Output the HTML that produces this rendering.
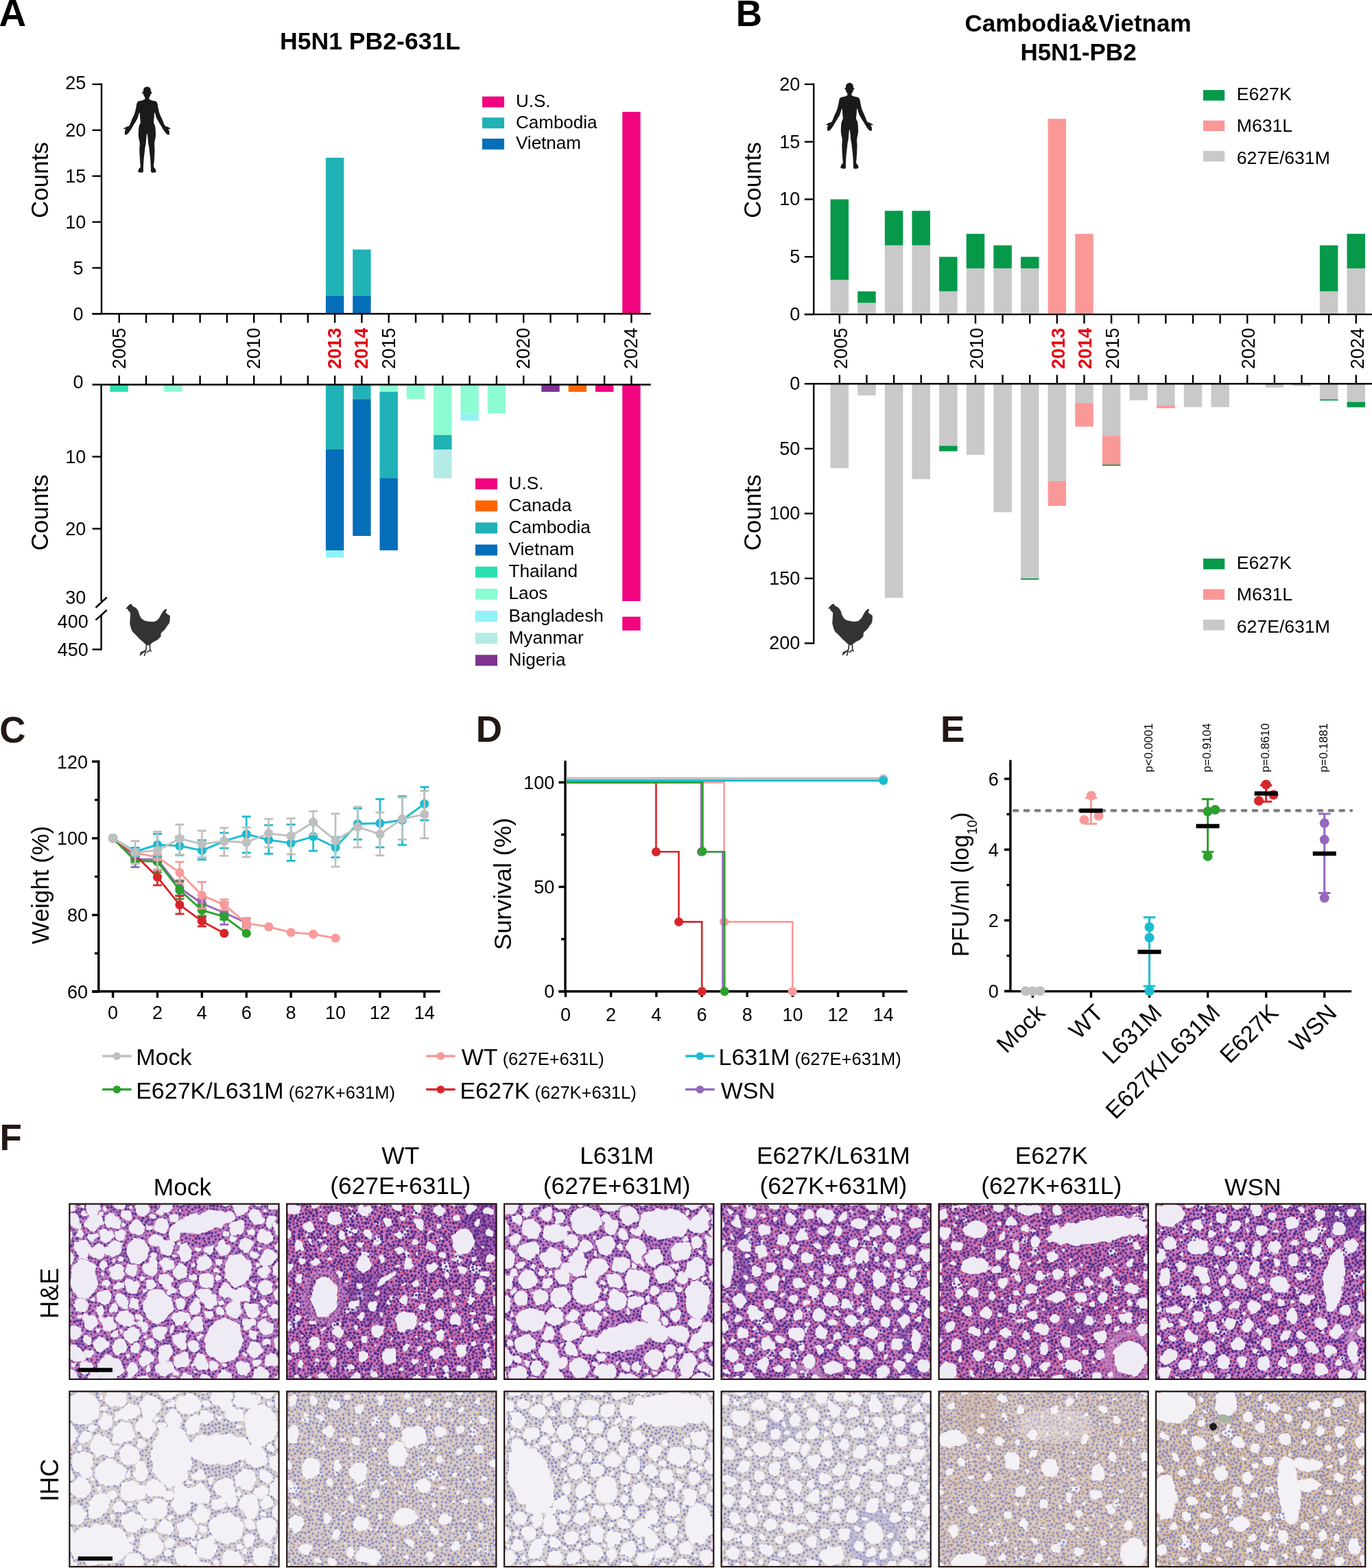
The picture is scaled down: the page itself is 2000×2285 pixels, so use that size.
<!DOCTYPE html>
<html><head><meta charset="utf-8"><title>H5N1 PB2 figure</title><style>html,body{margin:0;padding:0;background:#fff;}svg{display:block;}</style></head><body>
<svg width="2000" height="2285" viewBox="0 0 2000 2285" font-family='"Liberation Sans", Arial, Helvetica, sans-serif'><defs><filter id="ovblur" x="-10%" y="-10%" width="120%" height="120%"><feGaussianBlur stdDeviation="2.5"/></filter><filter id="tx00" x="0" y="0" width="1" height="1" color-interpolation-filters="sRGB"><feTurbulence type="turbulence" baseFrequency="0.05" numOctaves="1" seed="11" result="t"/><feTurbulence type="fractalNoise" baseFrequency="0.12" numOctaves="2" seed="18" result="dq"/><feDisplacementMap in="t" in2="dq" scale="10" xChannelSelector="R" yChannelSelector="G" result="t"/><feColorMatrix in="t" type="matrix" values="0 0 0 0 0 0 0 0 0 0 0 0 0 0 0 1 0 0 0 0" result="ta"/><feTurbulence type="fractalNoise" baseFrequency="0.01" numOctaves="2" seed="41" result="d"/><feColorMatrix in="d" type="matrix" values="0 0 0 0 0 0 0 0 0 0 0 0 0 0 0 1 0 0 0 0" result="da"/><feComposite in="ta" in2="da" operator="arithmetic" k1="0" k2="-20" k3="0" k4="12" result="m"/><feFlood flood-color="#C07EC2" result="tc"/><feComposite in="tc" in2="m" operator="in" result="tis"/><feTurbulence type="fractalNoise" baseFrequency="0.28" numOctaves="1" seed="111" result="n2"/><feColorMatrix in="n2" type="matrix" values="0 0 0 0 0 0 0 0 0 0 0 0 0 0 0 12 0 0 0 -6.48" result="a2"/><feFlood flood-color="#52308F" result="nc"/><feComposite in="nc" in2="a2" operator="in" result="nu0"/><feComposite in="nu0" in2="m" operator="in" result="nu"/><feColorMatrix in="n2" type="matrix" values="0 0 0 0 0 0 0 0 0 0 0 0 0 0 0 0 -12 0 0 4.8" result="a3"/><feFlood flood-color="#DC5A84" result="rc"/><feComposite in="rc" in2="a3" operator="in" result="rc0"/><feComposite in="rc0" in2="m" operator="in" result="rcm"/><feFlood flood-color="#EFEBF5" result="bg"/><feMerge><feMergeNode in="bg"/><feMergeNode in="tis"/><feMergeNode in="rcm"/></feMerge></filter><clipPath id="cl00"><rect x="100.3" y="1753.4" width="307.3" height="257.6"/></clipPath><pattern id="np00" width="64" height="64" patternUnits="userSpaceOnUse" x="100.3" y="1753.4"><circle cx="38.3" cy="22.1" r="1.4" fill="#52308F"/><circle cx="22.2" cy="52.7" r="1.8" fill="#52308F"/><circle cx="37.1" cy="10.3" r="1.8" fill="#52308F"/><circle cx="23.6" cy="8.9" r="1.6" fill="#52308F"/><circle cx="6.0" cy="55.6" r="1.9" fill="#52308F"/><circle cx="33.0" cy="49.4" r="2.0" fill="#52308F"/><circle cx="19.0" cy="56.7" r="1.9" fill="#52308F"/><circle cx="61.3" cy="17.6" r="1.7" fill="#52308F"/><circle cx="4.2" cy="51.5" r="2.0" fill="#52308F"/><circle cx="51.8" cy="24.1" r="2.2" fill="#52308F"/><circle cx="48.1" cy="52.1" r="1.4" fill="#52308F"/><circle cx="52.7" cy="61.1" r="2.1" fill="#52308F"/><circle cx="28.4" cy="39.6" r="1.6" fill="#52308F"/><circle cx="12.6" cy="57.1" r="2.0" fill="#52308F"/><circle cx="56.1" cy="15.2" r="1.8" fill="#52308F"/><circle cx="52.5" cy="9.0" r="1.9" fill="#52308F"/><circle cx="29.1" cy="15.3" r="2.1" fill="#52308F"/><circle cx="42.1" cy="25.7" r="2.1" fill="#52308F"/><circle cx="62.5" cy="5.7" r="2.3" fill="#52308F"/><circle cx="17.2" cy="27.6" r="1.6" fill="#52308F"/><circle cx="3.4" cy="36.2" r="1.5" fill="#52308F"/><circle cx="38.2" cy="59.9" r="2.1" fill="#52308F"/><circle cx="11.3" cy="12.4" r="2.2" fill="#52308F"/><circle cx="33.1" cy="63.6" r="1.7" fill="#52308F"/><circle cx="5.6" cy="31.6" r="1.9" fill="#52308F"/><circle cx="24.3" cy="63.5" r="2.0" fill="#52308F"/><circle cx="11.9" cy="0.3" r="1.5" fill="#52308F"/><circle cx="9.7" cy="7.8" r="1.5" fill="#52308F"/><circle cx="49.9" cy="19.8" r="1.7" fill="#52308F"/><circle cx="25.3" cy="28.6" r="1.7" fill="#52308F"/><circle cx="33.3" cy="36.7" r="1.7" fill="#52308F"/><circle cx="32.2" cy="9.9" r="1.6" fill="#52308F"/><circle cx="21.1" cy="21.7" r="1.7" fill="#52308F"/><circle cx="32.8" cy="44.3" r="1.9" fill="#52308F"/><circle cx="12.1" cy="51.4" r="2.2" fill="#52308F"/><circle cx="41.6" cy="36.3" r="1.7" fill="#52308F"/><circle cx="39.4" cy="16.9" r="1.7" fill="#52308F"/><circle cx="6.9" cy="38.9" r="1.6" fill="#52308F"/><circle cx="26.8" cy="35.3" r="1.6" fill="#52308F"/><circle cx="12.4" cy="43.1" r="2.2" fill="#52308F"/><circle cx="21.5" cy="48.2" r="1.5" fill="#52308F"/><circle cx="6.2" cy="12.9" r="1.5" fill="#52308F"/><circle cx="8.3" cy="44.8" r="2.2" fill="#52308F"/><circle cx="47.3" cy="12.6" r="1.9" fill="#52308F"/><circle cx="60.5" cy="43.2" r="1.9" fill="#52308F"/><circle cx="5.7" cy="21.7" r="1.6" fill="#52308F"/><circle cx="63.3" cy="58.9" r="2.0" fill="#52308F"/><circle cx="53.1" cy="31.6" r="1.5" fill="#52308F"/><circle cx="62.8" cy="51.2" r="2.2" fill="#52308F"/><circle cx="14.4" cy="38.5" r="1.6" fill="#52308F"/><circle cx="44.0" cy="21.7" r="2.2" fill="#52308F"/><circle cx="30.3" cy="25.7" r="1.6" fill="#52308F"/><circle cx="19.1" cy="3.6" r="2.3" fill="#52308F"/><circle cx="0.0" cy="40.1" r="1.5" fill="#52308F"/><circle cx="48.4" cy="1.8" r="1.9" fill="#52308F"/><circle cx="34.8" cy="28.9" r="1.8" fill="#52308F"/><circle cx="61.7" cy="1.3" r="2.0" fill="#52308F"/><circle cx="12.7" cy="27.9" r="1.8" fill="#52308F"/><circle cx="46.1" cy="36.8" r="1.6" fill="#52308F"/><circle cx="17.0" cy="19.3" r="2.3" fill="#52308F"/><circle cx="26.0" cy="46.5" r="2.1" fill="#52308F"/><circle cx="50.4" cy="40.3" r="1.8" fill="#52308F"/><circle cx="57.4" cy="57.4" r="2.1" fill="#52308F"/><circle cx="45.4" cy="42.6" r="1.5" fill="#52308F"/><circle cx="57.2" cy="30.0" r="1.8" fill="#52308F"/><circle cx="14.4" cy="8.7" r="1.4" fill="#52308F"/><circle cx="3.7" cy="62.2" r="2.1" fill="#52308F"/><circle cx="45.9" cy="17.2" r="2.1" fill="#52308F"/><circle cx="46.5" cy="31.8" r="2.1" fill="#52308F"/><circle cx="28.5" cy="53.4" r="2.1" fill="#52308F"/><circle cx="30.3" cy="4.8" r="1.7" fill="#52308F"/><circle cx="46.0" cy="5.6" r="1.9" fill="#52308F"/><circle cx="20.8" cy="13.9" r="1.9" fill="#52308F"/><circle cx="61.6" cy="22.9" r="1.9" fill="#52308F"/><circle cx="56.4" cy="39.7" r="1.9" fill="#52308F"/><circle cx="54.2" cy="47.2" r="1.4" fill="#52308F"/><circle cx="2.0" cy="9.5" r="1.9" fill="#52308F"/><circle cx="42.1" cy="56.9" r="1.6" fill="#52308F"/><circle cx="16.5" cy="61.1" r="2.2" fill="#52308F"/><circle cx="37.0" cy="47.3" r="1.7" fill="#52308F"/><circle cx="16.9" cy="43.3" r="2.0" fill="#52308F"/><circle cx="61.7" cy="11.4" r="1.5" fill="#52308F"/><circle cx="43.0" cy="1.2" r="1.7" fill="#52308F"/><circle cx="17.3" cy="34.7" r="1.9" fill="#52308F"/><circle cx="43.4" cy="9.3" r="1.5" fill="#52308F"/><circle cx="1.0" cy="26.0" r="2.0" fill="#52308F"/><circle cx="46.6" cy="58.3" r="1.9" fill="#52308F"/><circle cx="22.2" cy="42.5" r="1.5" fill="#52308F"/><circle cx="61.7" cy="36.1" r="1.5" fill="#52308F"/><circle cx="39.2" cy="40.3" r="1.9" fill="#52308F"/><circle cx="5.3" cy="5.6" r="1.4" fill="#52308F"/><circle cx="2.5" cy="44.3" r="1.7" fill="#52308F"/><circle cx="11.7" cy="21.6" r="1.5" fill="#52308F"/><circle cx="27.4" cy="58.2" r="2.2" fill="#52308F"/><circle cx="25.7" cy="22.6" r="1.7" fill="#52308F"/><circle cx="36.7" cy="53.8" r="1.7" fill="#52308F"/><circle cx="39.2" cy="3.7" r="1.9" fill="#52308F"/><circle cx="24.6" cy="4.3" r="1.9" fill="#52308F"/><circle cx="43.1" cy="51.0" r="2.1" fill="#52308F"/><circle cx="40.2" cy="31.4" r="1.4" fill="#52308F"/><circle cx="31.3" cy="21.3" r="1.8" fill="#52308F"/><circle cx="8.8" cy="25.6" r="2.2" fill="#52308F"/><circle cx="53.1" cy="54.4" r="1.7" fill="#52308F"/><circle cx="32.0" cy="58.3" r="1.6" fill="#52308F"/><circle cx="56.7" cy="20.7" r="1.6" fill="#52308F"/><circle cx="7.9" cy="60.3" r="1.8" fill="#52308F"/><circle cx="1.2" cy="14.6" r="1.4" fill="#52308F"/><circle cx="33.9" cy="15.7" r="2.2" fill="#52308F"/><circle cx="51.4" cy="15.3" r="1.5" fill="#52308F"/><circle cx="57.6" cy="51.4" r="2.1" fill="#52308F"/><circle cx="49.0" cy="46.8" r="1.4" fill="#52308F"/><circle cx="21.9" cy="36.6" r="1.6" fill="#52308F"/><circle cx="1.5" cy="19.7" r="2.2" fill="#52308F"/><circle cx="16.5" cy="48.0" r="2.0" fill="#52308F"/><circle cx="11.0" cy="32.7" r="1.6" fill="#52308F"/><circle cx="13.5" cy="16.5" r="1.7" fill="#52308F"/><circle cx="55.6" cy="1.9" r="1.5" fill="#52308F"/><circle cx="53.6" cy="36.3" r="2.0" fill="#52308F"/><circle cx="1.1" cy="31.0" r="1.7" fill="#52308F"/><circle cx="48.7" cy="27.4" r="2.1" fill="#52308F"/><circle cx="18.9" cy="8.9" r="2.2" fill="#52308F"/><circle cx="56.7" cy="6.3" r="2.1" fill="#52308F"/><circle cx="60.1" cy="47.6" r="1.9" fill="#52308F"/><circle cx="41.0" cy="44.9" r="1.8" fill="#52308F"/><circle cx="20.7" cy="31.8" r="2.2" fill="#52308F"/><circle cx="30.3" cy="32.2" r="2.2" fill="#52308F"/><circle cx="8.6" cy="17.2" r="1.9" fill="#52308F"/><circle cx="35.2" cy="5.5" r="2.3" fill="#52308F"/><circle cx="24.2" cy="18.3" r="2.1" fill="#52308F"/><circle cx="57.8" cy="25.1" r="2.1" fill="#52308F"/><circle cx="16.0" cy="12.9" r="1.9" fill="#52308F"/><circle cx="14.6" cy="3.9" r="1.8" fill="#52308F"/></pattern><filter id="hf00" x="-5%" y="-5%" width="110%" height="110%"><feTurbulence type="fractalNoise" baseFrequency="0.08" numOctaves="2" seed="70" result="hn"/><feDisplacementMap in="SourceGraphic" in2="hn" scale="10" xChannelSelector="R" yChannelSelector="G"/></filter><filter id="tx01" x="0" y="0" width="1" height="1" color-interpolation-filters="sRGB"><feTurbulence type="turbulence" baseFrequency="0.05" numOctaves="1" seed="12" result="t"/><feTurbulence type="fractalNoise" baseFrequency="0.12" numOctaves="2" seed="19" result="dq"/><feDisplacementMap in="t" in2="dq" scale="10" xChannelSelector="R" yChannelSelector="G" result="t"/><feColorMatrix in="t" type="matrix" values="0 0 0 0 0 0 0 0 0 0 0 0 0 0 0 1 0 0 0 0" result="ta"/><feTurbulence type="fractalNoise" baseFrequency="0.01" numOctaves="2" seed="42" result="d"/><feColorMatrix in="d" type="matrix" values="0 0 0 0 0 0 0 0 0 0 0 0 0 0 0 1 0 0 0 0" result="da"/><feComposite in="ta" in2="da" operator="arithmetic" k1="0" k2="-20" k3="4" k4="7.2" result="m"/><feFlood flood-color="#C27CC0" result="tc"/><feComposite in="tc" in2="m" operator="in" result="tis"/><feTurbulence type="fractalNoise" baseFrequency="0.28" numOctaves="1" seed="112" result="n2"/><feColorMatrix in="n2" type="matrix" values="0 0 0 0 0 0 0 0 0 0 0 0 0 0 0 12 0 0 0 -6.18" result="a2"/><feFlood flood-color="#52308F" result="nc"/><feComposite in="nc" in2="a2" operator="in" result="nu0"/><feComposite in="nu0" in2="m" operator="in" result="nu"/><feColorMatrix in="n2" type="matrix" values="0 0 0 0 0 0 0 0 0 0 0 0 0 0 0 0 -12 0 0 5.64" result="a3"/><feFlood flood-color="#DC5A84" result="rc"/><feComposite in="rc" in2="a3" operator="in" result="rc0"/><feComposite in="rc0" in2="m" operator="in" result="rcm"/><feFlood flood-color="#EFEBF5" result="bg"/><feMerge><feMergeNode in="bg"/><feMergeNode in="tis"/><feMergeNode in="rcm"/></feMerge></filter><clipPath id="cl01"><rect x="417.1" y="1753.4" width="307.3" height="257.6"/></clipPath><pattern id="np01" width="64" height="64" patternUnits="userSpaceOnUse" x="417.1" y="1753.4"><circle cx="25.5" cy="51.2" r="1.9" fill="#4C2A88"/><circle cx="29.4" cy="15.1" r="2.1" fill="#4C2A88"/><circle cx="16.3" cy="62.2" r="1.7" fill="#4C2A88"/><circle cx="61.6" cy="6.1" r="1.9" fill="#4C2A88"/><circle cx="35.4" cy="60.8" r="2.3" fill="#4C2A88"/><circle cx="19.8" cy="40.5" r="2.3" fill="#4C2A88"/><circle cx="11.2" cy="52.3" r="2.2" fill="#4C2A88"/><circle cx="61.7" cy="14.1" r="2.2" fill="#4C2A88"/><circle cx="29.3" cy="61.2" r="2.2" fill="#4C2A88"/><circle cx="1.1" cy="60.3" r="2.2" fill="#4C2A88"/><circle cx="10.4" cy="60.2" r="2.0" fill="#4C2A88"/><circle cx="1.5" cy="51.9" r="1.8" fill="#4C2A88"/><circle cx="4.6" cy="10.6" r="1.6" fill="#4C2A88"/><circle cx="58.8" cy="24.6" r="1.6" fill="#4C2A88"/><circle cx="0.2" cy="45.2" r="1.6" fill="#4C2A88"/><circle cx="36.4" cy="36.6" r="1.8" fill="#4C2A88"/><circle cx="57.8" cy="19.8" r="1.6" fill="#4C2A88"/><circle cx="37.0" cy="55.4" r="2.4" fill="#4C2A88"/><circle cx="24.3" cy="15.3" r="1.9" fill="#4C2A88"/><circle cx="6.9" cy="38.3" r="1.7" fill="#4C2A88"/><circle cx="19.0" cy="50.4" r="2.3" fill="#4C2A88"/><circle cx="39.7" cy="18.1" r="2.4" fill="#4C2A88"/><circle cx="20.7" cy="10.3" r="1.8" fill="#4C2A88"/><circle cx="8.2" cy="44.6" r="1.7" fill="#4C2A88"/><circle cx="55.3" cy="41.6" r="2.3" fill="#4C2A88"/><circle cx="42.8" cy="3.8" r="2.2" fill="#4C2A88"/><circle cx="1.8" cy="26.5" r="2.3" fill="#4C2A88"/><circle cx="32.7" cy="49.5" r="1.9" fill="#4C2A88"/><circle cx="30.7" cy="22.6" r="2.2" fill="#4C2A88"/><circle cx="32.9" cy="26.5" r="2.4" fill="#4C2A88"/><circle cx="39.0" cy="32.3" r="1.5" fill="#4C2A88"/><circle cx="15.0" cy="18.7" r="2.1" fill="#4C2A88"/><circle cx="20.2" cy="21.5" r="1.6" fill="#4C2A88"/><circle cx="1.8" cy="16.0" r="1.7" fill="#4C2A88"/><circle cx="17.2" cy="55.1" r="1.6" fill="#4C2A88"/><circle cx="61.1" cy="30.7" r="1.9" fill="#4C2A88"/><circle cx="10.5" cy="30.6" r="1.7" fill="#4C2A88"/><circle cx="44.8" cy="14.5" r="2.3" fill="#4C2A88"/><circle cx="43.1" cy="34.5" r="2.0" fill="#4C2A88"/><circle cx="9.3" cy="7.1" r="1.9" fill="#4C2A88"/><circle cx="50.5" cy="19.5" r="1.8" fill="#4C2A88"/><circle cx="11.5" cy="41.9" r="2.3" fill="#4C2A88"/><circle cx="20.7" cy="59.4" r="2.2" fill="#4C2A88"/><circle cx="53.6" cy="35.5" r="2.0" fill="#4C2A88"/><circle cx="11.0" cy="13.3" r="2.1" fill="#4C2A88"/><circle cx="53.5" cy="23.3" r="2.2" fill="#4C2A88"/><circle cx="32.8" cy="11.3" r="1.6" fill="#4C2A88"/><circle cx="51.9" cy="29.1" r="2.4" fill="#4C2A88"/><circle cx="56.5" cy="49.9" r="2.4" fill="#4C2A88"/><circle cx="24.1" cy="4.0" r="1.6" fill="#4C2A88"/><circle cx="52.3" cy="50.9" r="2.2" fill="#4C2A88"/><circle cx="25.8" cy="34.2" r="1.7" fill="#4C2A88"/><circle cx="10.9" cy="48.1" r="2.3" fill="#4C2A88"/><circle cx="60.5" cy="42.0" r="2.1" fill="#4C2A88"/><circle cx="24.3" cy="39.9" r="2.0" fill="#4C2A88"/><circle cx="32.0" cy="38.5" r="1.6" fill="#4C2A88"/><circle cx="18.7" cy="46.1" r="2.0" fill="#4C2A88"/><circle cx="5.7" cy="28.3" r="2.1" fill="#4C2A88"/><circle cx="55.8" cy="13.5" r="1.6" fill="#4C2A88"/><circle cx="37.6" cy="45.6" r="2.4" fill="#4C2A88"/><circle cx="0.7" cy="37.3" r="2.2" fill="#4C2A88"/><circle cx="55.8" cy="56.6" r="1.9" fill="#4C2A88"/><circle cx="54.4" cy="63.8" r="1.9" fill="#4C2A88"/><circle cx="42.6" cy="53.2" r="1.9" fill="#4C2A88"/><circle cx="27.8" cy="56.4" r="1.6" fill="#4C2A88"/><circle cx="39.2" cy="23.0" r="1.8" fill="#4C2A88"/><circle cx="27.1" cy="26.3" r="1.9" fill="#4C2A88"/><circle cx="48.9" cy="40.6" r="2.1" fill="#4C2A88"/><circle cx="16.8" cy="33.2" r="2.0" fill="#4C2A88"/><circle cx="46.8" cy="49.6" r="2.1" fill="#4C2A88"/><circle cx="6.0" cy="55.6" r="1.7" fill="#4C2A88"/><circle cx="59.4" cy="34.8" r="1.9" fill="#4C2A88"/><circle cx="12.8" cy="22.3" r="2.2" fill="#4C2A88"/><circle cx="29.0" cy="42.1" r="1.9" fill="#4C2A88"/><circle cx="15.5" cy="29.2" r="1.7" fill="#4C2A88"/><circle cx="47.2" cy="28.2" r="1.6" fill="#4C2A88"/><circle cx="38.8" cy="10.2" r="1.5" fill="#4C2A88"/><circle cx="56.2" cy="6.4" r="2.1" fill="#4C2A88"/><circle cx="47.9" cy="34.1" r="1.5" fill="#4C2A88"/><circle cx="40.9" cy="49.4" r="2.0" fill="#4C2A88"/><circle cx="5.0" cy="33.6" r="2.0" fill="#4C2A88"/><circle cx="33.4" cy="42.8" r="2.1" fill="#4C2A88"/><circle cx="50.1" cy="0.8" r="1.6" fill="#4C2A88"/><circle cx="2.2" cy="5.6" r="2.2" fill="#4C2A88"/><circle cx="10.9" cy="2.6" r="1.6" fill="#4C2A88"/><circle cx="6.6" cy="0.8" r="1.5" fill="#4C2A88"/><circle cx="15.9" cy="2.7" r="2.1" fill="#4C2A88"/><circle cx="44.4" cy="18.8" r="1.5" fill="#4C2A88"/><circle cx="50.3" cy="12.3" r="1.5" fill="#4C2A88"/><circle cx="23.8" cy="62.8" r="2.3" fill="#4C2A88"/><circle cx="30.9" cy="5.1" r="2.2" fill="#4C2A88"/><circle cx="6.3" cy="22.8" r="2.3" fill="#4C2A88"/><circle cx="40.6" cy="41.6" r="1.9" fill="#4C2A88"/><circle cx="21.6" cy="26.9" r="1.7" fill="#4C2A88"/><circle cx="46.7" cy="56.3" r="1.7" fill="#4C2A88"/><circle cx="49.9" cy="45.4" r="2.0" fill="#4C2A88"/><circle cx="21.7" cy="31.6" r="1.6" fill="#4C2A88"/><circle cx="25.3" cy="20.4" r="1.9" fill="#4C2A88"/><circle cx="48.1" cy="60.9" r="2.3" fill="#4C2A88"/><circle cx="36.0" cy="3.9" r="2.1" fill="#4C2A88"/><circle cx="19.6" cy="4.9" r="1.6" fill="#4C2A88"/><circle cx="28.7" cy="9.5" r="1.9" fill="#4C2A88"/><circle cx="41.3" cy="28.2" r="1.8" fill="#4C2A88"/><circle cx="12.3" cy="35.4" r="1.8" fill="#4C2A88"/><circle cx="15.7" cy="8.3" r="1.9" fill="#4C2A88"/><circle cx="63.9" cy="22.1" r="1.7" fill="#4C2A88"/><circle cx="45.3" cy="45.4" r="1.7" fill="#4C2A88"/><circle cx="45.7" cy="23.8" r="1.6" fill="#4C2A88"/><circle cx="58.5" cy="46.0" r="2.1" fill="#4C2A88"/><circle cx="8.0" cy="18.6" r="2.2" fill="#4C2A88"/><circle cx="34.0" cy="32.6" r="2.4" fill="#4C2A88"/><circle cx="43.7" cy="10.2" r="2.2" fill="#4C2A88"/><circle cx="58.9" cy="0.9" r="1.9" fill="#4C2A88"/><circle cx="4.5" cy="42.1" r="1.6" fill="#4C2A88"/><circle cx="61.4" cy="54.8" r="2.4" fill="#4C2A88"/><circle cx="20.0" cy="16.4" r="1.8" fill="#4C2A88"/><circle cx="49.9" cy="5.4" r="1.5" fill="#4C2A88"/><circle cx="40.2" cy="63.0" r="2.3" fill="#4C2A88"/><circle cx="23.0" cy="45.2" r="2.1" fill="#4C2A88"/><circle cx="58.9" cy="10.6" r="1.6" fill="#4C2A88"/><circle cx="17.2" cy="24.8" r="2.2" fill="#4C2A88"/><circle cx="6.6" cy="49.5" r="1.6" fill="#4C2A88"/><circle cx="0.4" cy="9.4" r="1.8" fill="#4C2A88"/><circle cx="31.9" cy="55.4" r="1.7" fill="#4C2A88"/><circle cx="51.4" cy="57.8" r="1.5" fill="#4C2A88"/><circle cx="59.4" cy="60.2" r="2.0" fill="#4C2A88"/><circle cx="29.8" cy="31.7" r="2.1" fill="#4C2A88"/><circle cx="1.3" cy="0.7" r="1.8" fill="#4C2A88"/><circle cx="6.0" cy="60.2" r="1.8" fill="#4C2A88"/><circle cx="33.4" cy="19.2" r="1.7" fill="#4C2A88"/><circle cx="56.1" cy="28.5" r="1.8" fill="#4C2A88"/><circle cx="21.5" cy="36.5" r="1.6" fill="#4C2A88"/><circle cx="12.9" cy="56.5" r="2.0" fill="#4C2A88"/><circle cx="16.7" cy="13.5" r="2.1" fill="#4C2A88"/><circle cx="45.0" cy="38.4" r="1.5" fill="#4C2A88"/><circle cx="10.5" cy="26.1" r="1.6" fill="#4C2A88"/><circle cx="27.3" cy="1.2" r="2.0" fill="#4C2A88"/><circle cx="33.0" cy="0.8" r="1.6" fill="#4C2A88"/><circle cx="36.8" cy="50.4" r="1.9" fill="#4C2A88"/><circle cx="36.0" cy="14.2" r="2.4" fill="#4C2A88"/></pattern><filter id="hf01" x="-5%" y="-5%" width="110%" height="110%"><feTurbulence type="fractalNoise" baseFrequency="0.08" numOctaves="2" seed="71" result="hn"/><feDisplacementMap in="SourceGraphic" in2="hn" scale="10" xChannelSelector="R" yChannelSelector="G"/></filter><filter id="tx02" x="0" y="0" width="1" height="1" color-interpolation-filters="sRGB"><feTurbulence type="turbulence" baseFrequency="0.05" numOctaves="1" seed="13" result="t"/><feTurbulence type="fractalNoise" baseFrequency="0.12" numOctaves="2" seed="20" result="dq"/><feDisplacementMap in="t" in2="dq" scale="10" xChannelSelector="R" yChannelSelector="G" result="t"/><feColorMatrix in="t" type="matrix" values="0 0 0 0 0 0 0 0 0 0 0 0 0 0 0 1 0 0 0 0" result="ta"/><feTurbulence type="fractalNoise" baseFrequency="0.01" numOctaves="2" seed="43" result="d"/><feColorMatrix in="d" type="matrix" values="0 0 0 0 0 0 0 0 0 0 0 0 0 0 0 1 0 0 0 0" result="da"/><feComposite in="ta" in2="da" operator="arithmetic" k1="0" k2="-20" k3="0" k4="12" result="m"/><feFlood flood-color="#C07EC2" result="tc"/><feComposite in="tc" in2="m" operator="in" result="tis"/><feTurbulence type="fractalNoise" baseFrequency="0.28" numOctaves="1" seed="113" result="n2"/><feColorMatrix in="n2" type="matrix" values="0 0 0 0 0 0 0 0 0 0 0 0 0 0 0 12 0 0 0 -6.48" result="a2"/><feFlood flood-color="#52308F" result="nc"/><feComposite in="nc" in2="a2" operator="in" result="nu0"/><feComposite in="nu0" in2="m" operator="in" result="nu"/><feColorMatrix in="n2" type="matrix" values="0 0 0 0 0 0 0 0 0 0 0 0 0 0 0 0 -12 0 0 4.8" result="a3"/><feFlood flood-color="#DC5A84" result="rc"/><feComposite in="rc" in2="a3" operator="in" result="rc0"/><feComposite in="rc0" in2="m" operator="in" result="rcm"/><feFlood flood-color="#EFEBF5" result="bg"/><feMerge><feMergeNode in="bg"/><feMergeNode in="tis"/><feMergeNode in="rcm"/></feMerge></filter><clipPath id="cl02"><rect x="734" y="1753.4" width="307.3" height="257.6"/></clipPath><pattern id="np02" width="64" height="64" patternUnits="userSpaceOnUse" x="734" y="1753.4"><circle cx="61.8" cy="34.5" r="1.9" fill="#52308F"/><circle cx="30.4" cy="12.1" r="1.4" fill="#52308F"/><circle cx="25.5" cy="32.2" r="2.1" fill="#52308F"/><circle cx="21.7" cy="62.1" r="1.5" fill="#52308F"/><circle cx="42.1" cy="1.8" r="1.6" fill="#52308F"/><circle cx="8.2" cy="62.6" r="2.0" fill="#52308F"/><circle cx="35.5" cy="55.2" r="2.3" fill="#52308F"/><circle cx="24.1" cy="55.2" r="1.7" fill="#52308F"/><circle cx="45.1" cy="53.0" r="1.7" fill="#52308F"/><circle cx="42.0" cy="46.7" r="1.5" fill="#52308F"/><circle cx="48.8" cy="12.5" r="1.7" fill="#52308F"/><circle cx="15.4" cy="18.2" r="2.2" fill="#52308F"/><circle cx="8.8" cy="15.9" r="1.4" fill="#52308F"/><circle cx="30.3" cy="60.8" r="1.9" fill="#52308F"/><circle cx="3.8" cy="14.3" r="2.3" fill="#52308F"/><circle cx="44.6" cy="59.5" r="2.1" fill="#52308F"/><circle cx="16.7" cy="12.2" r="2.0" fill="#52308F"/><circle cx="9.1" cy="31.0" r="1.9" fill="#52308F"/><circle cx="16.2" cy="62.2" r="1.5" fill="#52308F"/><circle cx="59.2" cy="2.6" r="2.3" fill="#52308F"/><circle cx="26.3" cy="9.7" r="2.0" fill="#52308F"/><circle cx="45.3" cy="25.4" r="1.8" fill="#52308F"/><circle cx="42.7" cy="17.5" r="1.7" fill="#52308F"/><circle cx="53.4" cy="28.5" r="2.1" fill="#52308F"/><circle cx="34.9" cy="15.3" r="1.7" fill="#52308F"/><circle cx="35.7" cy="30.2" r="2.0" fill="#52308F"/><circle cx="15.6" cy="55.5" r="2.2" fill="#52308F"/><circle cx="30.5" cy="17.4" r="1.5" fill="#52308F"/><circle cx="39.6" cy="41.9" r="2.3" fill="#52308F"/><circle cx="51.6" cy="35.0" r="2.3" fill="#52308F"/><circle cx="0.9" cy="59.9" r="1.9" fill="#52308F"/><circle cx="29.9" cy="39.4" r="1.7" fill="#52308F"/><circle cx="31.2" cy="48.0" r="1.7" fill="#52308F"/><circle cx="45.0" cy="37.5" r="2.2" fill="#52308F"/><circle cx="54.0" cy="56.0" r="2.1" fill="#52308F"/><circle cx="46.9" cy="30.8" r="1.7" fill="#52308F"/><circle cx="10.9" cy="25.2" r="1.9" fill="#52308F"/><circle cx="57.6" cy="15.3" r="2.2" fill="#52308F"/><circle cx="49.9" cy="22.5" r="2.0" fill="#52308F"/><circle cx="24.5" cy="25.1" r="1.7" fill="#52308F"/><circle cx="29.0" cy="53.4" r="2.1" fill="#52308F"/><circle cx="18.1" cy="42.2" r="1.9" fill="#52308F"/><circle cx="16.4" cy="5.1" r="2.0" fill="#52308F"/><circle cx="40.7" cy="23.4" r="2.2" fill="#52308F"/><circle cx="6.0" cy="42.4" r="1.9" fill="#52308F"/><circle cx="56.5" cy="34.3" r="2.0" fill="#52308F"/><circle cx="9.0" cy="8.3" r="2.0" fill="#52308F"/><circle cx="26.9" cy="20.4" r="1.8" fill="#52308F"/><circle cx="54.5" cy="38.7" r="1.8" fill="#52308F"/><circle cx="37.4" cy="36.9" r="1.4" fill="#52308F"/><circle cx="51.8" cy="44.3" r="2.3" fill="#52308F"/><circle cx="55.7" cy="11.0" r="1.8" fill="#52308F"/><circle cx="4.5" cy="22.1" r="2.0" fill="#52308F"/><circle cx="21.3" cy="11.9" r="1.8" fill="#52308F"/><circle cx="60.4" cy="39.9" r="1.8" fill="#52308F"/><circle cx="38.0" cy="6.3" r="1.7" fill="#52308F"/><circle cx="41.9" cy="11.7" r="2.2" fill="#52308F"/><circle cx="63.0" cy="7.4" r="2.2" fill="#52308F"/><circle cx="9.5" cy="52.4" r="1.8" fill="#52308F"/><circle cx="6.5" cy="36.4" r="2.2" fill="#52308F"/><circle cx="1.0" cy="25.7" r="1.6" fill="#52308F"/><circle cx="40.2" cy="29.7" r="1.6" fill="#52308F"/><circle cx="62.9" cy="18.2" r="1.7" fill="#52308F"/><circle cx="12.5" cy="2.9" r="1.5" fill="#52308F"/><circle cx="39.9" cy="53.6" r="2.3" fill="#52308F"/><circle cx="62.7" cy="46.0" r="2.0" fill="#52308F"/><circle cx="20.5" cy="34.0" r="1.5" fill="#52308F"/><circle cx="14.2" cy="39.9" r="2.2" fill="#52308F"/><circle cx="57.7" cy="60.9" r="1.8" fill="#52308F"/><circle cx="19.6" cy="53.0" r="2.2" fill="#52308F"/><circle cx="32.5" cy="6.2" r="2.1" fill="#52308F"/><circle cx="44.6" cy="6.2" r="2.2" fill="#52308F"/><circle cx="35.5" cy="25.5" r="1.8" fill="#52308F"/><circle cx="47.8" cy="1.0" r="1.5" fill="#52308F"/><circle cx="52.2" cy="7.4" r="1.9" fill="#52308F"/><circle cx="38.4" cy="58.6" r="1.9" fill="#52308F"/><circle cx="54.5" cy="20.1" r="1.4" fill="#52308F"/><circle cx="12.9" cy="34.2" r="1.4" fill="#52308F"/><circle cx="62.7" cy="56.0" r="1.6" fill="#52308F"/><circle cx="20.4" cy="29.2" r="1.7" fill="#52308F"/><circle cx="29.7" cy="2.3" r="1.6" fill="#52308F"/><circle cx="11.1" cy="58.7" r="2.0" fill="#52308F"/><circle cx="5.3" cy="56.4" r="1.6" fill="#52308F"/><circle cx="52.9" cy="2.3" r="1.8" fill="#52308F"/><circle cx="23.3" cy="38.9" r="1.5" fill="#52308F"/><circle cx="9.4" cy="47.0" r="2.1" fill="#52308F"/><circle cx="59.0" cy="22.1" r="1.6" fill="#52308F"/><circle cx="31.7" cy="23.0" r="1.5" fill="#52308F"/><circle cx="31.1" cy="34.0" r="2.1" fill="#52308F"/><circle cx="15.2" cy="46.8" r="1.4" fill="#52308F"/><circle cx="48.6" cy="50.1" r="1.5" fill="#52308F"/><circle cx="37.6" cy="49.6" r="1.8" fill="#52308F"/><circle cx="58.8" cy="51.6" r="2.0" fill="#52308F"/><circle cx="63.1" cy="12.9" r="1.5" fill="#52308F"/><circle cx="24.0" cy="2.0" r="2.1" fill="#52308F"/><circle cx="1.8" cy="50.9" r="2.0" fill="#52308F"/><circle cx="18.3" cy="24.2" r="1.7" fill="#52308F"/><circle cx="1.7" cy="38.1" r="2.0" fill="#52308F"/><circle cx="35.9" cy="2.0" r="1.8" fill="#52308F"/><circle cx="22.5" cy="19.2" r="1.4" fill="#52308F"/><circle cx="22.0" cy="49.1" r="1.9" fill="#52308F"/><circle cx="50.0" cy="60.6" r="1.7" fill="#52308F"/><circle cx="3.0" cy="33.8" r="1.8" fill="#52308F"/><circle cx="62.5" cy="29.4" r="2.1" fill="#52308F"/><circle cx="24.3" cy="45.0" r="2.2" fill="#52308F"/><circle cx="2.4" cy="3.5" r="1.5" fill="#52308F"/><circle cx="20.3" cy="57.7" r="1.6" fill="#52308F"/><circle cx="22.9" cy="6.5" r="1.5" fill="#52308F"/><circle cx="46.8" cy="44.6" r="2.0" fill="#52308F"/><circle cx="32.1" cy="43.6" r="1.8" fill="#52308F"/><circle cx="41.8" cy="34.0" r="2.3" fill="#52308F"/><circle cx="36.7" cy="11.2" r="2.1" fill="#52308F"/><circle cx="15.3" cy="28.6" r="1.9" fill="#52308F"/><circle cx="54.8" cy="48.2" r="2.0" fill="#52308F"/><circle cx="3.1" cy="9.2" r="2.0" fill="#52308F"/><circle cx="49.2" cy="40.4" r="1.6" fill="#52308F"/><circle cx="48.1" cy="17.1" r="1.6" fill="#52308F"/><circle cx="31.8" cy="28.2" r="2.0" fill="#52308F"/><circle cx="14.5" cy="51.2" r="2.0" fill="#52308F"/><circle cx="49.6" cy="54.6" r="1.9" fill="#52308F"/><circle cx="4.1" cy="29.3" r="2.0" fill="#52308F"/><circle cx="34.9" cy="61.5" r="1.8" fill="#52308F"/><circle cx="9.4" cy="20.5" r="1.9" fill="#52308F"/><circle cx="7.8" cy="4.1" r="1.7" fill="#52308F"/><circle cx="4.3" cy="47.1" r="1.8" fill="#52308F"/><circle cx="36.9" cy="20.1" r="2.1" fill="#52308F"/><circle cx="13.7" cy="8.7" r="2.1" fill="#52308F"/><circle cx="56.6" cy="43.3" r="1.8" fill="#52308F"/><circle cx="58.4" cy="7.2" r="2.2" fill="#52308F"/><circle cx="57.9" cy="27.2" r="1.6" fill="#52308F"/><circle cx="53.0" cy="15.4" r="2.0" fill="#52308F"/><circle cx="25.2" cy="14.9" r="2.2" fill="#52308F"/><circle cx="25.9" cy="60.1" r="1.5" fill="#52308F"/><circle cx="63.1" cy="0.4" r="2.2" fill="#52308F"/></pattern><filter id="hf02" x="-5%" y="-5%" width="110%" height="110%"><feTurbulence type="fractalNoise" baseFrequency="0.08" numOctaves="2" seed="72" result="hn"/><feDisplacementMap in="SourceGraphic" in2="hn" scale="10" xChannelSelector="R" yChannelSelector="G"/></filter><filter id="tx03" x="0" y="0" width="1" height="1" color-interpolation-filters="sRGB"><feTurbulence type="turbulence" baseFrequency="0.06" numOctaves="1" seed="14" result="t"/><feTurbulence type="fractalNoise" baseFrequency="0.15" numOctaves="2" seed="21" result="dq"/><feDisplacementMap in="t" in2="dq" scale="10" xChannelSelector="R" yChannelSelector="G" result="t"/><feColorMatrix in="t" type="matrix" values="0 0 0 0 0 0 0 0 0 0 0 0 0 0 0 1 0 0 0 0" result="ta"/><feTurbulence type="fractalNoise" baseFrequency="0.01" numOctaves="2" seed="44" result="d"/><feColorMatrix in="d" type="matrix" values="0 0 0 0 0 0 0 0 0 0 0 0 0 0 0 1 0 0 0 0" result="da"/><feComposite in="ta" in2="da" operator="arithmetic" k1="0" k2="-20" k3="4" k4="7" result="m"/><feFlood flood-color="#C280C4" result="tc"/><feComposite in="tc" in2="m" operator="in" result="tis"/><feTurbulence type="fractalNoise" baseFrequency="0.28" numOctaves="1" seed="114" result="n2"/><feColorMatrix in="n2" type="matrix" values="0 0 0 0 0 0 0 0 0 0 0 0 0 0 0 12 0 0 0 -6.18" result="a2"/><feFlood flood-color="#52308F" result="nc"/><feComposite in="nc" in2="a2" operator="in" result="nu0"/><feComposite in="nu0" in2="m" operator="in" result="nu"/><feColorMatrix in="n2" type="matrix" values="0 0 0 0 0 0 0 0 0 0 0 0 0 0 0 0 -12 0 0 5.52" result="a3"/><feFlood flood-color="#DC5A84" result="rc"/><feComposite in="rc" in2="a3" operator="in" result="rc0"/><feComposite in="rc0" in2="m" operator="in" result="rcm"/><feFlood flood-color="#EFEBF5" result="bg"/><feMerge><feMergeNode in="bg"/><feMergeNode in="tis"/><feMergeNode in="rcm"/></feMerge></filter><clipPath id="cl03"><rect x="1050.5" y="1753.4" width="307.3" height="257.6"/></clipPath><pattern id="np03" width="64" height="64" patternUnits="userSpaceOnUse" x="1050.5" y="1753.4"><circle cx="2.0" cy="62.0" r="1.7" fill="#4E2C8E"/><circle cx="16.6" cy="33.0" r="1.9" fill="#4E2C8E"/><circle cx="26.2" cy="50.5" r="2.2" fill="#4E2C8E"/><circle cx="43.9" cy="38.0" r="1.6" fill="#4E2C8E"/><circle cx="25.0" cy="31.5" r="2.3" fill="#4E2C8E"/><circle cx="52.6" cy="43.2" r="1.8" fill="#4E2C8E"/><circle cx="60.1" cy="14.7" r="1.8" fill="#4E2C8E"/><circle cx="10.0" cy="37.7" r="2.2" fill="#4E2C8E"/><circle cx="44.9" cy="52.9" r="2.1" fill="#4E2C8E"/><circle cx="41.8" cy="16.1" r="2.4" fill="#4E2C8E"/><circle cx="63.4" cy="46.9" r="2.4" fill="#4E2C8E"/><circle cx="56.5" cy="56.1" r="2.2" fill="#4E2C8E"/><circle cx="8.2" cy="53.6" r="1.8" fill="#4E2C8E"/><circle cx="41.2" cy="57.6" r="1.9" fill="#4E2C8E"/><circle cx="63.6" cy="58.1" r="2.2" fill="#4E2C8E"/><circle cx="31.0" cy="11.7" r="2.3" fill="#4E2C8E"/><circle cx="10.6" cy="45.9" r="1.6" fill="#4E2C8E"/><circle cx="27.6" cy="6.8" r="1.6" fill="#4E2C8E"/><circle cx="16.1" cy="41.8" r="1.5" fill="#4E2C8E"/><circle cx="4.0" cy="16.2" r="2.0" fill="#4E2C8E"/><circle cx="9.9" cy="11.8" r="2.0" fill="#4E2C8E"/><circle cx="4.5" cy="26.3" r="1.7" fill="#4E2C8E"/><circle cx="28.8" cy="22.4" r="1.9" fill="#4E2C8E"/><circle cx="42.1" cy="26.9" r="2.0" fill="#4E2C8E"/><circle cx="19.0" cy="25.4" r="1.6" fill="#4E2C8E"/><circle cx="29.3" cy="32.3" r="1.6" fill="#4E2C8E"/><circle cx="20.3" cy="35.6" r="1.9" fill="#4E2C8E"/><circle cx="52.5" cy="9.5" r="2.3" fill="#4E2C8E"/><circle cx="21.8" cy="17.3" r="1.8" fill="#4E2C8E"/><circle cx="60.4" cy="63.4" r="1.9" fill="#4E2C8E"/><circle cx="51.4" cy="2.8" r="2.2" fill="#4E2C8E"/><circle cx="16.4" cy="21.4" r="2.1" fill="#4E2C8E"/><circle cx="32.6" cy="35.3" r="1.8" fill="#4E2C8E"/><circle cx="25.2" cy="58.9" r="1.5" fill="#4E2C8E"/><circle cx="1.3" cy="41.2" r="1.6" fill="#4E2C8E"/><circle cx="11.4" cy="20.3" r="1.6" fill="#4E2C8E"/><circle cx="47.2" cy="46.0" r="1.7" fill="#4E2C8E"/><circle cx="54.8" cy="35.2" r="2.2" fill="#4E2C8E"/><circle cx="58.5" cy="4.5" r="1.5" fill="#4E2C8E"/><circle cx="15.1" cy="59.0" r="1.8" fill="#4E2C8E"/><circle cx="35.1" cy="28.8" r="2.2" fill="#4E2C8E"/><circle cx="33.4" cy="0.7" r="2.4" fill="#4E2C8E"/><circle cx="47.9" cy="6.5" r="1.7" fill="#4E2C8E"/><circle cx="59.9" cy="29.0" r="2.0" fill="#4E2C8E"/><circle cx="26.8" cy="0.4" r="1.6" fill="#4E2C8E"/><circle cx="17.2" cy="8.1" r="1.9" fill="#4E2C8E"/><circle cx="21.8" cy="4.7" r="2.1" fill="#4E2C8E"/><circle cx="37.8" cy="43.0" r="2.4" fill="#4E2C8E"/><circle cx="40.0" cy="36.2" r="2.4" fill="#4E2C8E"/><circle cx="38.0" cy="51.9" r="1.7" fill="#4E2C8E"/><circle cx="50.9" cy="30.9" r="2.2" fill="#4E2C8E"/><circle cx="40.7" cy="8.8" r="1.9" fill="#4E2C8E"/><circle cx="29.4" cy="56.2" r="2.3" fill="#4E2C8E"/><circle cx="8.2" cy="41.9" r="1.9" fill="#4E2C8E"/><circle cx="32.5" cy="43.9" r="1.7" fill="#4E2C8E"/><circle cx="21.2" cy="50.7" r="2.4" fill="#4E2C8E"/><circle cx="5.8" cy="4.4" r="2.0" fill="#4E2C8E"/><circle cx="48.2" cy="26.0" r="1.7" fill="#4E2C8E"/><circle cx="18.3" cy="46.9" r="2.0" fill="#4E2C8E"/><circle cx="29.4" cy="17.5" r="2.4" fill="#4E2C8E"/><circle cx="54.5" cy="27.8" r="1.5" fill="#4E2C8E"/><circle cx="0.7" cy="4.9" r="1.6" fill="#4E2C8E"/><circle cx="56.4" cy="48.2" r="1.7" fill="#4E2C8E"/><circle cx="57.8" cy="24.7" r="2.0" fill="#4E2C8E"/><circle cx="38.2" cy="13.4" r="1.7" fill="#4E2C8E"/><circle cx="60.7" cy="19.3" r="1.8" fill="#4E2C8E"/><circle cx="0.3" cy="29.8" r="1.6" fill="#4E2C8E"/><circle cx="9.5" cy="59.2" r="2.3" fill="#4E2C8E"/><circle cx="34.2" cy="58.3" r="2.1" fill="#4E2C8E"/><circle cx="0.1" cy="22.6" r="1.8" fill="#4E2C8E"/><circle cx="42.1" cy="42.2" r="1.6" fill="#4E2C8E"/><circle cx="37.5" cy="18.1" r="2.3" fill="#4E2C8E"/><circle cx="52.8" cy="61.7" r="1.9" fill="#4E2C8E"/><circle cx="60.7" cy="39.5" r="1.7" fill="#4E2C8E"/><circle cx="17.4" cy="14.3" r="2.4" fill="#4E2C8E"/><circle cx="14.7" cy="0.0" r="2.0" fill="#4E2C8E"/><circle cx="50.6" cy="48.8" r="2.0" fill="#4E2C8E"/><circle cx="31.2" cy="26.6" r="1.9" fill="#4E2C8E"/><circle cx="42.0" cy="63.5" r="1.7" fill="#4E2C8E"/><circle cx="35.0" cy="4.8" r="2.2" fill="#4E2C8E"/><circle cx="23.8" cy="43.3" r="2.3" fill="#4E2C8E"/><circle cx="3.6" cy="45.4" r="1.7" fill="#4E2C8E"/><circle cx="45.0" cy="12.0" r="2.0" fill="#4E2C8E"/><circle cx="49.6" cy="36.1" r="1.9" fill="#4E2C8E"/><circle cx="6.3" cy="63.9" r="2.4" fill="#4E2C8E"/><circle cx="53.3" cy="21.1" r="1.5" fill="#4E2C8E"/><circle cx="31.8" cy="52.3" r="2.3" fill="#4E2C8E"/><circle cx="51.3" cy="56.1" r="1.7" fill="#4E2C8E"/><circle cx="4.2" cy="34.1" r="2.3" fill="#4E2C8E"/><circle cx="39.4" cy="47.6" r="1.6" fill="#4E2C8E"/><circle cx="13.6" cy="5.8" r="2.1" fill="#4E2C8E"/><circle cx="21.3" cy="11.1" r="2.4" fill="#4E2C8E"/><circle cx="61.3" cy="34.6" r="1.6" fill="#4E2C8E"/><circle cx="47.5" cy="20.1" r="2.3" fill="#4E2C8E"/><circle cx="52.7" cy="14.3" r="1.5" fill="#4E2C8E"/><circle cx="24.0" cy="22.3" r="1.6" fill="#4E2C8E"/><circle cx="46.2" cy="1.6" r="2.2" fill="#4E2C8E"/><circle cx="57.7" cy="9.6" r="2.3" fill="#4E2C8E"/><circle cx="58.8" cy="52.0" r="2.1" fill="#4E2C8E"/><circle cx="2.1" cy="51.9" r="1.7" fill="#4E2C8E"/><circle cx="17.3" cy="55.3" r="1.9" fill="#4E2C8E"/><circle cx="12.5" cy="52.1" r="2.3" fill="#4E2C8E"/><circle cx="46.4" cy="58.6" r="2.3" fill="#4E2C8E"/><circle cx="34.7" cy="22.5" r="1.7" fill="#4E2C8E"/><circle cx="2.4" cy="9.0" r="2.1" fill="#4E2C8E"/><circle cx="11.2" cy="26.1" r="2.3" fill="#4E2C8E"/><circle cx="20.2" cy="59.5" r="1.9" fill="#4E2C8E"/><circle cx="47.6" cy="41.6" r="1.9" fill="#4E2C8E"/><circle cx="8.5" cy="29.7" r="1.9" fill="#4E2C8E"/><circle cx="13.1" cy="30.4" r="1.8" fill="#4E2C8E"/><circle cx="28.5" cy="39.1" r="1.8" fill="#4E2C8E"/><circle cx="45.2" cy="30.3" r="2.1" fill="#4E2C8E"/><circle cx="5.6" cy="22.1" r="2.1" fill="#4E2C8E"/><circle cx="57.3" cy="43.2" r="1.7" fill="#4E2C8E"/><circle cx="21.7" cy="0.4" r="1.7" fill="#4E2C8E"/><circle cx="41.0" cy="21.3" r="1.9" fill="#4E2C8E"/><circle cx="4.1" cy="57.2" r="2.1" fill="#4E2C8E"/><circle cx="35.1" cy="48.7" r="1.9" fill="#4E2C8E"/><circle cx="29.4" cy="47.1" r="2.4" fill="#4E2C8E"/><circle cx="48.1" cy="15.3" r="2.3" fill="#4E2C8E"/><circle cx="19.6" cy="29.9" r="2.3" fill="#4E2C8E"/><circle cx="39.0" cy="30.6" r="1.7" fill="#4E2C8E"/><circle cx="6.2" cy="48.9" r="1.6" fill="#4E2C8E"/><circle cx="12.7" cy="15.2" r="1.8" fill="#4E2C8E"/><circle cx="26.3" cy="14.4" r="1.5" fill="#4E2C8E"/><circle cx="25.0" cy="26.9" r="2.3" fill="#4E2C8E"/><circle cx="29.2" cy="60.7" r="1.8" fill="#4E2C8E"/><circle cx="37.5" cy="62.5" r="1.8" fill="#4E2C8E"/><circle cx="41.8" cy="3.9" r="1.5" fill="#4E2C8E"/><circle cx="21.7" cy="55.2" r="1.9" fill="#4E2C8E"/><circle cx="10.5" cy="1.2" r="2.3" fill="#4E2C8E"/><circle cx="5.5" cy="38.3" r="2.4" fill="#4E2C8E"/><circle cx="20.0" cy="40.0" r="1.7" fill="#4E2C8E"/><circle cx="57.0" cy="60.6" r="1.8" fill="#4E2C8E"/><circle cx="54.3" cy="52.1" r="2.2" fill="#4E2C8E"/></pattern><filter id="hf03" x="-5%" y="-5%" width="110%" height="110%"><feTurbulence type="fractalNoise" baseFrequency="0.08" numOctaves="2" seed="73" result="hn"/><feDisplacementMap in="SourceGraphic" in2="hn" scale="10" xChannelSelector="R" yChannelSelector="G"/></filter><filter id="tx04" x="0" y="0" width="1" height="1" color-interpolation-filters="sRGB"><feTurbulence type="turbulence" baseFrequency="0.06" numOctaves="1" seed="15" result="t"/><feTurbulence type="fractalNoise" baseFrequency="0.14" numOctaves="2" seed="22" result="dq"/><feDisplacementMap in="t" in2="dq" scale="10" xChannelSelector="R" yChannelSelector="G" result="t"/><feColorMatrix in="t" type="matrix" values="0 0 0 0 0 0 0 0 0 0 0 0 0 0 0 1 0 0 0 0" result="ta"/><feTurbulence type="fractalNoise" baseFrequency="0.01" numOctaves="2" seed="45" result="d"/><feColorMatrix in="d" type="matrix" values="0 0 0 0 0 0 0 0 0 0 0 0 0 0 0 1 0 0 0 0" result="da"/><feComposite in="ta" in2="da" operator="arithmetic" k1="0" k2="-20" k3="4" k4="7" result="m"/><feFlood flood-color="#C27ABE" result="tc"/><feComposite in="tc" in2="m" operator="in" result="tis"/><feTurbulence type="fractalNoise" baseFrequency="0.28" numOctaves="1" seed="115" result="n2"/><feColorMatrix in="n2" type="matrix" values="0 0 0 0 0 0 0 0 0 0 0 0 0 0 0 12 0 0 0 -6.18" result="a2"/><feFlood flood-color="#52308F" result="nc"/><feComposite in="nc" in2="a2" operator="in" result="nu0"/><feComposite in="nu0" in2="m" operator="in" result="nu"/><feColorMatrix in="n2" type="matrix" values="0 0 0 0 0 0 0 0 0 0 0 0 0 0 0 0 -12 0 0 5.76" result="a3"/><feFlood flood-color="#DC5A84" result="rc"/><feComposite in="rc" in2="a3" operator="in" result="rc0"/><feComposite in="rc0" in2="m" operator="in" result="rcm"/><feFlood flood-color="#EFEBF5" result="bg"/><feMerge><feMergeNode in="bg"/><feMergeNode in="tis"/><feMergeNode in="rcm"/></feMerge></filter><clipPath id="cl04"><rect x="1367.6" y="1753.4" width="307.3" height="257.6"/></clipPath><pattern id="np04" width="64" height="64" patternUnits="userSpaceOnUse" x="1367.6" y="1753.4"><circle cx="8.6" cy="27.3" r="2.3" fill="#4C2A88"/><circle cx="28.9" cy="14.9" r="2.1" fill="#4C2A88"/><circle cx="19.6" cy="37.4" r="1.7" fill="#4C2A88"/><circle cx="48.4" cy="3.2" r="1.8" fill="#4C2A88"/><circle cx="59.5" cy="5.5" r="1.9" fill="#4C2A88"/><circle cx="11.9" cy="24.4" r="2.0" fill="#4C2A88"/><circle cx="61.1" cy="60.7" r="1.8" fill="#4C2A88"/><circle cx="48.9" cy="29.4" r="1.6" fill="#4C2A88"/><circle cx="17.2" cy="20.3" r="1.9" fill="#4C2A88"/><circle cx="63.8" cy="51.2" r="1.6" fill="#4C2A88"/><circle cx="37.1" cy="18.7" r="1.7" fill="#4C2A88"/><circle cx="47.0" cy="56.8" r="1.5" fill="#4C2A88"/><circle cx="18.8" cy="50.6" r="1.5" fill="#4C2A88"/><circle cx="23.3" cy="15.0" r="2.3" fill="#4C2A88"/><circle cx="51.9" cy="48.9" r="1.7" fill="#4C2A88"/><circle cx="7.2" cy="57.9" r="1.7" fill="#4C2A88"/><circle cx="13.8" cy="5.2" r="2.2" fill="#4C2A88"/><circle cx="1.4" cy="29.3" r="1.5" fill="#4C2A88"/><circle cx="36.1" cy="34.6" r="2.3" fill="#4C2A88"/><circle cx="2.8" cy="4.3" r="1.6" fill="#4C2A88"/><circle cx="39.3" cy="42.1" r="1.7" fill="#4C2A88"/><circle cx="36.8" cy="3.5" r="1.6" fill="#4C2A88"/><circle cx="17.6" cy="8.7" r="1.7" fill="#4C2A88"/><circle cx="19.0" cy="26.2" r="2.3" fill="#4C2A88"/><circle cx="48.5" cy="51.7" r="1.6" fill="#4C2A88"/><circle cx="50.8" cy="24.3" r="2.3" fill="#4C2A88"/><circle cx="25.4" cy="8.6" r="2.2" fill="#4C2A88"/><circle cx="24.1" cy="22.6" r="2.0" fill="#4C2A88"/><circle cx="41.9" cy="50.2" r="2.0" fill="#4C2A88"/><circle cx="30.4" cy="19.4" r="2.1" fill="#4C2A88"/><circle cx="42.0" cy="55.8" r="1.5" fill="#4C2A88"/><circle cx="38.0" cy="12.7" r="2.0" fill="#4C2A88"/><circle cx="61.4" cy="12.2" r="2.1" fill="#4C2A88"/><circle cx="26.4" cy="29.3" r="2.2" fill="#4C2A88"/><circle cx="58.1" cy="30.0" r="1.5" fill="#4C2A88"/><circle cx="20.4" cy="32.8" r="1.9" fill="#4C2A88"/><circle cx="27.1" cy="50.1" r="1.8" fill="#4C2A88"/><circle cx="3.2" cy="39.6" r="2.2" fill="#4C2A88"/><circle cx="40.1" cy="28.0" r="1.7" fill="#4C2A88"/><circle cx="9.6" cy="35.1" r="1.9" fill="#4C2A88"/><circle cx="48.6" cy="62.4" r="1.6" fill="#4C2A88"/><circle cx="55.9" cy="14.4" r="2.0" fill="#4C2A88"/><circle cx="56.7" cy="24.4" r="1.8" fill="#4C2A88"/><circle cx="6.0" cy="10.8" r="1.8" fill="#4C2A88"/><circle cx="53.2" cy="57.6" r="1.8" fill="#4C2A88"/><circle cx="11.6" cy="63.3" r="1.9" fill="#4C2A88"/><circle cx="63.7" cy="24.2" r="2.3" fill="#4C2A88"/><circle cx="34.8" cy="51.4" r="1.6" fill="#4C2A88"/><circle cx="43.6" cy="6.8" r="2.0" fill="#4C2A88"/><circle cx="54.9" cy="9.5" r="1.8" fill="#4C2A88"/><circle cx="55.5" cy="53.6" r="2.4" fill="#4C2A88"/><circle cx="3.3" cy="21.6" r="1.6" fill="#4C2A88"/><circle cx="2.6" cy="62.8" r="2.0" fill="#4C2A88"/><circle cx="12.6" cy="43.4" r="1.9" fill="#4C2A88"/><circle cx="16.9" cy="42.0" r="2.1" fill="#4C2A88"/><circle cx="2.7" cy="14.3" r="2.3" fill="#4C2A88"/><circle cx="46.6" cy="34.0" r="1.6" fill="#4C2A88"/><circle cx="36.2" cy="63.1" r="1.6" fill="#4C2A88"/><circle cx="50.2" cy="12.9" r="1.5" fill="#4C2A88"/><circle cx="55.2" cy="1.3" r="2.3" fill="#4C2A88"/><circle cx="41.7" cy="32.1" r="1.9" fill="#4C2A88"/><circle cx="18.5" cy="3.2" r="1.6" fill="#4C2A88"/><circle cx="17.9" cy="54.8" r="2.2" fill="#4C2A88"/><circle cx="28.8" cy="39.3" r="1.5" fill="#4C2A88"/><circle cx="37.9" cy="57.7" r="1.9" fill="#4C2A88"/><circle cx="43.4" cy="61.2" r="2.0" fill="#4C2A88"/><circle cx="29.3" cy="33.8" r="2.0" fill="#4C2A88"/><circle cx="25.5" cy="58.5" r="1.7" fill="#4C2A88"/><circle cx="46.2" cy="19.0" r="2.1" fill="#4C2A88"/><circle cx="5.9" cy="50.1" r="2.0" fill="#4C2A88"/><circle cx="60.3" cy="17.5" r="1.6" fill="#4C2A88"/><circle cx="37.6" cy="23.5" r="1.7" fill="#4C2A88"/><circle cx="12.8" cy="13.1" r="1.6" fill="#4C2A88"/><circle cx="34.2" cy="42.0" r="1.6" fill="#4C2A88"/><circle cx="50.3" cy="40.2" r="1.6" fill="#4C2A88"/><circle cx="1.3" cy="9.8" r="2.1" fill="#4C2A88"/><circle cx="16.5" cy="62.5" r="2.0" fill="#4C2A88"/><circle cx="41.3" cy="15.5" r="1.8" fill="#4C2A88"/><circle cx="15.1" cy="32.4" r="1.5" fill="#4C2A88"/><circle cx="44.0" cy="11.1" r="2.2" fill="#4C2A88"/><circle cx="33.7" cy="25.9" r="2.4" fill="#4C2A88"/><circle cx="44.0" cy="26.0" r="2.3" fill="#4C2A88"/><circle cx="10.9" cy="17.0" r="1.8" fill="#4C2A88"/><circle cx="10.1" cy="52.0" r="1.6" fill="#4C2A88"/><circle cx="12.7" cy="58.8" r="2.0" fill="#4C2A88"/><circle cx="24.2" cy="43.7" r="1.7" fill="#4C2A88"/><circle cx="10.2" cy="9.0" r="2.1" fill="#4C2A88"/><circle cx="13.3" cy="37.3" r="1.7" fill="#4C2A88"/><circle cx="28.1" cy="0.0" r="2.3" fill="#4C2A88"/><circle cx="45.7" cy="43.2" r="1.6" fill="#4C2A88"/><circle cx="53.9" cy="33.4" r="2.1" fill="#4C2A88"/><circle cx="56.6" cy="44.8" r="2.1" fill="#4C2A88"/><circle cx="62.3" cy="39.7" r="1.6" fill="#4C2A88"/><circle cx="33.7" cy="9.8" r="1.9" fill="#4C2A88"/><circle cx="30.1" cy="54.2" r="2.0" fill="#4C2A88"/><circle cx="31.6" cy="48.3" r="1.6" fill="#4C2A88"/><circle cx="7.4" cy="42.9" r="1.7" fill="#4C2A88"/><circle cx="42.1" cy="38.0" r="2.2" fill="#4C2A88"/><circle cx="62.6" cy="46.9" r="1.7" fill="#4C2A88"/><circle cx="4.7" cy="32.4" r="1.6" fill="#4C2A88"/><circle cx="62.4" cy="55.6" r="1.8" fill="#4C2A88"/><circle cx="58.3" cy="35.1" r="1.6" fill="#4C2A88"/><circle cx="41.2" cy="1.6" r="2.0" fill="#4C2A88"/><circle cx="50.8" cy="17.7" r="2.0" fill="#4C2A88"/><circle cx="32.8" cy="60.3" r="2.3" fill="#4C2A88"/><circle cx="10.0" cy="46.9" r="2.3" fill="#4C2A88"/><circle cx="62.8" cy="1.2" r="2.1" fill="#4C2A88"/><circle cx="41.4" cy="20.3" r="1.9" fill="#4C2A88"/><circle cx="3.6" cy="53.8" r="2.0" fill="#4C2A88"/><circle cx="32.4" cy="4.3" r="2.0" fill="#4C2A88"/><circle cx="21.1" cy="59.7" r="2.3" fill="#4C2A88"/><circle cx="24.3" cy="2.2" r="1.6" fill="#4C2A88"/><circle cx="8.0" cy="3.8" r="1.7" fill="#4C2A88"/><circle cx="19.7" cy="12.6" r="1.8" fill="#4C2A88"/><circle cx="38.0" cy="8.0" r="2.3" fill="#4C2A88"/><circle cx="56.1" cy="39.5" r="1.6" fill="#4C2A88"/><circle cx="17.2" cy="46.3" r="2.3" fill="#4C2A88"/><circle cx="53.3" cy="28.0" r="1.8" fill="#4C2A88"/><circle cx="52.0" cy="5.9" r="1.8" fill="#4C2A88"/><circle cx="63.9" cy="34.7" r="2.0" fill="#4C2A88"/><circle cx="36.1" cy="30.1" r="1.7" fill="#4C2A88"/><circle cx="24.5" cy="38.7" r="2.3" fill="#4C2A88"/><circle cx="7.3" cy="19.3" r="2.1" fill="#4C2A88"/><circle cx="54.1" cy="20.6" r="1.8" fill="#4C2A88"/><circle cx="29.6" cy="44.3" r="2.1" fill="#4C2A88"/><circle cx="23.5" cy="53.1" r="1.6" fill="#4C2A88"/><circle cx="31.3" cy="29.6" r="2.0" fill="#4C2A88"/><circle cx="4.0" cy="45.8" r="1.8" fill="#4C2A88"/><circle cx="29.0" cy="24.3" r="2.4" fill="#4C2A88"/><circle cx="36.6" cy="47.4" r="2.0" fill="#4C2A88"/><circle cx="14.2" cy="49.5" r="1.7" fill="#4C2A88"/><circle cx="2.9" cy="58.2" r="1.9" fill="#4C2A88"/><circle cx="57.8" cy="49.9" r="2.3" fill="#4C2A88"/><circle cx="7.2" cy="62.3" r="1.7" fill="#4C2A88"/><circle cx="16.6" cy="15.8" r="1.7" fill="#4C2A88"/></pattern><filter id="hf04" x="-5%" y="-5%" width="110%" height="110%"><feTurbulence type="fractalNoise" baseFrequency="0.08" numOctaves="2" seed="74" result="hn"/><feDisplacementMap in="SourceGraphic" in2="hn" scale="10" xChannelSelector="R" yChannelSelector="G"/></filter><filter id="tx05" x="0" y="0" width="1" height="1" color-interpolation-filters="sRGB"><feTurbulence type="turbulence" baseFrequency="0.06" numOctaves="1" seed="16" result="t"/><feTurbulence type="fractalNoise" baseFrequency="0.14" numOctaves="2" seed="23" result="dq"/><feDisplacementMap in="t" in2="dq" scale="10" xChannelSelector="R" yChannelSelector="G" result="t"/><feColorMatrix in="t" type="matrix" values="0 0 0 0 0 0 0 0 0 0 0 0 0 0 0 1 0 0 0 0" result="ta"/><feTurbulence type="fractalNoise" baseFrequency="0.01" numOctaves="2" seed="46" result="d"/><feColorMatrix in="d" type="matrix" values="0 0 0 0 0 0 0 0 0 0 0 0 0 0 0 1 0 0 0 0" result="da"/><feComposite in="ta" in2="da" operator="arithmetic" k1="0" k2="-20" k3="4" k4="7" result="m"/><feFlood flood-color="#C280C4" result="tc"/><feComposite in="tc" in2="m" operator="in" result="tis"/><feTurbulence type="fractalNoise" baseFrequency="0.28" numOctaves="1" seed="116" result="n2"/><feColorMatrix in="n2" type="matrix" values="0 0 0 0 0 0 0 0 0 0 0 0 0 0 0 12 0 0 0 -6.18" result="a2"/><feFlood flood-color="#52308F" result="nc"/><feComposite in="nc" in2="a2" operator="in" result="nu0"/><feComposite in="nu0" in2="m" operator="in" result="nu"/><feColorMatrix in="n2" type="matrix" values="0 0 0 0 0 0 0 0 0 0 0 0 0 0 0 0 -12 0 0 5.52" result="a3"/><feFlood flood-color="#DC5A84" result="rc"/><feComposite in="rc" in2="a3" operator="in" result="rc0"/><feComposite in="rc0" in2="m" operator="in" result="rcm"/><feFlood flood-color="#EFEBF5" result="bg"/><feMerge><feMergeNode in="bg"/><feMergeNode in="tis"/><feMergeNode in="rcm"/></feMerge></filter><clipPath id="cl05"><rect x="1684" y="1753.4" width="307.3" height="257.6"/></clipPath><pattern id="np05" width="64" height="64" patternUnits="userSpaceOnUse" x="1684" y="1753.4"><circle cx="11.7" cy="36.3" r="2.1" fill="#4E2C8E"/><circle cx="18.1" cy="11.1" r="2.2" fill="#4E2C8E"/><circle cx="39.5" cy="11.8" r="2.0" fill="#4E2C8E"/><circle cx="44.3" cy="44.9" r="2.2" fill="#4E2C8E"/><circle cx="60.9" cy="43.7" r="2.4" fill="#4E2C8E"/><circle cx="31.6" cy="16.7" r="2.3" fill="#4E2C8E"/><circle cx="58.2" cy="22.6" r="2.4" fill="#4E2C8E"/><circle cx="56.5" cy="16.0" r="1.9" fill="#4E2C8E"/><circle cx="37.9" cy="41.9" r="2.1" fill="#4E2C8E"/><circle cx="4.2" cy="44.6" r="1.6" fill="#4E2C8E"/><circle cx="31.6" cy="33.9" r="1.6" fill="#4E2C8E"/><circle cx="41.0" cy="36.5" r="1.7" fill="#4E2C8E"/><circle cx="48.5" cy="9.1" r="2.3" fill="#4E2C8E"/><circle cx="5.0" cy="51.7" r="2.0" fill="#4E2C8E"/><circle cx="9.2" cy="17.6" r="2.4" fill="#4E2C8E"/><circle cx="33.9" cy="56.6" r="1.8" fill="#4E2C8E"/><circle cx="28.3" cy="63.9" r="2.3" fill="#4E2C8E"/><circle cx="19.7" cy="59.8" r="1.5" fill="#4E2C8E"/><circle cx="46.0" cy="38.8" r="1.8" fill="#4E2C8E"/><circle cx="61.7" cy="36.0" r="2.3" fill="#4E2C8E"/><circle cx="30.9" cy="42.9" r="1.7" fill="#4E2C8E"/><circle cx="10.3" cy="2.1" r="2.3" fill="#4E2C8E"/><circle cx="59.2" cy="49.1" r="1.9" fill="#4E2C8E"/><circle cx="43.1" cy="20.0" r="2.3" fill="#4E2C8E"/><circle cx="4.8" cy="62.5" r="2.2" fill="#4E2C8E"/><circle cx="11.0" cy="44.9" r="2.4" fill="#4E2C8E"/><circle cx="42.9" cy="25.7" r="2.2" fill="#4E2C8E"/><circle cx="38.4" cy="49.2" r="1.5" fill="#4E2C8E"/><circle cx="28.0" cy="54.6" r="1.9" fill="#4E2C8E"/><circle cx="5.1" cy="15.5" r="2.2" fill="#4E2C8E"/><circle cx="1.8" cy="31.9" r="1.5" fill="#4E2C8E"/><circle cx="10.7" cy="28.6" r="1.8" fill="#4E2C8E"/><circle cx="18.3" cy="38.0" r="1.6" fill="#4E2C8E"/><circle cx="46.8" cy="50.8" r="2.3" fill="#4E2C8E"/><circle cx="11.3" cy="61.5" r="2.2" fill="#4E2C8E"/><circle cx="54.7" cy="30.2" r="2.1" fill="#4E2C8E"/><circle cx="35.9" cy="26.3" r="2.0" fill="#4E2C8E"/><circle cx="46.9" cy="4.2" r="1.8" fill="#4E2C8E"/><circle cx="23.1" cy="39.9" r="1.6" fill="#4E2C8E"/><circle cx="40.6" cy="29.8" r="2.1" fill="#4E2C8E"/><circle cx="26.4" cy="4.4" r="2.0" fill="#4E2C8E"/><circle cx="4.5" cy="25.0" r="1.6" fill="#4E2C8E"/><circle cx="57.4" cy="39.2" r="1.8" fill="#4E2C8E"/><circle cx="14.6" cy="21.9" r="1.8" fill="#4E2C8E"/><circle cx="52.8" cy="35.0" r="1.8" fill="#4E2C8E"/><circle cx="15.8" cy="45.3" r="1.7" fill="#4E2C8E"/><circle cx="43.5" cy="54.8" r="2.3" fill="#4E2C8E"/><circle cx="1.4" cy="10.1" r="2.1" fill="#4E2C8E"/><circle cx="41.6" cy="60.3" r="1.6" fill="#4E2C8E"/><circle cx="20.8" cy="0.8" r="1.9" fill="#4E2C8E"/><circle cx="56.2" cy="59.4" r="1.8" fill="#4E2C8E"/><circle cx="26.5" cy="11.4" r="2.0" fill="#4E2C8E"/><circle cx="48.6" cy="44.1" r="1.6" fill="#4E2C8E"/><circle cx="12.5" cy="53.4" r="1.7" fill="#4E2C8E"/><circle cx="52.1" cy="54.0" r="1.7" fill="#4E2C8E"/><circle cx="46.9" cy="63.6" r="2.3" fill="#4E2C8E"/><circle cx="18.6" cy="4.5" r="2.0" fill="#4E2C8E"/><circle cx="53.5" cy="23.8" r="2.2" fill="#4E2C8E"/><circle cx="51.7" cy="15.2" r="1.7" fill="#4E2C8E"/><circle cx="55.9" cy="11.2" r="1.8" fill="#4E2C8E"/><circle cx="24.8" cy="19.4" r="2.3" fill="#4E2C8E"/><circle cx="57.0" cy="5.5" r="1.6" fill="#4E2C8E"/><circle cx="21.8" cy="24.4" r="1.8" fill="#4E2C8E"/><circle cx="32.4" cy="47.9" r="1.9" fill="#4E2C8E"/><circle cx="60.2" cy="26.7" r="1.8" fill="#4E2C8E"/><circle cx="42.0" cy="7.4" r="2.0" fill="#4E2C8E"/><circle cx="57.6" cy="54.9" r="2.3" fill="#4E2C8E"/><circle cx="36.8" cy="62.1" r="2.0" fill="#4E2C8E"/><circle cx="26.2" cy="45.7" r="1.8" fill="#4E2C8E"/><circle cx="36.9" cy="34.6" r="2.3" fill="#4E2C8E"/><circle cx="3.6" cy="6.2" r="1.9" fill="#4E2C8E"/><circle cx="55.5" cy="45.9" r="2.4" fill="#4E2C8E"/><circle cx="13.7" cy="10.6" r="2.3" fill="#4E2C8E"/><circle cx="51.4" cy="39.7" r="1.8" fill="#4E2C8E"/><circle cx="48.5" cy="58.0" r="2.3" fill="#4E2C8E"/><circle cx="47.0" cy="32.1" r="1.6" fill="#4E2C8E"/><circle cx="15.5" cy="28.7" r="2.1" fill="#4E2C8E"/><circle cx="62.4" cy="16.4" r="1.7" fill="#4E2C8E"/><circle cx="32.4" cy="10.6" r="2.0" fill="#4E2C8E"/><circle cx="58.7" cy="63.3" r="1.6" fill="#4E2C8E"/><circle cx="60.4" cy="31.2" r="1.5" fill="#4E2C8E"/><circle cx="7.9" cy="58.5" r="1.8" fill="#4E2C8E"/><circle cx="20.8" cy="46.9" r="1.8" fill="#4E2C8E"/><circle cx="32.4" cy="22.8" r="2.0" fill="#4E2C8E"/><circle cx="33.1" cy="1.7" r="2.0" fill="#4E2C8E"/><circle cx="31.0" cy="59.9" r="2.0" fill="#4E2C8E"/><circle cx="16.4" cy="63.9" r="1.6" fill="#4E2C8E"/><circle cx="52.7" cy="5.0" r="2.0" fill="#4E2C8E"/><circle cx="38.9" cy="56.8" r="1.9" fill="#4E2C8E"/><circle cx="47.9" cy="19.6" r="1.9" fill="#4E2C8E"/><circle cx="5.0" cy="39.2" r="1.9" fill="#4E2C8E"/><circle cx="7.1" cy="32.7" r="1.6" fill="#4E2C8E"/><circle cx="63.1" cy="4.2" r="2.3" fill="#4E2C8E"/><circle cx="28.5" cy="49.8" r="2.4" fill="#4E2C8E"/><circle cx="1.3" cy="54.3" r="2.0" fill="#4E2C8E"/><circle cx="10.9" cy="24.2" r="2.1" fill="#4E2C8E"/><circle cx="14.9" cy="16.2" r="1.8" fill="#4E2C8E"/><circle cx="44.3" cy="14.2" r="1.5" fill="#4E2C8E"/><circle cx="16.7" cy="33.8" r="1.6" fill="#4E2C8E"/><circle cx="10.2" cy="7.4" r="2.4" fill="#4E2C8E"/><circle cx="36.5" cy="19.0" r="2.1" fill="#4E2C8E"/><circle cx="40.9" cy="1.2" r="1.5" fill="#4E2C8E"/><circle cx="22.4" cy="15.1" r="2.2" fill="#4E2C8E"/><circle cx="23.0" cy="51.9" r="2.1" fill="#4E2C8E"/><circle cx="24.2" cy="61.7" r="2.1" fill="#4E2C8E"/><circle cx="24.5" cy="30.6" r="2.3" fill="#4E2C8E"/><circle cx="36.4" cy="8.1" r="1.8" fill="#4E2C8E"/><circle cx="20.4" cy="19.7" r="2.0" fill="#4E2C8E"/><circle cx="26.9" cy="25.2" r="2.3" fill="#4E2C8E"/><circle cx="52.8" cy="49.6" r="1.8" fill="#4E2C8E"/><circle cx="51.8" cy="0.7" r="2.1" fill="#4E2C8E"/><circle cx="63.6" cy="40.0" r="1.6" fill="#4E2C8E"/><circle cx="16.5" cy="50.2" r="1.5" fill="#4E2C8E"/><circle cx="29.3" cy="29.7" r="2.4" fill="#4E2C8E"/><circle cx="48.9" cy="24.0" r="2.2" fill="#4E2C8E"/><circle cx="27.1" cy="38.1" r="1.9" fill="#4E2C8E"/><circle cx="62.8" cy="61.2" r="1.7" fill="#4E2C8E"/><circle cx="14.9" cy="57.4" r="1.6" fill="#4E2C8E"/><circle cx="9.2" cy="49.6" r="1.8" fill="#4E2C8E"/><circle cx="62.9" cy="22.6" r="2.0" fill="#4E2C8E"/><circle cx="60.8" cy="9.8" r="2.3" fill="#4E2C8E"/><circle cx="63.7" cy="48.3" r="2.3" fill="#4E2C8E"/><circle cx="34.2" cy="38.5" r="1.5" fill="#4E2C8E"/><circle cx="2.6" cy="20.3" r="2.1" fill="#4E2C8E"/><circle cx="6.7" cy="10.0" r="2.2" fill="#4E2C8E"/><circle cx="22.1" cy="7.6" r="1.5" fill="#4E2C8E"/><circle cx="18.6" cy="54.4" r="1.7" fill="#4E2C8E"/><circle cx="0.8" cy="27.5" r="2.1" fill="#4E2C8E"/><circle cx="14.3" cy="5.5" r="1.6" fill="#4E2C8E"/><circle cx="13.3" cy="41.2" r="2.1" fill="#4E2C8E"/><circle cx="19.9" cy="29.9" r="1.9" fill="#4E2C8E"/><circle cx="38.9" cy="22.6" r="2.3" fill="#4E2C8E"/><circle cx="21.9" cy="35.0" r="2.0" fill="#4E2C8E"/><circle cx="35.4" cy="14.3" r="2.3" fill="#4E2C8E"/><circle cx="19.4" cy="42.6" r="1.7" fill="#4E2C8E"/></pattern><filter id="hf05" x="-5%" y="-5%" width="110%" height="110%"><feTurbulence type="fractalNoise" baseFrequency="0.08" numOctaves="2" seed="75" result="hn"/><feDisplacementMap in="SourceGraphic" in2="hn" scale="10" xChannelSelector="R" yChannelSelector="G"/></filter><filter id="tx10" x="0" y="0" width="1" height="1" color-interpolation-filters="sRGB"><feTurbulence type="turbulence" baseFrequency="0.05" numOctaves="1" seed="21" result="t"/><feTurbulence type="fractalNoise" baseFrequency="0.12" numOctaves="2" seed="28" result="dq"/><feDisplacementMap in="t" in2="dq" scale="10" xChannelSelector="R" yChannelSelector="G" result="t"/><feColorMatrix in="t" type="matrix" values="0 0 0 0 0 0 0 0 0 0 0 0 0 0 0 1 0 0 0 0" result="ta"/><feTurbulence type="fractalNoise" baseFrequency="0.01" numOctaves="2" seed="61" result="d"/><feColorMatrix in="d" type="matrix" values="0 0 0 0 0 0 0 0 0 0 0 0 0 0 0 1 0 0 0 0" result="da"/><feComposite in="ta" in2="da" operator="arithmetic" k1="0" k2="-20" k3="0" k4="12" result="m"/><feFlood flood-color="#D9CFCC" result="tc"/><feComposite in="tc" in2="m" operator="in" result="tis"/><feTurbulence type="fractalNoise" baseFrequency="0.28" numOctaves="1" seed="121" result="n2"/><feColorMatrix in="n2" type="matrix" values="0 0 0 0 0 0 0 0 0 0 0 0 0 0 0 12 0 0 0 -6.6" result="a2"/><feFlood flood-color="#8688CA" result="nc"/><feComposite in="nc" in2="a2" operator="in" result="nu0"/><feComposite in="nu0" in2="m" operator="in" result="nu"/><feFlood flood-color="#F3F1F6" result="bg"/><feMerge><feMergeNode in="bg"/><feMergeNode in="tis"/></feMerge></filter><clipPath id="cl10"><rect x="100.3" y="2026.6" width="307.3" height="257.6"/></clipPath><pattern id="np10" width="64" height="64" patternUnits="userSpaceOnUse" x="100.3" y="2026.6"><circle cx="35.3" cy="12.1" r="1.6" fill="#8688CA"/><circle cx="18.4" cy="37.6" r="2.0" fill="#8688CA"/><circle cx="33.7" cy="50.5" r="1.6" fill="#8688CA"/><circle cx="27.0" cy="47.5" r="2.0" fill="#8688CA"/><circle cx="10.3" cy="19.2" r="1.5" fill="#8688CA"/><circle cx="13.7" cy="41.1" r="1.5" fill="#8688CA"/><circle cx="45.2" cy="53.0" r="2.1" fill="#8688CA"/><circle cx="42.2" cy="36.1" r="1.6" fill="#8688CA"/><circle cx="43.6" cy="23.7" r="1.6" fill="#8688CA"/><circle cx="30.2" cy="6.0" r="1.4" fill="#8688CA"/><circle cx="5.9" cy="50.6" r="2.0" fill="#8688CA"/><circle cx="51.2" cy="17.8" r="1.8" fill="#8688CA"/><circle cx="31.9" cy="31.6" r="1.7" fill="#8688CA"/><circle cx="22.8" cy="59.2" r="1.9" fill="#8688CA"/><circle cx="9.3" cy="44.4" r="1.7" fill="#8688CA"/><circle cx="62.0" cy="32.4" r="1.5" fill="#8688CA"/><circle cx="51.5" cy="46.5" r="2.0" fill="#8688CA"/><circle cx="2.5" cy="22.6" r="1.8" fill="#8688CA"/><circle cx="30.7" cy="40.4" r="1.9" fill="#8688CA"/><circle cx="7.7" cy="13.7" r="1.6" fill="#8688CA"/><circle cx="49.4" cy="2.1" r="1.5" fill="#8688CA"/><circle cx="3.9" cy="5.1" r="2.0" fill="#8688CA"/><circle cx="57.1" cy="44.7" r="1.6" fill="#8688CA"/><circle cx="26.1" cy="19.9" r="1.9" fill="#8688CA"/><circle cx="24.4" cy="29.2" r="1.5" fill="#8688CA"/><circle cx="7.8" cy="37.8" r="1.6" fill="#8688CA"/><circle cx="36.9" cy="18.5" r="1.5" fill="#8688CA"/><circle cx="14.7" cy="33.4" r="1.6" fill="#8688CA"/><circle cx="0.1" cy="48.4" r="1.8" fill="#8688CA"/><circle cx="57.7" cy="11.2" r="2.0" fill="#8688CA"/><circle cx="17.1" cy="11.3" r="1.8" fill="#8688CA"/><circle cx="61.6" cy="7.8" r="1.6" fill="#8688CA"/><circle cx="21.0" cy="0.0" r="1.6" fill="#8688CA"/><circle cx="1.5" cy="55.8" r="1.6" fill="#8688CA"/><circle cx="42.8" cy="58.4" r="1.4" fill="#8688CA"/><circle cx="57.7" cy="20.7" r="1.9" fill="#8688CA"/><circle cx="15.7" cy="3.7" r="1.5" fill="#8688CA"/><circle cx="15.4" cy="26.1" r="2.0" fill="#8688CA"/><circle cx="40.8" cy="4.5" r="1.9" fill="#8688CA"/><circle cx="51.6" cy="35.8" r="1.8" fill="#8688CA"/><circle cx="12.9" cy="54.7" r="1.6" fill="#8688CA"/><circle cx="58.4" cy="62.0" r="1.7" fill="#8688CA"/><circle cx="54.1" cy="57.3" r="2.0" fill="#8688CA"/><circle cx="0.2" cy="40.0" r="1.4" fill="#8688CA"/><circle cx="33.7" cy="55.8" r="1.9" fill="#8688CA"/><circle cx="25.3" cy="10.8" r="2.0" fill="#8688CA"/><circle cx="56.8" cy="39.1" r="2.0" fill="#8688CA"/><circle cx="28.1" cy="58.9" r="1.4" fill="#8688CA"/><circle cx="22.3" cy="49.1" r="1.8" fill="#8688CA"/><circle cx="41.8" cy="9.7" r="1.9" fill="#8688CA"/><circle cx="52.8" cy="26.6" r="1.4" fill="#8688CA"/><circle cx="36.0" cy="36.3" r="1.4" fill="#8688CA"/><circle cx="59.8" cy="25.9" r="1.6" fill="#8688CA"/><circle cx="8.2" cy="27.4" r="1.6" fill="#8688CA"/><circle cx="39.3" cy="26.9" r="2.0" fill="#8688CA"/><circle cx="39.0" cy="50.0" r="2.1" fill="#8688CA"/><circle cx="31.3" cy="20.9" r="2.1" fill="#8688CA"/><circle cx="19.9" cy="19.3" r="1.6" fill="#8688CA"/><circle cx="12.0" cy="62.0" r="2.1" fill="#8688CA"/><circle cx="32.7" cy="63.8" r="1.5" fill="#8688CA"/><circle cx="49.6" cy="8.6" r="1.5" fill="#8688CA"/><circle cx="48.6" cy="30.5" r="1.6" fill="#8688CA"/><circle cx="40.6" cy="43.9" r="2.0" fill="#8688CA"/><circle cx="23.7" cy="41.5" r="1.7" fill="#8688CA"/><circle cx="6.1" cy="61.4" r="2.1" fill="#8688CA"/><circle cx="17.3" cy="45.7" r="1.4" fill="#8688CA"/><circle cx="63.7" cy="17.3" r="2.0" fill="#8688CA"/><circle cx="47.7" cy="61.1" r="1.4" fill="#8688CA"/><circle cx="57.4" cy="52.4" r="1.9" fill="#8688CA"/><circle cx="24.3" cy="4.3" r="2.0" fill="#8688CA"/><circle cx="9.9" cy="4.5" r="1.5" fill="#8688CA"/><circle cx="3.0" cy="34.1" r="1.4" fill="#8688CA"/><circle cx="60.3" cy="56.6" r="1.6" fill="#8688CA"/><circle cx="17.4" cy="50.8" r="1.9" fill="#8688CA"/><circle cx="63.1" cy="0.9" r="1.4" fill="#8688CA"/><circle cx="16.8" cy="59.6" r="1.6" fill="#8688CA"/><circle cx="56.0" cy="4.9" r="2.0" fill="#8688CA"/><circle cx="11.4" cy="49.5" r="2.1" fill="#8688CA"/><circle cx="31.9" cy="15.9" r="1.5" fill="#8688CA"/><circle cx="3.3" cy="11.1" r="1.8" fill="#8688CA"/><circle cx="55.6" cy="31.5" r="1.5" fill="#8688CA"/><circle cx="34.2" cy="26.2" r="1.9" fill="#8688CA"/><circle cx="46.5" cy="43.1" r="1.6" fill="#8688CA"/><circle cx="35.4" cy="42.7" r="1.8" fill="#8688CA"/><circle cx="37.9" cy="61.7" r="2.0" fill="#8688CA"/><circle cx="42.0" cy="14.8" r="2.0" fill="#8688CA"/><circle cx="3.3" cy="28.7" r="1.8" fill="#8688CA"/><circle cx="26.3" cy="36.0" r="1.6" fill="#8688CA"/><circle cx="11.8" cy="10.0" r="1.8" fill="#8688CA"/><circle cx="3.8" cy="44.4" r="1.7" fill="#8688CA"/><circle cx="45.0" cy="47.9" r="1.4" fill="#8688CA"/><circle cx="43.2" cy="30.3" r="1.7" fill="#8688CA"/><circle cx="48.8" cy="22.3" r="1.8" fill="#8688CA"/><circle cx="14.7" cy="16.6" r="1.9" fill="#8688CA"/><circle cx="19.5" cy="31.7" r="2.0" fill="#8688CA"/><circle cx="27.2" cy="24.9" r="1.6" fill="#8688CA"/><circle cx="20.7" cy="24.3" r="1.8" fill="#8688CA"/><circle cx="51.9" cy="41.4" r="1.9" fill="#8688CA"/><circle cx="21.3" cy="54.4" r="1.5" fill="#8688CA"/><circle cx="50.7" cy="52.8" r="1.6" fill="#8688CA"/><circle cx="42.7" cy="63.6" r="1.7" fill="#8688CA"/><circle cx="27.4" cy="53.9" r="1.6" fill="#8688CA"/><circle cx="7.1" cy="56.1" r="1.7" fill="#8688CA"/><circle cx="38.8" cy="55.1" r="1.5" fill="#8688CA"/><circle cx="27.1" cy="0.0" r="1.8" fill="#8688CA"/><circle cx="47.1" cy="14.1" r="1.9" fill="#8688CA"/></pattern><filter id="hf10" x="-5%" y="-5%" width="110%" height="110%"><feTurbulence type="fractalNoise" baseFrequency="0.08" numOctaves="2" seed="76" result="hn"/><feDisplacementMap in="SourceGraphic" in2="hn" scale="10" xChannelSelector="R" yChannelSelector="G"/></filter><filter id="tx11" x="0" y="0" width="1" height="1" color-interpolation-filters="sRGB"><feTurbulence type="turbulence" baseFrequency="0.05" numOctaves="1" seed="22" result="t"/><feTurbulence type="fractalNoise" baseFrequency="0.12" numOctaves="2" seed="29" result="dq"/><feDisplacementMap in="t" in2="dq" scale="10" xChannelSelector="R" yChannelSelector="G" result="t"/><feColorMatrix in="t" type="matrix" values="0 0 0 0 0 0 0 0 0 0 0 0 0 0 0 1 0 0 0 0" result="ta"/><feTurbulence type="fractalNoise" baseFrequency="0.01" numOctaves="2" seed="62" result="d"/><feColorMatrix in="d" type="matrix" values="0 0 0 0 0 0 0 0 0 0 0 0 0 0 0 1 0 0 0 0" result="da"/><feComposite in="ta" in2="da" operator="arithmetic" k1="0" k2="-20" k3="4" k4="8" result="m"/><feFlood flood-color="#D8CCC6" result="tc"/><feComposite in="tc" in2="m" operator="in" result="tis"/><feTurbulence type="fractalNoise" baseFrequency="0.28" numOctaves="1" seed="122" result="n2"/><feColorMatrix in="n2" type="matrix" values="0 0 0 0 0 0 0 0 0 0 0 0 0 0 0 12 0 0 0 -6.72" result="a2"/><feFlood flood-color="#8688CA" result="nc"/><feComposite in="nc" in2="a2" operator="in" result="nu0"/><feComposite in="nu0" in2="m" operator="in" result="nu"/><feColorMatrix in="n2" type="matrix" values="0 0 0 0 0 0 0 0 0 0 0 0 0 0 0 0 -12 0 0 4.8" result="a3"/><feFlood flood-color="#C9AA90" result="rc"/><feComposite in="rc" in2="a3" operator="in" result="rc0"/><feComposite in="rc0" in2="m" operator="in" result="rcm"/><feFlood flood-color="#F3F1F6" result="bg"/><feMerge><feMergeNode in="bg"/><feMergeNode in="tis"/><feMergeNode in="rcm"/></feMerge></filter><clipPath id="cl11"><rect x="417.1" y="2026.6" width="307.3" height="257.6"/></clipPath><pattern id="np11" width="64" height="64" patternUnits="userSpaceOnUse" x="417.1" y="2026.6"><circle cx="52.5" cy="16.5" r="1.4" fill="#8688CA"/><circle cx="27.9" cy="62.1" r="1.5" fill="#8688CA"/><circle cx="35.3" cy="34.1" r="1.6" fill="#8688CA"/><circle cx="20.6" cy="19.7" r="1.9" fill="#8688CA"/><circle cx="39.5" cy="46.8" r="1.9" fill="#8688CA"/><circle cx="18.5" cy="54.5" r="1.8" fill="#8688CA"/><circle cx="38.9" cy="16.7" r="1.6" fill="#8688CA"/><circle cx="58.7" cy="49.7" r="2.0" fill="#8688CA"/><circle cx="16.6" cy="7.8" r="2.0" fill="#8688CA"/><circle cx="6.6" cy="13.6" r="2.0" fill="#8688CA"/><circle cx="3.5" cy="28.1" r="1.9" fill="#8688CA"/><circle cx="38.9" cy="1.4" r="1.5" fill="#8688CA"/><circle cx="43.6" cy="30.3" r="1.8" fill="#8688CA"/><circle cx="59.1" cy="57.9" r="2.0" fill="#8688CA"/><circle cx="51.2" cy="50.1" r="1.8" fill="#8688CA"/><circle cx="55.8" cy="7.3" r="1.8" fill="#8688CA"/><circle cx="10.9" cy="36.3" r="1.5" fill="#8688CA"/><circle cx="19.8" cy="40.3" r="1.8" fill="#8688CA"/><circle cx="63.9" cy="43.3" r="1.8" fill="#8688CA"/><circle cx="47.4" cy="59.2" r="2.0" fill="#8688CA"/><circle cx="45.4" cy="20.0" r="1.8" fill="#8688CA"/><circle cx="36.1" cy="55.2" r="1.6" fill="#8688CA"/><circle cx="12.8" cy="27.6" r="1.8" fill="#8688CA"/><circle cx="28.2" cy="15.6" r="1.8" fill="#8688CA"/><circle cx="12.4" cy="2.7" r="2.1" fill="#8688CA"/><circle cx="48.3" cy="40.9" r="1.5" fill="#8688CA"/><circle cx="34.0" cy="22.2" r="1.7" fill="#8688CA"/><circle cx="25.4" cy="6.8" r="1.9" fill="#8688CA"/><circle cx="32.6" cy="5.5" r="1.8" fill="#8688CA"/><circle cx="50.9" cy="55.1" r="2.0" fill="#8688CA"/><circle cx="12.8" cy="59.6" r="2.1" fill="#8688CA"/><circle cx="4.3" cy="56.9" r="1.6" fill="#8688CA"/><circle cx="34.8" cy="39.1" r="1.6" fill="#8688CA"/><circle cx="41.9" cy="40.4" r="1.6" fill="#8688CA"/><circle cx="30.4" cy="55.4" r="1.8" fill="#8688CA"/><circle cx="27.1" cy="28.2" r="1.8" fill="#8688CA"/><circle cx="44.6" cy="53.7" r="1.8" fill="#8688CA"/><circle cx="44.1" cy="3.1" r="1.9" fill="#8688CA"/><circle cx="46.7" cy="26.3" r="1.9" fill="#8688CA"/><circle cx="62.0" cy="1.0" r="2.1" fill="#8688CA"/><circle cx="56.2" cy="2.0" r="1.9" fill="#8688CA"/><circle cx="4.1" cy="50.9" r="1.7" fill="#8688CA"/><circle cx="48.0" cy="8.2" r="1.6" fill="#8688CA"/><circle cx="21.7" cy="26.5" r="1.9" fill="#8688CA"/><circle cx="6.5" cy="62.1" r="1.7" fill="#8688CA"/><circle cx="27.3" cy="43.1" r="1.5" fill="#8688CA"/><circle cx="48.1" cy="33.1" r="2.0" fill="#8688CA"/><circle cx="13.6" cy="50.4" r="1.6" fill="#8688CA"/><circle cx="38.3" cy="60.1" r="1.7" fill="#8688CA"/><circle cx="61.1" cy="24.9" r="1.8" fill="#8688CA"/><circle cx="57.5" cy="32.7" r="2.0" fill="#8688CA"/><circle cx="61.9" cy="36.8" r="1.7" fill="#8688CA"/><circle cx="17.9" cy="60.3" r="1.6" fill="#8688CA"/><circle cx="62.8" cy="12.8" r="1.9" fill="#8688CA"/><circle cx="27.5" cy="34.4" r="2.1" fill="#8688CA"/><circle cx="19.1" cy="34.5" r="1.8" fill="#8688CA"/><circle cx="57.4" cy="40.1" r="1.6" fill="#8688CA"/><circle cx="58.0" cy="17.8" r="1.8" fill="#8688CA"/><circle cx="23.1" cy="14.4" r="1.6" fill="#8688CA"/><circle cx="28.6" cy="48.2" r="2.0" fill="#8688CA"/><circle cx="51.7" cy="25.9" r="1.5" fill="#8688CA"/><circle cx="33.3" cy="13.5" r="2.1" fill="#8688CA"/><circle cx="8.2" cy="30.3" r="1.5" fill="#8688CA"/><circle cx="45.2" cy="47.7" r="2.0" fill="#8688CA"/><circle cx="43.0" cy="9.8" r="1.5" fill="#8688CA"/><circle cx="3.5" cy="35.7" r="2.0" fill="#8688CA"/><circle cx="8.6" cy="8.2" r="2.0" fill="#8688CA"/><circle cx="33.1" cy="59.7" r="2.1" fill="#8688CA"/><circle cx="20.1" cy="48.1" r="1.9" fill="#8688CA"/><circle cx="19.2" cy="2.2" r="1.6" fill="#8688CA"/><circle cx="2.2" cy="16.6" r="1.7" fill="#8688CA"/><circle cx="0.9" cy="7.2" r="1.8" fill="#8688CA"/><circle cx="7.2" cy="40.4" r="1.5" fill="#8688CA"/><circle cx="62.8" cy="54.6" r="1.7" fill="#8688CA"/><circle cx="5.2" cy="22.3" r="1.6" fill="#8688CA"/><circle cx="24.0" cy="51.6" r="1.7" fill="#8688CA"/><circle cx="10.7" cy="22.2" r="1.6" fill="#8688CA"/><circle cx="12.3" cy="13.4" r="1.5" fill="#8688CA"/><circle cx="25.7" cy="22.7" r="1.5" fill="#8688CA"/><circle cx="40.8" cy="25.3" r="1.8" fill="#8688CA"/><circle cx="50.5" cy="2.9" r="1.8" fill="#8688CA"/><circle cx="46.9" cy="15.1" r="1.4" fill="#8688CA"/><circle cx="14.8" cy="18.1" r="1.7" fill="#8688CA"/><circle cx="52.2" cy="36.5" r="1.6" fill="#8688CA"/><circle cx="10.4" cy="45.4" r="1.8" fill="#8688CA"/><circle cx="17.8" cy="13.9" r="2.1" fill="#8688CA"/><circle cx="16.8" cy="23.8" r="2.0" fill="#8688CA"/><circle cx="16.0" cy="45.2" r="1.4" fill="#8688CA"/><circle cx="10.1" cy="54.7" r="2.0" fill="#8688CA"/><circle cx="22.7" cy="57.7" r="1.8" fill="#8688CA"/><circle cx="37.2" cy="10.2" r="1.4" fill="#8688CA"/><circle cx="35.4" cy="28.2" r="1.8" fill="#8688CA"/><circle cx="35.0" cy="44.6" r="1.7" fill="#8688CA"/><circle cx="33.4" cy="49.7" r="1.7" fill="#8688CA"/><circle cx="54.5" cy="45.3" r="2.1" fill="#8688CA"/><circle cx="52.3" cy="60.8" r="2.1" fill="#8688CA"/><circle cx="62.3" cy="30.2" r="1.9" fill="#8688CA"/><circle cx="0.7" cy="60.8" r="1.6" fill="#8688CA"/><circle cx="3.0" cy="2.2" r="2.0" fill="#8688CA"/><circle cx="4.9" cy="45.7" r="1.6" fill="#8688CA"/><circle cx="54.3" cy="21.5" r="1.6" fill="#8688CA"/><circle cx="14.7" cy="40.1" r="1.5" fill="#8688CA"/><circle cx="41.1" cy="34.7" r="1.7" fill="#8688CA"/><circle cx="56.5" cy="12.7" r="1.7" fill="#8688CA"/><circle cx="56.6" cy="27.3" r="1.6" fill="#8688CA"/><circle cx="33.9" cy="0.7" r="1.8" fill="#8688CA"/></pattern><filter id="hf11" x="-5%" y="-5%" width="110%" height="110%"><feTurbulence type="fractalNoise" baseFrequency="0.08" numOctaves="2" seed="77" result="hn"/><feDisplacementMap in="SourceGraphic" in2="hn" scale="10" xChannelSelector="R" yChannelSelector="G"/></filter><filter id="tx12" x="0" y="0" width="1" height="1" color-interpolation-filters="sRGB"><feTurbulence type="turbulence" baseFrequency="0.05" numOctaves="1" seed="23" result="t"/><feTurbulence type="fractalNoise" baseFrequency="0.12" numOctaves="2" seed="30" result="dq"/><feDisplacementMap in="t" in2="dq" scale="10" xChannelSelector="R" yChannelSelector="G" result="t"/><feColorMatrix in="t" type="matrix" values="0 0 0 0 0 0 0 0 0 0 0 0 0 0 0 1 0 0 0 0" result="ta"/><feTurbulence type="fractalNoise" baseFrequency="0.01" numOctaves="2" seed="63" result="d"/><feColorMatrix in="d" type="matrix" values="0 0 0 0 0 0 0 0 0 0 0 0 0 0 0 1 0 0 0 0" result="da"/><feComposite in="ta" in2="da" operator="arithmetic" k1="0" k2="-20" k3="0" k4="12" result="m"/><feFlood flood-color="#D9CFCC" result="tc"/><feComposite in="tc" in2="m" operator="in" result="tis"/><feTurbulence type="fractalNoise" baseFrequency="0.28" numOctaves="1" seed="123" result="n2"/><feColorMatrix in="n2" type="matrix" values="0 0 0 0 0 0 0 0 0 0 0 0 0 0 0 12 0 0 0 -6.6" result="a2"/><feFlood flood-color="#8688CA" result="nc"/><feComposite in="nc" in2="a2" operator="in" result="nu0"/><feComposite in="nu0" in2="m" operator="in" result="nu"/><feFlood flood-color="#F3F1F6" result="bg"/><feMerge><feMergeNode in="bg"/><feMergeNode in="tis"/></feMerge></filter><clipPath id="cl12"><rect x="734" y="2026.6" width="307.3" height="257.6"/></clipPath><pattern id="np12" width="64" height="64" patternUnits="userSpaceOnUse" x="734" y="2026.6"><circle cx="41.6" cy="42.0" r="1.4" fill="#8688CA"/><circle cx="9.5" cy="62.1" r="1.5" fill="#8688CA"/><circle cx="44.0" cy="28.2" r="2.1" fill="#8688CA"/><circle cx="44.1" cy="21.3" r="1.5" fill="#8688CA"/><circle cx="20.4" cy="54.8" r="2.1" fill="#8688CA"/><circle cx="48.9" cy="10.4" r="1.9" fill="#8688CA"/><circle cx="16.2" cy="51.2" r="1.6" fill="#8688CA"/><circle cx="13.0" cy="11.6" r="2.0" fill="#8688CA"/><circle cx="8.8" cy="19.8" r="1.7" fill="#8688CA"/><circle cx="12.2" cy="40.7" r="2.1" fill="#8688CA"/><circle cx="52.9" cy="44.2" r="1.5" fill="#8688CA"/><circle cx="12.7" cy="47.0" r="1.9" fill="#8688CA"/><circle cx="43.3" cy="58.5" r="1.6" fill="#8688CA"/><circle cx="19.6" cy="45.2" r="1.9" fill="#8688CA"/><circle cx="32.4" cy="40.0" r="1.7" fill="#8688CA"/><circle cx="53.4" cy="49.9" r="1.4" fill="#8688CA"/><circle cx="58.9" cy="57.0" r="1.5" fill="#8688CA"/><circle cx="48.3" cy="59.3" r="1.6" fill="#8688CA"/><circle cx="48.5" cy="18.4" r="1.9" fill="#8688CA"/><circle cx="60.2" cy="6.0" r="1.6" fill="#8688CA"/><circle cx="56.3" cy="26.8" r="1.9" fill="#8688CA"/><circle cx="8.7" cy="36.8" r="1.7" fill="#8688CA"/><circle cx="2.7" cy="36.6" r="2.1" fill="#8688CA"/><circle cx="56.7" cy="13.9" r="1.6" fill="#8688CA"/><circle cx="40.2" cy="33.7" r="1.8" fill="#8688CA"/><circle cx="60.3" cy="18.4" r="1.6" fill="#8688CA"/><circle cx="32.7" cy="13.5" r="2.1" fill="#8688CA"/><circle cx="30.6" cy="28.6" r="1.6" fill="#8688CA"/><circle cx="22.8" cy="22.7" r="1.9" fill="#8688CA"/><circle cx="30.9" cy="57.5" r="1.7" fill="#8688CA"/><circle cx="16.8" cy="26.0" r="1.9" fill="#8688CA"/><circle cx="1.7" cy="63.7" r="2.0" fill="#8688CA"/><circle cx="0.9" cy="8.1" r="2.0" fill="#8688CA"/><circle cx="20.8" cy="29.3" r="1.7" fill="#8688CA"/><circle cx="50.3" cy="23.8" r="1.8" fill="#8688CA"/><circle cx="39.1" cy="26.2" r="1.6" fill="#8688CA"/><circle cx="34.5" cy="21.5" r="1.7" fill="#8688CA"/><circle cx="28.5" cy="20.1" r="1.5" fill="#8688CA"/><circle cx="57.0" cy="38.9" r="2.0" fill="#8688CA"/><circle cx="39.3" cy="47.9" r="1.5" fill="#8688CA"/><circle cx="26.9" cy="47.0" r="1.7" fill="#8688CA"/><circle cx="32.9" cy="49.6" r="1.6" fill="#8688CA"/><circle cx="26.9" cy="5.2" r="1.8" fill="#8688CA"/><circle cx="40.9" cy="14.3" r="1.8" fill="#8688CA"/><circle cx="4.4" cy="56.1" r="1.5" fill="#8688CA"/><circle cx="1.2" cy="47.5" r="1.6" fill="#8688CA"/><circle cx="43.7" cy="37.4" r="1.6" fill="#8688CA"/><circle cx="23.0" cy="1.7" r="2.1" fill="#8688CA"/><circle cx="5.7" cy="24.1" r="1.4" fill="#8688CA"/><circle cx="51.0" cy="31.3" r="2.1" fill="#8688CA"/><circle cx="41.4" cy="9.0" r="1.7" fill="#8688CA"/><circle cx="60.8" cy="62.3" r="1.8" fill="#8688CA"/><circle cx="17.9" cy="17.6" r="1.8" fill="#8688CA"/><circle cx="19.0" cy="8.1" r="1.9" fill="#8688CA"/><circle cx="54.7" cy="20.2" r="1.9" fill="#8688CA"/><circle cx="56.1" cy="32.7" r="1.7" fill="#8688CA"/><circle cx="34.6" cy="61.0" r="1.8" fill="#8688CA"/><circle cx="17.2" cy="37.0" r="1.6" fill="#8688CA"/><circle cx="47.5" cy="53.5" r="1.8" fill="#8688CA"/><circle cx="54.8" cy="60.8" r="1.9" fill="#8688CA"/><circle cx="6.2" cy="41.4" r="2.0" fill="#8688CA"/><circle cx="12.4" cy="56.7" r="1.8" fill="#8688CA"/><circle cx="25.5" cy="39.7" r="1.6" fill="#8688CA"/><circle cx="15.8" cy="1.8" r="2.1" fill="#8688CA"/><circle cx="51.8" cy="37.8" r="1.7" fill="#8688CA"/><circle cx="8.0" cy="52.4" r="2.1" fill="#8688CA"/><circle cx="34.4" cy="32.8" r="1.8" fill="#8688CA"/><circle cx="25.2" cy="31.6" r="2.1" fill="#8688CA"/><circle cx="63.1" cy="14.1" r="1.7" fill="#8688CA"/><circle cx="1.6" cy="28.2" r="1.6" fill="#8688CA"/><circle cx="61.1" cy="32.2" r="1.6" fill="#8688CA"/><circle cx="61.9" cy="52.3" r="1.4" fill="#8688CA"/><circle cx="29.8" cy="62.5" r="2.1" fill="#8688CA"/><circle cx="26.6" cy="53.2" r="1.7" fill="#8688CA"/><circle cx="6.9" cy="11.2" r="1.8" fill="#8688CA"/><circle cx="1.1" cy="41.7" r="1.8" fill="#8688CA"/><circle cx="44.3" cy="1.3" r="1.9" fill="#8688CA"/><circle cx="58.0" cy="46.0" r="1.7" fill="#8688CA"/><circle cx="50.8" cy="5.2" r="2.0" fill="#8688CA"/><circle cx="24.5" cy="60.6" r="1.5" fill="#8688CA"/><circle cx="12.6" cy="30.4" r="1.8" fill="#8688CA"/><circle cx="14.4" cy="21.6" r="1.9" fill="#8688CA"/><circle cx="24.0" cy="16.7" r="1.8" fill="#8688CA"/><circle cx="35.6" cy="4.7" r="1.6" fill="#8688CA"/><circle cx="10.6" cy="6.9" r="1.4" fill="#8688CA"/><circle cx="36.7" cy="56.2" r="1.8" fill="#8688CA"/><circle cx="31.5" cy="8.1" r="1.8" fill="#8688CA"/><circle cx="5.5" cy="4.8" r="1.8" fill="#8688CA"/><circle cx="47.2" cy="47.7" r="2.0" fill="#8688CA"/><circle cx="2.1" cy="19.1" r="1.8" fill="#8688CA"/><circle cx="22.3" cy="49.8" r="2.0" fill="#8688CA"/><circle cx="25.3" cy="11.0" r="2.0" fill="#8688CA"/><circle cx="17.6" cy="59.4" r="1.6" fill="#8688CA"/><circle cx="39.0" cy="0.7" r="2.1" fill="#8688CA"/><circle cx="54.8" cy="1.9" r="1.7" fill="#8688CA"/><circle cx="7.2" cy="31.9" r="1.4" fill="#8688CA"/><circle cx="29.2" cy="34.7" r="1.7" fill="#8688CA"/><circle cx="47.5" cy="40.8" r="2.1" fill="#8688CA"/><circle cx="41.1" cy="53.6" r="1.7" fill="#8688CA"/><circle cx="52.7" cy="55.7" r="1.6" fill="#8688CA"/><circle cx="10.7" cy="25.3" r="2.1" fill="#8688CA"/><circle cx="34.8" cy="44.6" r="1.5" fill="#8688CA"/><circle cx="61.7" cy="24.9" r="2.0" fill="#8688CA"/><circle cx="37.6" cy="38.4" r="1.6" fill="#8688CA"/><circle cx="7.6" cy="46.8" r="1.7" fill="#8688CA"/><circle cx="54.6" cy="8.6" r="1.7" fill="#8688CA"/></pattern><filter id="hf12" x="-5%" y="-5%" width="110%" height="110%"><feTurbulence type="fractalNoise" baseFrequency="0.08" numOctaves="2" seed="78" result="hn"/><feDisplacementMap in="SourceGraphic" in2="hn" scale="10" xChannelSelector="R" yChannelSelector="G"/></filter><filter id="tx13" x="0" y="0" width="1" height="1" color-interpolation-filters="sRGB"><feTurbulence type="turbulence" baseFrequency="0.06" numOctaves="1" seed="24" result="t"/><feTurbulence type="fractalNoise" baseFrequency="0.15" numOctaves="2" seed="31" result="dq"/><feDisplacementMap in="t" in2="dq" scale="10" xChannelSelector="R" yChannelSelector="G" result="t"/><feColorMatrix in="t" type="matrix" values="0 0 0 0 0 0 0 0 0 0 0 0 0 0 0 1 0 0 0 0" result="ta"/><feTurbulence type="fractalNoise" baseFrequency="0.01" numOctaves="2" seed="64" result="d"/><feColorMatrix in="d" type="matrix" values="0 0 0 0 0 0 0 0 0 0 0 0 0 0 0 1 0 0 0 0" result="da"/><feComposite in="ta" in2="da" operator="arithmetic" k1="0" k2="-20" k3="4" k4="8" result="m"/><feFlood flood-color="#D9CFCC" result="tc"/><feComposite in="tc" in2="m" operator="in" result="tis"/><feTurbulence type="fractalNoise" baseFrequency="0.28" numOctaves="1" seed="124" result="n2"/><feColorMatrix in="n2" type="matrix" values="0 0 0 0 0 0 0 0 0 0 0 0 0 0 0 12 0 0 0 -6.66" result="a2"/><feFlood flood-color="#8688CA" result="nc"/><feComposite in="nc" in2="a2" operator="in" result="nu0"/><feComposite in="nu0" in2="m" operator="in" result="nu"/><feFlood flood-color="#F3F1F6" result="bg"/><feMerge><feMergeNode in="bg"/><feMergeNode in="tis"/></feMerge></filter><clipPath id="cl13"><rect x="1050.5" y="2026.6" width="307.3" height="257.6"/></clipPath><pattern id="np13" width="64" height="64" patternUnits="userSpaceOnUse" x="1050.5" y="2026.6"><circle cx="36.1" cy="62.0" r="1.7" fill="#8688CA"/><circle cx="55.8" cy="12.3" r="1.5" fill="#8688CA"/><circle cx="22.3" cy="1.3" r="1.7" fill="#8688CA"/><circle cx="25.8" cy="37.1" r="2.0" fill="#8688CA"/><circle cx="8.2" cy="14.2" r="1.8" fill="#8688CA"/><circle cx="40.2" cy="12.6" r="1.8" fill="#8688CA"/><circle cx="14.0" cy="21.6" r="1.5" fill="#8688CA"/><circle cx="18.4" cy="31.6" r="1.9" fill="#8688CA"/><circle cx="47.8" cy="57.2" r="1.4" fill="#8688CA"/><circle cx="5.1" cy="31.4" r="1.6" fill="#8688CA"/><circle cx="63.7" cy="32.9" r="2.1" fill="#8688CA"/><circle cx="53.4" cy="56.1" r="1.4" fill="#8688CA"/><circle cx="55.5" cy="48.9" r="1.4" fill="#8688CA"/><circle cx="50.0" cy="2.4" r="2.0" fill="#8688CA"/><circle cx="39.0" cy="37.1" r="1.4" fill="#8688CA"/><circle cx="53.8" cy="31.3" r="2.0" fill="#8688CA"/><circle cx="11.1" cy="27.0" r="1.7" fill="#8688CA"/><circle cx="32.1" cy="5.1" r="1.4" fill="#8688CA"/><circle cx="12.0" cy="48.7" r="2.1" fill="#8688CA"/><circle cx="2.7" cy="39.7" r="1.8" fill="#8688CA"/><circle cx="39.8" cy="42.7" r="1.9" fill="#8688CA"/><circle cx="55.2" cy="38.1" r="1.7" fill="#8688CA"/><circle cx="7.4" cy="62.9" r="1.8" fill="#8688CA"/><circle cx="46.1" cy="22.9" r="1.8" fill="#8688CA"/><circle cx="31.0" cy="48.1" r="1.6" fill="#8688CA"/><circle cx="58.0" cy="25.3" r="1.5" fill="#8688CA"/><circle cx="16.2" cy="61.3" r="2.1" fill="#8688CA"/><circle cx="17.5" cy="56.0" r="2.1" fill="#8688CA"/><circle cx="49.0" cy="16.1" r="1.4" fill="#8688CA"/><circle cx="29.0" cy="21.2" r="1.7" fill="#8688CA"/><circle cx="5.9" cy="52.0" r="2.1" fill="#8688CA"/><circle cx="4.8" cy="6.0" r="1.6" fill="#8688CA"/><circle cx="20.1" cy="37.8" r="1.6" fill="#8688CA"/><circle cx="36.1" cy="32.9" r="1.8" fill="#8688CA"/><circle cx="30.8" cy="36.4" r="1.6" fill="#8688CA"/><circle cx="28.2" cy="58.8" r="1.9" fill="#8688CA"/><circle cx="27.5" cy="51.7" r="1.6" fill="#8688CA"/><circle cx="22.8" cy="56.5" r="1.6" fill="#8688CA"/><circle cx="47.6" cy="42.3" r="1.5" fill="#8688CA"/><circle cx="42.3" cy="17.6" r="1.6" fill="#8688CA"/><circle cx="63.3" cy="48.9" r="1.4" fill="#8688CA"/><circle cx="17.0" cy="16.3" r="1.6" fill="#8688CA"/><circle cx="27.3" cy="9.6" r="2.1" fill="#8688CA"/><circle cx="33.6" cy="14.3" r="2.1" fill="#8688CA"/><circle cx="17.0" cy="49.5" r="1.6" fill="#8688CA"/><circle cx="52.1" cy="21.4" r="1.6" fill="#8688CA"/><circle cx="5.7" cy="21.6" r="1.6" fill="#8688CA"/><circle cx="43.7" cy="3.7" r="2.0" fill="#8688CA"/><circle cx="41.9" cy="48.1" r="2.0" fill="#8688CA"/><circle cx="21.2" cy="9.8" r="1.7" fill="#8688CA"/><circle cx="34.3" cy="26.4" r="1.5" fill="#8688CA"/><circle cx="29.0" cy="29.2" r="2.0" fill="#8688CA"/><circle cx="60.4" cy="2.5" r="1.4" fill="#8688CA"/><circle cx="10.5" cy="37.8" r="1.6" fill="#8688CA"/><circle cx="11.7" cy="32.8" r="1.4" fill="#8688CA"/><circle cx="46.2" cy="31.0" r="1.9" fill="#8688CA"/><circle cx="47.2" cy="51.1" r="1.7" fill="#8688CA"/><circle cx="24.5" cy="14.1" r="1.6" fill="#8688CA"/><circle cx="63.3" cy="61.6" r="2.0" fill="#8688CA"/><circle cx="6.9" cy="43.6" r="1.8" fill="#8688CA"/><circle cx="0.3" cy="11.0" r="2.0" fill="#8688CA"/><circle cx="47.2" cy="36.5" r="1.5" fill="#8688CA"/><circle cx="50.9" cy="26.5" r="1.6" fill="#8688CA"/><circle cx="35.2" cy="53.7" r="1.7" fill="#8688CA"/><circle cx="36.3" cy="9.2" r="1.7" fill="#8688CA"/><circle cx="24.4" cy="44.8" r="2.0" fill="#8688CA"/><circle cx="22.2" cy="50.0" r="1.9" fill="#8688CA"/><circle cx="36.8" cy="20.5" r="1.9" fill="#8688CA"/><circle cx="42.6" cy="55.9" r="1.7" fill="#8688CA"/><circle cx="33.2" cy="42.5" r="1.6" fill="#8688CA"/><circle cx="59.1" cy="20.0" r="1.5" fill="#8688CA"/><circle cx="57.2" cy="43.9" r="1.9" fill="#8688CA"/><circle cx="60.1" cy="7.6" r="1.9" fill="#8688CA"/><circle cx="50.4" cy="11.1" r="1.6" fill="#8688CA"/><circle cx="12.3" cy="1.5" r="1.6" fill="#8688CA"/><circle cx="61.7" cy="40.6" r="1.9" fill="#8688CA"/><circle cx="63.7" cy="16.8" r="1.9" fill="#8688CA"/><circle cx="55.4" cy="0.6" r="1.5" fill="#8688CA"/><circle cx="41.3" cy="61.4" r="1.7" fill="#8688CA"/><circle cx="22.8" cy="23.6" r="1.4" fill="#8688CA"/><circle cx="16.0" cy="7.6" r="1.8" fill="#8688CA"/><circle cx="13.3" cy="12.8" r="1.8" fill="#8688CA"/><circle cx="16.8" cy="44.0" r="2.1" fill="#8688CA"/><circle cx="40.3" cy="27.4" r="1.6" fill="#8688CA"/><circle cx="36.5" cy="47.1" r="1.6" fill="#8688CA"/><circle cx="38.5" cy="3.9" r="1.7" fill="#8688CA"/><circle cx="3.2" cy="26.5" r="1.5" fill="#8688CA"/><circle cx="59.5" cy="55.5" r="1.8" fill="#8688CA"/><circle cx="45.3" cy="8.6" r="1.7" fill="#8688CA"/><circle cx="11.3" cy="59.2" r="1.5" fill="#8688CA"/><circle cx="50.3" cy="46.8" r="2.0" fill="#8688CA"/><circle cx="54.6" cy="6.9" r="1.4" fill="#8688CA"/><circle cx="27.8" cy="2.0" r="1.6" fill="#8688CA"/><circle cx="1.0" cy="56.3" r="1.5" fill="#8688CA"/><circle cx="17.8" cy="25.0" r="1.7" fill="#8688CA"/><circle cx="10.8" cy="7.4" r="2.0" fill="#8688CA"/><circle cx="12.3" cy="54.2" r="1.8" fill="#8688CA"/><circle cx="51.1" cy="61.0" r="1.5" fill="#8688CA"/><circle cx="2.9" cy="1.2" r="1.9" fill="#8688CA"/><circle cx="23.7" cy="28.9" r="1.9" fill="#8688CA"/><circle cx="6.1" cy="57.6" r="1.5" fill="#8688CA"/><circle cx="63.7" cy="22.2" r="1.9" fill="#8688CA"/><circle cx="58.8" cy="34.3" r="1.5" fill="#8688CA"/></pattern><filter id="hf13" x="-5%" y="-5%" width="110%" height="110%"><feTurbulence type="fractalNoise" baseFrequency="0.08" numOctaves="2" seed="79" result="hn"/><feDisplacementMap in="SourceGraphic" in2="hn" scale="10" xChannelSelector="R" yChannelSelector="G"/></filter><filter id="tx14" x="0" y="0" width="1" height="1" color-interpolation-filters="sRGB"><feTurbulence type="turbulence" baseFrequency="0.05" numOctaves="1" seed="25" result="t"/><feTurbulence type="fractalNoise" baseFrequency="0.12" numOctaves="2" seed="32" result="dq"/><feDisplacementMap in="t" in2="dq" scale="10" xChannelSelector="R" yChannelSelector="G" result="t"/><feColorMatrix in="t" type="matrix" values="0 0 0 0 0 0 0 0 0 0 0 0 0 0 0 1 0 0 0 0" result="ta"/><feTurbulence type="fractalNoise" baseFrequency="0.01" numOctaves="2" seed="65" result="d"/><feColorMatrix in="d" type="matrix" values="0 0 0 0 0 0 0 0 0 0 0 0 0 0 0 1 0 0 0 0" result="da"/><feComposite in="ta" in2="da" operator="arithmetic" k1="0" k2="-20" k3="4" k4="8" result="m"/><feFlood flood-color="#D8C8BC" result="tc"/><feComposite in="tc" in2="m" operator="in" result="tis"/><feTurbulence type="fractalNoise" baseFrequency="0.28" numOctaves="1" seed="125" result="n2"/><feColorMatrix in="n2" type="matrix" values="0 0 0 0 0 0 0 0 0 0 0 0 0 0 0 12 0 0 0 -6.72" result="a2"/><feFlood flood-color="#8688CA" result="nc"/><feComposite in="nc" in2="a2" operator="in" result="nu0"/><feComposite in="nu0" in2="m" operator="in" result="nu"/><feColorMatrix in="n2" type="matrix" values="0 0 0 0 0 0 0 0 0 0 0 0 0 0 0 0 -12 0 0 5.04" result="a3"/><feFlood flood-color="#C49E80" result="rc"/><feComposite in="rc" in2="a3" operator="in" result="rc0"/><feComposite in="rc0" in2="m" operator="in" result="rcm"/><feFlood flood-color="#F3F1F6" result="bg"/><feMerge><feMergeNode in="bg"/><feMergeNode in="tis"/><feMergeNode in="rcm"/></feMerge></filter><clipPath id="cl14"><rect x="1367.6" y="2026.6" width="307.3" height="257.6"/></clipPath><pattern id="np14" width="64" height="64" patternUnits="userSpaceOnUse" x="1367.6" y="2026.6"><circle cx="12.6" cy="7.1" r="1.4" fill="#8688CA"/><circle cx="40.2" cy="15.0" r="1.5" fill="#8688CA"/><circle cx="35.0" cy="28.8" r="1.8" fill="#8688CA"/><circle cx="15.6" cy="1.8" r="1.6" fill="#8688CA"/><circle cx="16.3" cy="13.4" r="1.6" fill="#8688CA"/><circle cx="52.3" cy="33.1" r="1.8" fill="#8688CA"/><circle cx="13.8" cy="21.6" r="1.7" fill="#8688CA"/><circle cx="61.1" cy="40.4" r="1.5" fill="#8688CA"/><circle cx="3.4" cy="28.2" r="1.8" fill="#8688CA"/><circle cx="34.0" cy="61.7" r="1.8" fill="#8688CA"/><circle cx="2.8" cy="5.5" r="1.7" fill="#8688CA"/><circle cx="43.4" cy="30.9" r="1.5" fill="#8688CA"/><circle cx="5.5" cy="20.0" r="1.8" fill="#8688CA"/><circle cx="25.6" cy="21.9" r="1.8" fill="#8688CA"/><circle cx="53.2" cy="17.9" r="1.4" fill="#8688CA"/><circle cx="19.3" cy="21.4" r="1.4" fill="#8688CA"/><circle cx="4.1" cy="56.5" r="1.9" fill="#8688CA"/><circle cx="25.8" cy="16.0" r="1.9" fill="#8688CA"/><circle cx="22.2" cy="28.4" r="1.6" fill="#8688CA"/><circle cx="0.3" cy="20.3" r="1.5" fill="#8688CA"/><circle cx="54.3" cy="61.6" r="1.7" fill="#8688CA"/><circle cx="22.5" cy="5.4" r="1.6" fill="#8688CA"/><circle cx="45.9" cy="15.3" r="1.8" fill="#8688CA"/><circle cx="31.1" cy="40.4" r="1.7" fill="#8688CA"/><circle cx="13.1" cy="42.4" r="2.0" fill="#8688CA"/><circle cx="61.4" cy="49.2" r="1.5" fill="#8688CA"/><circle cx="35.5" cy="23.7" r="1.8" fill="#8688CA"/><circle cx="14.3" cy="55.4" r="2.0" fill="#8688CA"/><circle cx="55.3" cy="11.8" r="2.0" fill="#8688CA"/><circle cx="3.9" cy="36.3" r="1.6" fill="#8688CA"/><circle cx="52.5" cy="50.8" r="2.0" fill="#8688CA"/><circle cx="34.8" cy="45.8" r="2.1" fill="#8688CA"/><circle cx="47.1" cy="20.5" r="1.4" fill="#8688CA"/><circle cx="48.0" cy="8.4" r="1.5" fill="#8688CA"/><circle cx="36.0" cy="53.5" r="1.5" fill="#8688CA"/><circle cx="22.6" cy="55.8" r="1.9" fill="#8688CA"/><circle cx="29.5" cy="33.4" r="2.0" fill="#8688CA"/><circle cx="44.9" cy="1.0" r="1.9" fill="#8688CA"/><circle cx="56.4" cy="54.0" r="1.9" fill="#8688CA"/><circle cx="48.0" cy="57.2" r="2.0" fill="#8688CA"/><circle cx="19.1" cy="33.2" r="1.7" fill="#8688CA"/><circle cx="26.9" cy="45.2" r="2.0" fill="#8688CA"/><circle cx="9.7" cy="15.1" r="1.9" fill="#8688CA"/><circle cx="8.4" cy="29.0" r="1.5" fill="#8688CA"/><circle cx="25.2" cy="0.6" r="1.7" fill="#8688CA"/><circle cx="1.2" cy="61.0" r="1.9" fill="#8688CA"/><circle cx="41.9" cy="26.0" r="1.4" fill="#8688CA"/><circle cx="6.3" cy="1.8" r="2.0" fill="#8688CA"/><circle cx="45.0" cy="39.5" r="1.7" fill="#8688CA"/><circle cx="19.0" cy="42.4" r="2.1" fill="#8688CA"/><circle cx="58.2" cy="6.7" r="1.9" fill="#8688CA"/><circle cx="15.5" cy="27.8" r="1.4" fill="#8688CA"/><circle cx="25.1" cy="9.9" r="1.8" fill="#8688CA"/><circle cx="18.8" cy="47.7" r="1.9" fill="#8688CA"/><circle cx="53.8" cy="39.5" r="2.0" fill="#8688CA"/><circle cx="9.7" cy="58.9" r="2.0" fill="#8688CA"/><circle cx="61.6" cy="29.0" r="1.7" fill="#8688CA"/><circle cx="46.6" cy="51.7" r="1.9" fill="#8688CA"/><circle cx="6.8" cy="41.1" r="1.5" fill="#8688CA"/><circle cx="33.7" cy="14.0" r="1.8" fill="#8688CA"/><circle cx="32.0" cy="19.1" r="1.4" fill="#8688CA"/><circle cx="37.4" cy="3.2" r="1.9" fill="#8688CA"/><circle cx="53.4" cy="5.2" r="1.5" fill="#8688CA"/><circle cx="14.5" cy="35.8" r="1.8" fill="#8688CA"/><circle cx="17.0" cy="59.9" r="1.4" fill="#8688CA"/><circle cx="58.8" cy="17.9" r="2.1" fill="#8688CA"/><circle cx="29.7" cy="56.4" r="1.6" fill="#8688CA"/><circle cx="7.9" cy="46.3" r="1.7" fill="#8688CA"/><circle cx="55.2" cy="45.5" r="2.1" fill="#8688CA"/><circle cx="35.5" cy="9.3" r="1.6" fill="#8688CA"/><circle cx="45.6" cy="44.8" r="1.9" fill="#8688CA"/><circle cx="40.3" cy="43.1" r="1.9" fill="#8688CA"/><circle cx="39.9" cy="36.2" r="1.6" fill="#8688CA"/><circle cx="32.3" cy="4.7" r="1.8" fill="#8688CA"/><circle cx="50.1" cy="1.3" r="1.6" fill="#8688CA"/><circle cx="2.3" cy="47.5" r="2.0" fill="#8688CA"/><circle cx="39.3" cy="58.0" r="1.6" fill="#8688CA"/><circle cx="63.2" cy="55.7" r="1.7" fill="#8688CA"/><circle cx="31.2" cy="50.3" r="1.8" fill="#8688CA"/><circle cx="24.1" cy="37.9" r="1.5" fill="#8688CA"/><circle cx="60.9" cy="63.6" r="1.6" fill="#8688CA"/><circle cx="49.0" cy="27.2" r="1.9" fill="#8688CA"/><circle cx="55.4" cy="22.6" r="1.8" fill="#8688CA"/><circle cx="27.2" cy="28.7" r="1.6" fill="#8688CA"/><circle cx="60.0" cy="34.5" r="1.6" fill="#8688CA"/><circle cx="41.7" cy="6.5" r="1.6" fill="#8688CA"/><circle cx="7.0" cy="10.4" r="1.6" fill="#8688CA"/><circle cx="60.9" cy="11.2" r="1.7" fill="#8688CA"/><circle cx="10.8" cy="51.0" r="1.9" fill="#8688CA"/><circle cx="40.2" cy="48.6" r="1.6" fill="#8688CA"/><circle cx="9.0" cy="34.3" r="1.8" fill="#8688CA"/><circle cx="1.5" cy="15.3" r="1.6" fill="#8688CA"/><circle cx="26.3" cy="51.8" r="1.7" fill="#8688CA"/><circle cx="54.9" cy="28.7" r="2.0" fill="#8688CA"/><circle cx="39.7" cy="20.1" r="1.6" fill="#8688CA"/><circle cx="8.9" cy="24.0" r="1.6" fill="#8688CA"/><circle cx="18.9" cy="8.9" r="1.5" fill="#8688CA"/><circle cx="34.6" cy="35.6" r="1.9" fill="#8688CA"/><circle cx="30.2" cy="24.4" r="1.5" fill="#8688CA"/></pattern><filter id="hf14" x="-5%" y="-5%" width="110%" height="110%"><feTurbulence type="fractalNoise" baseFrequency="0.08" numOctaves="2" seed="80" result="hn"/><feDisplacementMap in="SourceGraphic" in2="hn" scale="10" xChannelSelector="R" yChannelSelector="G"/></filter><filter id="tx15" x="0" y="0" width="1" height="1" color-interpolation-filters="sRGB"><feTurbulence type="turbulence" baseFrequency="0.05" numOctaves="1" seed="26" result="t"/><feTurbulence type="fractalNoise" baseFrequency="0.12" numOctaves="2" seed="33" result="dq"/><feDisplacementMap in="t" in2="dq" scale="10" xChannelSelector="R" yChannelSelector="G" result="t"/><feColorMatrix in="t" type="matrix" values="0 0 0 0 0 0 0 0 0 0 0 0 0 0 0 1 0 0 0 0" result="ta"/><feTurbulence type="fractalNoise" baseFrequency="0.01" numOctaves="2" seed="66" result="d"/><feColorMatrix in="d" type="matrix" values="0 0 0 0 0 0 0 0 0 0 0 0 0 0 0 1 0 0 0 0" result="da"/><feComposite in="ta" in2="da" operator="arithmetic" k1="0" k2="-20" k3="4" k4="8" result="m"/><feFlood flood-color="#D5C2B2" result="tc"/><feComposite in="tc" in2="m" operator="in" result="tis"/><feTurbulence type="fractalNoise" baseFrequency="0.28" numOctaves="1" seed="126" result="n2"/><feColorMatrix in="n2" type="matrix" values="0 0 0 0 0 0 0 0 0 0 0 0 0 0 0 12 0 0 0 -6.72" result="a2"/><feFlood flood-color="#8688CA" result="nc"/><feComposite in="nc" in2="a2" operator="in" result="nu0"/><feComposite in="nu0" in2="m" operator="in" result="nu"/><feColorMatrix in="n2" type="matrix" values="0 0 0 0 0 0 0 0 0 0 0 0 0 0 0 0 -12 0 0 5.16" result="a3"/><feFlood flood-color="#B98E68" result="rc"/><feComposite in="rc" in2="a3" operator="in" result="rc0"/><feComposite in="rc0" in2="m" operator="in" result="rcm"/><feFlood flood-color="#F3F1F6" result="bg"/><feMerge><feMergeNode in="bg"/><feMergeNode in="tis"/><feMergeNode in="rcm"/></feMerge></filter><clipPath id="cl15"><rect x="1684" y="2026.6" width="307.3" height="257.6"/></clipPath><pattern id="np15" width="64" height="64" patternUnits="userSpaceOnUse" x="1684" y="2026.6"><circle cx="26.2" cy="26.5" r="1.4" fill="#8688CA"/><circle cx="37.4" cy="3.2" r="1.5" fill="#8688CA"/><circle cx="16.1" cy="43.2" r="1.5" fill="#8688CA"/><circle cx="1.6" cy="5.7" r="1.5" fill="#8688CA"/><circle cx="32.1" cy="58.7" r="1.5" fill="#8688CA"/><circle cx="41.6" cy="50.9" r="1.7" fill="#8688CA"/><circle cx="26.2" cy="2.4" r="1.7" fill="#8688CA"/><circle cx="2.7" cy="54.0" r="1.8" fill="#8688CA"/><circle cx="7.8" cy="14.4" r="1.4" fill="#8688CA"/><circle cx="18.4" cy="9.2" r="1.5" fill="#8688CA"/><circle cx="42.5" cy="1.3" r="1.6" fill="#8688CA"/><circle cx="18.3" cy="0.6" r="2.0" fill="#8688CA"/><circle cx="51.4" cy="35.7" r="1.9" fill="#8688CA"/><circle cx="29.9" cy="48.1" r="1.7" fill="#8688CA"/><circle cx="4.7" cy="48.6" r="1.4" fill="#8688CA"/><circle cx="27.3" cy="12.2" r="1.5" fill="#8688CA"/><circle cx="22.7" cy="22.0" r="2.0" fill="#8688CA"/><circle cx="6.8" cy="25.0" r="2.0" fill="#8688CA"/><circle cx="38.8" cy="61.7" r="1.6" fill="#8688CA"/><circle cx="56.8" cy="0.6" r="2.0" fill="#8688CA"/><circle cx="21.7" cy="46.2" r="1.8" fill="#8688CA"/><circle cx="53.9" cy="49.4" r="1.9" fill="#8688CA"/><circle cx="20.1" cy="58.8" r="1.7" fill="#8688CA"/><circle cx="10.1" cy="63.9" r="1.7" fill="#8688CA"/><circle cx="52.6" cy="54.6" r="1.6" fill="#8688CA"/><circle cx="30.2" cy="16.5" r="1.8" fill="#8688CA"/><circle cx="56.4" cy="30.9" r="1.6" fill="#8688CA"/><circle cx="25.9" cy="39.7" r="2.1" fill="#8688CA"/><circle cx="14.7" cy="32.4" r="1.5" fill="#8688CA"/><circle cx="31.2" cy="32.9" r="1.7" fill="#8688CA"/><circle cx="12.4" cy="16.9" r="1.4" fill="#8688CA"/><circle cx="17.3" cy="14.3" r="1.7" fill="#8688CA"/><circle cx="3.7" cy="18.7" r="1.7" fill="#8688CA"/><circle cx="0.2" cy="62.3" r="2.0" fill="#8688CA"/><circle cx="57.2" cy="10.4" r="1.9" fill="#8688CA"/><circle cx="46.1" cy="13.7" r="1.9" fill="#8688CA"/><circle cx="59.8" cy="56.8" r="1.6" fill="#8688CA"/><circle cx="7.8" cy="56.6" r="1.5" fill="#8688CA"/><circle cx="42.1" cy="7.4" r="1.8" fill="#8688CA"/><circle cx="42.7" cy="32.6" r="1.5" fill="#8688CA"/><circle cx="12.6" cy="24.2" r="2.0" fill="#8688CA"/><circle cx="36.6" cy="43.6" r="1.5" fill="#8688CA"/><circle cx="51.8" cy="28.4" r="1.6" fill="#8688CA"/><circle cx="11.9" cy="50.0" r="2.0" fill="#8688CA"/><circle cx="51.6" cy="15.3" r="2.1" fill="#8688CA"/><circle cx="39.8" cy="17.8" r="1.5" fill="#8688CA"/><circle cx="46.6" cy="38.2" r="1.8" fill="#8688CA"/><circle cx="32.0" cy="2.4" r="2.0" fill="#8688CA"/><circle cx="3.3" cy="41.6" r="1.6" fill="#8688CA"/><circle cx="49.3" cy="43.1" r="1.7" fill="#8688CA"/><circle cx="20.8" cy="41.3" r="1.9" fill="#8688CA"/><circle cx="27.5" cy="53.6" r="2.0" fill="#8688CA"/><circle cx="46.1" cy="27.4" r="1.8" fill="#8688CA"/><circle cx="34.1" cy="22.3" r="1.7" fill="#8688CA"/><circle cx="48.9" cy="21.4" r="1.8" fill="#8688CA"/><circle cx="62.2" cy="20.2" r="1.5" fill="#8688CA"/><circle cx="0.9" cy="11.8" r="1.8" fill="#8688CA"/><circle cx="48.3" cy="5.8" r="1.9" fill="#8688CA"/><circle cx="38.1" cy="37.1" r="1.8" fill="#8688CA"/><circle cx="16.7" cy="27.2" r="1.6" fill="#8688CA"/><circle cx="43.6" cy="59.2" r="1.8" fill="#8688CA"/><circle cx="62.8" cy="38.0" r="1.6" fill="#8688CA"/><circle cx="10.6" cy="9.7" r="2.1" fill="#8688CA"/><circle cx="19.6" cy="51.4" r="1.5" fill="#8688CA"/><circle cx="40.2" cy="27.6" r="2.0" fill="#8688CA"/><circle cx="36.2" cy="10.6" r="1.8" fill="#8688CA"/><circle cx="60.0" cy="46.8" r="1.9" fill="#8688CA"/><circle cx="54.6" cy="41.3" r="2.0" fill="#8688CA"/><circle cx="0.2" cy="27.9" r="1.9" fill="#8688CA"/><circle cx="25.2" cy="31.4" r="1.5" fill="#8688CA"/><circle cx="8.0" cy="34.2" r="1.7" fill="#8688CA"/><circle cx="17.3" cy="22.1" r="1.5" fill="#8688CA"/><circle cx="60.3" cy="5.4" r="1.9" fill="#8688CA"/><circle cx="22.3" cy="5.9" r="2.0" fill="#8688CA"/><circle cx="13.6" cy="57.3" r="2.0" fill="#8688CA"/><circle cx="48.9" cy="60.3" r="2.0" fill="#8688CA"/><circle cx="11.8" cy="39.8" r="1.5" fill="#8688CA"/><circle cx="59.6" cy="15.9" r="1.7" fill="#8688CA"/><circle cx="36.7" cy="56.3" r="1.6" fill="#8688CA"/><circle cx="33.1" cy="27.6" r="1.6" fill="#8688CA"/><circle cx="7.6" cy="4.8" r="1.6" fill="#8688CA"/><circle cx="56.4" cy="25.0" r="1.8" fill="#8688CA"/><circle cx="48.8" cy="48.6" r="1.8" fill="#8688CA"/><circle cx="23.7" cy="16.8" r="2.1" fill="#8688CA"/><circle cx="36.7" cy="31.5" r="1.9" fill="#8688CA"/><circle cx="53.9" cy="59.6" r="2.1" fill="#8688CA"/><circle cx="43.3" cy="42.3" r="1.5" fill="#8688CA"/><circle cx="57.8" cy="37.0" r="1.7" fill="#8688CA"/><circle cx="45.5" cy="54.3" r="1.8" fill="#8688CA"/><circle cx="21.7" cy="36.1" r="1.5" fill="#8688CA"/><circle cx="28.7" cy="6.9" r="1.5" fill="#8688CA"/><circle cx="51.8" cy="1.7" r="1.8" fill="#8688CA"/><circle cx="31.2" cy="42.3" r="1.9" fill="#8688CA"/><circle cx="33.9" cy="51.8" r="1.7" fill="#8688CA"/><circle cx="26.3" cy="61.0" r="1.6" fill="#8688CA"/><circle cx="1.6" cy="33.5" r="1.7" fill="#8688CA"/><circle cx="13.9" cy="5.6" r="1.6" fill="#8688CA"/><circle cx="53.5" cy="6.9" r="1.9" fill="#8688CA"/><circle cx="42.6" cy="23.2" r="1.7" fill="#8688CA"/><circle cx="16.6" cy="37.3" r="1.8" fill="#8688CA"/><circle cx="5.4" cy="9.6" r="2.0" fill="#8688CA"/><circle cx="58.4" cy="51.5" r="2.0" fill="#8688CA"/><circle cx="10.4" cy="45.1" r="2.0" fill="#8688CA"/><circle cx="19.9" cy="31.2" r="1.9" fill="#8688CA"/><circle cx="10.9" cy="29.1" r="2.0" fill="#8688CA"/><circle cx="27.6" cy="20.8" r="2.0" fill="#8688CA"/><circle cx="56.1" cy="19.9" r="1.6" fill="#8688CA"/><circle cx="5.1" cy="63.8" r="1.6" fill="#8688CA"/></pattern><filter id="hf15" x="-5%" y="-5%" width="110%" height="110%"><feTurbulence type="fractalNoise" baseFrequency="0.08" numOctaves="2" seed="81" result="hn"/><feDisplacementMap in="SourceGraphic" in2="hn" scale="10" xChannelSelector="R" yChannelSelector="G"/></filter></defs><text x="-1.5" y="37.8" font-weight="bold" fill="#000" font-size="55">A</text>
<text x="539.5" y="72" text-anchor="middle" font-weight="bold" font-size="35.6">H5N1 PB2-631L</text>
<rect x="474.9" y="430.54" width="26.4" height="26.76" fill="#046EB8"/>
<rect x="474.9" y="229.84" width="26.4" height="200.7" fill="#20B2B6"/>
<rect x="514.2" y="430.54" width="26.4" height="26.76" fill="#046EB8"/>
<rect x="514.2" y="363.64" width="26.4" height="66.9" fill="#20B2B6"/>
<rect x="907.2" y="162.94" width="26.4" height="294.36" fill="#F0047F"/>
<line x1="148" y1="121.6" x2="148" y2="457.3" stroke="#000" stroke-width="2.4"/>
<line x1="134.5" y1="457.3" x2="948.7" y2="457.3" stroke="#000" stroke-width="2.4"/>
<line x1="134.5" y1="457.3" x2="148" y2="457.3" stroke="#000" stroke-width="2.4"/>
<text x="121.6" y="467" text-anchor="end" font-size="27">0</text>
<line x1="134.5" y1="390.4" x2="148" y2="390.4" stroke="#000" stroke-width="2.4"/>
<text x="121.6" y="400.1" text-anchor="end" font-size="27">5</text>
<line x1="134.5" y1="323.5" x2="148" y2="323.5" stroke="#000" stroke-width="2.4"/>
<text x="125.2" y="333.2" text-anchor="end" font-size="27">10</text>
<line x1="134.5" y1="256.6" x2="148" y2="256.6" stroke="#000" stroke-width="2.4"/>
<text x="125.2" y="266.3" text-anchor="end" font-size="27">15</text>
<line x1="134.5" y1="189.7" x2="148" y2="189.7" stroke="#000" stroke-width="2.4"/>
<text x="125.2" y="199.4" text-anchor="end" font-size="27">20</text>
<line x1="134.5" y1="122.8" x2="148" y2="122.8" stroke="#000" stroke-width="2.4"/>
<text x="125.2" y="129.5" text-anchor="end" font-size="27">25</text>
<line x1="173.7" y1="457.3" x2="173.7" y2="470.5" stroke="#000" stroke-width="2.4"/>
<line x1="213" y1="457.3" x2="213" y2="470.5" stroke="#000" stroke-width="2.4"/>
<line x1="252.3" y1="457.3" x2="252.3" y2="470.5" stroke="#000" stroke-width="2.4"/>
<line x1="291.6" y1="457.3" x2="291.6" y2="470.5" stroke="#000" stroke-width="2.4"/>
<line x1="330.9" y1="457.3" x2="330.9" y2="470.5" stroke="#000" stroke-width="2.4"/>
<line x1="370.2" y1="457.3" x2="370.2" y2="470.5" stroke="#000" stroke-width="2.4"/>
<line x1="409.5" y1="457.3" x2="409.5" y2="470.5" stroke="#000" stroke-width="2.4"/>
<line x1="448.8" y1="457.3" x2="448.8" y2="470.5" stroke="#000" stroke-width="2.4"/>
<line x1="488.1" y1="457.3" x2="488.1" y2="470.5" stroke="#000" stroke-width="2.4"/>
<line x1="527.4" y1="457.3" x2="527.4" y2="470.5" stroke="#000" stroke-width="2.4"/>
<line x1="566.7" y1="457.3" x2="566.7" y2="470.5" stroke="#000" stroke-width="2.4"/>
<line x1="606" y1="457.3" x2="606" y2="470.5" stroke="#000" stroke-width="2.4"/>
<line x1="645.3" y1="457.3" x2="645.3" y2="470.5" stroke="#000" stroke-width="2.4"/>
<line x1="684.6" y1="457.3" x2="684.6" y2="470.5" stroke="#000" stroke-width="2.4"/>
<line x1="723.9" y1="457.3" x2="723.9" y2="470.5" stroke="#000" stroke-width="2.4"/>
<line x1="763.2" y1="457.3" x2="763.2" y2="470.5" stroke="#000" stroke-width="2.4"/>
<line x1="802.5" y1="457.3" x2="802.5" y2="470.5" stroke="#000" stroke-width="2.4"/>
<line x1="841.8" y1="457.3" x2="841.8" y2="470.5" stroke="#000" stroke-width="2.4"/>
<line x1="881.1" y1="457.3" x2="881.1" y2="470.5" stroke="#000" stroke-width="2.4"/>
<line x1="920.4" y1="457.3" x2="920.4" y2="470.5" stroke="#000" stroke-width="2.4"/>
<text transform="translate(69.6 262.5) rotate(-90)" text-anchor="middle" font-size="35">Counts</text>
<text transform="translate(182.5 477.7) rotate(-90)" text-anchor="end" font-size="27">2005</text>
<text transform="translate(379 477.7) rotate(-90)" text-anchor="end" font-size="27">2010</text>
<text transform="translate(496.9 477.7) rotate(-90)" text-anchor="end" font-weight="bold" fill="#E60012" font-size="27">2013</text>
<text transform="translate(536.2 477.7) rotate(-90)" text-anchor="end" font-weight="bold" fill="#E60012" font-size="27">2014</text>
<text transform="translate(575.5 477.7) rotate(-90)" text-anchor="end" font-size="27">2015</text>
<text transform="translate(772 477.7) rotate(-90)" text-anchor="end" font-size="27">2020</text>
<text transform="translate(929.2 477.7) rotate(-90)" text-anchor="end" font-size="27">2024</text>
<rect x="703" y="140.6" width="32" height="15.8" fill="#F0047F"/>
<text x="752" y="156" font-size="26">U.S.</text>
<rect x="703" y="171.3" width="32" height="15.8" fill="#20B2B6"/>
<text x="752" y="186.7" font-size="26">Cambodia</text>
<rect x="703" y="202" width="32" height="15.8" fill="#046EB8"/>
<text x="752" y="217.4" font-size="26">Vietnam</text>
<path transform="translate(169.9 120) scale(1)" d="M44.5,6.2C43.45,6.2 41.8,6.96 41,7.6C40.2,8.24 39.52,9.6 39.2,10.5C38.89,11.4 39.17,13.04 38.9,13.6C38.63,14.15 37.59,13.87 37.4,14.2C37.2,14.53 37.41,15.46 37.6,15.8C37.8,16.14 38.31,15.84 38.7,16.5C39.09,17.16 39.81,19.4 40.2,20.2C40.59,21 41.15,21.14 41.3,21.8C41.45,22.46 41.84,23.91 41.2,24.6C40.56,25.29 38.38,25.95 37,26.4C35.62,26.85 33.11,26.97 32,27.6C30.89,28.23 30.11,29.34 29.6,30.6C29.09,31.86 28.93,34.37 28.6,36C28.27,37.63 27.82,39.88 27.4,41.5C26.98,43.12 26.52,44.98 25.8,46.8C25.08,48.61 23.68,51.17 22.6,53.6C21.52,56.03 19.86,61.3 18.6,63C17.34,64.7 15.43,64.27 14.2,64.9C12.97,65.53 10.79,66.7 10.4,67.2C10.01,67.7 11.15,68.11 11.6,68.2C12.05,68.29 13.34,67.23 13.4,67.8C13.46,68.37 12.15,70.74 12,72C11.85,73.26 11.86,75.66 12.4,76.2C12.94,76.74 14.49,76.44 15.6,75.6C16.71,74.76 18.51,72.46 19.8,70.6C21.09,68.74 22.67,65.75 24.2,63.2C25.73,60.65 28.62,56.48 30,53.6C31.38,50.72 32.77,44.47 33.4,44C34.03,43.53 33.99,48.28 34.2,50.5C34.41,52.72 34.98,56.89 34.8,58.8C34.62,60.7 33.39,61.73 33,63.2C32.61,64.67 32.35,66.29 32.2,68.6C32.05,70.91 31.76,75.57 32,78.6C32.24,81.63 33.59,86.04 33.8,88.8C34.01,91.56 33.43,94.72 33.4,97C33.37,99.28 33.48,101.3 33.6,104C33.72,106.7 34.02,112.15 34.2,115C34.38,117.85 35.04,121.35 34.8,123C34.56,124.65 33.11,124.98 32.6,126C32.09,127.02 31.34,129 31.4,129.8C31.46,130.6 32.12,131.03 33,131.3C33.88,131.57 36.4,131.85 37.3,131.6C38.2,131.34 38.74,130.56 39,129.6C39.26,128.64 38.89,127.81 39,125.2C39.11,122.59 39.46,115.38 39.7,112.2C39.94,109.02 40.32,106.58 40.6,104C40.88,101.42 41.29,97.27 41.6,95C41.91,92.73 42.42,91.15 42.7,88.9C42.98,86.65 43.23,82.2 43.5,80C43.77,77.8 44.2,74.2 44.5,74.2C44.8,74.2 45.23,77.8 45.5,80C45.77,82.2 46.02,86.65 46.3,88.9C46.58,91.15 47.09,92.73 47.4,95C47.71,97.27 48.12,101.42 48.4,104C48.68,106.58 49.06,109.02 49.3,112.2C49.54,115.38 49.89,122.59 50,125.2C50.11,127.81 49.74,128.64 50,129.6C50.26,130.56 50.8,131.34 51.7,131.6C52.6,131.85 55.12,131.57 56,131.3C56.88,131.03 57.54,130.6 57.6,129.8C57.66,129 56.91,127.02 56.4,126C55.89,124.98 54.44,124.65 54.2,123C53.96,121.35 54.62,117.85 54.8,115C54.98,112.15 55.28,106.7 55.4,104C55.52,101.3 55.63,99.28 55.6,97C55.57,94.72 54.99,91.56 55.2,88.8C55.41,86.04 56.76,81.63 57,78.6C57.24,75.57 56.95,70.91 56.8,68.6C56.65,66.29 56.39,64.67 56,63.2C55.61,61.73 54.38,60.7 54.2,58.8C54.02,56.89 54.59,52.72 54.8,50.5C55.01,48.28 54.97,43.53 55.6,44C56.23,44.47 57.62,50.72 59,53.6C60.38,56.48 63.27,60.65 64.8,63.2C66.33,65.75 67.91,68.74 69.2,70.6C70.49,72.46 72.29,74.76 73.4,75.6C74.51,76.44 76.06,76.74 76.6,76.2C77.14,75.66 77.15,73.26 77,72C76.85,70.74 75.54,68.37 75.6,67.8C75.66,67.23 76.95,68.29 77.4,68.2C77.85,68.11 78.99,67.7 78.6,67.2C78.21,66.7 76.03,65.53 74.8,64.9C73.57,64.27 71.66,64.7 70.4,63C69.14,61.3 67.48,56.03 66.4,53.6C65.32,51.17 63.92,48.61 63.2,46.8C62.48,44.98 62.02,43.12 61.6,41.5C61.18,39.88 60.73,37.63 60.4,36C60.07,34.37 59.91,31.86 59.4,30.6C58.89,29.34 58.11,28.23 57,27.6C55.89,26.97 53.38,26.85 52,26.4C50.62,25.95 48.44,25.29 47.8,24.6C47.16,23.91 47.55,22.46 47.7,21.8C47.85,21.14 48.41,21 48.8,20.2C49.19,19.4 49.91,17.16 50.3,16.5C50.69,15.84 51.2,16.14 51.4,15.8C51.59,15.46 51.8,14.53 51.6,14.2C51.41,13.87 50.37,14.15 50.1,13.6C49.83,13.04 50.11,11.4 49.8,10.5C49.48,9.6 48.8,8.24 48,7.6C47.2,6.96 45.55,6.2 44.5,6.2Z" fill="#1a1a1a"/>
<rect x="160.5" y="560.5" width="26.4" height="10.5" fill="#2BDFB0"/>
<rect x="239.1" y="560.5" width="26.4" height="10.5" fill="#8CFCD2"/>
<rect x="474.9" y="560.5" width="26.4" height="94.5" fill="#20B2B6"/>
<rect x="474.9" y="655" width="26.4" height="147" fill="#046EB8"/>
<rect x="474.9" y="802" width="26.4" height="10.5" fill="#93F2F7"/>
<rect x="514.2" y="560.5" width="26.4" height="21" fill="#20B2B6"/>
<rect x="514.2" y="581.5" width="26.4" height="199.5" fill="#046EB8"/>
<rect x="553.5" y="560.5" width="26.4" height="10.5" fill="#8CFCD2"/>
<rect x="553.5" y="571" width="26.4" height="126" fill="#20B2B6"/>
<rect x="553.5" y="697" width="26.4" height="105" fill="#046EB8"/>
<rect x="592.8" y="560.5" width="26.4" height="21" fill="#8CFCD2"/>
<rect x="632.1" y="560.5" width="26.4" height="73.5" fill="#8CFCD2"/>
<rect x="632.1" y="634" width="26.4" height="21" fill="#20B2B6"/>
<rect x="632.1" y="655" width="26.4" height="42" fill="#B4EBE6"/>
<rect x="671.4" y="560.5" width="26.4" height="42" fill="#8CFCD2"/>
<rect x="671.4" y="602.5" width="26.4" height="10.5" fill="#93F2F7"/>
<rect x="710.7" y="560.5" width="26.4" height="42" fill="#8CFCD2"/>
<rect x="789.3" y="560.5" width="26.4" height="10.5" fill="#7E3291"/>
<rect x="828.6" y="560.5" width="26.4" height="10.5" fill="#FF6600"/>
<rect x="867.9" y="560.5" width="26.4" height="10.5" fill="#F0047F"/>
<rect x="907.2" y="560.5" width="26.4" height="315.5" fill="#F0047F"/>
<rect x="907.2" y="898.7" width="26.4" height="20.1" fill="#F0047F"/>
<line x1="134.5" y1="560.5" x2="948.7" y2="560.5" stroke="#000" stroke-width="2.4"/>
<line x1="173.7" y1="560.5" x2="173.7" y2="547.4" stroke="#000" stroke-width="2.4"/>
<line x1="213" y1="560.5" x2="213" y2="547.4" stroke="#000" stroke-width="2.4"/>
<line x1="252.3" y1="560.5" x2="252.3" y2="547.4" stroke="#000" stroke-width="2.4"/>
<line x1="291.6" y1="560.5" x2="291.6" y2="547.4" stroke="#000" stroke-width="2.4"/>
<line x1="330.9" y1="560.5" x2="330.9" y2="547.4" stroke="#000" stroke-width="2.4"/>
<line x1="370.2" y1="560.5" x2="370.2" y2="547.4" stroke="#000" stroke-width="2.4"/>
<line x1="409.5" y1="560.5" x2="409.5" y2="547.4" stroke="#000" stroke-width="2.4"/>
<line x1="448.8" y1="560.5" x2="448.8" y2="547.4" stroke="#000" stroke-width="2.4"/>
<line x1="488.1" y1="560.5" x2="488.1" y2="547.4" stroke="#000" stroke-width="2.4"/>
<line x1="527.4" y1="560.5" x2="527.4" y2="547.4" stroke="#000" stroke-width="2.4"/>
<line x1="566.7" y1="560.5" x2="566.7" y2="547.4" stroke="#000" stroke-width="2.4"/>
<line x1="606" y1="560.5" x2="606" y2="547.4" stroke="#000" stroke-width="2.4"/>
<line x1="645.3" y1="560.5" x2="645.3" y2="547.4" stroke="#000" stroke-width="2.4"/>
<line x1="684.6" y1="560.5" x2="684.6" y2="547.4" stroke="#000" stroke-width="2.4"/>
<line x1="723.9" y1="560.5" x2="723.9" y2="547.4" stroke="#000" stroke-width="2.4"/>
<line x1="763.2" y1="560.5" x2="763.2" y2="547.4" stroke="#000" stroke-width="2.4"/>
<line x1="802.5" y1="560.5" x2="802.5" y2="547.4" stroke="#000" stroke-width="2.4"/>
<line x1="841.8" y1="560.5" x2="841.8" y2="547.4" stroke="#000" stroke-width="2.4"/>
<line x1="881.1" y1="560.5" x2="881.1" y2="547.4" stroke="#000" stroke-width="2.4"/>
<line x1="920.4" y1="560.5" x2="920.4" y2="547.4" stroke="#000" stroke-width="2.4"/>
<line x1="147.6" y1="560.5" x2="147.6" y2="876" stroke="#000" stroke-width="2.4"/>
<line x1="147.6" y1="896" x2="147.6" y2="947.6" stroke="#000" stroke-width="2.4"/>
<text x="121.6" y="566.2" text-anchor="end" font-size="27">0</text>
<line x1="134.5" y1="665.5" x2="147.6" y2="665.5" stroke="#000" stroke-width="2.4"/>
<text x="125.2" y="675.2" text-anchor="end" font-size="27">10</text>
<line x1="134.5" y1="770.5" x2="147.6" y2="770.5" stroke="#000" stroke-width="2.4"/>
<text x="125.2" y="780.2" text-anchor="end" font-size="27">20</text>
<text x="125.2" y="879.7" text-anchor="end" font-size="27">30</text>
<text x="128.8" y="914.7" text-anchor="end" font-size="27">400</text>
<line x1="134.5" y1="946.4" x2="147.6" y2="946.4" stroke="#000" stroke-width="2.4"/>
<text x="128.8" y="956.1" text-anchor="end" font-size="27">450</text>
<line x1="139.5" y1="885.5" x2="155.7" y2="870.5" stroke="#000" stroke-width="2.4"/>
<line x1="139.5" y1="903.7" x2="155.7" y2="889" stroke="#000" stroke-width="2.4"/>
<text transform="translate(69.6 747) rotate(-90)" text-anchor="middle" font-size="35">Counts</text>
<g transform="translate(175 870) scale(1)"><path d="M8,17.6C8.05,17.24 10.66,14.04 11.2,13.4C11.74,12.76 12.89,11.54 13.4,11.2C13.91,10.86 15.94,10 16.3,10C16.66,10 16.75,10.86 17,11.2C17.25,11.54 18.22,12.96 18.8,13.4C19.38,13.84 22.05,14.93 22.8,15.6C23.55,16.27 25.72,18.98 26.3,20.1C26.88,21.22 28.1,25.68 28.6,26.8C29.1,27.92 30.59,30.54 31.3,31.3C32.01,32.06 34.59,33.96 35.7,34.4C36.81,34.84 41.06,35.55 42.4,35.7C43.74,35.85 48.07,35.99 49.1,35.9C50.13,35.81 51.9,35.35 52.7,34.8C53.5,34.25 56.21,31.65 57.1,30.4C57.99,29.15 60.84,23.46 61.6,22.3C62.36,21.14 64.12,19.31 64.7,18.8C65.28,18.29 67.08,17.16 67.4,17.2C67.72,17.24 67.97,18.64 67.9,19.2C67.83,19.76 66.44,22.13 66.7,22.8C66.96,23.47 69.89,25.41 70.5,25.9C71.11,26.39 72.6,26.81 72.8,27.7C73,28.59 72.64,33.69 72.5,34.8C72.36,35.91 71.73,38.13 71.4,38.8C71.07,39.47 69.78,40.69 69.2,41.5C68.62,42.31 66.54,45.78 65.6,46.9C64.66,48.02 60.42,51.63 59.8,52.7C59.18,53.77 59.93,56.62 59.4,57.6C58.87,58.58 55.53,61.74 54.5,62.5C53.47,63.26 50.09,64.59 49.1,65.2C48.11,65.81 45.36,68.06 44.6,68.6C43.84,69.14 42.16,70.5 41.5,70.6C40.84,70.7 38.45,69.78 38,69.6C37.55,69.42 37.45,69.2 37,68.8C36.55,68.4 34.3,66.32 33.5,65.6C32.7,64.88 30.03,62.62 29,61.6C27.97,60.58 24.31,56.56 23.2,55.4C22.09,54.24 18.7,51.25 17.9,50C17.1,48.75 15.56,44.11 15.2,42.9C14.84,41.69 14.35,39.06 14.3,37.9C14.25,36.74 14.63,32.77 14.7,31.3C14.77,29.83 15.31,24.37 15,23.2C14.69,22.03 12.03,20.22 11.6,19.6C11.17,18.98 11.06,17.2 10.7,17C10.34,16.8 7.95,17.96 8,17.6Z" fill="#333"/><path d="M38.9,68 L37.7,77.2 M37.7,77.2 L29.3,84.5 M37.4,77.8 L29.8,81.5 M37.6,78 L35.6,85.2 M43.4,68 L43.7,77.4 M43.7,77.4 L39.4,80.6 M43.7,77.4 L45.2,78.9" fill="none" stroke="#333" stroke-width="1.7" stroke-linecap="round"/></g>
<rect x="693" y="697.1" width="32" height="16" fill="#F0047F"/>
<text x="741.5" y="712.7" font-size="26.2">U.S.</text>
<rect x="693" y="729.25" width="32" height="16" fill="#FF6600"/>
<text x="741.5" y="744.85" font-size="26.2">Canada</text>
<rect x="693" y="761.4" width="32" height="16" fill="#20B2B6"/>
<text x="741.5" y="777" font-size="26.2">Cambodia</text>
<rect x="693" y="793.55" width="32" height="16" fill="#046EB8"/>
<text x="741.5" y="809.15" font-size="26.2">Vietnam</text>
<rect x="693" y="825.7" width="32" height="16" fill="#2BDFB0"/>
<text x="741.5" y="841.3" font-size="26.2">Thailand</text>
<rect x="693" y="857.85" width="32" height="16" fill="#8CFCD2"/>
<text x="741.5" y="873.45" font-size="26.2">Laos</text>
<rect x="693" y="890" width="32" height="16" fill="#93F2F7"/>
<text x="741.5" y="905.6" font-size="26.2">Bangladesh</text>
<rect x="693" y="922.15" width="32" height="16" fill="#B4EBE6"/>
<text x="741.5" y="937.75" font-size="26.2">Myanmar</text>
<rect x="693" y="954.3" width="32" height="16" fill="#7E3291"/>
<text x="741.5" y="969.9" font-size="26.2">Nigeria</text>
<text x="1072.8" y="37.8" font-weight="bold" fill="#000" font-size="53">B</text>
<text x="1571.6" y="46.2" text-anchor="middle" font-weight="bold" font-size="35">Cambodia&amp;Vietnam</text>
<text x="1572" y="88" text-anchor="middle" font-weight="bold" font-size="35">H5N1-PB2</text>
<rect x="1210.55" y="407.81" width="26.5" height="50.3" fill="#C8C9C8"/>
<rect x="1210.55" y="290.45" width="26.5" height="117.36" fill="#06994A"/>
<rect x="1250.18" y="441.34" width="26.5" height="16.77" fill="#C8C9C8"/>
<rect x="1250.18" y="424.57" width="26.5" height="16.77" fill="#06994A"/>
<rect x="1289.81" y="357.51" width="26.5" height="100.59" fill="#C8C9C8"/>
<rect x="1289.81" y="307.22" width="26.5" height="50.3" fill="#06994A"/>
<rect x="1329.44" y="357.51" width="26.5" height="100.59" fill="#C8C9C8"/>
<rect x="1329.44" y="307.22" width="26.5" height="50.3" fill="#06994A"/>
<rect x="1369.07" y="424.57" width="26.5" height="33.53" fill="#C8C9C8"/>
<rect x="1369.07" y="374.28" width="26.5" height="50.3" fill="#06994A"/>
<rect x="1408.7" y="391.04" width="26.5" height="67.06" fill="#C8C9C8"/>
<rect x="1408.7" y="340.75" width="26.5" height="50.3" fill="#06994A"/>
<rect x="1448.33" y="391.04" width="26.5" height="67.06" fill="#C8C9C8"/>
<rect x="1448.33" y="357.51" width="26.5" height="33.53" fill="#06994A"/>
<rect x="1487.96" y="391.04" width="26.5" height="67.06" fill="#C8C9C8"/>
<rect x="1487.96" y="374.28" width="26.5" height="16.77" fill="#06994A"/>
<rect x="1923.89" y="424.57" width="26.5" height="33.53" fill="#C8C9C8"/>
<rect x="1923.89" y="357.51" width="26.5" height="67.06" fill="#06994A"/>
<rect x="1963.52" y="391.04" width="26.5" height="67.06" fill="#C8C9C8"/>
<rect x="1963.52" y="340.75" width="26.5" height="50.3" fill="#06994A"/>
<rect x="1527.59" y="173.1" width="26.5" height="285" fill="#FA9898"/>
<rect x="1567.22" y="340.75" width="26.5" height="117.36" fill="#FA9898"/>
<line x1="1186.2" y1="121.6" x2="1186.2" y2="458.1" stroke="#000" stroke-width="2.4"/>
<line x1="1172.8" y1="458.1" x2="2000" y2="458.1" stroke="#000" stroke-width="2.4"/>
<line x1="1172.8" y1="458.1" x2="1186.2" y2="458.1" stroke="#000" stroke-width="2.4"/>
<text x="1166.4" y="467" text-anchor="end" font-size="27">0</text>
<line x1="1172.8" y1="374.28" x2="1186.2" y2="374.28" stroke="#000" stroke-width="2.4"/>
<text x="1166.4" y="383.18" text-anchor="end" font-size="27">5</text>
<line x1="1172.8" y1="290.45" x2="1186.2" y2="290.45" stroke="#000" stroke-width="2.4"/>
<text x="1166.4" y="299.35" text-anchor="end" font-size="27">10</text>
<line x1="1172.8" y1="206.62" x2="1186.2" y2="206.62" stroke="#000" stroke-width="2.4"/>
<text x="1166.4" y="215.53" text-anchor="end" font-size="27">15</text>
<line x1="1172.8" y1="122.8" x2="1186.2" y2="122.8" stroke="#000" stroke-width="2.4"/>
<text x="1166.4" y="131.7" text-anchor="end" font-size="27">20</text>
<line x1="1223.8" y1="458.1" x2="1223.8" y2="471.5" stroke="#000" stroke-width="2.4"/>
<line x1="1263.43" y1="458.1" x2="1263.43" y2="471.5" stroke="#000" stroke-width="2.4"/>
<line x1="1303.06" y1="458.1" x2="1303.06" y2="471.5" stroke="#000" stroke-width="2.4"/>
<line x1="1342.69" y1="458.1" x2="1342.69" y2="471.5" stroke="#000" stroke-width="2.4"/>
<line x1="1382.32" y1="458.1" x2="1382.32" y2="471.5" stroke="#000" stroke-width="2.4"/>
<line x1="1421.95" y1="458.1" x2="1421.95" y2="471.5" stroke="#000" stroke-width="2.4"/>
<line x1="1461.58" y1="458.1" x2="1461.58" y2="471.5" stroke="#000" stroke-width="2.4"/>
<line x1="1501.21" y1="458.1" x2="1501.21" y2="471.5" stroke="#000" stroke-width="2.4"/>
<line x1="1540.84" y1="458.1" x2="1540.84" y2="471.5" stroke="#000" stroke-width="2.4"/>
<line x1="1580.47" y1="458.1" x2="1580.47" y2="471.5" stroke="#000" stroke-width="2.4"/>
<line x1="1620.1" y1="458.1" x2="1620.1" y2="471.5" stroke="#000" stroke-width="2.4"/>
<line x1="1659.73" y1="458.1" x2="1659.73" y2="471.5" stroke="#000" stroke-width="2.4"/>
<line x1="1699.36" y1="458.1" x2="1699.36" y2="471.5" stroke="#000" stroke-width="2.4"/>
<line x1="1738.99" y1="458.1" x2="1738.99" y2="471.5" stroke="#000" stroke-width="2.4"/>
<line x1="1778.62" y1="458.1" x2="1778.62" y2="471.5" stroke="#000" stroke-width="2.4"/>
<line x1="1818.25" y1="458.1" x2="1818.25" y2="471.5" stroke="#000" stroke-width="2.4"/>
<line x1="1857.88" y1="458.1" x2="1857.88" y2="471.5" stroke="#000" stroke-width="2.4"/>
<line x1="1897.51" y1="458.1" x2="1897.51" y2="471.5" stroke="#000" stroke-width="2.4"/>
<line x1="1937.14" y1="458.1" x2="1937.14" y2="471.5" stroke="#000" stroke-width="2.4"/>
<line x1="1976.77" y1="458.1" x2="1976.77" y2="471.5" stroke="#000" stroke-width="2.4"/>
<text transform="translate(1109.3 262.5) rotate(-90)" text-anchor="middle" font-size="35">Counts</text>
<text transform="translate(1234.8 477.7) rotate(-90)" text-anchor="end" font-size="27">2005</text>
<text transform="translate(1432.95 477.7) rotate(-90)" text-anchor="end" font-size="27">2010</text>
<text transform="translate(1551.84 477.7) rotate(-90)" text-anchor="end" font-weight="bold" fill="#E60012" font-size="27">2013</text>
<text transform="translate(1591.47 477.7) rotate(-90)" text-anchor="end" font-weight="bold" fill="#E60012" font-size="27">2014</text>
<text transform="translate(1631.1 477.7) rotate(-90)" text-anchor="end" font-size="27">2015</text>
<text transform="translate(1829.25 477.7) rotate(-90)" text-anchor="end" font-size="27">2020</text>
<text transform="translate(1987.77 477.7) rotate(-90)" text-anchor="end" font-size="27">2024</text>
<rect x="1754" y="131.2" width="31.2" height="15.4" fill="#06994A"/>
<text x="1802.8" y="146.4" font-size="26.6">E627K</text>
<rect x="1754" y="175.6" width="31.2" height="15.4" fill="#FA9898"/>
<text x="1802.8" y="191.7" font-size="26.6">M631L</text>
<rect x="1754" y="220" width="31.2" height="15.4" fill="#C8C9C8"/>
<text x="1802.8" y="238.9" font-size="26.6">627E/631M</text>
<path transform="translate(1193.9 114.3) scale(1)" d="M44.5,6.2C43.45,6.2 41.8,6.96 41,7.6C40.2,8.24 39.52,9.6 39.2,10.5C38.89,11.4 39.17,13.04 38.9,13.6C38.63,14.15 37.59,13.87 37.4,14.2C37.2,14.53 37.41,15.46 37.6,15.8C37.8,16.14 38.31,15.84 38.7,16.5C39.09,17.16 39.81,19.4 40.2,20.2C40.59,21 41.15,21.14 41.3,21.8C41.45,22.46 41.84,23.91 41.2,24.6C40.56,25.29 38.38,25.95 37,26.4C35.62,26.85 33.11,26.97 32,27.6C30.89,28.23 30.11,29.34 29.6,30.6C29.09,31.86 28.93,34.37 28.6,36C28.27,37.63 27.82,39.88 27.4,41.5C26.98,43.12 26.52,44.98 25.8,46.8C25.08,48.61 23.68,51.17 22.6,53.6C21.52,56.03 19.86,61.3 18.6,63C17.34,64.7 15.43,64.27 14.2,64.9C12.97,65.53 10.79,66.7 10.4,67.2C10.01,67.7 11.15,68.11 11.6,68.2C12.05,68.29 13.34,67.23 13.4,67.8C13.46,68.37 12.15,70.74 12,72C11.85,73.26 11.86,75.66 12.4,76.2C12.94,76.74 14.49,76.44 15.6,75.6C16.71,74.76 18.51,72.46 19.8,70.6C21.09,68.74 22.67,65.75 24.2,63.2C25.73,60.65 28.62,56.48 30,53.6C31.38,50.72 32.77,44.47 33.4,44C34.03,43.53 33.99,48.28 34.2,50.5C34.41,52.72 34.98,56.89 34.8,58.8C34.62,60.7 33.39,61.73 33,63.2C32.61,64.67 32.35,66.29 32.2,68.6C32.05,70.91 31.76,75.57 32,78.6C32.24,81.63 33.59,86.04 33.8,88.8C34.01,91.56 33.43,94.72 33.4,97C33.37,99.28 33.48,101.3 33.6,104C33.72,106.7 34.02,112.15 34.2,115C34.38,117.85 35.04,121.35 34.8,123C34.56,124.65 33.11,124.98 32.6,126C32.09,127.02 31.34,129 31.4,129.8C31.46,130.6 32.12,131.03 33,131.3C33.88,131.57 36.4,131.85 37.3,131.6C38.2,131.34 38.74,130.56 39,129.6C39.26,128.64 38.89,127.81 39,125.2C39.11,122.59 39.46,115.38 39.7,112.2C39.94,109.02 40.32,106.58 40.6,104C40.88,101.42 41.29,97.27 41.6,95C41.91,92.73 42.42,91.15 42.7,88.9C42.98,86.65 43.23,82.2 43.5,80C43.77,77.8 44.2,74.2 44.5,74.2C44.8,74.2 45.23,77.8 45.5,80C45.77,82.2 46.02,86.65 46.3,88.9C46.58,91.15 47.09,92.73 47.4,95C47.71,97.27 48.12,101.42 48.4,104C48.68,106.58 49.06,109.02 49.3,112.2C49.54,115.38 49.89,122.59 50,125.2C50.11,127.81 49.74,128.64 50,129.6C50.26,130.56 50.8,131.34 51.7,131.6C52.6,131.85 55.12,131.57 56,131.3C56.88,131.03 57.54,130.6 57.6,129.8C57.66,129 56.91,127.02 56.4,126C55.89,124.98 54.44,124.65 54.2,123C53.96,121.35 54.62,117.85 54.8,115C54.98,112.15 55.28,106.7 55.4,104C55.52,101.3 55.63,99.28 55.6,97C55.57,94.72 54.99,91.56 55.2,88.8C55.41,86.04 56.76,81.63 57,78.6C57.24,75.57 56.95,70.91 56.8,68.6C56.65,66.29 56.39,64.67 56,63.2C55.61,61.73 54.38,60.7 54.2,58.8C54.02,56.89 54.59,52.72 54.8,50.5C55.01,48.28 54.97,43.53 55.6,44C56.23,44.47 57.62,50.72 59,53.6C60.38,56.48 63.27,60.65 64.8,63.2C66.33,65.75 67.91,68.74 69.2,70.6C70.49,72.46 72.29,74.76 73.4,75.6C74.51,76.44 76.06,76.74 76.6,76.2C77.14,75.66 77.15,73.26 77,72C76.85,70.74 75.54,68.37 75.6,67.8C75.66,67.23 76.95,68.29 77.4,68.2C77.85,68.11 78.99,67.7 78.6,67.2C78.21,66.7 76.03,65.53 74.8,64.9C73.57,64.27 71.66,64.7 70.4,63C69.14,61.3 67.48,56.03 66.4,53.6C65.32,51.17 63.92,48.61 63.2,46.8C62.48,44.98 62.02,43.12 61.6,41.5C61.18,39.88 60.73,37.63 60.4,36C60.07,34.37 59.91,31.86 59.4,30.6C58.89,29.34 58.11,28.23 57,27.6C55.89,26.97 53.38,26.85 52,26.4C50.62,25.95 48.44,25.29 47.8,24.6C47.16,23.91 47.55,22.46 47.7,21.8C47.85,21.14 48.41,21 48.8,20.2C49.19,19.4 49.91,17.16 50.3,16.5C50.69,15.84 51.2,16.14 51.4,15.8C51.59,15.46 51.8,14.53 51.6,14.2C51.41,13.87 50.37,14.15 50.1,13.6C49.83,13.04 50.11,11.4 49.8,10.5C49.48,9.6 48.8,8.24 48,7.6C47.2,6.96 45.55,6.2 44.5,6.2Z" fill="#1a1a1a"/>
<rect x="1210.55" y="559.3" width="26.5" height="122.88" fill="#C8C9C8"/>
<rect x="1250.18" y="559.3" width="26.5" height="17.01" fill="#C8C9C8"/>
<rect x="1289.81" y="559.3" width="26.5" height="311.93" fill="#C8C9C8"/>
<rect x="1329.44" y="559.3" width="26.5" height="138.95" fill="#C8C9C8"/>
<rect x="1369.07" y="559.3" width="26.5" height="90.37" fill="#C8C9C8"/>
<rect x="1369.07" y="649.67" width="26.5" height="7.94" fill="#06994A"/>
<rect x="1408.7" y="559.3" width="26.5" height="103.6" fill="#C8C9C8"/>
<rect x="1448.33" y="559.3" width="26.5" height="187.16" fill="#C8C9C8"/>
<rect x="1487.96" y="559.3" width="26.5" height="283.57" fill="#C8C9C8"/>
<rect x="1487.96" y="842.88" width="26.5" height="1.89" fill="#06994A"/>
<rect x="1527.59" y="559.3" width="26.5" height="141.79" fill="#C8C9C8"/>
<rect x="1527.59" y="701.09" width="26.5" height="36.11" fill="#FA9898"/>
<rect x="1567.22" y="559.3" width="26.5" height="27.98" fill="#C8C9C8"/>
<rect x="1567.22" y="587.28" width="26.5" height="34.41" fill="#FA9898"/>
<rect x="1606.85" y="559.3" width="26.5" height="76" fill="#C8C9C8"/>
<rect x="1606.85" y="635.3" width="26.5" height="41.78" fill="#FA9898"/>
<rect x="1606.85" y="677.08" width="26.5" height="1.7" fill="#06994A"/>
<rect x="1646.48" y="559.3" width="26.5" height="24.01" fill="#C8C9C8"/>
<rect x="1686.11" y="559.3" width="26.5" height="31.57" fill="#C8C9C8"/>
<rect x="1686.11" y="590.87" width="26.5" height="3.97" fill="#FA9898"/>
<rect x="1725.74" y="559.3" width="26.5" height="34.03" fill="#C8C9C8"/>
<rect x="1765.37" y="559.3" width="26.5" height="34.03" fill="#C8C9C8"/>
<rect x="1844.63" y="559.3" width="26.5" height="5.48" fill="#C8C9C8"/>
<rect x="1884.26" y="559.3" width="26.5" height="3.21" fill="#C8C9C8"/>
<rect x="1923.89" y="559.3" width="26.5" height="22.69" fill="#C8C9C8"/>
<rect x="1923.89" y="581.99" width="26.5" height="1.7" fill="#06994A"/>
<rect x="1963.52" y="559.3" width="26.5" height="26.47" fill="#C8C9C8"/>
<rect x="1963.52" y="585.77" width="26.5" height="7.75" fill="#06994A"/>
<line x1="1172.8" y1="559.3" x2="2000" y2="559.3" stroke="#000" stroke-width="2.4"/>
<line x1="1223.8" y1="559.3" x2="1223.8" y2="546.3" stroke="#000" stroke-width="2.4"/>
<line x1="1263.43" y1="559.3" x2="1263.43" y2="546.3" stroke="#000" stroke-width="2.4"/>
<line x1="1303.06" y1="559.3" x2="1303.06" y2="546.3" stroke="#000" stroke-width="2.4"/>
<line x1="1342.69" y1="559.3" x2="1342.69" y2="546.3" stroke="#000" stroke-width="2.4"/>
<line x1="1382.32" y1="559.3" x2="1382.32" y2="546.3" stroke="#000" stroke-width="2.4"/>
<line x1="1421.95" y1="559.3" x2="1421.95" y2="546.3" stroke="#000" stroke-width="2.4"/>
<line x1="1461.58" y1="559.3" x2="1461.58" y2="546.3" stroke="#000" stroke-width="2.4"/>
<line x1="1501.21" y1="559.3" x2="1501.21" y2="546.3" stroke="#000" stroke-width="2.4"/>
<line x1="1540.84" y1="559.3" x2="1540.84" y2="546.3" stroke="#000" stroke-width="2.4"/>
<line x1="1580.47" y1="559.3" x2="1580.47" y2="546.3" stroke="#000" stroke-width="2.4"/>
<line x1="1620.1" y1="559.3" x2="1620.1" y2="546.3" stroke="#000" stroke-width="2.4"/>
<line x1="1659.73" y1="559.3" x2="1659.73" y2="546.3" stroke="#000" stroke-width="2.4"/>
<line x1="1699.36" y1="559.3" x2="1699.36" y2="546.3" stroke="#000" stroke-width="2.4"/>
<line x1="1738.99" y1="559.3" x2="1738.99" y2="546.3" stroke="#000" stroke-width="2.4"/>
<line x1="1778.62" y1="559.3" x2="1778.62" y2="546.3" stroke="#000" stroke-width="2.4"/>
<line x1="1818.25" y1="559.3" x2="1818.25" y2="546.3" stroke="#000" stroke-width="2.4"/>
<line x1="1857.88" y1="559.3" x2="1857.88" y2="546.3" stroke="#000" stroke-width="2.4"/>
<line x1="1897.51" y1="559.3" x2="1897.51" y2="546.3" stroke="#000" stroke-width="2.4"/>
<line x1="1937.14" y1="559.3" x2="1937.14" y2="546.3" stroke="#000" stroke-width="2.4"/>
<line x1="1976.77" y1="559.3" x2="1976.77" y2="546.3" stroke="#000" stroke-width="2.4"/>
<line x1="1186.2" y1="559.3" x2="1186.2" y2="938.6" stroke="#000" stroke-width="2.4"/>
<text x="1166.4" y="568.2" text-anchor="end" font-size="27">0</text>
<line x1="1172.8" y1="653.82" x2="1186.2" y2="653.82" stroke="#000" stroke-width="2.4"/>
<text x="1166.4" y="662.72" text-anchor="end" font-size="27">50</text>
<line x1="1172.8" y1="748.35" x2="1186.2" y2="748.35" stroke="#000" stroke-width="2.4"/>
<text x="1166.4" y="757.25" text-anchor="end" font-size="27">100</text>
<line x1="1172.8" y1="842.88" x2="1186.2" y2="842.88" stroke="#000" stroke-width="2.4"/>
<text x="1166.4" y="851.77" text-anchor="end" font-size="27">150</text>
<line x1="1172.8" y1="937.4" x2="1186.2" y2="937.4" stroke="#000" stroke-width="2.4"/>
<text x="1166.4" y="946.3" text-anchor="end" font-size="27">200</text>
<text transform="translate(1109.3 747) rotate(-90)" text-anchor="middle" font-size="35">Counts</text>
<g transform="translate(1199 869.7) scale(1)"><path d="M8,17.6C8.05,17.24 10.66,14.04 11.2,13.4C11.74,12.76 12.89,11.54 13.4,11.2C13.91,10.86 15.94,10 16.3,10C16.66,10 16.75,10.86 17,11.2C17.25,11.54 18.22,12.96 18.8,13.4C19.38,13.84 22.05,14.93 22.8,15.6C23.55,16.27 25.72,18.98 26.3,20.1C26.88,21.22 28.1,25.68 28.6,26.8C29.1,27.92 30.59,30.54 31.3,31.3C32.01,32.06 34.59,33.96 35.7,34.4C36.81,34.84 41.06,35.55 42.4,35.7C43.74,35.85 48.07,35.99 49.1,35.9C50.13,35.81 51.9,35.35 52.7,34.8C53.5,34.25 56.21,31.65 57.1,30.4C57.99,29.15 60.84,23.46 61.6,22.3C62.36,21.14 64.12,19.31 64.7,18.8C65.28,18.29 67.08,17.16 67.4,17.2C67.72,17.24 67.97,18.64 67.9,19.2C67.83,19.76 66.44,22.13 66.7,22.8C66.96,23.47 69.89,25.41 70.5,25.9C71.11,26.39 72.6,26.81 72.8,27.7C73,28.59 72.64,33.69 72.5,34.8C72.36,35.91 71.73,38.13 71.4,38.8C71.07,39.47 69.78,40.69 69.2,41.5C68.62,42.31 66.54,45.78 65.6,46.9C64.66,48.02 60.42,51.63 59.8,52.7C59.18,53.77 59.93,56.62 59.4,57.6C58.87,58.58 55.53,61.74 54.5,62.5C53.47,63.26 50.09,64.59 49.1,65.2C48.11,65.81 45.36,68.06 44.6,68.6C43.84,69.14 42.16,70.5 41.5,70.6C40.84,70.7 38.45,69.78 38,69.6C37.55,69.42 37.45,69.2 37,68.8C36.55,68.4 34.3,66.32 33.5,65.6C32.7,64.88 30.03,62.62 29,61.6C27.97,60.58 24.31,56.56 23.2,55.4C22.09,54.24 18.7,51.25 17.9,50C17.1,48.75 15.56,44.11 15.2,42.9C14.84,41.69 14.35,39.06 14.3,37.9C14.25,36.74 14.63,32.77 14.7,31.3C14.77,29.83 15.31,24.37 15,23.2C14.69,22.03 12.03,20.22 11.6,19.6C11.17,18.98 11.06,17.2 10.7,17C10.34,16.8 7.95,17.96 8,17.6Z" fill="#333"/><path d="M38.9,68 L37.7,77.2 M37.7,77.2 L29.3,84.5 M37.4,77.8 L29.8,81.5 M37.6,78 L35.6,85.2 M43.4,68 L43.7,77.4 M43.7,77.4 L39.4,80.6 M43.7,77.4 L45.2,78.9" fill="none" stroke="#333" stroke-width="1.7" stroke-linecap="round"/></g>
<rect x="1754" y="814" width="31.2" height="15.6" fill="#06994A"/>
<text x="1802.8" y="829.4" font-size="26.6">E627K</text>
<rect x="1754" y="858.5" width="31.2" height="15.6" fill="#FA9898"/>
<text x="1802.8" y="874.7" font-size="26.6">M631L</text>
<rect x="1754" y="903" width="31.2" height="15.6" fill="#C8C9C8"/>
<text x="1802.8" y="922.3" font-size="26.6">627E/631M</text>
<text x="-0.8" y="1082" font-weight="bold" fill="#231815" font-size="53">C</text>
<line x1="143.8" y1="1108" x2="143.8" y2="1446.4" stroke="#000" stroke-width="3.4"/>
<line x1="134" y1="1444.8" x2="641.6" y2="1444.8" stroke="#000" stroke-width="3.4"/>
<line x1="134" y1="1445.2" x2="143.8" y2="1445.2" stroke="#000" stroke-width="3.4"/>
<text x="128" y="1454.9" text-anchor="end" font-size="27">60</text>
<line x1="134" y1="1333.4" x2="143.8" y2="1333.4" stroke="#000" stroke-width="3.4"/>
<text x="128" y="1343.1" text-anchor="end" font-size="27">80</text>
<line x1="134" y1="1221.6" x2="143.8" y2="1221.6" stroke="#000" stroke-width="3.4"/>
<text x="128" y="1231.3" text-anchor="end" font-size="27">100</text>
<line x1="134" y1="1109.8" x2="143.8" y2="1109.8" stroke="#000" stroke-width="3.4"/>
<text x="128" y="1119.5" text-anchor="end" font-size="27">120</text>
<line x1="138" y1="1389.3" x2="143.8" y2="1389.3" stroke="#000" stroke-width="3.4"/>
<line x1="138" y1="1277.5" x2="143.8" y2="1277.5" stroke="#000" stroke-width="3.4"/>
<line x1="138" y1="1165.7" x2="143.8" y2="1165.7" stroke="#000" stroke-width="3.4"/>
<line x1="164.6" y1="1444.8" x2="164.6" y2="1454" stroke="#000" stroke-width="3.4"/>
<text x="164.6" y="1484.9" text-anchor="middle" font-size="27">0</text>
<line x1="229.48" y1="1444.8" x2="229.48" y2="1454" stroke="#000" stroke-width="3.4"/>
<text x="229.48" y="1484.9" text-anchor="middle" font-size="27">2</text>
<line x1="294.36" y1="1444.8" x2="294.36" y2="1454" stroke="#000" stroke-width="3.4"/>
<text x="294.36" y="1484.9" text-anchor="middle" font-size="27">4</text>
<line x1="359.24" y1="1444.8" x2="359.24" y2="1454" stroke="#000" stroke-width="3.4"/>
<text x="359.24" y="1484.9" text-anchor="middle" font-size="27">6</text>
<line x1="424.12" y1="1444.8" x2="424.12" y2="1454" stroke="#000" stroke-width="3.4"/>
<text x="424.12" y="1484.9" text-anchor="middle" font-size="27">8</text>
<line x1="489" y1="1444.8" x2="489" y2="1454" stroke="#000" stroke-width="3.4"/>
<text x="489" y="1484.9" text-anchor="middle" font-size="27">10</text>
<line x1="553.88" y1="1444.8" x2="553.88" y2="1454" stroke="#000" stroke-width="3.4"/>
<text x="553.88" y="1484.9" text-anchor="middle" font-size="27">12</text>
<line x1="618.76" y1="1444.8" x2="618.76" y2="1454" stroke="#000" stroke-width="3.4"/>
<text x="618.76" y="1484.9" text-anchor="middle" font-size="27">14</text>
<text transform="translate(70.5 1289.7) rotate(-90)" text-anchor="middle" font-size="35">Weight (%)</text>
<line x1="197.04" y1="1248" x2="197.04" y2="1263.6" stroke="#9467BD" stroke-width="2.6"/>
<line x1="190.54" y1="1248" x2="203.54" y2="1248" stroke="#9467BD" stroke-width="2.8"/>
<line x1="190.54" y1="1263.6" x2="203.54" y2="1263.6" stroke="#9467BD" stroke-width="2.8"/>
<line x1="229.48" y1="1247" x2="229.48" y2="1258" stroke="#9467BD" stroke-width="2.6"/>
<line x1="222.98" y1="1247" x2="235.98" y2="1247" stroke="#9467BD" stroke-width="2.8"/>
<line x1="222.98" y1="1258" x2="235.98" y2="1258" stroke="#9467BD" stroke-width="2.8"/>
<line x1="261.92" y1="1283" x2="261.92" y2="1305" stroke="#9467BD" stroke-width="2.6"/>
<line x1="255.42" y1="1283" x2="268.42" y2="1283" stroke="#9467BD" stroke-width="2.8"/>
<line x1="255.42" y1="1305" x2="268.42" y2="1305" stroke="#9467BD" stroke-width="2.8"/>
<line x1="294.36" y1="1310" x2="294.36" y2="1323" stroke="#9467BD" stroke-width="2.6"/>
<line x1="287.86" y1="1310" x2="300.86" y2="1310" stroke="#9467BD" stroke-width="2.8"/>
<line x1="287.86" y1="1323" x2="300.86" y2="1323" stroke="#9467BD" stroke-width="2.8"/>
<line x1="326.8" y1="1315" x2="326.8" y2="1347.3" stroke="#9467BD" stroke-width="2.6"/>
<line x1="320.3" y1="1315" x2="333.3" y2="1315" stroke="#9467BD" stroke-width="2.8"/>
<line x1="320.3" y1="1347.3" x2="333.3" y2="1347.3" stroke="#9467BD" stroke-width="2.8"/>
<line x1="359.24" y1="1338" x2="359.24" y2="1350" stroke="#9467BD" stroke-width="2.6"/>
<line x1="352.74" y1="1338" x2="365.74" y2="1338" stroke="#9467BD" stroke-width="2.8"/>
<line x1="352.74" y1="1350" x2="365.74" y2="1350" stroke="#9467BD" stroke-width="2.8"/>
<polyline points="164.6,1221.6 197.04,1252 229.48,1252.5 261.92,1294 294.36,1316.5 326.8,1330 359.24,1344.8" fill="none" stroke="#9467BD" stroke-width="2.9" stroke-linejoin="round"/>
<circle cx="164.6" cy="1221.6" r="6.6" fill="#9467BD"/>
<circle cx="197.04" cy="1252" r="6.6" fill="#9467BD"/>
<circle cx="229.48" cy="1252.5" r="6.6" fill="#9467BD"/>
<circle cx="261.92" cy="1294" r="6.6" fill="#9467BD"/>
<circle cx="294.36" cy="1316.5" r="6.6" fill="#9467BD"/>
<circle cx="326.8" cy="1330" r="6.6" fill="#9467BD"/>
<circle cx="359.24" cy="1344.8" r="6.6" fill="#9467BD"/>
<line x1="197.04" y1="1252" x2="197.04" y2="1257" stroke="#2CA02C" stroke-width="2.6"/>
<line x1="190.54" y1="1252" x2="203.54" y2="1252" stroke="#2CA02C" stroke-width="2.8"/>
<line x1="190.54" y1="1257" x2="203.54" y2="1257" stroke="#2CA02C" stroke-width="2.8"/>
<line x1="229.48" y1="1250" x2="229.48" y2="1271" stroke="#2CA02C" stroke-width="2.6"/>
<line x1="222.98" y1="1250" x2="235.98" y2="1250" stroke="#2CA02C" stroke-width="2.8"/>
<line x1="222.98" y1="1271" x2="235.98" y2="1271" stroke="#2CA02C" stroke-width="2.8"/>
<line x1="261.92" y1="1284.6" x2="261.92" y2="1310" stroke="#2CA02C" stroke-width="2.6"/>
<line x1="255.42" y1="1284.6" x2="268.42" y2="1284.6" stroke="#2CA02C" stroke-width="2.8"/>
<line x1="255.42" y1="1310" x2="268.42" y2="1310" stroke="#2CA02C" stroke-width="2.8"/>
<line x1="294.36" y1="1318.7" x2="294.36" y2="1334.7" stroke="#2CA02C" stroke-width="2.6"/>
<line x1="287.86" y1="1318.7" x2="300.86" y2="1318.7" stroke="#2CA02C" stroke-width="2.8"/>
<line x1="287.86" y1="1334.7" x2="300.86" y2="1334.7" stroke="#2CA02C" stroke-width="2.8"/>
<line x1="326.8" y1="1332" x2="326.8" y2="1340" stroke="#2CA02C" stroke-width="2.6"/>
<line x1="320.3" y1="1332" x2="333.3" y2="1332" stroke="#2CA02C" stroke-width="2.8"/>
<line x1="320.3" y1="1340" x2="333.3" y2="1340" stroke="#2CA02C" stroke-width="2.8"/>
<polyline points="164.6,1221.6 197.04,1254.2 229.48,1255.6 261.92,1297 294.36,1326.3 326.8,1335.8 359.24,1360" fill="none" stroke="#2CA02C" stroke-width="2.9" stroke-linejoin="round"/>
<circle cx="164.6" cy="1221.6" r="6.6" fill="#2CA02C"/>
<circle cx="197.04" cy="1254.2" r="6.6" fill="#2CA02C"/>
<circle cx="229.48" cy="1255.6" r="6.6" fill="#2CA02C"/>
<circle cx="261.92" cy="1297" r="6.6" fill="#2CA02C"/>
<circle cx="294.36" cy="1326.3" r="6.6" fill="#2CA02C"/>
<circle cx="326.8" cy="1335.8" r="6.6" fill="#2CA02C"/>
<circle cx="359.24" cy="1360" r="6.6" fill="#2CA02C"/>
<line x1="197.04" y1="1242" x2="197.04" y2="1250" stroke="#D7262B" stroke-width="2.6"/>
<line x1="190.54" y1="1242" x2="203.54" y2="1242" stroke="#D7262B" stroke-width="2.8"/>
<line x1="190.54" y1="1250" x2="203.54" y2="1250" stroke="#D7262B" stroke-width="2.8"/>
<line x1="229.48" y1="1267.5" x2="229.48" y2="1290" stroke="#D7262B" stroke-width="2.6"/>
<line x1="222.98" y1="1267.5" x2="235.98" y2="1267.5" stroke="#D7262B" stroke-width="2.8"/>
<line x1="222.98" y1="1290" x2="235.98" y2="1290" stroke="#D7262B" stroke-width="2.8"/>
<line x1="261.92" y1="1305.7" x2="261.92" y2="1331.8" stroke="#D7262B" stroke-width="2.6"/>
<line x1="255.42" y1="1305.7" x2="268.42" y2="1305.7" stroke="#D7262B" stroke-width="2.8"/>
<line x1="255.42" y1="1331.8" x2="268.42" y2="1331.8" stroke="#D7262B" stroke-width="2.8"/>
<line x1="294.36" y1="1336.9" x2="294.36" y2="1349.9" stroke="#D7262B" stroke-width="2.6"/>
<line x1="287.86" y1="1336.9" x2="300.86" y2="1336.9" stroke="#D7262B" stroke-width="2.8"/>
<line x1="287.86" y1="1349.9" x2="300.86" y2="1349.9" stroke="#D7262B" stroke-width="2.8"/>
<polyline points="164.6,1221.6 197.04,1246 229.48,1278.1 261.92,1318.7 294.36,1342.4 326.8,1360" fill="none" stroke="#D7262B" stroke-width="2.9" stroke-linejoin="round"/>
<circle cx="164.6" cy="1221.6" r="6.6" fill="#D7262B"/>
<circle cx="197.04" cy="1246" r="6.6" fill="#D7262B"/>
<circle cx="229.48" cy="1278.1" r="6.6" fill="#D7262B"/>
<circle cx="261.92" cy="1318.7" r="6.6" fill="#D7262B"/>
<circle cx="294.36" cy="1342.4" r="6.6" fill="#D7262B"/>
<circle cx="326.8" cy="1360" r="6.6" fill="#D7262B"/>
<line x1="197.04" y1="1240" x2="197.04" y2="1246" stroke="#F99A9A" stroke-width="2.6"/>
<line x1="190.54" y1="1240" x2="203.54" y2="1240" stroke="#F99A9A" stroke-width="2.8"/>
<line x1="190.54" y1="1246" x2="203.54" y2="1246" stroke="#F99A9A" stroke-width="2.8"/>
<line x1="229.48" y1="1245" x2="229.48" y2="1253" stroke="#F99A9A" stroke-width="2.6"/>
<line x1="222.98" y1="1245" x2="235.98" y2="1245" stroke="#F99A9A" stroke-width="2.8"/>
<line x1="222.98" y1="1253" x2="235.98" y2="1253" stroke="#F99A9A" stroke-width="2.8"/>
<line x1="261.92" y1="1256" x2="261.92" y2="1287" stroke="#F99A9A" stroke-width="2.6"/>
<line x1="255.42" y1="1256" x2="268.42" y2="1256" stroke="#F99A9A" stroke-width="2.8"/>
<line x1="255.42" y1="1287" x2="268.42" y2="1287" stroke="#F99A9A" stroke-width="2.8"/>
<line x1="294.36" y1="1285.4" x2="294.36" y2="1324" stroke="#F99A9A" stroke-width="2.6"/>
<line x1="287.86" y1="1285.4" x2="300.86" y2="1285.4" stroke="#F99A9A" stroke-width="2.8"/>
<line x1="287.86" y1="1324" x2="300.86" y2="1324" stroke="#F99A9A" stroke-width="2.8"/>
<line x1="326.8" y1="1310.7" x2="326.8" y2="1326" stroke="#F99A9A" stroke-width="2.6"/>
<line x1="320.3" y1="1310.7" x2="333.3" y2="1310.7" stroke="#F99A9A" stroke-width="2.8"/>
<line x1="320.3" y1="1326" x2="333.3" y2="1326" stroke="#F99A9A" stroke-width="2.8"/>
<line x1="359.24" y1="1338.5" x2="359.24" y2="1352.5" stroke="#F99A9A" stroke-width="2.6"/>
<line x1="352.74" y1="1338.5" x2="365.74" y2="1338.5" stroke="#F99A9A" stroke-width="2.8"/>
<line x1="352.74" y1="1352.5" x2="365.74" y2="1352.5" stroke="#F99A9A" stroke-width="2.8"/>
<polyline points="164.6,1221.6 197.04,1243 229.48,1249 261.92,1271.6 294.36,1304.6 326.8,1318.3 359.24,1345.6 391.68,1350.5 424.12,1358.8 456.56,1361.4 489,1367.2" fill="none" stroke="#F99A9A" stroke-width="2.9" stroke-linejoin="round"/>
<circle cx="164.6" cy="1221.6" r="6.6" fill="#F99A9A"/>
<circle cx="197.04" cy="1243" r="6.6" fill="#F99A9A"/>
<circle cx="229.48" cy="1249" r="6.6" fill="#F99A9A"/>
<circle cx="261.92" cy="1271.6" r="6.6" fill="#F99A9A"/>
<circle cx="294.36" cy="1304.6" r="6.6" fill="#F99A9A"/>
<circle cx="326.8" cy="1318.3" r="6.6" fill="#F99A9A"/>
<circle cx="359.24" cy="1345.6" r="6.6" fill="#F99A9A"/>
<circle cx="391.68" cy="1350.5" r="6.6" fill="#F99A9A"/>
<circle cx="424.12" cy="1358.8" r="6.6" fill="#F99A9A"/>
<circle cx="456.56" cy="1361.4" r="6.6" fill="#F99A9A"/>
<circle cx="489" cy="1367.2" r="6.6" fill="#F99A9A"/>
<line x1="197.04" y1="1235.3" x2="197.04" y2="1249" stroke="#1ABCD0" stroke-width="2.6"/>
<line x1="190.54" y1="1235.3" x2="203.54" y2="1235.3" stroke="#1ABCD0" stroke-width="2.8"/>
<line x1="190.54" y1="1249" x2="203.54" y2="1249" stroke="#1ABCD0" stroke-width="2.8"/>
<line x1="229.48" y1="1215.3" x2="229.48" y2="1248.8" stroke="#1ABCD0" stroke-width="2.6"/>
<line x1="222.98" y1="1215.3" x2="235.98" y2="1215.3" stroke="#1ABCD0" stroke-width="2.8"/>
<line x1="222.98" y1="1248.8" x2="235.98" y2="1248.8" stroke="#1ABCD0" stroke-width="2.8"/>
<line x1="261.92" y1="1219.3" x2="261.92" y2="1246.2" stroke="#1ABCD0" stroke-width="2.6"/>
<line x1="255.42" y1="1219.3" x2="268.42" y2="1219.3" stroke="#1ABCD0" stroke-width="2.8"/>
<line x1="255.42" y1="1246.2" x2="268.42" y2="1246.2" stroke="#1ABCD0" stroke-width="2.8"/>
<line x1="294.36" y1="1224.4" x2="294.36" y2="1252.7" stroke="#1ABCD0" stroke-width="2.6"/>
<line x1="287.86" y1="1224.4" x2="300.86" y2="1224.4" stroke="#1ABCD0" stroke-width="2.8"/>
<line x1="287.86" y1="1252.7" x2="300.86" y2="1252.7" stroke="#1ABCD0" stroke-width="2.8"/>
<line x1="326.8" y1="1213.8" x2="326.8" y2="1236" stroke="#1ABCD0" stroke-width="2.6"/>
<line x1="320.3" y1="1213.8" x2="333.3" y2="1213.8" stroke="#1ABCD0" stroke-width="2.8"/>
<line x1="320.3" y1="1236" x2="333.3" y2="1236" stroke="#1ABCD0" stroke-width="2.8"/>
<line x1="359.24" y1="1190" x2="359.24" y2="1242.7" stroke="#1ABCD0" stroke-width="2.6"/>
<line x1="352.74" y1="1190" x2="365.74" y2="1190" stroke="#1ABCD0" stroke-width="2.8"/>
<line x1="352.74" y1="1242.7" x2="365.74" y2="1242.7" stroke="#1ABCD0" stroke-width="2.8"/>
<line x1="391.68" y1="1202.5" x2="391.68" y2="1244.2" stroke="#1ABCD0" stroke-width="2.6"/>
<line x1="385.18" y1="1202.5" x2="398.18" y2="1202.5" stroke="#1ABCD0" stroke-width="2.8"/>
<line x1="385.18" y1="1244.2" x2="398.18" y2="1244.2" stroke="#1ABCD0" stroke-width="2.8"/>
<line x1="424.12" y1="1201.6" x2="424.12" y2="1254.4" stroke="#1ABCD0" stroke-width="2.6"/>
<line x1="417.62" y1="1201.6" x2="430.62" y2="1201.6" stroke="#1ABCD0" stroke-width="2.8"/>
<line x1="417.62" y1="1254.4" x2="430.62" y2="1254.4" stroke="#1ABCD0" stroke-width="2.8"/>
<line x1="456.56" y1="1198" x2="456.56" y2="1240" stroke="#1ABCD0" stroke-width="2.6"/>
<line x1="450.06" y1="1198" x2="463.06" y2="1198" stroke="#1ABCD0" stroke-width="2.8"/>
<line x1="450.06" y1="1240" x2="463.06" y2="1240" stroke="#1ABCD0" stroke-width="2.8"/>
<line x1="489" y1="1220" x2="489" y2="1249.4" stroke="#1ABCD0" stroke-width="2.6"/>
<line x1="482.5" y1="1220" x2="495.5" y2="1220" stroke="#1ABCD0" stroke-width="2.8"/>
<line x1="482.5" y1="1249.4" x2="495.5" y2="1249.4" stroke="#1ABCD0" stroke-width="2.8"/>
<line x1="521.44" y1="1178.1" x2="521.44" y2="1223.4" stroke="#1ABCD0" stroke-width="2.6"/>
<line x1="514.94" y1="1178.1" x2="527.94" y2="1178.1" stroke="#1ABCD0" stroke-width="2.8"/>
<line x1="514.94" y1="1223.4" x2="527.94" y2="1223.4" stroke="#1ABCD0" stroke-width="2.8"/>
<line x1="553.88" y1="1164.5" x2="553.88" y2="1234.8" stroke="#1ABCD0" stroke-width="2.6"/>
<line x1="547.38" y1="1164.5" x2="560.38" y2="1164.5" stroke="#1ABCD0" stroke-width="2.8"/>
<line x1="547.38" y1="1234.8" x2="560.38" y2="1234.8" stroke="#1ABCD0" stroke-width="2.8"/>
<line x1="586.32" y1="1160.3" x2="586.32" y2="1231.3" stroke="#1ABCD0" stroke-width="2.6"/>
<line x1="579.82" y1="1160.3" x2="592.82" y2="1160.3" stroke="#1ABCD0" stroke-width="2.8"/>
<line x1="579.82" y1="1231.3" x2="592.82" y2="1231.3" stroke="#1ABCD0" stroke-width="2.8"/>
<line x1="618.76" y1="1146.9" x2="618.76" y2="1195.3" stroke="#1ABCD0" stroke-width="2.6"/>
<line x1="612.26" y1="1146.9" x2="625.26" y2="1146.9" stroke="#1ABCD0" stroke-width="2.8"/>
<line x1="612.26" y1="1195.3" x2="625.26" y2="1195.3" stroke="#1ABCD0" stroke-width="2.8"/>
<polyline points="164.6,1221.6 197.04,1241 229.48,1231 261.92,1232.7 294.36,1239.4 326.8,1225.9 359.24,1215.6 391.68,1223.9 424.12,1228.6 456.56,1219.2 489,1234.8 521.44,1200.5 553.88,1199.7 586.32,1195 618.76,1171.3" fill="none" stroke="#1ABCD0" stroke-width="2.9" stroke-linejoin="round"/>
<circle cx="164.6" cy="1221.6" r="6.6" fill="#1ABCD0"/>
<circle cx="197.04" cy="1241" r="6.6" fill="#1ABCD0"/>
<circle cx="229.48" cy="1231" r="6.6" fill="#1ABCD0"/>
<circle cx="261.92" cy="1232.7" r="6.6" fill="#1ABCD0"/>
<circle cx="294.36" cy="1239.4" r="6.6" fill="#1ABCD0"/>
<circle cx="326.8" cy="1225.9" r="6.6" fill="#1ABCD0"/>
<circle cx="359.24" cy="1215.6" r="6.6" fill="#1ABCD0"/>
<circle cx="391.68" cy="1223.9" r="6.6" fill="#1ABCD0"/>
<circle cx="424.12" cy="1228.6" r="6.6" fill="#1ABCD0"/>
<circle cx="456.56" cy="1219.2" r="6.6" fill="#1ABCD0"/>
<circle cx="489" cy="1234.8" r="6.6" fill="#1ABCD0"/>
<circle cx="521.44" cy="1200.5" r="6.6" fill="#1ABCD0"/>
<circle cx="553.88" cy="1199.7" r="6.6" fill="#1ABCD0"/>
<circle cx="586.32" cy="1195" r="6.6" fill="#1ABCD0"/>
<circle cx="618.76" cy="1171.3" r="6.6" fill="#1ABCD0"/>
<line x1="197.04" y1="1225.6" x2="197.04" y2="1258.5" stroke="#BFBFBF" stroke-width="2.6"/>
<line x1="190.54" y1="1225.6" x2="203.54" y2="1225.6" stroke="#BFBFBF" stroke-width="2.8"/>
<line x1="190.54" y1="1258.5" x2="203.54" y2="1258.5" stroke="#BFBFBF" stroke-width="2.8"/>
<line x1="229.48" y1="1212" x2="229.48" y2="1267" stroke="#BFBFBF" stroke-width="2.6"/>
<line x1="222.98" y1="1212" x2="235.98" y2="1212" stroke="#BFBFBF" stroke-width="2.8"/>
<line x1="222.98" y1="1267" x2="235.98" y2="1267" stroke="#BFBFBF" stroke-width="2.8"/>
<line x1="261.92" y1="1201.6" x2="261.92" y2="1245.4" stroke="#BFBFBF" stroke-width="2.6"/>
<line x1="255.42" y1="1201.6" x2="268.42" y2="1201.6" stroke="#BFBFBF" stroke-width="2.8"/>
<line x1="255.42" y1="1245.4" x2="268.42" y2="1245.4" stroke="#BFBFBF" stroke-width="2.8"/>
<line x1="294.36" y1="1210.6" x2="294.36" y2="1249.5" stroke="#BFBFBF" stroke-width="2.6"/>
<line x1="287.86" y1="1210.6" x2="300.86" y2="1210.6" stroke="#BFBFBF" stroke-width="2.8"/>
<line x1="287.86" y1="1249.5" x2="300.86" y2="1249.5" stroke="#BFBFBF" stroke-width="2.8"/>
<line x1="326.8" y1="1206.3" x2="326.8" y2="1247.2" stroke="#BFBFBF" stroke-width="2.6"/>
<line x1="320.3" y1="1206.3" x2="333.3" y2="1206.3" stroke="#BFBFBF" stroke-width="2.8"/>
<line x1="320.3" y1="1247.2" x2="333.3" y2="1247.2" stroke="#BFBFBF" stroke-width="2.8"/>
<line x1="359.24" y1="1205.9" x2="359.24" y2="1248.9" stroke="#BFBFBF" stroke-width="2.6"/>
<line x1="352.74" y1="1205.9" x2="365.74" y2="1205.9" stroke="#BFBFBF" stroke-width="2.8"/>
<line x1="352.74" y1="1248.9" x2="365.74" y2="1248.9" stroke="#BFBFBF" stroke-width="2.8"/>
<line x1="391.68" y1="1193.4" x2="391.68" y2="1234.8" stroke="#BFBFBF" stroke-width="2.6"/>
<line x1="385.18" y1="1193.4" x2="398.18" y2="1193.4" stroke="#BFBFBF" stroke-width="2.8"/>
<line x1="385.18" y1="1234.8" x2="398.18" y2="1234.8" stroke="#BFBFBF" stroke-width="2.8"/>
<line x1="424.12" y1="1192.7" x2="424.12" y2="1245" stroke="#BFBFBF" stroke-width="2.6"/>
<line x1="417.62" y1="1192.7" x2="430.62" y2="1192.7" stroke="#BFBFBF" stroke-width="2.8"/>
<line x1="417.62" y1="1245" x2="430.62" y2="1245" stroke="#BFBFBF" stroke-width="2.8"/>
<line x1="456.56" y1="1182.2" x2="456.56" y2="1216.1" stroke="#BFBFBF" stroke-width="2.6"/>
<line x1="450.06" y1="1182.2" x2="463.06" y2="1182.2" stroke="#BFBFBF" stroke-width="2.8"/>
<line x1="450.06" y1="1216.1" x2="463.06" y2="1216.1" stroke="#BFBFBF" stroke-width="2.8"/>
<line x1="489" y1="1185.9" x2="489" y2="1263" stroke="#BFBFBF" stroke-width="2.6"/>
<line x1="482.5" y1="1185.9" x2="495.5" y2="1185.9" stroke="#BFBFBF" stroke-width="2.8"/>
<line x1="482.5" y1="1263" x2="495.5" y2="1263" stroke="#BFBFBF" stroke-width="2.8"/>
<line x1="521.44" y1="1175.9" x2="521.44" y2="1234.8" stroke="#BFBFBF" stroke-width="2.6"/>
<line x1="514.94" y1="1175.9" x2="527.94" y2="1175.9" stroke="#BFBFBF" stroke-width="2.8"/>
<line x1="514.94" y1="1234.8" x2="527.94" y2="1234.8" stroke="#BFBFBF" stroke-width="2.8"/>
<line x1="553.88" y1="1184" x2="553.88" y2="1246.6" stroke="#BFBFBF" stroke-width="2.6"/>
<line x1="547.38" y1="1184" x2="560.38" y2="1184" stroke="#BFBFBF" stroke-width="2.8"/>
<line x1="547.38" y1="1246.6" x2="560.38" y2="1246.6" stroke="#BFBFBF" stroke-width="2.8"/>
<line x1="586.32" y1="1161.9" x2="586.32" y2="1223.4" stroke="#BFBFBF" stroke-width="2.6"/>
<line x1="579.82" y1="1161.9" x2="592.82" y2="1161.9" stroke="#BFBFBF" stroke-width="2.8"/>
<line x1="579.82" y1="1223.4" x2="592.82" y2="1223.4" stroke="#BFBFBF" stroke-width="2.8"/>
<line x1="618.76" y1="1152.5" x2="618.76" y2="1221.6" stroke="#BFBFBF" stroke-width="2.6"/>
<line x1="612.26" y1="1152.5" x2="625.26" y2="1152.5" stroke="#BFBFBF" stroke-width="2.8"/>
<line x1="612.26" y1="1221.6" x2="625.26" y2="1221.6" stroke="#BFBFBF" stroke-width="2.8"/>
<polyline points="164.6,1221.6 197.04,1242.1 229.48,1239.4 261.92,1222.2 294.36,1229.8 326.8,1225.9 359.24,1227.5 391.68,1214.5 424.12,1218.4 456.56,1198.1 489,1225 521.44,1205.2 553.88,1215.6 586.32,1193.4 618.76,1186.9" fill="none" stroke="#BFBFBF" stroke-width="2.9" stroke-linejoin="round"/>
<circle cx="164.6" cy="1221.6" r="6.6" fill="#BFBFBF"/>
<circle cx="197.04" cy="1242.1" r="6.6" fill="#BFBFBF"/>
<circle cx="229.48" cy="1239.4" r="6.6" fill="#BFBFBF"/>
<circle cx="261.92" cy="1222.2" r="6.6" fill="#BFBFBF"/>
<circle cx="294.36" cy="1229.8" r="6.6" fill="#BFBFBF"/>
<circle cx="326.8" cy="1225.9" r="6.6" fill="#BFBFBF"/>
<circle cx="359.24" cy="1227.5" r="6.6" fill="#BFBFBF"/>
<circle cx="391.68" cy="1214.5" r="6.6" fill="#BFBFBF"/>
<circle cx="424.12" cy="1218.4" r="6.6" fill="#BFBFBF"/>
<circle cx="456.56" cy="1198.1" r="6.6" fill="#BFBFBF"/>
<circle cx="489" cy="1225" r="6.6" fill="#BFBFBF"/>
<circle cx="521.44" cy="1205.2" r="6.6" fill="#BFBFBF"/>
<circle cx="553.88" cy="1215.6" r="6.6" fill="#BFBFBF"/>
<circle cx="586.32" cy="1193.4" r="6.6" fill="#BFBFBF"/>
<circle cx="618.76" cy="1186.9" r="6.6" fill="#BFBFBF"/>
<text x="693.8" y="1080.7" font-weight="bold" fill="#231815" font-size="53">D</text>
<line x1="824" y1="1108.4" x2="824" y2="1446.4" stroke="#000" stroke-width="3.4"/>
<line x1="814.4" y1="1444.8" x2="1322.7" y2="1444.8" stroke="#000" stroke-width="3.4"/>
<line x1="814.4" y1="1444.7" x2="824" y2="1444.7" stroke="#000" stroke-width="3.4"/>
<text x="808.2" y="1454.4" text-anchor="end" font-size="27">0</text>
<line x1="814.4" y1="1292.4" x2="824" y2="1292.4" stroke="#000" stroke-width="3.4"/>
<text x="808.2" y="1302.1" text-anchor="end" font-size="27">50</text>
<line x1="814.4" y1="1140.1" x2="824" y2="1140.1" stroke="#000" stroke-width="3.4"/>
<text x="808.2" y="1149.8" text-anchor="end" font-size="27">100</text>
<line x1="818" y1="1368.55" x2="824" y2="1368.55" stroke="#000" stroke-width="3.4"/>
<line x1="818" y1="1216.25" x2="824" y2="1216.25" stroke="#000" stroke-width="3.4"/>
<line x1="824.4" y1="1444.8" x2="824.4" y2="1453" stroke="#000" stroke-width="3.4"/>
<text x="824.4" y="1487.9" text-anchor="middle" font-size="27">0</text>
<line x1="890.6" y1="1444.8" x2="890.6" y2="1453" stroke="#000" stroke-width="3.4"/>
<text x="890.6" y="1487.9" text-anchor="middle" font-size="27">2</text>
<line x1="956.8" y1="1444.8" x2="956.8" y2="1453" stroke="#000" stroke-width="3.4"/>
<text x="956.8" y="1487.9" text-anchor="middle" font-size="27">4</text>
<line x1="1023" y1="1444.8" x2="1023" y2="1453" stroke="#000" stroke-width="3.4"/>
<text x="1023" y="1487.9" text-anchor="middle" font-size="27">6</text>
<line x1="1089.2" y1="1444.8" x2="1089.2" y2="1453" stroke="#000" stroke-width="3.4"/>
<text x="1089.2" y="1487.9" text-anchor="middle" font-size="27">8</text>
<line x1="1155.4" y1="1444.8" x2="1155.4" y2="1453" stroke="#000" stroke-width="3.4"/>
<text x="1155.4" y="1487.9" text-anchor="middle" font-size="27">10</text>
<line x1="1221.6" y1="1444.8" x2="1221.6" y2="1453" stroke="#000" stroke-width="3.4"/>
<text x="1221.6" y="1487.9" text-anchor="middle" font-size="27">12</text>
<line x1="1287.8" y1="1444.8" x2="1287.8" y2="1453" stroke="#000" stroke-width="3.4"/>
<text x="1287.8" y="1487.9" text-anchor="middle" font-size="27">14</text>
<text transform="translate(744.8 1288) rotate(-90)" text-anchor="middle" font-size="35.8">Survival (%)</text>
<polyline points="825.5,1140.2 1055.5,1140.2 1055.5,1343.4 1155.3,1343.4 1155.3,1444.7" fill="none" stroke="#F99A9A" stroke-width="2.6"/>
<circle cx="1055.5" cy="1343.4" r="6.5" fill="#F99A9A"/>
<circle cx="1155.3" cy="1444.7" r="6.5" fill="#F99A9A"/>
<polyline points="825.5,1140.2 956.4,1140.2 956.4,1241.3 989.5,1241.3 989.5,1343.4 1023.2,1343.4 1023.2,1444.7" fill="none" stroke="#D7262B" stroke-width="2.6"/>
<circle cx="956.4" cy="1241.3" r="6.5" fill="#D7262B"/>
<circle cx="989.5" cy="1343.4" r="6.5" fill="#D7262B"/>
<circle cx="1023.2" cy="1444.7" r="6.5" fill="#D7262B"/>
<polyline points="825.5,1140.2 1022.1,1140.2 1022.1,1241.3 1053.5,1241.3 1053.5,1444.7" fill="none" stroke="#9467BD" stroke-width="2.6"/>
<circle cx="1022.4" cy="1241.3" r="6.5" fill="#9467BD"/>
<polyline points="825.5,1140.2 1024.4,1140.2 1024.4,1241.3 1056.2,1241.3 1056.2,1444.7" fill="none" stroke="#2CA02C" stroke-width="2.6"/>
<circle cx="1024" cy="1240.7" r="6.5" fill="#2CA02C"/>
<circle cx="1056.2" cy="1444.7" r="6.5" fill="#2CA02C"/>
<line x1="825.5" y1="1137.4" x2="1287.7" y2="1137.4" stroke="#1ABCD0" stroke-width="3.2"/>
<line x1="825.5" y1="1134.2" x2="1287.7" y2="1134.2" stroke="#BFBFBF" stroke-width="3.3"/>
<circle cx="1287.7" cy="1134.8" r="6.5" fill="#BFBFBF"/>
<circle cx="1287.7" cy="1137.4" r="6.5" fill="#1ABCD0"/>
<text x="1371.1" y="1080.7" font-weight="bold" fill="#231815" font-size="53">E</text>
<line x1="1472.9" y1="1107.5" x2="1472.9" y2="1446" stroke="#000" stroke-width="3.4"/>
<line x1="1464" y1="1444.6" x2="1970" y2="1444.6" stroke="#000" stroke-width="3.4"/>
<line x1="1464" y1="1444.3" x2="1472.9" y2="1444.3" stroke="#000" stroke-width="3.4"/>
<text x="1455.8" y="1454" text-anchor="end" font-size="27">0</text>
<line x1="1464" y1="1341.2" x2="1472.9" y2="1341.2" stroke="#000" stroke-width="3.4"/>
<text x="1455.8" y="1350.9" text-anchor="end" font-size="27">2</text>
<line x1="1464" y1="1238.1" x2="1472.9" y2="1238.1" stroke="#000" stroke-width="3.4"/>
<text x="1455.8" y="1247.8" text-anchor="end" font-size="27">4</text>
<line x1="1464" y1="1135" x2="1472.9" y2="1135" stroke="#000" stroke-width="3.4"/>
<text x="1455.8" y="1144.7" text-anchor="end" font-size="27">6</text>
<line x1="1467.5" y1="1392.75" x2="1472.9" y2="1392.75" stroke="#000" stroke-width="3.4"/>
<line x1="1467.5" y1="1289.65" x2="1472.9" y2="1289.65" stroke="#000" stroke-width="3.4"/>
<line x1="1467.5" y1="1186.55" x2="1472.9" y2="1186.55" stroke="#000" stroke-width="3.4"/>
<line x1="1505.4" y1="1444.6" x2="1505.4" y2="1454" stroke="#000" stroke-width="3.4"/>
<text transform="translate(1525.4 1478) rotate(-45)" text-anchor="end" font-size="34.5">Mock</text>
<line x1="1590.46" y1="1444.6" x2="1590.46" y2="1454" stroke="#000" stroke-width="3.4"/>
<text transform="translate(1610.46 1478) rotate(-45)" text-anchor="end" font-size="34.5">WT</text>
<line x1="1675.52" y1="1444.6" x2="1675.52" y2="1454" stroke="#000" stroke-width="3.4"/>
<text transform="translate(1695.52 1478) rotate(-45)" text-anchor="end" font-size="34.5">L631M</text>
<line x1="1760.58" y1="1444.6" x2="1760.58" y2="1454" stroke="#000" stroke-width="3.4"/>
<text transform="translate(1780.58 1478) rotate(-45)" text-anchor="end" font-size="34.5">E627K/L631M</text>
<line x1="1845.64" y1="1444.6" x2="1845.64" y2="1454" stroke="#000" stroke-width="3.4"/>
<text transform="translate(1865.64 1478) rotate(-45)" text-anchor="end" font-size="34.5">E627K</text>
<line x1="1930.7" y1="1444.6" x2="1930.7" y2="1454" stroke="#000" stroke-width="3.4"/>
<text transform="translate(1950.7 1478) rotate(-45)" text-anchor="end" font-size="34.5">WSN</text>
<line x1="1478" y1="1181.3" x2="1970" y2="1181.3" stroke="#808080" stroke-width="4.4" stroke-dasharray="5.4 10.45" stroke-linecap="round"/>
<circle cx="1495" cy="1444.3" r="7" fill="#BFBFBF"/>
<circle cx="1505.4" cy="1444.3" r="7" fill="#BFBFBF"/>
<circle cx="1516.4" cy="1444.3" r="7" fill="#BFBFBF"/>
<line x1="1590.46" y1="1162.8" x2="1590.46" y2="1200.5" stroke="#F99A9A" stroke-width="3"/>
<line x1="1581.76" y1="1162.8" x2="1599.16" y2="1162.8" stroke="#F99A9A" stroke-width="3"/>
<line x1="1581.76" y1="1200.5" x2="1599.16" y2="1200.5" stroke="#F99A9A" stroke-width="3"/>
<circle cx="1590.8" cy="1159.5" r="7" fill="#F99A9A"/>
<circle cx="1580.4" cy="1194.7" r="7" fill="#F99A9A"/>
<circle cx="1601.5" cy="1188.9" r="7" fill="#F99A9A"/>
<line x1="1573.46" y1="1181.4" x2="1607.46" y2="1181.4" stroke="#000" stroke-width="6.3"/>
<line x1="1675.52" y1="1336.8" x2="1675.52" y2="1437.1" stroke="#1ABCD0" stroke-width="3"/>
<line x1="1666.82" y1="1336.8" x2="1684.22" y2="1336.8" stroke="#1ABCD0" stroke-width="3"/>
<line x1="1666.82" y1="1437.1" x2="1684.22" y2="1437.1" stroke="#1ABCD0" stroke-width="3"/>
<circle cx="1675.52" cy="1351" r="7" fill="#1ABCD0"/>
<circle cx="1675.52" cy="1366.4" r="7" fill="#1ABCD0"/>
<circle cx="1675.52" cy="1444.3" r="7" fill="#1ABCD0"/>
<line x1="1658.52" y1="1387.1" x2="1692.52" y2="1387.1" stroke="#000" stroke-width="6.3"/>
<line x1="1760.58" y1="1164.6" x2="1760.58" y2="1241.4" stroke="#2CA02C" stroke-width="3"/>
<line x1="1751.88" y1="1164.6" x2="1769.28" y2="1164.6" stroke="#2CA02C" stroke-width="3"/>
<line x1="1751.88" y1="1241.4" x2="1769.28" y2="1241.4" stroke="#2CA02C" stroke-width="3"/>
<circle cx="1760.58" cy="1182.5" r="7" fill="#2CA02C"/>
<circle cx="1771.4" cy="1180" r="7" fill="#2CA02C"/>
<circle cx="1760.58" cy="1247.9" r="7" fill="#2CA02C"/>
<line x1="1743.58" y1="1203.9" x2="1777.58" y2="1203.9" stroke="#000" stroke-width="6.3"/>
<line x1="1845.64" y1="1144.3" x2="1845.64" y2="1168.2" stroke="#D7262B" stroke-width="3"/>
<line x1="1836.94" y1="1144.3" x2="1854.34" y2="1144.3" stroke="#D7262B" stroke-width="3"/>
<line x1="1836.94" y1="1168.2" x2="1854.34" y2="1168.2" stroke="#D7262B" stroke-width="3"/>
<circle cx="1845.64" cy="1143.2" r="7" fill="#D7262B"/>
<circle cx="1835" cy="1167.1" r="7" fill="#D7262B"/>
<circle cx="1856.4" cy="1158.2" r="7" fill="#D7262B"/>
<line x1="1828.64" y1="1156.4" x2="1862.64" y2="1156.4" stroke="#000" stroke-width="6.3"/>
<line x1="1930.7" y1="1186" x2="1930.7" y2="1301.4" stroke="#9467BD" stroke-width="3"/>
<line x1="1922" y1="1186" x2="1939.4" y2="1186" stroke="#9467BD" stroke-width="3"/>
<line x1="1922" y1="1301.4" x2="1939.4" y2="1301.4" stroke="#9467BD" stroke-width="3"/>
<circle cx="1930.7" cy="1199.6" r="7" fill="#9467BD"/>
<circle cx="1930.7" cy="1223.6" r="7" fill="#9467BD"/>
<circle cx="1930.7" cy="1308.6" r="7" fill="#9467BD"/>
<line x1="1913.7" y1="1243.9" x2="1947.7" y2="1243.9" stroke="#000" stroke-width="6.3"/>
<text transform="translate(1679.92 1125.5) rotate(-90)" font-size="17">p&lt;0.0001</text>
<text transform="translate(1764.98 1125.5) rotate(-90)" font-size="17">p=0.9104</text>
<text transform="translate(1850.04 1125.5) rotate(-90)" font-size="17">p=0.8610</text>
<text transform="translate(1935.1 1125.5) rotate(-90)" font-size="17">p=0.1881</text>
<text transform="translate(1412 1289) rotate(-90) scale(0.964 1)" text-anchor="middle" font-size="35">PFU/ml (log<tspan font-size="20" dy="11.8">10</tspan><tspan dy="-11.8">)</tspan></text>
<line x1="149.2" y1="1539" x2="191.6" y2="1539" stroke="#BFBFBF" stroke-width="3.3"/>
<circle cx="170.4" cy="1539" r="5.8" fill="#BFBFBF"/>
<text x="198.3" y="1552.3" font-size="34">Mock</text>
<line x1="621.2" y1="1539" x2="663.6" y2="1539" stroke="#F99A9A" stroke-width="3.3"/>
<circle cx="642.4" cy="1539" r="5.8" fill="#F99A9A"/>
<text x="672.7" y="1552.3" font-size="34">WT<tspan font-size="25.5"> (627E+631L)</tspan></text>
<line x1="999.2" y1="1539" x2="1041.6" y2="1539" stroke="#1ABCD0" stroke-width="3.3"/>
<circle cx="1020.4" cy="1539" r="5.8" fill="#1ABCD0"/>
<text x="1047.5" y="1552.3" font-size="34">L631M<tspan font-size="25.5"> (627E+631M)</tspan></text>
<line x1="149.2" y1="1587.7" x2="191.6" y2="1587.7" stroke="#2CA02C" stroke-width="3.3"/>
<circle cx="170.4" cy="1587.7" r="5.8" fill="#2CA02C"/>
<text x="198.2" y="1601" font-size="34">E627K/L631M<tspan font-size="25.5"> (627K+631M)</tspan></text>
<line x1="621.2" y1="1587.7" x2="663.6" y2="1587.7" stroke="#D7262B" stroke-width="3.3"/>
<circle cx="642.4" cy="1587.7" r="5.8" fill="#D7262B"/>
<text x="670.4" y="1601" font-size="34">E627K<tspan font-size="25.5"> (627K+631L)</tspan></text>
<line x1="999.2" y1="1587.7" x2="1041.6" y2="1587.7" stroke="#9467BD" stroke-width="3.3"/>
<circle cx="1020.4" cy="1587.7" r="5.8" fill="#9467BD"/>
<text x="1050.7" y="1601" font-size="34">WSN</text>
<text x="-0.6" y="1675.7" font-weight="bold" fill="#231815" font-size="53">F</text>
<text x="266" y="1741.6" text-anchor="middle" font-size="35.3">Mock</text>
<text x="583.8" y="1695.8" text-anchor="middle" font-size="35.3">WT</text>
<text x="583.8" y="1740" text-anchor="middle" font-size="35.3">(627E+631L)</text>
<text x="899.2" y="1695.8" text-anchor="middle" font-size="35.3">L631M</text>
<text x="899.2" y="1740" text-anchor="middle" font-size="35.3">(627E+631M)</text>
<text x="1214.9" y="1695.8" text-anchor="middle" font-size="35.3">E627K/L631M</text>
<text x="1214.9" y="1740" text-anchor="middle" font-size="35.3">(627K+631M)</text>
<text x="1532.7" y="1695.8" text-anchor="middle" font-size="35.3">E627K</text>
<text x="1532.7" y="1740" text-anchor="middle" font-size="35.3">(627K+631L)</text>
<text x="1826.3" y="1741.6" text-anchor="middle" font-size="35.3">WSN</text>
<text transform="translate(84.8 1884.7) rotate(-90)" text-anchor="middle" font-size="36">H&amp;E</text>
<text transform="translate(85.1 2157) rotate(-90)" text-anchor="middle" font-size="36.3">IHC</text>
<g clip-path="url(#cl00)">
<rect x="100.3" y="1753.4" width="307.3" height="257.6" filter="url(#tx00)"/>
<rect x="100.3" y="1753.4" width="307.3" height="257.6" fill="url(#np00)"/>
<g filter="url(#hf00)" fill="#EFEBF5">
<g transform="translate(100.3 1753.4)"><circle cx="250.4" cy="7.5" r="11.0"/><circle cx="256.3" cy="-0.0" r="6.9"/><circle cx="51.9" cy="136.6" r="11.0"/><circle cx="46.7" cy="206.3" r="11.0"/><circle cx="253.8" cy="240.6" r="11.0"/><circle cx="6.8" cy="217.5" r="11.0"/><circle cx="14.9" cy="222.7" r="9.1"/><circle cx="311.6" cy="38.9" r="11.0"/><circle cx="304.7" cy="35.2" r="7.0"/><circle cx="112.0" cy="226.1" r="11.0"/><circle cx="307.7" cy="98.4" r="11.0"/><circle cx="107.7" cy="8.6" r="11.0"/><circle cx="186.6" cy="177.5" r="11.0"/><circle cx="81.4" cy="166.9" r="11.0"/><circle cx="88.5" cy="170.6" r="8.4"/><circle cx="69.5" cy="100.5" r="11.0"/><circle cx="137.0" cy="241.2" r="11.0"/><circle cx="147.5" cy="239.5" r="8.1"/><circle cx="169.9" cy="73.1" r="11.0"/><circle cx="168.7" cy="64.0" r="5.9"/><circle cx="171.0" cy="125.8" r="11.0"/><circle cx="272.2" cy="213.2" r="10.9"/><circle cx="241.5" cy="154.8" r="10.9"/><circle cx="243.2" cy="144.2" r="6.8"/><circle cx="31.1" cy="173.0" r="10.9"/><circle cx="26.0" cy="167.9" r="7.3"/><circle cx="33.6" cy="29.9" r="10.9"/><circle cx="41.5" cy="26.8" r="8.9"/><circle cx="19.6" cy="63.7" r="10.9"/><circle cx="19.7" cy="73.3" r="8.6"/><circle cx="295.0" cy="228.9" r="10.9"/><circle cx="119.9" cy="96.6" r="10.9"/><circle cx="123.5" cy="87.2" r="7.9"/><circle cx="302.7" cy="158.1" r="10.9"/><circle cx="201.7" cy="113.8" r="10.9"/><circle cx="93.7" cy="122.2" r="10.9"/><circle cx="88.8" cy="116.6" r="6.6"/><circle cx="62.9" cy="25.7" r="10.9"/><circle cx="68.5" cy="29.7" r="8.0"/><circle cx="286.0" cy="180.8" r="10.9"/><circle cx="293.5" cy="181.1" r="6.0"/><circle cx="291.2" cy="78.4" r="10.9"/><circle cx="284.7" cy="84.6" r="7.7"/><circle cx="143.0" cy="65.9" r="10.9"/><circle cx="146.1" cy="59.4" r="8.9"/><circle cx="298.3" cy="-1.3" r="10.9"/><circle cx="306.5" cy="-7.8" r="7.5"/><circle cx="74.1" cy="-2.2" r="10.9"/><circle cx="1.0" cy="2.4" r="10.9"/><circle cx="-6.5" cy="9.3" r="8.2"/><circle cx="165.3" cy="230.3" r="10.9"/><circle cx="168.1" cy="223.2" r="6.7"/><circle cx="309.6" cy="201.8" r="10.9"/><circle cx="197.4" cy="261.1" r="10.9"/><circle cx="191.2" cy="266.2" r="8.5"/><circle cx="109.3" cy="261.1" r="10.9"/><circle cx="245.0" cy="35.1" r="10.9"/><circle cx="240.3" cy="41.0" r="6.4"/><circle cx="132.5" cy="188.7" r="10.9"/><circle cx="140.5" cy="4.1" r="10.9"/><circle cx="133.8" cy="11.5" r="6.3"/><circle cx="285.1" cy="49.1" r="10.9"/><circle cx="196.9" cy="86.8" r="10.9"/><circle cx="191.2" cy="92.0" r="6.0"/><circle cx="309.6" cy="257.7" r="10.8"/><circle cx="318.3" cy="259.6" r="6.9"/><circle cx="161.6" cy="198.4" r="10.8"/><circle cx="164.2" cy="204.8" r="8.4"/><circle cx="267.4" cy="155.1" r="10.8"/><circle cx="67.7" cy="65.3" r="10.8"/><circle cx="60.0" cy="70.2" r="7.7"/><circle cx="163.4" cy="99.4" r="10.8"/><circle cx="18.6" cy="148.7" r="10.8"/><circle cx="287.0" cy="123.3" r="10.8"/><circle cx="9.1" cy="188.0" r="10.8"/><circle cx="93.3" cy="191.5" r="10.8"/><circle cx="85.2" cy="194.0" r="5.9"/><circle cx="99.1" cy="35.5" r="10.8"/><circle cx="162.5" cy="168.2" r="10.8"/><circle cx="169.5" cy="166.4" r="8.3"/><circle cx="3.8" cy="254.5" r="10.8"/><circle cx="206.7" cy="142.2" r="10.8"/><circle cx="199.1" cy="134.6" r="8.6"/><circle cx="57.5" cy="175.5" r="10.7"/><circle cx="49.5" cy="169.1" r="5.8"/><circle cx="-5.1" cy="49.2" r="10.7"/><circle cx="224.6" cy="65.5" r="10.7"/><circle cx="135.2" cy="33.1" r="10.7"/><circle cx="35.2" cy="3.6" r="10.7"/><circle cx="34.5" cy="13.4" r="7.4"/><circle cx="273.3" cy="19.7" r="10.6"/><circle cx="279.6" cy="25.5" r="6.6"/><circle cx="227.3" cy="253.6" r="10.6"/><circle cx="220.7" cy="259.8" r="6.9"/><circle cx="309.5" cy="131.8" r="10.6"/><circle cx="313.3" cy="122.6" r="6.8"/><circle cx="280.4" cy="250.6" r="10.6"/><circle cx="280.6" cy="243.2" r="6.6"/><circle cx="24.2" cy="240.2" r="10.6"/><circle cx="141.1" cy="216.3" r="10.6"/><circle cx="137.5" cy="226.2" r="7.9"/><circle cx="191.6" cy="229.9" r="10.6"/><circle cx="196.3" cy="237.6" r="7.3"/><circle cx="74.7" cy="209.0" r="10.6"/><circle cx="-5.6" cy="160.4" r="10.6"/><circle cx="170.9" cy="259.2" r="10.6"/><circle cx="258.6" cy="61.5" r="10.5"/><circle cx="264.8" cy="56.8" r="5.4"/><circle cx="255.1" cy="133.6" r="10.5"/><circle cx="245.9" cy="131.2" r="8.3"/><circle cx="228.0" cy="-5.8" r="10.4"/><circle cx="228.1" cy="128.6" r="10.4"/><circle cx="236.6" cy="131.8" r="8.4"/><circle cx="-2.7" cy="80.4" r="10.3"/><circle cx="-6.5" cy="88.8" r="6.9"/><circle cx="43.1" cy="70.9" r="10.2"/><circle cx="34.6" cy="69.2" r="6.0"/><circle cx="311.0" cy="64.2" r="10.1"/><circle cx="140.7" cy="111.2" r="10.1"/><circle cx="143.0" cy="119.3" r="6.6"/><circle cx="183.4" cy="152.0" r="10.0"/><circle cx="186.9" cy="143.5" r="6.4"/><circle cx="7.1" cy="25.6" r="9.8"/><circle cx="12.7" cy="31.8" r="6.9"/><circle cx="76.2" cy="140.3" r="9.6"/><circle cx="79.5" cy="145.8" r="7.7"/><circle cx="36.2" cy="260.5" r="9.3"/><circle cx="38.6" cy="251.6" r="6.3"/><circle cx="142.7" cy="88.9" r="9.2"/><circle cx="147.7" cy="91.4" r="5.9"/><circle cx="52.8" cy="46.9" r="9.0"/><circle cx="59.0" cy="45.5" r="5.5"/><circle cx="124.2" cy="53.6" r="8.8"/><circle cx="132.3" cy="56.2" r="6.8"/><circle cx="165.4" cy="-4.5" r="8.8"/><circle cx="-5.2" cy="137.1" r="8.8"/><circle cx="283.9" cy="100.7" r="8.8"/><circle cx="92.7" cy="241.9" r="8.7"/><circle cx="90.2" cy="250.0" r="5.1"/><circle cx="182.0" cy="209.0" r="8.5"/><circle cx="273.9" cy="-4.5" r="8.3"/><circle cx="279.2" cy="-6.1" r="6.3"/><circle cx="91.9" cy="97.1" r="8.2"/><circle cx="87.6" cy="94.1" r="6.4"/><circle cx="260.8" cy="176.7" r="8.2"/><circle cx="266.9" cy="173.6" r="6.7"/><circle cx="154.4" cy="45.6" r="8.2"/><circle cx="154.6" cy="40.4" r="4.6"/><circle cx="85.4" cy="263.6" r="7.8"/><circle cx="87.4" cy="257.7" r="5.6"/><circle cx="110.7" cy="179.6" r="7.7"/><circle cx="104.8" cy="175.5" r="5.9"/><circle cx="119.4" cy="205.6" r="7.7"/><circle cx="76.9" cy="45.6" r="7.6"/><circle cx="71.3" cy="47.6" r="6.1"/><circle cx="84.5" cy="18.5" r="7.5"/><circle cx="81.8" cy="14.3" r="4.9"/><circle cx="312.8" cy="179.5" r="7.3"/><circle cx="311.4" cy="15.4" r="7.3"/><circle cx="295.2" cy="25.5" r="7.3"/><circle cx="292.7" cy="30.2" r="5.4"/><circle cx="45.2" cy="157.1" r="7.2"/><circle cx="45.7" cy="161.6" r="3.7"/><circle cx="260.7" cy="262.9" r="7.2"/><circle cx="258.7" cy="258.5" r="4.5"/><circle cx="133.6" cy="262.8" r="7.2"/><circle cx="129.2" cy="263.6" r="4.9"/><circle cx="203.1" cy="162.6" r="7.2"/><circle cx="96.0" cy="146.1" r="6.8"/><circle cx="97.4" cy="150.1" r="5.0"/><circle cx="163.4" cy="146.3" r="6.8"/><circle cx="221.1" cy="158.2" r="6.7"/><circle cx="49.4" cy="90.2" r="6.7"/><circle cx="54.5" cy="90.0" r="3.5"/><circle cx="204.0" cy="67.5" r="6.7"/><circle cx="206.6" cy="64.0" r="3.9"/><circle cx="29.2" cy="219.1" r="6.6"/><circle cx="120.4" cy="118.5" r="6.6"/><circle cx="117.9" cy="123.1" r="5.1"/><circle cx="210.7" cy="237.4" r="6.5"/><circle cx="27.9" cy="197.9" r="6.3"/><circle cx="95.9" cy="212.1" r="6.3"/><circle cx="99.1" cy="208.2" r="4.5"/><circle cx="154.1" cy="21.4" r="6.2"/><circle cx="150.1" cy="21.0" r="5.0"/><circle cx="284.6" cy="145.7" r="6.1"/><circle cx="72.7" cy="121.2" r="6.0"/><circle cx="77.0" cy="121.0" r="4.8"/><circle cx="288.9" cy="202.8" r="5.8"/><circle cx="34.0" cy="50.5" r="5.7"/><circle cx="38.4" cy="47.9" r="3.5"/><circle cx="270.7" cy="76.8" r="5.7"/><circle cx="54.6" cy="-5.1" r="5.6"/><circle cx="232.2" cy="14.9" r="5.6"/><circle cx="272.8" cy="232.4" r="5.6"/><circle cx="65.3" cy="155.6" r="5.6"/><circle cx="64.7" cy="150.4" r="3.6"/><circle cx="53.7" cy="116.8" r="5.5"/><circle cx="264.9" cy="41.4" r="5.5"/><circle cx="190.3" cy="130.8" r="5.5"/><circle cx="269.2" cy="192.4" r="5.4"/><circle cx="267.0" cy="188.9" r="3.4"/><circle cx="218.6" cy="84.1" r="5.4"/><circle cx="244.5" cy="262.7" r="5.3"/><circle cx="246.0" cy="266.9" r="3.8"/><circle cx="15.6" cy="43.5" r="5.3"/><circle cx="182.4" cy="107.2" r="5.2"/><circle cx="179.3" cy="108.5" r="4.4"/><circle cx="150.6" cy="258.8" r="5.1"/><circle cx="153.0" cy="256.4" r="3.0"/><circle cx="67.6" cy="191.7" r="5.0"/><circle cx="69.3" cy="187.4" r="2.6"/><circle cx="150.9" cy="126.1" r="4.8"/><circle cx="147.6" cy="128.0" r="4.0"/><circle cx="-5.2" cy="202.9" r="4.8"/><circle cx="93.6" cy="-4.8" r="4.8"/><circle cx="215.0" cy="98.6" r="4.7"/><circle cx="-4.9" cy="234.3" r="4.7"/><circle cx="-6.2" cy="237.2" r="2.9"/><circle cx="102.1" cy="165.9" r="4.7"/><circle cx="123.4" cy="19.1" r="4.7"/><circle cx="239.7" cy="53.4" r="4.6"/><circle cx="237.9" cy="51.0" r="3.3"/><circle cx="124.7" cy="76.2" r="4.6"/><circle cx="86.1" cy="223.2" r="4.4"/><circle cx="268.1" cy="118.5" r="4.3"/><circle cx="76.1" cy="81.3" r="4.3"/><circle cx="228.9" cy="46.5" r="4.2"/><circle cx="226.9" cy="43.8" r="2.9"/><circle cx="117.2" cy="244.2" r="4.1"/><circle cx="117.3" cy="241.1" r="3.3"/><circle cx="150.9" cy="183.0" r="4.0"/><circle cx="149.6" cy="180.9" r="2.6"/><circle cx="21.8" cy="15.2" r="4.0"/><circle cx="24.8" cy="16.3" r="2.2"/><circle cx="155.3" cy="247.4" r="4.0"/><circle cx="117.1" cy="34.2" r="3.9"/><circle cx="120.6" cy="35.2" r="3.2"/><circle cx="107.6" cy="109.8" r="3.8"/><circle cx="104.9" cy="108.3" r="2.0"/><circle cx="13.7" cy="166.5" r="3.7"/><circle cx="16.9" cy="164.8" r="2.5"/><circle cx="225.6" cy="236.5" r="3.7"/><circle cx="17.2" cy="-4.2" r="3.7"/><circle cx="16.4" cy="-7.7" r="2.8"/><circle cx="311.0" cy="236.3" r="3.6"/><circle cx="313.0" cy="235.2" r="3.0"/><circle cx="46.9" cy="16.6" r="3.5"/><circle cx="45.2" cy="18.1" r="3.0"/><circle cx="54.0" cy="8.8" r="3.5"/><circle cx="223.4" cy="145.3" r="3.4"/><circle cx="221.3" cy="144.0" r="2.5"/><circle cx="187.4" cy="66.8" r="3.4"/><circle cx="190.4" cy="65.7" r="2.7"/><circle cx="35.1" cy="139.5" r="3.3"/><circle cx="36.2" cy="141.4" r="2.3"/><circle cx="43.4" cy="185.9" r="3.3"/><circle cx="210.0" cy="-5.9" r="3.3"/><circle cx="207.0" cy="-5.9" r="2.1"/><circle cx="274.0" cy="89.1" r="3.3"/><circle cx="274.5" cy="91.2" r="1.9"/><circle cx="118.9" cy="-5.1" r="3.3"/><circle cx="120.1" cy="-2.6" r="2.6"/><circle cx="311.0" cy="220.9" r="3.2"/><circle cx="76.9" cy="186.1" r="3.1"/><circle cx="78.9" cy="188.2" r="2.2"/><circle cx="51.7" cy="263.3" r="3.1"/><circle cx="183.6" cy="245.6" r="3.0"/><circle cx="285.7" cy="162.4" r="3.0"/><circle cx="282.9" cy="162.5" r="1.8"/><circle cx="189.4" cy="195.7" r="3.0"/><circle cx="191.6" cy="193.9" r="2.4"/><circle cx="13.8" cy="81.2" r="2.9"/><circle cx="303.2" cy="116.1" r="2.9"/><circle cx="303.2" cy="118.0" r="2.0"/><circle cx="218.6" cy="110.3" r="2.9"/><circle cx="216.5" cy="109.4" r="2.0"/><circle cx="7.5" cy="234.5" r="2.8"/><circle cx="9.3" cy="234.3" r="2.3"/><circle cx="290.9" cy="263.4" r="2.8"/><circle cx="278.4" cy="66.1" r="2.8"/><circle cx="280.8" cy="67.0" r="1.8"/><circle cx="18.7" cy="5.6" r="2.8"/><circle cx="20.4" cy="261.4" r="2.8"/><circle cx="21.7" cy="259.7" r="2.3"/><circle cx="65.8" cy="83.0" r="2.7"/><circle cx="67.0" cy="84.6" r="1.8"/><circle cx="161.8" cy="11.5" r="2.7"/><circle cx="179.1" cy="91.0" r="2.7"/><circle cx="-5.8" cy="180.5" r="2.7"/><circle cx="110.7" cy="195.1" r="2.7"/><circle cx="110.6" cy="192.9" r="2.0"/><circle cx="50.8" cy="103.1" r="2.7"/><circle cx="52.3" cy="104.5" r="1.5"/><circle cx="256.6" cy="221.5" r="2.7"/><circle cx="271.8" cy="134.2" r="2.6"/><circle cx="27.5" cy="80.2" r="2.6"/><circle cx="161.0" cy="58.8" r="2.6"/><circle cx="111.5" cy="128.8" r="2.6"/><circle cx="112.2" cy="127.3" r="1.7"/><circle cx="79.6" cy="32.0" r="2.6"/><circle cx="80.9" cy="31.1" r="1.6"/><circle cx="90.8" cy="6.4" r="2.6"/><circle cx="89.7" cy="7.7" r="1.5"/><circle cx="96.6" cy="175.0" r="2.6"/><circle cx="95.6" cy="173.4" r="2.1"/><circle cx="153.7" cy="78.2" r="2.5"/><circle cx="286.9" cy="10.8" r="2.5"/><circle cx="289.4" cy="10.5" r="1.3"/><circle cx="171.3" cy="183.4" r="2.5"/></g>
<ellipse cx="295.3" cy="1781.4" rx="48" ry="14" transform="rotate(-12 295.3 1781.4)"/>
<ellipse cx="230.3" cy="1903.4" rx="22" ry="24"/>
<ellipse cx="326.3" cy="1953.4" rx="28" ry="32" transform="rotate(10 326.3 1953.4)"/>
<ellipse cx="122.3" cy="1863.4" rx="20" ry="28"/>
<ellipse cx="160.3" cy="1993.4" rx="20" ry="18"/>
<ellipse cx="346.3" cy="1850.4" rx="20" ry="24"/>
<ellipse cx="200.3" cy="1823.4" rx="16" ry="18"/>
</g>
</g>
<rect x="101.4" y="1754.5" width="305.1" height="255.4" fill="none" stroke="#231815" stroke-width="2.2"/>
<g clip-path="url(#cl01)">
<rect x="417.1" y="1753.4" width="307.3" height="257.6" filter="url(#tx01)"/>
<rect x="417.1" y="1753.4" width="307.3" height="257.6" fill="url(#np01)"/>
<g filter="url(#ovblur)"><g transform="translate(417.1 1753.4)"><ellipse cx="54" cy="136" rx="26" ry="36" fill="none" stroke="#C994C9" stroke-width="7" opacity="0.5"/><ellipse cx="290" cy="40" rx="38" ry="45" fill="#5A2E8E" opacity="0.35"/><ellipse cx="120" cy="135" rx="30" ry="40" fill="#5A2E8E" opacity="0.3"/></g></g>
<g filter="url(#hf01)" fill="#EFEBF5">
<g transform="translate(417.1 1753.4)"><circle cx="280.7" cy="120.6" r="7.9"/><circle cx="283.8" cy="125.8" r="6.5"/><circle cx="161.9" cy="3.0" r="7.9"/><circle cx="156.1" cy="-0.7" r="5.7"/><circle cx="211.9" cy="93.6" r="7.9"/><circle cx="191.0" cy="258.1" r="7.8"/><circle cx="188.7" cy="253.7" r="5.7"/><circle cx="112.6" cy="224.4" r="7.8"/><circle cx="7.9" cy="9.3" r="7.8"/><circle cx="15.1" cy="8.7" r="6.4"/><circle cx="268.3" cy="6.6" r="7.7"/><circle cx="-2.6" cy="181.7" r="7.7"/><circle cx="193.0" cy="30.8" r="7.6"/><circle cx="196.9" cy="35.2" r="4.0"/><circle cx="254.1" cy="217.8" r="7.5"/><circle cx="255.6" cy="210.9" r="6.0"/><circle cx="222.1" cy="131.5" r="7.4"/><circle cx="75.5" cy="187.0" r="7.4"/><circle cx="306.9" cy="142.9" r="7.3"/><circle cx="310.7" cy="147.5" r="5.7"/><circle cx="32.1" cy="33.8" r="7.3"/><circle cx="17.8" cy="61.6" r="7.2"/><circle cx="15.7" cy="65.9" r="4.2"/><circle cx="95.9" cy="148.6" r="7.2"/><circle cx="102.5" cy="145.9" r="4.0"/><circle cx="69.3" cy="231.0" r="7.1"/><circle cx="12.6" cy="207.5" r="7.1"/><circle cx="11.9" cy="212.4" r="5.6"/><circle cx="1.6" cy="94.0" r="7.1"/><circle cx="-0.7" cy="98.1" r="5.9"/><circle cx="42.6" cy="-1.1" r="6.9"/><circle cx="257.2" cy="97.2" r="6.9"/><circle cx="126.6" cy="149.1" r="6.9"/><circle cx="0.5" cy="125.7" r="6.8"/><circle cx="101.3" cy="258.3" r="6.8"/><circle cx="101.3" cy="252.3" r="4.9"/><circle cx="291.3" cy="232.2" r="6.7"/><circle cx="295.7" cy="234.7" r="4.4"/><circle cx="209.9" cy="62.6" r="6.7"/><circle cx="148.1" cy="27.1" r="6.7"/><circle cx="222.7" cy="161.0" r="6.7"/><circle cx="43.2" cy="86.3" r="6.6"/><circle cx="296.6" cy="80.5" r="6.6"/><circle cx="171.4" cy="140.6" r="6.5"/><circle cx="83.5" cy="68.6" r="6.4"/><circle cx="296.7" cy="42.6" r="6.4"/><circle cx="151.4" cy="263.2" r="6.4"/><circle cx="294.9" cy="11.9" r="6.2"/><circle cx="298.3" cy="15.7" r="4.7"/><circle cx="213.6" cy="255.2" r="6.1"/><circle cx="50.1" cy="252.6" r="6.1"/><circle cx="55.9" cy="252.1" r="4.1"/><circle cx="268.7" cy="142.0" r="5.9"/><circle cx="193.0" cy="6.5" r="5.9"/><circle cx="163.8" cy="46.1" r="5.8"/><circle cx="136.6" cy="-3.5" r="5.8"/><circle cx="-2.6" cy="245.4" r="5.8"/><circle cx="189.7" cy="115.5" r="5.8"/><circle cx="307.9" cy="194.4" r="5.6"/><circle cx="223.4" cy="193.0" r="5.6"/><circle cx="226.3" cy="188.9" r="3.8"/><circle cx="306.9" cy="263.4" r="5.6"/><circle cx="119.1" cy="44.9" r="5.3"/><circle cx="205.9" cy="180.6" r="5.3"/><circle cx="209.3" cy="176.9" r="3.2"/><circle cx="18.5" cy="110.6" r="5.3"/><circle cx="17.1" cy="165.9" r="5.2"/><circle cx="128.0" cy="249.6" r="5.2"/><circle cx="165.7" cy="69.4" r="5.2"/><circle cx="167.9" cy="66.5" r="3.1"/><circle cx="275.4" cy="253.4" r="5.2"/><circle cx="139.2" cy="81.9" r="5.1"/><circle cx="138.7" cy="85.2" r="2.6"/><circle cx="66.5" cy="208.1" r="5.1"/><circle cx="109.9" cy="165.4" r="5.1"/><circle cx="295.1" cy="167.7" r="5.0"/><circle cx="55.1" cy="64.9" r="5.0"/><circle cx="-5.3" cy="29.7" r="5.0"/><circle cx="292.4" cy="103.0" r="5.0"/><circle cx="287.5" cy="102.3" r="3.6"/><circle cx="274.3" cy="203.4" r="4.9"/><circle cx="93.7" cy="207.6" r="4.9"/><circle cx="90.7" cy="206.5" r="3.9"/><circle cx="30.5" cy="258.2" r="4.9"/><circle cx="32.5" cy="255.2" r="3.2"/><circle cx="113.9" cy="200.1" r="4.9"/><circle cx="115.9" cy="197.9" r="3.6"/><circle cx="78.1" cy="103.6" r="4.8"/><circle cx="175.1" cy="211.3" r="4.8"/><circle cx="81.8" cy="46.5" r="4.8"/><circle cx="186.9" cy="228.6" r="4.8"/><circle cx="247.8" cy="20.6" r="4.8"/><circle cx="245.5" cy="23.2" r="3.3"/><circle cx="-3.9" cy="153.4" r="4.7"/><circle cx="-6.0" cy="151.1" r="3.4"/><circle cx="198.2" cy="152.6" r="4.7"/><circle cx="199.9" cy="149.6" r="4.0"/><circle cx="107.7" cy="121.3" r="4.7"/><circle cx="291.8" cy="208.3" r="4.7"/><circle cx="291.1" cy="212.6" r="2.5"/><circle cx="232.6" cy="242.0" r="4.7"/><circle cx="133.9" cy="57.4" r="4.7"/><circle cx="129.6" cy="57.1" r="2.5"/><circle cx="223.3" cy="34.8" r="4.7"/><circle cx="106.6" cy="60.9" r="4.6"/><circle cx="228.3" cy="75.6" r="4.6"/><circle cx="2.9" cy="46.4" r="4.6"/><circle cx="2.3" cy="43.2" r="3.1"/><circle cx="274.6" cy="80.8" r="4.6"/><circle cx="279.2" cy="27.9" r="4.4"/><circle cx="195.8" cy="211.9" r="4.4"/><circle cx="250.5" cy="130.8" r="4.4"/><circle cx="246.7" cy="129.2" r="3.1"/><circle cx="233.8" cy="105.0" r="4.3"/><circle cx="240.2" cy="258.4" r="4.2"/><circle cx="16.0" cy="147.3" r="4.2"/><circle cx="80.6" cy="-3.9" r="4.1"/><circle cx="100.3" cy="38.9" r="4.0"/><circle cx="97.8" cy="39.0" r="2.7"/><circle cx="3.2" cy="226.7" r="4.0"/><circle cx="38.4" cy="173.6" r="3.9"/><circle cx="171.6" cy="262.5" r="3.8"/><circle cx="100.1" cy="181.7" r="3.8"/><circle cx="98.8" cy="179.6" r="2.1"/><circle cx="94.4" cy="238.6" r="3.7"/><circle cx="309.8" cy="220.4" r="3.7"/><circle cx="22.0" cy="83.6" r="3.5"/><circle cx="24.7" cy="84.4" r="1.8"/><circle cx="242.2" cy="1.2" r="3.4"/><circle cx="244.7" cy="3.1" r="2.5"/><circle cx="44.3" cy="228.7" r="3.3"/><circle cx="-3.4" cy="70.8" r="3.3"/><circle cx="-0.4" cy="71.0" r="2.1"/><circle cx="257.4" cy="187.0" r="3.3"/><circle cx="57.2" cy="45.8" r="3.3"/><circle cx="187.4" cy="57.4" r="3.2"/><circle cx="189.4" cy="58.9" r="2.6"/><circle cx="69.0" cy="259.0" r="3.2"/><circle cx="71.5" cy="261.1" r="2.1"/><circle cx="170.0" cy="23.1" r="3.2"/><circle cx="168.9" cy="21.4" r="2.5"/><circle cx="149.5" cy="143.9" r="3.2"/><circle cx="243.3" cy="147.6" r="3.1"/><circle cx="304.1" cy="246.6" r="3.1"/><circle cx="139.4" cy="161.9" r="3.0"/><circle cx="132.7" cy="131.8" r="3.0"/><circle cx="131.1" cy="130.1" r="1.9"/><circle cx="168.0" cy="243.0" r="3.0"/><circle cx="273.0" cy="161.4" r="3.0"/><circle cx="270.4" cy="160.3" r="1.6"/><circle cx="14.2" cy="252.1" r="2.9"/><circle cx="303.8" cy="115.6" r="2.9"/><circle cx="89.8" cy="115.1" r="2.7"/><circle cx="87.6" cy="115.4" r="2.0"/><circle cx="37.7" cy="54.5" r="2.7"/><circle cx="36.8" cy="56.4" r="2.3"/><circle cx="311.2" cy="0.0" r="2.7"/><circle cx="309.2" cy="-0.5" r="1.7"/><circle cx="94.2" cy="7.3" r="2.7"/><circle cx="92.5" cy="6.4" r="1.5"/><circle cx="203.4" cy="238.2" r="2.6"/><circle cx="203.8" cy="236.0" r="2.1"/><circle cx="311.1" cy="61.5" r="2.6"/><circle cx="63.6" cy="80.8" r="2.5"/><circle cx="63.9" cy="82.6" r="2.1"/><circle cx="189.2" cy="194.5" r="2.4"/><circle cx="210.4" cy="43.3" r="2.3"/><circle cx="208.4" cy="44.3" r="1.8"/><circle cx="159.5" cy="91.9" r="2.3"/><circle cx="159.9" cy="93.3" r="1.5"/><circle cx="203.8" cy="125.7" r="2.3"/><circle cx="170.2" cy="117.6" r="2.3"/><circle cx="241.3" cy="200.7" r="2.2"/><circle cx="287.7" cy="64.4" r="2.2"/><circle cx="154.4" cy="198.6" r="2.2"/><circle cx="55.6" cy="183.3" r="2.1"/><circle cx="54.0" cy="184.7" r="1.3"/><circle cx="310.2" cy="175.3" r="2.1"/><circle cx="189.4" cy="136.0" r="2.1"/><circle cx="49.9" cy="23.5" r="2.1"/><circle cx="312.3" cy="99.1" r="2.1"/><circle cx="208.0" cy="200.0" r="2.1"/><circle cx="209.2" cy="200.7" r="1.2"/><circle cx="129.2" cy="208.8" r="2.0"/><circle cx="228.6" cy="51.4" r="2.0"/><circle cx="190.3" cy="72.4" r="2.0"/><circle cx="313.0" cy="21.8" r="2.0"/><circle cx="312.9" cy="20.2" r="1.5"/><circle cx="21.9" cy="191.8" r="2.0"/><circle cx="244.7" cy="82.3" r="2.0"/><circle cx="243.9" cy="83.3" r="1.5"/><circle cx="258.0" cy="259.6" r="2.0"/><circle cx="256.6" cy="260.4" r="1.5"/></g>
<ellipse cx="473.1" cy="1889.4" rx="20" ry="29" transform="rotate(5 473.1 1889.4)"/>
<ellipse cx="489.1" cy="1775.4" rx="9" ry="11"/>
<ellipse cx="532.1" cy="1763.4" rx="11" ry="8"/>
<ellipse cx="530.1" cy="1842.4" rx="10" ry="13"/>
<ellipse cx="563.1" cy="1864.4" rx="17" ry="5" transform="rotate(-40 563.1 1864.4)"/>
<ellipse cx="675.1" cy="1808.4" rx="16" ry="19"/>
<ellipse cx="591.1" cy="1925.4" rx="15" ry="15"/>
<ellipse cx="596.1" cy="1842.4" rx="8" ry="7"/>
<ellipse cx="551.1" cy="1939.4" rx="9" ry="10"/>
<ellipse cx="458.1" cy="1956.4" rx="8" ry="11"/>
<ellipse cx="567.1" cy="1976.4" rx="12" ry="12"/>
<ellipse cx="637.1" cy="1971.4" rx="11" ry="8"/>
<ellipse cx="663.1" cy="1923.4" rx="7" ry="9"/>
<ellipse cx="671.1" cy="1994.4" rx="8" ry="5"/>
<ellipse cx="439.1" cy="1987.4" rx="6" ry="7"/>
<ellipse cx="695.1" cy="1933.4" rx="5" ry="6"/>
<ellipse cx="640.1" cy="1763.4" rx="9" ry="7"/>
</g>
</g>
<rect x="418.2" y="1754.5" width="305.1" height="255.4" fill="none" stroke="#231815" stroke-width="2.2"/>
<g clip-path="url(#cl02)">
<rect x="734" y="1753.4" width="307.3" height="257.6" filter="url(#tx02)"/>
<rect x="734" y="1753.4" width="307.3" height="257.6" fill="url(#np02)"/>
<g filter="url(#hf02)" fill="#EFEBF5">
<g transform="translate(734 1753.4)"><circle cx="238.4" cy="257.5" r="14.0"/><circle cx="226.3" cy="260.7" r="7.4"/><circle cx="268.8" cy="233.5" r="14.0"/><circle cx="267.2" cy="245.3" r="8.7"/><circle cx="2.4" cy="81.2" r="14.0"/><circle cx="285.1" cy="261.4" r="14.0"/><circle cx="298.6" cy="261.6" r="10.6"/><circle cx="97.4" cy="188.3" r="13.9"/><circle cx="106.1" cy="186.6" r="8.4"/><circle cx="193.5" cy="66.2" r="13.9"/><circle cx="194.8" cy="76.8" r="9.1"/><circle cx="150.1" cy="62.4" r="13.9"/><circle cx="110.3" cy="238.8" r="13.9"/><circle cx="-4.9" cy="37.3" r="13.9"/><circle cx="284.3" cy="30.5" r="13.9"/><circle cx="291.3" cy="19.8" r="10.0"/><circle cx="31.6" cy="205.9" r="13.9"/><circle cx="182.7" cy="18.3" r="13.9"/><circle cx="83.4" cy="136.0" r="13.9"/><circle cx="76.7" cy="142.0" r="8.5"/><circle cx="-2.6" cy="180.8" r="13.9"/><circle cx="-7.2" cy="169.9" r="7.9"/><circle cx="34.9" cy="111.0" r="13.9"/><circle cx="234.8" cy="104.7" r="13.9"/><circle cx="312.9" cy="218.8" r="13.9"/><circle cx="275.3" cy="-5.0" r="13.8"/><circle cx="265.2" cy="-8.7" r="7.6"/><circle cx="183.6" cy="260.6" r="13.8"/><circle cx="173.8" cy="258.2" r="10.0"/><circle cx="74.2" cy="255.9" r="13.8"/><circle cx="71.5" cy="242.9" r="10.1"/><circle cx="107.7" cy="84.0" r="13.8"/><circle cx="108.5" cy="93.9" r="11.7"/><circle cx="281.5" cy="92.9" r="13.8"/><circle cx="276.5" cy="100.1" r="11.2"/><circle cx="214.6" cy="160.7" r="13.8"/><circle cx="165.8" cy="141.9" r="13.8"/><circle cx="257.0" cy="191.1" r="13.8"/><circle cx="245.1" cy="186.5" r="9.8"/><circle cx="21.8" cy="251.3" r="13.8"/><circle cx="71.7" cy="43.8" r="13.8"/><circle cx="80.1" cy="43.3" r="11.6"/><circle cx="-2.1" cy="147.6" r="13.8"/><circle cx="-6.9" cy="139.4" r="6.9"/><circle cx="299.6" cy="186.3" r="13.8"/><circle cx="290.8" cy="192.5" r="8.2"/><circle cx="6.6" cy="2.2" r="13.8"/><circle cx="-4.8" cy="4.1" r="10.7"/><circle cx="40.0" cy="37.0" r="13.8"/><circle cx="219.0" cy="226.8" r="13.7"/><circle cx="151.3" cy="247.9" r="13.7"/><circle cx="139.2" cy="243.9" r="7.9"/><circle cx="85.3" cy="-4.5" r="13.7"/><circle cx="76.6" cy="-11.7" r="11.0"/><circle cx="42.3" cy="-4.3" r="13.7"/><circle cx="35.6" cy="5.1" r="7.8"/><circle cx="125.9" cy="207.3" r="13.7"/><circle cx="-2.9" cy="222.1" r="13.7"/><circle cx="6.5" cy="228.2" r="9.5"/><circle cx="309.9" cy="68.2" r="13.7"/><circle cx="303.4" cy="57.3" r="8.5"/><circle cx="138.5" cy="93.5" r="13.7"/><circle cx="130.0" cy="102.1" r="10.1"/><circle cx="239.5" cy="141.4" r="13.7"/><circle cx="65.7" cy="216.4" r="13.7"/><circle cx="72.6" cy="226.3" r="9.4"/><circle cx="38.9" cy="69.1" r="13.7"/><circle cx="30.2" cy="68.2" r="9.8"/><circle cx="256.4" cy="71.1" r="13.6"/><circle cx="263.0" cy="66.1" r="10.2"/><circle cx="-5.0" cy="114.9" r="13.6"/><circle cx="4.8" cy="113.3" r="10.2"/><circle cx="308.1" cy="-4.9" r="13.6"/><circle cx="317.4" cy="-11.0" r="7.3"/><circle cx="129.1" cy="171.2" r="13.6"/><circle cx="153.4" cy="-0.4" r="13.6"/><circle cx="166.4" cy="0.6" r="9.0"/><circle cx="310.7" cy="103.0" r="13.2"/><circle cx="226.9" cy="190.4" r="13.1"/><circle cx="221.4" cy="182.3" r="11.1"/><circle cx="75.9" cy="165.1" r="12.9"/><circle cx="66.2" cy="166.3" r="8.3"/><circle cx="220.2" cy="79.0" r="12.5"/><circle cx="171.4" cy="89.5" r="12.3"/><circle cx="86.6" cy="106.4" r="11.9"/><circle cx="90.5" cy="95.7" r="8.4"/><circle cx="156.2" cy="33.4" r="11.8"/><circle cx="149.9" cy="23.4" r="7.5"/><circle cx="312.2" cy="248.9" r="11.6"/><circle cx="320.0" cy="257.2" r="7.6"/><circle cx="206.7" cy="-5.7" r="10.8"/><circle cx="280.4" cy="206.0" r="10.7"/><circle cx="279.9" cy="196.2" r="6.1"/><circle cx="-5.9" cy="249.4" r="10.5"/><circle cx="162.9" cy="114.7" r="10.4"/><circle cx="157.9" cy="110.2" r="6.9"/><circle cx="54.2" cy="137.1" r="10.4"/><circle cx="46.9" cy="135.0" r="6.0"/><circle cx="97.9" cy="55.3" r="10.4"/><circle cx="48.9" cy="239.8" r="10.2"/><circle cx="211.0" cy="262.9" r="10.1"/><circle cx="202.7" cy="266.9" r="6.7"/><circle cx="62.2" cy="14.9" r="10.1"/><circle cx="65.7" cy="190.2" r="9.6"/><circle cx="24.6" cy="139.1" r="9.5"/><circle cx="30.2" cy="133.6" r="4.8"/><circle cx="46.0" cy="263.1" r="9.3"/><circle cx="41.8" cy="255.6" r="4.7"/><circle cx="104.0" cy="163.0" r="9.0"/><circle cx="98.1" cy="166.6" r="6.7"/><circle cx="196.4" cy="142.5" r="8.9"/><circle cx="188.6" cy="145.2" r="6.8"/><circle cx="260.7" cy="108.4" r="8.8"/><circle cx="281.3" cy="57.1" r="8.8"/><circle cx="252.2" cy="163.4" r="8.7"/><circle cx="310.8" cy="24.3" r="8.7"/><circle cx="99.3" cy="214.5" r="8.6"/><circle cx="96.4" cy="209.1" r="6.9"/><circle cx="243.2" cy="213.7" r="8.6"/><circle cx="237.6" cy="220.0" r="5.3"/><circle cx="124.6" cy="261.7" r="8.4"/><circle cx="312.5" cy="159.7" r="8.4"/><circle cx="85.4" cy="232.6" r="8.3"/><circle cx="121.1" cy="61.3" r="8.3"/><circle cx="114.2" cy="65.0" r="6.9"/><circle cx="277.2" cy="174.9" r="8.1"/><circle cx="283.6" cy="173.0" r="6.6"/><circle cx="16.6" cy="53.5" r="7.9"/><circle cx="20.1" cy="49.8" r="5.3"/><circle cx="194.8" cy="238.3" r="7.5"/><circle cx="175.2" cy="46.9" r="7.5"/><circle cx="20.0" cy="22.8" r="7.5"/><circle cx="219.5" cy="127.7" r="7.4"/><circle cx="64.1" cy="116.0" r="7.3"/><circle cx="60.7" cy="119.3" r="3.9"/><circle cx="82.4" cy="21.6" r="7.3"/><circle cx="78.6" cy="26.6" r="4.5"/><circle cx="193.5" cy="40.6" r="7.2"/><circle cx="141.2" cy="149.9" r="7.2"/><circle cx="146.0" cy="150.5" r="5.2"/><circle cx="292.4" cy="238.1" r="7.0"/><circle cx="297.7" cy="240.1" r="5.5"/><circle cx="244.1" cy="233.0" r="6.8"/><circle cx="243.9" cy="238.8" r="3.7"/><circle cx="110.9" cy="-4.5" r="6.8"/><circle cx="112.0" cy="1.5" r="4.5"/><circle cx="129.3" cy="-4.4" r="6.4"/><circle cx="132.9" cy="-0.7" r="3.6"/><circle cx="143.7" cy="225.2" r="6.4"/><circle cx="139.7" cy="223.7" r="4.7"/><circle cx="98.6" cy="262.2" r="6.1"/><circle cx="14.1" cy="100.8" r="6.0"/><circle cx="10.9" cy="103.5" r="3.4"/><circle cx="305.5" cy="41.2" r="5.9"/><circle cx="305.8" cy="45.0" r="4.3"/><circle cx="9.1" cy="202.5" r="5.8"/><circle cx="21.7" cy="227.6" r="5.7"/><circle cx="175.6" cy="-4.3" r="5.6"/><circle cx="178.4" cy="237.3" r="5.5"/><circle cx="179.8" cy="240.5" r="4.4"/><circle cx="55.6" cy="100.1" r="5.4"/><circle cx="57.1" cy="103.3" r="2.9"/><circle cx="24.9" cy="90.1" r="5.4"/><circle cx="253.1" cy="-4.3" r="5.3"/><circle cx="256.8" cy="-1.5" r="3.5"/><circle cx="255.2" cy="126.0" r="5.0"/><circle cx="252.5" cy="122.7" r="2.6"/><circle cx="261.0" cy="257.1" r="4.9"/><circle cx="265.3" cy="257.0" r="3.3"/><circle cx="235.3" cy="169.5" r="4.8"/><circle cx="234.7" cy="173.1" r="3.0"/><circle cx="312.8" cy="126.3" r="4.7"/><circle cx="252.4" cy="92.0" r="4.6"/><circle cx="248.5" cy="91.0" r="3.6"/><circle cx="171.9" cy="64.2" r="4.6"/><circle cx="12.4" cy="127.3" r="4.5"/><circle cx="265.4" cy="51.6" r="4.2"/><circle cx="92.1" cy="36.2" r="4.2"/><circle cx="144.4" cy="114.4" r="4.1"/><circle cx="33.5" cy="15.7" r="4.1"/><circle cx="30.9" cy="15.8" r="3.3"/><circle cx="200.0" cy="86.8" r="4.0"/><circle cx="201.3" cy="89.5" r="2.9"/><circle cx="45.1" cy="92.0" r="3.9"/><circle cx="45.9" cy="94.6" r="2.5"/><circle cx="90.7" cy="71.3" r="3.8"/><circle cx="33.2" cy="233.5" r="3.8"/><circle cx="32.0" cy="230.9" r="2.3"/><circle cx="132.4" cy="235.4" r="3.7"/><circle cx="-2.0" cy="59.9" r="3.7"/><circle cx="290.0" cy="221.5" r="3.6"/><circle cx="291.0" cy="224.6" r="2.1"/><circle cx="148.5" cy="161.6" r="3.6"/><circle cx="150.6" cy="162.4" r="2.2"/><circle cx="292.0" cy="9.0" r="3.6"/><circle cx="290.4" cy="10.9" r="3.0"/><circle cx="184.4" cy="132.7" r="3.5"/><circle cx="188.4" cy="-3.6" r="3.5"/><circle cx="189.0" cy="-1.1" r="2.2"/><circle cx="207.5" cy="244.9" r="3.4"/><circle cx="209.4" cy="247.0" r="1.8"/><circle cx="42.9" cy="223.1" r="3.4"/><circle cx="132.3" cy="50.9" r="3.3"/><circle cx="219.1" cy="247.2" r="3.3"/><circle cx="219.2" cy="244.7" r="1.9"/><circle cx="117.7" cy="188.7" r="3.3"/><circle cx="120.1" cy="188.9" r="1.9"/><circle cx="106.7" cy="104.9" r="3.3"/><circle cx="104.4" cy="103.6" r="2.7"/><circle cx="12.9" cy="162.2" r="3.3"/><circle cx="15.0" cy="163.7" r="2.0"/><circle cx="268.2" cy="14.2" r="3.2"/><circle cx="268.2" cy="11.6" r="1.6"/><circle cx="225.5" cy="-5.8" r="3.2"/><circle cx="296.5" cy="50.2" r="3.2"/><circle cx="287.5" cy="72.0" r="3.2"/><circle cx="182.7" cy="157.0" r="3.2"/><circle cx="183.0" cy="154.6" r="2.6"/><circle cx="16.3" cy="189.4" r="3.1"/><circle cx="149.4" cy="125.8" r="3.1"/><circle cx="146.7" cy="127.2" r="1.9"/><circle cx="292.0" cy="110.7" r="3.1"/><circle cx="293.9" cy="109.4" r="1.9"/><circle cx="83.0" cy="207.1" r="3.1"/><circle cx="189.7" cy="89.8" r="3.1"/><circle cx="190.5" cy="92.0" r="2.5"/><circle cx="259.3" cy="214.8" r="3.1"/><circle cx="257.6" cy="213.2" r="2.3"/><circle cx="212.4" cy="140.6" r="3.1"/><circle cx="210.3" cy="138.8" r="2.5"/><circle cx="67.9" cy="102.0" r="3.1"/><circle cx="66.3" cy="103.9" r="2.2"/><circle cx="166.0" cy="233.3" r="3.0"/><circle cx="167.1" cy="230.8" r="2.3"/><circle cx="132.0" cy="74.4" r="3.0"/><circle cx="130.6" cy="72.9" r="1.8"/></g>
<ellipse cx="969" cy="1783.4" rx="38" ry="22"/>
<ellipse cx="854" cy="1779.4" rx="22" ry="20"/>
<ellipse cx="909" cy="1948.4" rx="45" ry="20" transform="rotate(-15 909 1948.4)"/>
<ellipse cx="854" cy="1881.4" rx="20" ry="20"/>
<ellipse cx="929" cy="1865.4" rx="18" ry="16"/>
<ellipse cx="1017" cy="1893.4" rx="18" ry="28"/>
<ellipse cx="774" cy="1923.4" rx="22" ry="18"/>
<ellipse cx="804" cy="1833.4" rx="16" ry="14"/>
</g>
</g>
<rect x="735.1" y="1754.5" width="305.1" height="255.4" fill="none" stroke="#231815" stroke-width="2.2"/>
<g clip-path="url(#cl03)">
<rect x="1050.5" y="1753.4" width="307.3" height="257.6" filter="url(#tx03)"/>
<rect x="1050.5" y="1753.4" width="307.3" height="257.6" fill="url(#np03)"/>
<g filter="url(#ovblur)"><g transform="translate(1050.5 1753.4)"><path d="M22,20 C40,50 42,100 26,150" fill="none" stroke="#6A3A9C" stroke-width="16" opacity="0.45"/><path d="M268,150 C262,185 265,225 285,250" fill="none" stroke="#6A3A9C" stroke-width="14" opacity="0.45"/><path d="M100,245 C120,235 140,238 150,257" fill="none" stroke="#C890C8" stroke-width="6"/></g></g>
<g filter="url(#hf03)" fill="#EFEBF5">
<g transform="translate(1050.5 1753.4)"><circle cx="305.7" cy="130.6" r="10.0"/><circle cx="297.7" cy="129.3" r="5.9"/><circle cx="212.5" cy="218.4" r="10.0"/><circle cx="236.3" cy="246.2" r="10.0"/><circle cx="160.1" cy="140.9" r="9.9"/><circle cx="146.2" cy="189.9" r="9.9"/><circle cx="155.2" cy="18.3" r="9.9"/><circle cx="146.6" cy="14.1" r="7.4"/><circle cx="16.1" cy="220.1" r="9.8"/><circle cx="75.3" cy="119.0" r="9.8"/><circle cx="80.1" cy="112.1" r="6.3"/><circle cx="254.1" cy="40.7" r="9.8"/><circle cx="27.8" cy="141.8" r="9.8"/><circle cx="124.7" cy="81.1" r="9.7"/><circle cx="275.7" cy="114.4" r="9.7"/><circle cx="301.3" cy="76.2" r="9.7"/><circle cx="296.1" cy="237.0" r="9.6"/><circle cx="66.7" cy="205.3" r="9.5"/><circle cx="74.8" cy="206.7" r="4.9"/><circle cx="190.5" cy="171.0" r="9.5"/><circle cx="144.1" cy="162.1" r="9.5"/><circle cx="143.3" cy="167.9" r="7.2"/><circle cx="130.0" cy="230.0" r="9.4"/><circle cx="61.3" cy="233.7" r="9.3"/><circle cx="63.8" cy="240.3" r="6.5"/><circle cx="175.0" cy="116.0" r="9.3"/><circle cx="208.6" cy="76.7" r="9.3"/><circle cx="201.8" cy="82.5" r="6.1"/><circle cx="228.1" cy="145.2" r="9.3"/><circle cx="263.6" cy="-0.2" r="9.2"/><circle cx="219.5" cy="189.9" r="9.2"/><circle cx="89.8" cy="53.3" r="9.2"/><circle cx="2.6" cy="181.2" r="9.2"/><circle cx="246.8" cy="66.5" r="9.2"/><circle cx="77.3" cy="-0.7" r="9.2"/><circle cx="270.2" cy="259.1" r="9.1"/><circle cx="23.0" cy="-4.5" r="9.0"/><circle cx="64.1" cy="39.0" r="9.0"/><circle cx="58.4" cy="38.6" r="4.9"/><circle cx="166.2" cy="67.5" r="9.0"/><circle cx="119.2" cy="46.9" r="8.9"/><circle cx="267.3" cy="172.0" r="8.9"/><circle cx="284.0" cy="29.6" r="8.7"/><circle cx="221.5" cy="3.0" r="8.7"/><circle cx="96.4" cy="88.4" r="8.7"/><circle cx="195.4" cy="-5.4" r="8.7"/><circle cx="256.6" cy="204.6" r="8.7"/><circle cx="-0.4" cy="262.2" r="8.6"/><circle cx="6.8" cy="260.5" r="5.5"/><circle cx="34.5" cy="59.1" r="8.6"/><circle cx="38.9" cy="64.7" r="6.2"/><circle cx="239.1" cy="174.1" r="8.6"/><circle cx="200.0" cy="125.8" r="8.5"/><circle cx="179.7" cy="215.0" r="8.5"/><circle cx="186.2" cy="219.9" r="7.2"/><circle cx="86.5" cy="161.4" r="8.5"/><circle cx="44.4" cy="123.8" r="8.5"/><circle cx="105.4" cy="257.6" r="8.5"/><circle cx="109.0" cy="261.9" r="5.5"/><circle cx="42.8" cy="15.6" r="8.4"/><circle cx="100.4" cy="23.3" r="8.4"/><circle cx="3.2" cy="152.1" r="8.4"/><circle cx="41.1" cy="256.4" r="8.3"/><circle cx="104.3" cy="-2.1" r="8.3"/><circle cx="106.2" cy="3.3" r="6.7"/><circle cx="113.6" cy="116.8" r="8.3"/><circle cx="118.9" cy="118.8" r="5.3"/><circle cx="135.5" cy="128.0" r="8.3"/><circle cx="304.3" cy="160.2" r="8.3"/><circle cx="310.0" cy="156.8" r="5.8"/><circle cx="256.5" cy="147.3" r="8.2"/><circle cx="113.8" cy="162.8" r="8.2"/><circle cx="-2.4" cy="58.3" r="8.2"/><circle cx="260.4" cy="236.5" r="8.0"/><circle cx="260.6" cy="243.4" r="4.7"/><circle cx="-3.0" cy="30.2" r="8.0"/><circle cx="157.6" cy="96.6" r="8.0"/><circle cx="32.0" cy="190.0" r="7.9"/><circle cx="313.1" cy="12.3" r="7.9"/><circle cx="308.8" cy="17.4" r="6.4"/><circle cx="128.2" cy="18.3" r="7.9"/><circle cx="94.5" cy="218.6" r="7.9"/><circle cx="209.5" cy="257.8" r="7.9"/><circle cx="131.7" cy="-4.9" r="7.9"/><circle cx="137.4" cy="-4.5" r="5.9"/><circle cx="300.7" cy="50.2" r="7.8"/><circle cx="297.1" cy="54.1" r="5.2"/><circle cx="51.4" cy="99.4" r="7.7"/><circle cx="171.3" cy="-4.0" r="7.7"/><circle cx="173.2" cy="-9.5" r="5.0"/><circle cx="73.3" cy="94.4" r="7.7"/><circle cx="227.1" cy="40.4" r="7.6"/><circle cx="222.2" cy="43.0" r="6.4"/><circle cx="312.8" cy="181.6" r="7.6"/><circle cx="319.4" cy="180.0" r="5.2"/><circle cx="79.3" cy="263.4" r="7.6"/><circle cx="85.6" cy="259.5" r="4.7"/><circle cx="276.5" cy="67.7" r="7.5"/><circle cx="139.7" cy="262.9" r="7.4"/><circle cx="137.4" cy="256.1" r="5.1"/><circle cx="193.7" cy="56.4" r="7.4"/><circle cx="69.7" cy="180.6" r="7.4"/><circle cx="262.4" cy="88.6" r="7.2"/><circle cx="-1.8" cy="-2.3" r="7.2"/><circle cx="-1.5" cy="-6.8" r="4.0"/><circle cx="310.9" cy="206.0" r="7.2"/><circle cx="307.6" cy="104.8" r="7.1"/><circle cx="281.2" cy="152.1" r="7.1"/><circle cx="23.9" cy="27.9" r="7.1"/><circle cx="24.1" cy="21.7" r="4.1"/><circle cx="41.0" cy="215.7" r="7.1"/><circle cx="149.4" cy="41.4" r="7.0"/><circle cx="106.9" cy="139.5" r="7.0"/><circle cx="243.6" cy="14.2" r="6.9"/><circle cx="249.3" cy="16.5" r="5.4"/><circle cx="70.4" cy="146.1" r="6.9"/><circle cx="193.2" cy="101.9" r="6.8"/><circle cx="193.0" cy="106.3" r="5.3"/><circle cx="171.8" cy="41.6" r="6.8"/><circle cx="293.0" cy="2.3" r="6.7"/><circle cx="294.5" cy="-1.5" r="5.1"/><circle cx="254.1" cy="124.9" r="6.6"/><circle cx="254.9" cy="120.9" r="3.5"/><circle cx="313.3" cy="262.9" r="6.5"/><circle cx="-5.4" cy="234.0" r="6.5"/><circle cx="186.3" cy="255.9" r="6.4"/><circle cx="183.8" cy="83.2" r="6.3"/><circle cx="-6.0" cy="131.9" r="6.2"/><circle cx="-4.5" cy="128.1" r="3.9"/><circle cx="232.9" cy="208.4" r="6.2"/><circle cx="179.1" cy="19.0" r="6.2"/><circle cx="176.5" cy="22.5" r="4.7"/><circle cx="142.5" cy="212.3" r="6.1"/><circle cx="183.6" cy="146.9" r="6.1"/><circle cx="180.6" cy="149.2" r="4.2"/><circle cx="25.7" cy="168.5" r="6.0"/><circle cx="26.3" cy="239.9" r="5.9"/><circle cx="25.9" cy="235.7" r="3.2"/><circle cx="190.9" cy="234.3" r="5.9"/><circle cx="170.4" cy="193.4" r="5.7"/><circle cx="166.1" cy="196.7" r="3.6"/><circle cx="213.0" cy="170.2" r="5.7"/><circle cx="211.1" cy="173.6" r="3.8"/><circle cx="84.0" cy="241.1" r="5.7"/><circle cx="153.0" cy="115.8" r="5.6"/><circle cx="151.5" cy="111.2" r="3.1"/><circle cx="140.8" cy="61.0" r="5.6"/><circle cx="285.4" cy="93.7" r="5.6"/><circle cx="108.8" cy="66.1" r="5.4"/><circle cx="105.6" cy="65.1" r="4.4"/><circle cx="195.8" cy="201.0" r="5.4"/><circle cx="241.8" cy="88.6" r="5.3"/><circle cx="274.3" cy="223.2" r="5.2"/><circle cx="272.2" cy="227.0" r="3.9"/><circle cx="160.3" cy="208.3" r="4.8"/><circle cx="161.6" cy="174.0" r="4.8"/><circle cx="132.4" cy="102.3" r="4.7"/><circle cx="205.1" cy="154.4" r="4.6"/><circle cx="200.6" cy="155.1" r="3.2"/><circle cx="88.4" cy="199.7" r="4.6"/><circle cx="85.0" cy="196.8" r="3.3"/><circle cx="90.1" cy="134.6" r="4.5"/><circle cx="124.5" cy="144.9" r="4.5"/><circle cx="38.8" cy="38.5" r="4.4"/><circle cx="36.5" cy="42.1" r="3.3"/><circle cx="-5.5" cy="216.3" r="4.4"/><circle cx="244.0" cy="-4.6" r="4.4"/><circle cx="118.1" cy="211.7" r="4.3"/><circle cx="255.9" cy="106.2" r="4.2"/><circle cx="259.4" cy="104.7" r="3.1"/><circle cx="104.2" cy="234.4" r="4.0"/><circle cx="288.5" cy="169.3" r="4.0"/><circle cx="286.3" cy="168.1" r="2.2"/><circle cx="290.7" cy="256.8" r="4.0"/><circle cx="79.2" cy="24.5" r="3.9"/><circle cx="50.2" cy="182.7" r="3.9"/><circle cx="225.7" cy="59.9" r="3.9"/><circle cx="62.3" cy="16.8" r="3.9"/><circle cx="119.5" cy="246.1" r="3.8"/><circle cx="55.7" cy="-0.6" r="3.7"/><circle cx="9.1" cy="246.3" r="3.7"/><circle cx="5.7" cy="245.3" r="2.3"/><circle cx="213.5" cy="51.1" r="3.7"/><circle cx="1.1" cy="200.2" r="3.7"/><circle cx="20.0" cy="255.7" r="3.7"/><circle cx="22.5" cy="254.4" r="3.0"/><circle cx="160.7" cy="261.9" r="3.6"/><circle cx="239.1" cy="225.2" r="3.6"/><circle cx="168.0" cy="159.8" r="3.6"/><circle cx="170.8" cy="159.9" r="2.0"/><circle cx="11.9" cy="11.3" r="3.5"/><circle cx="15.4" cy="11.5" r="2.9"/><circle cx="38.8" cy="78.7" r="3.5"/><circle cx="263.7" cy="19.0" r="3.5"/><circle cx="261.3" cy="21.2" r="1.9"/><circle cx="17.2" cy="50.0" r="3.4"/><circle cx="227.8" cy="81.3" r="3.4"/><circle cx="228.9" cy="79.2" r="2.3"/><circle cx="271.4" cy="136.9" r="3.3"/><circle cx="82.4" cy="72.7" r="3.3"/><circle cx="83.6" cy="70.9" r="2.0"/><circle cx="47.8" cy="199.3" r="3.3"/><circle cx="45.9" cy="198.7" r="2.1"/><circle cx="148.4" cy="73.7" r="3.2"/><circle cx="146.0" cy="75.5" r="2.2"/><circle cx="212.6" cy="96.2" r="3.2"/><circle cx="126.5" cy="176.3" r="3.2"/><circle cx="220.4" cy="22.2" r="3.1"/><circle cx="92.9" cy="109.3" r="3.1"/><circle cx="312.1" cy="227.1" r="3.1"/><circle cx="41.4" cy="-2.9" r="3.1"/><circle cx="254.4" cy="185.9" r="3.1"/><circle cx="252.9" cy="187.3" r="1.9"/><circle cx="251.6" cy="259.2" r="3.0"/><circle cx="17.4" cy="200.3" r="3.0"/><circle cx="36.2" cy="106.3" r="3.0"/><circle cx="35.6" cy="108.7" r="2.4"/></g>
<ellipse cx="1058.5" cy="1848.4" rx="10" ry="30"/>
<ellipse cx="1335.5" cy="1953.4" rx="8" ry="16"/>
<ellipse cx="1110.5" cy="1823.4" rx="10" ry="9"/>
<ellipse cx="1213.5" cy="1993.4" rx="14" ry="10"/>
<ellipse cx="1160.5" cy="1943.4" rx="12" ry="10"/>
<ellipse cx="1280.5" cy="1863.4" rx="10" ry="14"/>
<ellipse cx="1100.5" cy="1913.4" rx="12" ry="10"/>
<ellipse cx="1250.5" cy="1783.4" rx="12" ry="8"/>
</g>
</g>
<rect x="1051.6" y="1754.5" width="305.1" height="255.4" fill="none" stroke="#231815" stroke-width="2.2"/>
<g clip-path="url(#cl04)">
<rect x="1367.6" y="1753.4" width="307.3" height="257.6" filter="url(#tx04)"/>
<rect x="1367.6" y="1753.4" width="307.3" height="257.6" fill="url(#np04)"/>
<g filter="url(#ovblur)"><g transform="translate(1367.6 1753.4)"><ellipse cx="280" cy="225" rx="33" ry="36" fill="none" stroke="#C882BE" stroke-width="12" opacity="0.7"/><ellipse cx="205" cy="175" rx="25" ry="18" fill="#6A3A9C" opacity="0.35"/></g></g>
<g filter="url(#hf04)" fill="#EFEBF5">
<g transform="translate(1367.6 1753.4)"><circle cx="-4.2" cy="199.4" r="8.9"/><circle cx="-11.3" cy="204.8" r="4.6"/><circle cx="57.5" cy="222.7" r="8.9"/><circle cx="8.2" cy="43.5" r="8.9"/><circle cx="308.3" cy="80.6" r="8.7"/><circle cx="315.6" cy="79.0" r="5.9"/><circle cx="237.5" cy="194.6" r="8.6"/><circle cx="42.4" cy="158.2" r="8.5"/><circle cx="300.2" cy="183.1" r="8.5"/><circle cx="297.5" cy="190.1" r="5.1"/><circle cx="152.7" cy="185.1" r="8.4"/><circle cx="144.8" cy="182.4" r="5.4"/><circle cx="6.7" cy="16.9" r="8.4"/><circle cx="299.2" cy="146.7" r="8.3"/><circle cx="112.3" cy="86.9" r="8.3"/><circle cx="109.4" cy="79.6" r="6.8"/><circle cx="70.0" cy="160.1" r="8.2"/><circle cx="285.5" cy="-2.9" r="8.2"/><circle cx="185.6" cy="201.6" r="8.1"/><circle cx="276.1" cy="166.0" r="8.1"/><circle cx="269.2" cy="167.4" r="6.1"/><circle cx="207.0" cy="137.5" r="8.0"/><circle cx="105.2" cy="217.9" r="8.0"/><circle cx="100.2" cy="219.6" r="5.1"/><circle cx="174.1" cy="103.5" r="8.0"/><circle cx="26.5" cy="62.7" r="7.9"/><circle cx="245.0" cy="99.9" r="7.9"/><circle cx="241.0" cy="102.5" r="5.6"/><circle cx="88.1" cy="6.8" r="7.8"/><circle cx="165.6" cy="77.3" r="7.7"/><circle cx="26.8" cy="206.8" r="7.7"/><circle cx="141.4" cy="55.4" r="7.6"/><circle cx="88.9" cy="237.4" r="7.6"/><circle cx="88.0" cy="242.7" r="4.9"/><circle cx="136.5" cy="125.4" r="7.6"/><circle cx="172.3" cy="259.6" r="7.6"/><circle cx="175.9" cy="255.6" r="6.2"/><circle cx="140.9" cy="262.1" r="7.6"/><circle cx="230.8" cy="254.0" r="7.5"/><circle cx="220.7" cy="171.7" r="7.4"/><circle cx="173.9" cy="10.2" r="7.3"/><circle cx="-0.1" cy="92.0" r="7.2"/><circle cx="-6.4" cy="94.0" r="5.5"/><circle cx="306.0" cy="14.4" r="7.2"/><circle cx="306.3" cy="18.8" r="4.9"/><circle cx="65.3" cy="-3.4" r="7.0"/><circle cx="70.0" cy="-5.2" r="4.2"/><circle cx="95.2" cy="116.1" r="7.0"/><circle cx="107.8" cy="153.5" r="7.0"/><circle cx="138.2" cy="162.7" r="6.9"/><circle cx="106.3" cy="25.5" r="6.9"/><circle cx="154.5" cy="214.2" r="6.8"/><circle cx="154.9" cy="207.8" r="5.5"/><circle cx="-2.7" cy="131.1" r="6.8"/><circle cx="240.9" cy="137.5" r="6.8"/><circle cx="129.1" cy="193.3" r="6.7"/><circle cx="50.7" cy="185.7" r="6.7"/><circle cx="55.7" cy="188.8" r="5.7"/><circle cx="153.8" cy="237.8" r="6.7"/><circle cx="157.9" cy="236.8" r="4.5"/><circle cx="42.4" cy="262.8" r="6.7"/><circle cx="298.8" cy="43.4" r="6.6"/><circle cx="303.7" cy="104.5" r="6.6"/><circle cx="307.9" cy="100.9" r="4.1"/><circle cx="53.3" cy="131.2" r="6.6"/><circle cx="48.3" cy="131.3" r="4.0"/><circle cx="170.5" cy="167.8" r="6.6"/><circle cx="131.5" cy="230.5" r="6.6"/><circle cx="127.8" cy="225.8" r="5.0"/><circle cx="37.4" cy="1.8" r="6.5"/><circle cx="73.7" cy="260.7" r="6.5"/><circle cx="67.4" cy="259.4" r="4.0"/><circle cx="30.1" cy="131.8" r="6.5"/><circle cx="105.6" cy="263.4" r="6.5"/><circle cx="310.4" cy="257.8" r="6.5"/><circle cx="235.4" cy="220.4" r="6.3"/><circle cx="145.8" cy="106.1" r="6.2"/><circle cx="114.2" cy="63.0" r="5.9"/><circle cx="113.0" cy="58.9" r="4.2"/><circle cx="196.5" cy="100.1" r="5.8"/><circle cx="195.8" cy="104.1" r="3.3"/><circle cx="219.2" cy="113.6" r="5.8"/><circle cx="93.6" cy="48.0" r="5.7"/><circle cx="95.8" cy="44.0" r="3.1"/><circle cx="248.4" cy="169.0" r="5.6"/><circle cx="280.3" cy="87.1" r="5.6"/><circle cx="77.9" cy="135.4" r="5.6"/><circle cx="77.8" cy="131.3" r="3.9"/><circle cx="78.3" cy="207.6" r="5.4"/><circle cx="80.7" cy="203.9" r="3.9"/><circle cx="215.2" cy="215.9" r="5.3"/><circle cx="84.4" cy="97.6" r="5.3"/><circle cx="167.3" cy="36.8" r="5.2"/><circle cx="171.0" cy="35.0" r="4.2"/><circle cx="113.3" cy="240.3" r="5.2"/><circle cx="113.7" cy="236.9" r="3.3"/><circle cx="1.9" cy="111.3" r="5.0"/><circle cx="260.6" cy="115.6" r="5.0"/><circle cx="257.7" cy="112.5" r="4.2"/><circle cx="128.0" cy="37.1" r="5.0"/><circle cx="1.4" cy="66.2" r="4.9"/><circle cx="260.7" cy="182.7" r="4.8"/><circle cx="114.2" cy="131.6" r="4.8"/><circle cx="278.7" cy="145.0" r="4.8"/><circle cx="278.8" cy="149.3" r="2.8"/><circle cx="193.5" cy="171.8" r="4.7"/><circle cx="312.6" cy="128.1" r="4.7"/><circle cx="115.7" cy="107.8" r="4.6"/><circle cx="116.3" cy="111.7" r="3.7"/><circle cx="5.5" cy="154.1" r="4.6"/><circle cx="197.9" cy="261.8" r="4.6"/><circle cx="289.1" cy="62.3" r="4.5"/><circle cx="127.7" cy="143.8" r="4.5"/><circle cx="32.5" cy="226.5" r="4.3"/><circle cx="27.2" cy="113.2" r="4.3"/><circle cx="118.8" cy="172.0" r="4.1"/><circle cx="177.2" cy="222.8" r="4.1"/><circle cx="-5.9" cy="222.4" r="4.0"/><circle cx="109.1" cy="3.5" r="4.0"/><circle cx="224.5" cy="148.5" r="4.0"/><circle cx="6.2" cy="-5.0" r="3.9"/><circle cx="49.7" cy="245.0" r="3.8"/><circle cx="50.8" cy="248.2" r="2.6"/><circle cx="161.6" cy="53.0" r="3.7"/><circle cx="163.2" cy="50.6" r="2.0"/><circle cx="71.7" cy="186.7" r="3.7"/><circle cx="156.1" cy="-0.3" r="3.7"/><circle cx="158.8" cy="1.2" r="2.2"/><circle cx="206.8" cy="194.2" r="3.5"/><circle cx="208.6" cy="197.0" r="2.9"/><circle cx="236.3" cy="118.8" r="3.3"/><circle cx="237.8" cy="117.0" r="1.9"/><circle cx="148.1" cy="85.4" r="3.3"/><circle cx="65.3" cy="65.8" r="3.2"/><circle cx="177.6" cy="54.7" r="3.1"/><circle cx="24.6" cy="149.0" r="3.1"/><circle cx="27.1" cy="148.0" r="2.2"/><circle cx="90.9" cy="163.1" r="3.1"/><circle cx="202.8" cy="157.7" r="3.0"/><circle cx="20.0" cy="87.0" r="3.0"/><circle cx="22.1" cy="87.6" r="1.8"/><circle cx="144.7" cy="144.3" r="2.9"/><circle cx="144.8" cy="142.3" r="1.8"/><circle cx="262.7" cy="260.3" r="2.8"/><circle cx="312.0" cy="57.6" r="2.8"/><circle cx="133.6" cy="88.7" r="2.8"/><circle cx="250.4" cy="250.3" r="2.7"/><circle cx="251.9" cy="248.2" r="2.0"/><circle cx="89.0" cy="30.6" r="2.7"/><circle cx="285.7" cy="18.6" r="2.7"/><circle cx="223.8" cy="232.1" r="2.6"/><circle cx="224.7" cy="234.4" r="1.4"/><circle cx="19.6" cy="-0.4" r="2.6"/><circle cx="19.0" cy="1.2" r="1.7"/><circle cx="260.5" cy="89.9" r="2.5"/><circle cx="259.4" cy="151.3" r="2.5"/><circle cx="188.9" cy="122.2" r="2.4"/><circle cx="191.0" cy="122.9" r="1.7"/><circle cx="137.7" cy="74.3" r="2.4"/><circle cx="139.2" cy="72.9" r="1.6"/><circle cx="289.9" cy="262.2" r="2.4"/><circle cx="192.6" cy="81.6" r="2.4"/><circle cx="191.4" cy="83.3" r="1.7"/><circle cx="182.1" cy="68.6" r="2.3"/><circle cx="74.2" cy="116.4" r="2.3"/><circle cx="258.3" cy="133.7" r="2.3"/><circle cx="210.1" cy="90.8" r="2.2"/><circle cx="192.8" cy="-1.6" r="2.2"/><circle cx="194.9" cy="-1.9" r="1.3"/><circle cx="224.2" cy="129.8" r="2.2"/><circle cx="29.0" cy="21.0" r="2.2"/><circle cx="27.2" cy="21.5" r="1.3"/><circle cx="129.0" cy="212.0" r="2.2"/><circle cx="130.4" cy="212.2" r="1.8"/><circle cx="64.6" cy="246.9" r="2.2"/><circle cx="64.4" cy="245.7" r="1.1"/><circle cx="308.2" cy="-3.8" r="2.1"/><circle cx="155.2" cy="20.3" r="2.1"/><circle cx="94.8" cy="139.2" r="2.1"/><circle cx="156.2" cy="155.4" r="2.1"/><circle cx="277.6" cy="189.2" r="2.1"/><circle cx="275.9" cy="189.2" r="1.7"/><circle cx="150.4" cy="38.1" r="2.1"/><circle cx="151.9" cy="39.0" r="1.7"/><circle cx="311.4" cy="200.7" r="2.1"/><circle cx="310.9" cy="199.1" r="1.5"/><circle cx="-1.9" cy="172.8" r="2.0"/><circle cx="41.0" cy="116.5" r="2.0"/><circle cx="40.6" cy="115.1" r="1.0"/><circle cx="55.6" cy="10.6" r="2.0"/><circle cx="69.0" cy="15.2" r="2.0"/><circle cx="24.8" cy="32.0" r="2.0"/></g>
<ellipse cx="1599.6" cy="1793.4" rx="72" ry="18" transform="rotate(-8 1599.6 1793.4)"/>
<ellipse cx="1500.6" cy="1763.4" rx="16" ry="8"/>
<ellipse cx="1419.6" cy="1844.4" rx="21" ry="13"/>
<ellipse cx="1422.6" cy="1791.4" rx="17" ry="13"/>
<ellipse cx="1647.6" cy="1978.4" rx="24" ry="26"/>
<ellipse cx="1381.6" cy="1999.4" rx="14" ry="14"/>
<ellipse cx="1565.6" cy="1990.4" rx="12" ry="9"/>
<ellipse cx="1539.6" cy="1890.4" rx="14" ry="7"/>
<ellipse cx="1649.6" cy="1877.4" rx="10" ry="8"/>
<ellipse cx="1458.6" cy="1827.4" rx="7" ry="7"/>
<ellipse cx="1465.6" cy="1942.4" rx="9" ry="7"/>
<ellipse cx="1384.6" cy="1933.4" rx="8" ry="8"/>
</g>
</g>
<rect x="1368.7" y="1754.5" width="305.1" height="255.4" fill="none" stroke="#231815" stroke-width="2.2"/>
<g clip-path="url(#cl05)">
<rect x="1684" y="1753.4" width="307.3" height="257.6" filter="url(#tx05)"/>
<rect x="1684" y="1753.4" width="307.3" height="257.6" fill="url(#np05)"/>
<g filter="url(#ovblur)"><g transform="translate(1684 1753.4)"><ellipse cx="285" cy="20" rx="40" ry="30" fill="#5A2E8E" opacity="0.35"/><path d="M290,180 C280,200 285,230 300,250" fill="none" stroke="#C88FC8" stroke-width="8"/></g></g>
<g filter="url(#hf05)" fill="#EFEBF5">
<g transform="translate(1684 1753.4)"><circle cx="305.6" cy="152.3" r="10.0"/><circle cx="253.4" cy="214.7" r="10.0"/><circle cx="251.9" cy="220.6" r="5.7"/><circle cx="-4.0" cy="139.9" r="10.0"/><circle cx="241.8" cy="243.4" r="10.0"/><circle cx="22.4" cy="222.4" r="9.8"/><circle cx="15.1" cy="227.9" r="8.0"/><circle cx="312.6" cy="76.6" r="9.8"/><circle cx="79.3" cy="210.4" r="9.8"/><circle cx="66.9" cy="100.9" r="9.7"/><circle cx="71.9" cy="108.9" r="7.5"/><circle cx="264.8" cy="187.9" r="9.7"/><circle cx="198.5" cy="28.1" r="9.7"/><circle cx="175.1" cy="63.7" r="9.6"/><circle cx="143.8" cy="149.9" r="9.6"/><circle cx="143.2" cy="156.2" r="6.1"/><circle cx="267.5" cy="37.8" r="9.6"/><circle cx="124.9" cy="117.9" r="9.5"/><circle cx="120.9" cy="112.2" r="7.6"/><circle cx="308.2" cy="3.6" r="9.5"/><circle cx="88.3" cy="149.7" r="9.5"/><circle cx="121.0" cy="205.8" r="9.4"/><circle cx="158.7" cy="234.0" r="9.3"/><circle cx="229.1" cy="46.5" r="9.3"/><circle cx="85.8" cy="-4.3" r="9.2"/><circle cx="78.5" cy="-4.3" r="5.0"/><circle cx="111.9" cy="94.3" r="9.1"/><circle cx="44.2" cy="236.0" r="9.0"/><circle cx="240.3" cy="175.5" r="9.0"/><circle cx="47.0" cy="128.1" r="8.9"/><circle cx="52.6" cy="129.9" r="6.3"/><circle cx="105.2" cy="261.9" r="8.9"/><circle cx="105.1" cy="268.3" r="6.4"/><circle cx="52.4" cy="-2.3" r="8.8"/><circle cx="147.6" cy="9.4" r="8.8"/><circle cx="303.5" cy="186.2" r="8.8"/><circle cx="270.8" cy="-5.8" r="8.7"/><circle cx="266.6" cy="-10.4" r="5.2"/><circle cx="193.1" cy="-1.4" r="8.7"/><circle cx="120.4" cy="0.3" r="8.4"/><circle cx="125.4" cy="2.3" r="5.0"/><circle cx="110.0" cy="174.8" r="8.4"/><circle cx="171.9" cy="169.8" r="8.3"/><circle cx="144.7" cy="97.0" r="8.3"/><circle cx="146.5" cy="89.5" r="5.6"/><circle cx="52.7" cy="197.0" r="8.3"/><circle cx="48.9" cy="192.5" r="6.8"/><circle cx="-1.0" cy="200.1" r="8.3"/><circle cx="227.9" cy="210.1" r="8.3"/><circle cx="232.5" cy="215.9" r="5.7"/><circle cx="12.8" cy="248.7" r="8.2"/><circle cx="18.0" cy="243.7" r="4.6"/><circle cx="7.6" cy="79.7" r="8.1"/><circle cx="9.2" cy="73.2" r="5.5"/><circle cx="63.8" cy="165.0" r="8.1"/><circle cx="75.6" cy="254.0" r="8.1"/><circle cx="154.8" cy="39.6" r="8.1"/><circle cx="219.7" cy="139.2" r="8.0"/><circle cx="227.3" cy="137.8" r="4.5"/><circle cx="310.5" cy="121.9" r="8.0"/><circle cx="240.2" cy="17.1" r="7.9"/><circle cx="201.0" cy="215.1" r="7.9"/><circle cx="302.2" cy="252.5" r="7.8"/><circle cx="61.5" cy="31.6" r="7.8"/><circle cx="276.2" cy="249.4" r="7.8"/><circle cx="206.9" cy="240.8" r="7.8"/><circle cx="201.2" cy="243.9" r="4.0"/><circle cx="277.8" cy="156.8" r="7.7"/><circle cx="83.5" cy="179.0" r="7.7"/><circle cx="37.8" cy="92.8" r="7.6"/><circle cx="305.8" cy="36.6" r="7.6"/><circle cx="92.7" cy="69.7" r="7.6"/><circle cx="98.9" cy="74.0" r="5.1"/><circle cx="143.0" cy="261.1" r="7.6"/><circle cx="146.2" cy="266.6" r="6.4"/><circle cx="126.7" cy="231.3" r="7.5"/><circle cx="116.8" cy="33.9" r="7.5"/><circle cx="149.3" cy="64.5" r="7.4"/><circle cx="146.6" cy="71.3" r="5.7"/><circle cx="135.6" cy="177.0" r="7.4"/><circle cx="131.6" cy="181.3" r="6.1"/><circle cx="13.7" cy="176.2" r="7.3"/><circle cx="20.7" cy="177.8" r="5.3"/><circle cx="234.8" cy="70.0" r="7.2"/><circle cx="74.2" cy="127.8" r="7.2"/><circle cx="211.4" cy="106.3" r="7.1"/><circle cx="179.9" cy="259.6" r="7.0"/><circle cx="177.1" cy="265.8" r="4.4"/><circle cx="284.8" cy="13.2" r="6.9"/><circle cx="117.2" cy="148.2" r="6.9"/><circle cx="111.9" cy="149.4" r="5.1"/><circle cx="217.5" cy="261.4" r="6.9"/><circle cx="169.7" cy="17.9" r="6.6"/><circle cx="254.4" cy="57.8" r="6.5"/><circle cx="184.9" cy="230.1" r="6.4"/><circle cx="187.4" cy="234.9" r="4.2"/><circle cx="202.7" cy="57.3" r="6.4"/><circle cx="212.9" cy="193.1" r="6.3"/><circle cx="188.6" cy="194.6" r="6.2"/><circle cx="191.5" cy="190.2" r="4.7"/><circle cx="177.2" cy="87.3" r="6.1"/><circle cx="163.3" cy="137.5" r="6.0"/><circle cx="158.9" cy="137.8" r="4.0"/><circle cx="-4.6" cy="45.6" r="6.0"/><circle cx="0.6" cy="47.8" r="4.5"/><circle cx="-4.2" cy="222.7" r="5.8"/><circle cx="-7.8" cy="220.0" r="3.9"/><circle cx="25.1" cy="198.0" r="5.6"/><circle cx="228.0" cy="-5.3" r="5.4"/><circle cx="226.5" cy="-8.8" r="3.4"/><circle cx="98.1" cy="114.1" r="5.4"/><circle cx="99.6" cy="109.4" r="3.8"/><circle cx="69.2" cy="233.3" r="5.3"/><circle cx="66.0" cy="231.2" r="3.1"/><circle cx="307.6" cy="231.9" r="5.0"/><circle cx="308.0" cy="227.7" r="2.9"/><circle cx="154.9" cy="114.4" r="5.0"/><circle cx="50.0" cy="259.9" r="4.9"/><circle cx="54.4" cy="260.6" r="2.5"/><circle cx="84.3" cy="43.7" r="4.9"/><circle cx="80.9" cy="46.9" r="3.7"/><circle cx="213.2" cy="9.4" r="4.6"/><circle cx="105.0" cy="130.0" r="4.6"/><circle cx="104.6" cy="132.9" r="3.2"/><circle cx="183.4" cy="144.3" r="4.6"/><circle cx="51.5" cy="148.6" r="4.4"/><circle cx="254.9" cy="154.3" r="4.2"/><circle cx="20.9" cy="131.8" r="4.1"/><circle cx="105.4" cy="52.6" r="4.1"/><circle cx="171.5" cy="-0.7" r="4.1"/><circle cx="171.0" cy="-3.9" r="2.9"/><circle cx="-2.2" cy="161.7" r="4.0"/><circle cx="151.7" cy="188.2" r="4.0"/><circle cx="150.1" cy="186.0" r="2.0"/><circle cx="40.7" cy="174.7" r="4.0"/><circle cx="37.9" cy="174.1" r="3.0"/><circle cx="-1.8" cy="62.7" r="3.8"/><circle cx="176.7" cy="40.6" r="3.6"/><circle cx="173.5" cy="40.7" r="2.9"/><circle cx="303.3" cy="100.4" r="3.6"/><circle cx="306.0" cy="98.6" r="2.7"/><circle cx="258.1" cy="257.3" r="3.6"/><circle cx="255.2" cy="257.6" r="2.2"/><circle cx="134.0" cy="23.2" r="3.5"/><circle cx="40.1" cy="75.1" r="3.4"/><circle cx="-2.8" cy="258.7" r="3.4"/><circle cx="-0.7" cy="258.3" r="2.3"/><circle cx="265.7" cy="16.0" r="3.3"/><circle cx="89.2" cy="92.2" r="3.3"/><circle cx="311.4" cy="208.7" r="3.3"/><circle cx="310.0" cy="206.6" r="2.8"/><circle cx="217.5" cy="69.3" r="3.3"/><circle cx="219.5" cy="67.0" r="1.7"/><circle cx="267.1" cy="233.9" r="3.3"/><circle cx="267.4" cy="231.5" r="2.5"/><circle cx="55.7" cy="216.1" r="3.1"/><circle cx="223.1" cy="161.4" r="3.0"/><circle cx="247.2" cy="37.2" r="3.0"/><circle cx="225.4" cy="87.2" r="3.0"/><circle cx="222.9" cy="88.3" r="2.4"/><circle cx="305.5" cy="57.8" r="3.0"/><circle cx="43.4" cy="43.0" r="3.0"/><circle cx="163.0" cy="253.9" r="2.9"/><circle cx="163.3" cy="251.9" r="2.1"/><circle cx="143.2" cy="213.8" r="2.9"/><circle cx="145.0" cy="214.8" r="2.4"/><circle cx="79.5" cy="30.0" r="2.8"/><circle cx="200.5" cy="143.6" r="2.8"/><circle cx="202.3" cy="142.5" r="1.9"/><circle cx="284.6" cy="185.2" r="2.8"/><circle cx="31.7" cy="254.0" r="2.8"/><circle cx="34.1" cy="254.1" r="2.0"/><circle cx="128.1" cy="161.6" r="2.8"/><circle cx="196.3" cy="254.9" r="2.7"/><circle cx="159.9" cy="80.6" r="2.7"/><circle cx="144.1" cy="124.4" r="2.7"/><circle cx="-5.3" cy="-3.0" r="2.7"/><circle cx="97.6" cy="197.9" r="2.7"/><circle cx="133.8" cy="38.6" r="2.6"/><circle cx="70.0" cy="12.0" r="2.6"/><circle cx="248.5" cy="-5.9" r="2.6"/><circle cx="246.3" cy="-5.0" r="2.2"/><circle cx="99.8" cy="39.8" r="2.5"/><circle cx="133.1" cy="77.0" r="2.5"/><circle cx="133.8" cy="78.4" r="1.4"/><circle cx="111.0" cy="73.2" r="2.5"/><circle cx="110.8" cy="71.3" r="2.1"/><circle cx="220.3" cy="24.3" r="2.5"/><circle cx="293.8" cy="134.7" r="2.5"/><circle cx="205.4" cy="125.9" r="2.5"/><circle cx="205.8" cy="128.1" r="1.4"/></g>
<ellipse cx="1704" cy="1770.4" rx="22" ry="17"/>
<ellipse cx="1705" cy="1811.4" rx="10" ry="10"/>
<ellipse cx="1698" cy="1860.4" rx="8" ry="14"/>
<ellipse cx="1746" cy="1818.4" rx="17" ry="11"/>
<ellipse cx="1780" cy="1775.4" rx="8" ry="9"/>
<ellipse cx="1945" cy="1865.4" rx="15" ry="45" transform="rotate(8 1945 1865.4)"/>
<ellipse cx="1969" cy="1815.4" rx="11" ry="9"/>
<ellipse cx="1864" cy="1870.4" rx="14" ry="12"/>
<ellipse cx="1885" cy="1835.4" rx="7" ry="8"/>
<ellipse cx="1883" cy="1918.4" rx="9" ry="11"/>
<ellipse cx="1973" cy="1971.4" rx="8" ry="15"/>
<ellipse cx="1784" cy="1985.4" rx="10" ry="11"/>
<ellipse cx="1711" cy="1908.4" rx="13" ry="6"/>
<ellipse cx="1847" cy="1958.4" rx="8" ry="8"/>
<ellipse cx="1809" cy="1815.4" rx="8" ry="7"/>
</g>
</g>
<rect x="1685.1" y="1754.5" width="305.1" height="255.4" fill="none" stroke="#231815" stroke-width="2.2"/>
<g clip-path="url(#cl10)">
<rect x="100.3" y="2026.6" width="307.3" height="257.6" filter="url(#tx10)"/>
<rect x="100.3" y="2026.6" width="307.3" height="257.6" fill="url(#np10)"/>
<g filter="url(#ovblur)"><g transform="translate(100.3 2026.6)"><path d="M0,50 C20,60 25,100 10,130" fill="none" stroke="#A8A8CF" stroke-width="14" opacity="0.4"/></g></g>
<g filter="url(#hf10)" fill="#F3F1F6">
<g transform="translate(100.3 2026.6)"><circle cx="191.1" cy="151.4" r="15.0"/><circle cx="177.0" cy="151.7" r="9.6"/><circle cx="119.0" cy="20.9" r="15.0"/><circle cx="116.5" cy="33.5" r="10.3"/><circle cx="-2.6" cy="63.0" r="15.0"/><circle cx="-9.1" cy="53.3" r="9.8"/><circle cx="18.0" cy="140.9" r="15.0"/><circle cx="4.8" cy="142.2" r="8.8"/><circle cx="89.7" cy="146.0" r="15.0"/><circle cx="103.3" cy="148.3" r="11.6"/><circle cx="172.4" cy="201.0" r="15.0"/><circle cx="258.3" cy="129.3" r="14.9"/><circle cx="168.5" cy="239.9" r="14.9"/><circle cx="180.0" cy="246.9" r="10.7"/><circle cx="80.2" cy="60.0" r="14.9"/><circle cx="72.8" cy="67.2" r="9.8"/><circle cx="67.9" cy="9.9" r="14.9"/><circle cx="289.0" cy="200.1" r="14.9"/><circle cx="287.8" cy="209.8" r="9.1"/><circle cx="193.9" cy="263.4" r="14.9"/><circle cx="307.6" cy="143.3" r="14.9"/><circle cx="304.5" cy="133.3" r="8.4"/><circle cx="287.5" cy="-4.4" r="14.9"/><circle cx="20.8" cy="104.5" r="14.9"/><circle cx="25.3" cy="117.0" r="9.6"/><circle cx="130.9" cy="172.5" r="14.9"/><circle cx="117.2" cy="175.1" r="12.5"/><circle cx="45.4" cy="80.2" r="14.9"/><circle cx="57.4" cy="85.5" r="11.2"/><circle cx="280.6" cy="241.4" r="14.9"/><circle cx="283.2" cy="252.1" r="7.8"/><circle cx="46.0" cy="164.8" r="14.9"/><circle cx="39.0" cy="175.1" r="11.5"/><circle cx="262.9" cy="166.9" r="14.9"/><circle cx="264.8" cy="177.8" r="9.0"/><circle cx="222.2" cy="10.4" r="14.8"/><circle cx="229.3" cy="18.2" r="11.1"/><circle cx="238.1" cy="246.2" r="14.8"/><circle cx="248.5" cy="247.3" r="7.5"/><circle cx="93.5" cy="191.7" r="14.8"/><circle cx="84.6" cy="188.7" r="9.4"/><circle cx="94.3" cy="251.7" r="14.8"/><circle cx="101.3" cy="263.0" r="10.5"/><circle cx="9.7" cy="181.2" r="14.8"/><circle cx="0.2" cy="184.8" r="9.9"/><circle cx="140.2" cy="262.5" r="14.8"/><circle cx="134.6" cy="270.7" r="10.0"/><circle cx="-4.3" cy="255.1" r="14.8"/><circle cx="-14.2" cy="256.7" r="8.1"/><circle cx="307.8" cy="104.5" r="14.8"/><circle cx="144.2" cy="-2.4" r="14.8"/><circle cx="154.1" cy="-3.1" r="12.0"/><circle cx="311.5" cy="259.9" r="14.7"/><circle cx="305.7" cy="269.9" r="11.7"/><circle cx="274.6" cy="98.3" r="14.7"/><circle cx="273.7" cy="89.2" r="12.1"/><circle cx="89.3" cy="93.8" r="14.6"/><circle cx="82.6" cy="87.7" r="7.8"/><circle cx="227.1" cy="141.0" r="14.6"/><circle cx="232.3" cy="151.3" r="11.0"/><circle cx="112.0" cy="52.8" r="14.4"/><circle cx="200.1" cy="231.3" r="14.0"/><circle cx="206.0" cy="219.1" r="7.1"/><circle cx="254.9" cy="11.8" r="13.9"/><circle cx="266.3" cy="16.6" r="10.6"/><circle cx="311.3" cy="175.9" r="13.7"/><circle cx="319.6" cy="169.9" r="6.9"/><circle cx="164.4" cy="168.9" r="13.6"/><circle cx="163.8" cy="156.6" r="9.9"/><circle cx="313.0" cy="16.1" r="13.3"/><circle cx="312.6" cy="228.0" r="13.1"/><circle cx="314.6" cy="216.2" r="11.1"/><circle cx="194.8" cy="181.4" r="12.3"/><circle cx="193.2" cy="173.4" r="7.1"/><circle cx="124.4" cy="142.3" r="12.2"/><circle cx="131.9" cy="144.4" r="10.2"/><circle cx="95.6" cy="-4.2" r="12.0"/><circle cx="151.7" cy="41.2" r="11.9"/><circle cx="154.6" cy="52.3" r="8.6"/><circle cx="90.8" cy="29.9" r="11.9"/><circle cx="82.9" cy="33.4" r="9.3"/><circle cx="180.3" cy="52.8" r="11.8"/><circle cx="184.0" cy="43.8" r="9.5"/><circle cx="239.2" cy="35.3" r="11.5"/><circle cx="249.1" cy="37.3" r="7.6"/><circle cx="-4.5" cy="121.0" r="11.2"/><circle cx="-8.5" cy="127.9" r="7.4"/><circle cx="261.5" cy="263.3" r="11.2"/><circle cx="251.6" cy="264.1" r="5.9"/><circle cx="140.6" cy="199.9" r="11.1"/><circle cx="53.3" cy="46.0" r="11.0"/><circle cx="104.7" cy="119.0" r="11.0"/><circle cx="105.3" cy="110.3" r="8.2"/><circle cx="-2.8" cy="207.2" r="10.9"/><circle cx="201.0" cy="37.0" r="10.6"/><circle cx="200.1" cy="44.0" r="6.5"/><circle cx="195.9" cy="-5.7" r="10.0"/><circle cx="197.6" cy="-14.0" r="8.3"/><circle cx="311.5" cy="76.3" r="9.6"/><circle cx="308.6" cy="71.0" r="6.0"/><circle cx="262.5" cy="218.2" r="9.5"/><circle cx="286.2" cy="125.0" r="9.5"/><circle cx="-5.5" cy="91.1" r="9.4"/><circle cx="-11.4" cy="93.7" r="7.4"/><circle cx="-4.6" cy="-2.7" r="9.3"/><circle cx="281.6" cy="147.3" r="9.1"/><circle cx="275.6" cy="148.4" r="7.5"/><circle cx="214.9" cy="164.9" r="8.6"/><circle cx="222.2" cy="164.9" r="7.3"/><circle cx="163.2" cy="142.9" r="8.6"/><circle cx="74.1" cy="169.3" r="8.3"/><circle cx="23.2" cy="66.8" r="8.3"/><circle cx="28.9" cy="64.6" r="4.5"/><circle cx="44.3" cy="-5.5" r="8.0"/><circle cx="191.1" cy="124.3" r="7.9"/><circle cx="184.0" cy="123.3" r="4.3"/><circle cx="288.9" cy="165.3" r="7.6"/><circle cx="288.3" cy="160.1" r="6.0"/><circle cx="106.2" cy="168.4" r="7.3"/><circle cx="111.1" cy="169.3" r="5.2"/><circle cx="263.7" cy="194.6" r="7.3"/><circle cx="267.3" cy="197.3" r="4.7"/><circle cx="145.3" cy="152.1" r="7.1"/><circle cx="149.8" cy="150.3" r="6.0"/><circle cx="-4.2" cy="158.7" r="7.0"/><circle cx="-11.0" cy="158.5" r="3.5"/><circle cx="119.0" cy="-5.5" r="6.9"/><circle cx="114.2" cy="-8.9" r="3.6"/><circle cx="-3.1" cy="230.5" r="6.9"/><circle cx="-6.7" cy="233.6" r="4.2"/><circle cx="147.4" cy="221.4" r="6.8"/><circle cx="237.9" cy="164.2" r="6.7"/><circle cx="239.7" cy="157.8" r="4.8"/><circle cx="117.8" cy="194.0" r="6.6"/><circle cx="111.8" cy="194.4" r="5.6"/><circle cx="294.0" cy="84.0" r="6.1"/><circle cx="195.9" cy="202.9" r="5.9"/><circle cx="313.1" cy="205.5" r="5.9"/><circle cx="309.7" cy="204.4" r="3.7"/><circle cx="70.3" cy="36.2" r="5.9"/><circle cx="215.5" cy="250.3" r="5.5"/><circle cx="215.7" cy="245.6" r="2.9"/><circle cx="91.3" cy="215.2" r="5.5"/><circle cx="200.6" cy="17.9" r="5.5"/><circle cx="106.0" cy="76.8" r="5.4"/><circle cx="109.2" cy="81.0" r="4.1"/><circle cx="134.4" cy="52.1" r="5.3"/><circle cx="138.3" cy="49.2" r="2.9"/><circle cx="16.4" cy="81.7" r="5.1"/><circle cx="17.1" cy="85.0" r="3.4"/><circle cx="116.7" cy="262.4" r="5.1"/><circle cx="118.9" cy="259.2" r="4.0"/><circle cx="63.8" cy="150.8" r="5.0"/><circle cx="61.0" cy="154.5" r="3.8"/><circle cx="150.1" cy="20.0" r="4.9"/><circle cx="144.6" cy="237.2" r="4.8"/><circle cx="146.4" cy="233.5" r="3.0"/><circle cx="33.6" cy="54.8" r="4.7"/><circle cx="37.3" cy="54.0" r="3.4"/><circle cx="17.0" cy="263.4" r="4.7"/><circle cx="13.4" cy="265.8" r="3.8"/><circle cx="63.5" cy="182.7" r="4.6"/><circle cx="169.1" cy="-5.4" r="4.6"/><circle cx="68.2" cy="83.1" r="4.5"/><circle cx="64.9" cy="84.4" r="2.5"/><circle cx="166.7" cy="263.1" r="4.5"/><circle cx="163.6" cy="263.6" r="2.8"/><circle cx="52.9" cy="25.7" r="4.4"/><circle cx="49.9" cy="26.6" r="2.9"/><circle cx="89.8" cy="229.3" r="4.4"/><circle cx="86.9" cy="232.6" r="3.4"/><circle cx="220.3" cy="40.2" r="4.4"/><circle cx="206.0" cy="128.8" r="4.3"/><circle cx="206.4" cy="131.7" r="2.9"/><circle cx="249.0" cy="227.3" r="4.3"/><circle cx="238.8" cy="-5.3" r="4.2"/><circle cx="32.2" cy="182.6" r="4.2"/><circle cx="35.9" cy="184.0" r="2.4"/><circle cx="42.1" cy="142.5" r="4.1"/><circle cx="282.6" cy="178.9" r="4.0"/><circle cx="286.1" cy="178.9" r="3.1"/><circle cx="117.8" cy="250.8" r="4.0"/><circle cx="-5.5" cy="142.3" r="3.9"/><circle cx="174.8" cy="132.3" r="3.9"/><circle cx="177.4" cy="132.4" r="2.9"/><circle cx="71.9" cy="263.5" r="3.9"/><circle cx="291.6" cy="17.3" r="3.8"/><circle cx="288.6" cy="16.7" r="2.0"/><circle cx="287.6" cy="262.1" r="3.8"/><circle cx="285.9" cy="265.0" r="2.1"/><circle cx="257.3" cy="235.9" r="3.6"/><circle cx="182.1" cy="222.0" r="3.5"/><circle cx="184.7" cy="220.2" r="2.8"/><circle cx="221.2" cy="262.8" r="3.4"/><circle cx="276.0" cy="14.7" r="3.4"/><circle cx="274.4" cy="13.3" r="2.4"/><circle cx="89.7" cy="168.1" r="3.4"/><circle cx="311.8" cy="38.2" r="3.3"/><circle cx="313.7" cy="40.6" r="2.7"/><circle cx="149.9" cy="184.7" r="3.3"/><circle cx="148.1" cy="185.6" r="2.0"/><circle cx="46.9" cy="8.7" r="3.2"/><circle cx="247.9" cy="149.3" r="3.2"/><circle cx="129.2" cy="40.1" r="3.2"/><circle cx="131.3" cy="40.8" r="1.7"/><circle cx="12.5" cy="-5.2" r="3.1"/><circle cx="10.0" cy="-4.4" r="2.6"/><circle cx="86.6" cy="121.8" r="3.1"/><circle cx="85.7" cy="123.5" r="2.0"/><circle cx="293.2" cy="220.9" r="3.1"/><circle cx="294.8" cy="222.5" r="2.0"/><circle cx="253.1" cy="109.2" r="3.1"/><circle cx="34.4" cy="127.9" r="3.0"/><circle cx="247.1" cy="52.5" r="3.0"/><circle cx="248.3" cy="54.0" r="1.9"/><circle cx="189.7" cy="213.3" r="3.0"/><circle cx="179.7" cy="-4.9" r="3.0"/><circle cx="178.0" cy="-3.2" r="2.2"/></g>
<ellipse cx="120.3" cy="2051.6" rx="25" ry="25"/>
<ellipse cx="250.3" cy="2121.6" rx="30" ry="45"/>
<ellipse cx="320.3" cy="2111.6" rx="48" ry="22"/>
<ellipse cx="145.3" cy="2251.6" rx="45" ry="30"/>
<ellipse cx="380.3" cy="2076.6" rx="25" ry="30"/>
<ellipse cx="160.3" cy="2146.6" rx="22" ry="20"/>
<ellipse cx="330.3" cy="2226.6" rx="25" ry="22"/>
<ellipse cx="220.3" cy="2251.6" rx="18" ry="18"/>
<ellipse cx="275.3" cy="2046.6" rx="20" ry="14"/>
</g>
</g>
<rect x="101.4" y="2027.7" width="305.1" height="255.4" fill="none" stroke="#231815" stroke-width="2.2"/>
<g clip-path="url(#cl11)">
<rect x="417.1" y="2026.6" width="307.3" height="257.6" filter="url(#tx11)"/>
<rect x="417.1" y="2026.6" width="307.3" height="257.6" fill="url(#np11)"/>
<g filter="url(#hf11)" fill="#F3F1F6">
<g transform="translate(417.1 2026.6)"><circle cx="30.8" cy="230.7" r="6.8"/><circle cx="24.2" cy="231.4" r="5.1"/><circle cx="282.1" cy="85.7" r="6.7"/><circle cx="68.8" cy="19.2" r="6.7"/><circle cx="73.3" cy="19.4" r="5.4"/><circle cx="232.7" cy="188.0" r="6.7"/><circle cx="228.3" cy="188.9" r="5.4"/><circle cx="73.5" cy="210.9" r="6.6"/><circle cx="248.3" cy="226.3" r="6.6"/><circle cx="209.3" cy="241.4" r="6.5"/><circle cx="67.3" cy="251.6" r="6.5"/><circle cx="66.9" cy="245.8" r="4.0"/><circle cx="74.7" cy="108.2" r="6.5"/><circle cx="94.7" cy="158.1" r="6.4"/><circle cx="302.8" cy="106.1" r="6.4"/><circle cx="308.5" cy="106.4" r="5.2"/><circle cx="137.5" cy="12.6" r="6.4"/><circle cx="287.0" cy="42.9" r="6.4"/><circle cx="284.1" cy="40.3" r="3.3"/><circle cx="60.2" cy="185.9" r="6.4"/><circle cx="139.8" cy="66.2" r="6.1"/><circle cx="294.4" cy="160.6" r="6.1"/><circle cx="206.8" cy="16.8" r="5.9"/><circle cx="216.4" cy="206.1" r="5.8"/><circle cx="213.7" cy="202.0" r="4.1"/><circle cx="13.0" cy="161.6" r="5.8"/><circle cx="101.8" cy="73.1" r="5.8"/><circle cx="276.3" cy="255.0" r="5.7"/><circle cx="131.3" cy="151.4" r="5.5"/><circle cx="4.8" cy="135.7" r="5.4"/><circle cx="5.0" cy="140.8" r="2.9"/><circle cx="-0.1" cy="230.3" r="5.4"/><circle cx="4.6" cy="107.1" r="5.2"/><circle cx="180.4" cy="221.6" r="5.1"/><circle cx="176.9" cy="219.3" r="3.1"/><circle cx="235.1" cy="21.8" r="5.0"/><circle cx="39.5" cy="14.6" r="5.0"/><circle cx="42.4" cy="17.5" r="3.8"/><circle cx="223.1" cy="100.4" r="4.9"/><circle cx="182.3" cy="29.9" r="4.9"/><circle cx="177.6" cy="29.9" r="3.5"/><circle cx="175.1" cy="9.3" r="4.9"/><circle cx="260.1" cy="162.8" r="4.9"/><circle cx="264.0" cy="162.6" r="3.0"/><circle cx="48.6" cy="38.6" r="4.9"/><circle cx="283.6" cy="197.9" r="4.9"/><circle cx="278.3" cy="13.8" r="4.7"/><circle cx="281.3" cy="16.8" r="2.9"/><circle cx="253.4" cy="0.9" r="4.6"/><circle cx="250.4" cy="0.1" r="2.9"/><circle cx="63.6" cy="133.6" r="4.6"/><circle cx="306.8" cy="189.2" r="4.6"/><circle cx="33.5" cy="262.8" r="4.4"/><circle cx="36.6" cy="265.8" r="3.2"/><circle cx="254.8" cy="57.2" r="4.4"/><circle cx="251.5" cy="56.5" r="2.6"/><circle cx="74.4" cy="-5.6" r="4.4"/><circle cx="265.4" cy="212.0" r="4.3"/><circle cx="45.7" cy="247.0" r="4.2"/><circle cx="199.7" cy="106.5" r="4.1"/><circle cx="305.9" cy="235.1" r="4.1"/><circle cx="255.1" cy="28.0" r="4.0"/><circle cx="245.1" cy="122.3" r="3.9"/><circle cx="246.9" cy="120.1" r="2.9"/><circle cx="174.2" cy="263.1" r="3.8"/><circle cx="175.4" cy="241.8" r="3.8"/><circle cx="172.8" cy="241.8" r="2.6"/><circle cx="205.5" cy="189.6" r="3.7"/><circle cx="128.7" cy="85.6" r="3.7"/><circle cx="206.0" cy="39.6" r="3.7"/><circle cx="208.5" cy="37.5" r="2.0"/><circle cx="54.5" cy="82.9" r="3.7"/><circle cx="89.2" cy="9.8" r="3.7"/><circle cx="228.5" cy="142.0" r="3.6"/><circle cx="225.0" cy="224.6" r="3.6"/><circle cx="307.7" cy="261.8" r="3.5"/><circle cx="309.2" cy="258.9" r="1.8"/><circle cx="198.7" cy="-3.4" r="3.2"/><circle cx="140.7" cy="134.2" r="3.2"/><circle cx="143.6" cy="132.7" r="2.3"/><circle cx="164.8" cy="149.1" r="3.2"/><circle cx="137.4" cy="183.7" r="3.2"/><circle cx="288.4" cy="128.2" r="3.1"/><circle cx="143.6" cy="211.7" r="3.1"/><circle cx="145.5" cy="214.0" r="1.7"/><circle cx="228.4" cy="254.5" r="3.1"/><circle cx="267.3" cy="131.2" r="3.0"/><circle cx="265.1" cy="129.7" r="1.8"/><circle cx="281.8" cy="231.1" r="2.9"/><circle cx="179.5" cy="116.7" r="2.9"/><circle cx="29.8" cy="34.3" r="2.9"/><circle cx="29.0" cy="31.8" r="2.4"/><circle cx="213.6" cy="86.1" r="2.8"/><circle cx="89.9" cy="258.6" r="2.8"/><circle cx="88.4" cy="260.2" r="1.6"/><circle cx="81.6" cy="72.3" r="2.8"/><circle cx="83.6" cy="71.2" r="1.8"/><circle cx="312.6" cy="37.0" r="2.8"/><circle cx="243.3" cy="162.5" r="2.8"/><circle cx="264.5" cy="112.7" r="2.8"/><circle cx="85.7" cy="179.1" r="2.7"/><circle cx="83.2" cy="179.6" r="1.6"/><circle cx="213.7" cy="165.4" r="2.7"/><circle cx="214.9" cy="167.8" r="1.7"/><circle cx="39.2" cy="146.2" r="2.7"/><circle cx="41.6" cy="145.7" r="1.7"/><circle cx="222.0" cy="35.1" r="2.7"/><circle cx="195.3" cy="207.3" r="2.6"/><circle cx="157.9" cy="228.4" r="2.6"/><circle cx="259.4" cy="190.3" r="2.6"/><circle cx="254.8" cy="257.2" r="2.5"/><circle cx="265.7" cy="241.4" r="2.5"/><circle cx="85.6" cy="140.0" r="2.5"/><circle cx="103.1" cy="48.7" r="2.4"/><circle cx="111.7" cy="167.5" r="2.4"/><circle cx="126.1" cy="48.3" r="2.4"/><circle cx="125.9" cy="46.7" r="1.9"/><circle cx="210.6" cy="263.1" r="2.3"/><circle cx="312.9" cy="138.9" r="2.3"/><circle cx="242.3" cy="44.0" r="2.3"/><circle cx="240.7" cy="44.8" r="1.7"/><circle cx="132.5" cy="-5.1" r="2.2"/><circle cx="311.4" cy="-2.3" r="2.2"/><circle cx="174.7" cy="136.8" r="2.2"/><circle cx="149.7" cy="259.2" r="2.2"/><circle cx="150.6" cy="258.1" r="1.7"/><circle cx="35.9" cy="169.9" r="2.2"/><circle cx="136.0" cy="104.9" r="2.2"/><circle cx="288.4" cy="-2.5" r="2.2"/><circle cx="250.5" cy="147.8" r="2.2"/><circle cx="72.6" cy="153.7" r="2.1"/><circle cx="224.8" cy="126.4" r="2.1"/><circle cx="-0.9" cy="38.9" r="2.1"/><circle cx="235.7" cy="3.9" r="2.1"/><circle cx="310.1" cy="211.5" r="2.1"/><circle cx="309.4" cy="210.0" r="1.6"/><circle cx="159.6" cy="134.5" r="2.1"/><circle cx="160.6" cy="133.4" r="1.7"/><circle cx="40.2" cy="73.0" r="2.1"/><circle cx="42.0" cy="72.8" r="1.3"/><circle cx="155.0" cy="122.3" r="2.1"/><circle cx="2.9" cy="254.3" r="2.1"/><circle cx="308.4" cy="77.2" r="2.1"/><circle cx="306.8" cy="76.0" r="1.2"/><circle cx="114.9" cy="8.1" r="2.0"/><circle cx="114.1" cy="6.5" r="1.1"/><circle cx="269.2" cy="45.2" r="2.0"/><circle cx="267.8" cy="44.8" r="1.3"/><circle cx="310.5" cy="13.4" r="2.0"/><circle cx="310.0" cy="15.0" r="1.3"/><circle cx="313.1" cy="170.4" r="2.0"/><circle cx="314.2" cy="169.9" r="1.4"/><circle cx="236.9" cy="80.6" r="2.0"/><circle cx="235.8" cy="81.7" r="1.0"/><circle cx="196.5" cy="162.9" r="2.0"/><circle cx="57.0" cy="228.9" r="2.0"/><circle cx="92.4" cy="92.3" r="2.0"/></g>
<ellipse cx="580.1" cy="2119.6" rx="15" ry="18"/>
<ellipse cx="603.1" cy="2093.6" rx="19" ry="15"/>
<ellipse cx="577.1" cy="2069.6" rx="9" ry="10"/>
<ellipse cx="524.1" cy="2053.6" rx="7" ry="7"/>
<ellipse cx="479.1" cy="2086.6" rx="8" ry="7"/>
<ellipse cx="427.1" cy="2040.6" rx="7" ry="10"/>
<ellipse cx="427.1" cy="2091.6" rx="9" ry="13"/>
<ellipse cx="453.1" cy="2139.6" rx="13" ry="15"/>
<ellipse cx="522.1" cy="2146.6" rx="13" ry="15"/>
<ellipse cx="618.1" cy="2164.6" rx="11" ry="11"/>
<ellipse cx="591.1" cy="2210.6" rx="18" ry="13"/>
<ellipse cx="527.1" cy="2220.6" rx="11" ry="11"/>
<ellipse cx="432.1" cy="2220.6" rx="10" ry="14"/>
<ellipse cx="537.1" cy="2267.6" rx="19" ry="12"/>
<ellipse cx="510.1" cy="2260.6" rx="7" ry="7"/>
<ellipse cx="642.1" cy="2086.6" rx="9" ry="7"/>
<ellipse cx="670.1" cy="2115.6" rx="5" ry="5"/>
</g>
</g>
<rect x="418.2" y="2027.7" width="305.1" height="255.4" fill="none" stroke="#231815" stroke-width="2.2"/>
<g clip-path="url(#cl12)">
<rect x="734" y="2026.6" width="307.3" height="257.6" filter="url(#tx12)"/>
<rect x="734" y="2026.6" width="307.3" height="257.6" fill="url(#np12)"/>
<g filter="url(#hf12)" fill="#F3F1F6">
<g transform="translate(734 2026.6)"><circle cx="92.9" cy="26.6" r="11.0"/><circle cx="97.9" cy="20.9" r="5.8"/><circle cx="161.8" cy="64.5" r="11.0"/><circle cx="304.6" cy="110.5" r="11.0"/><circle cx="1.1" cy="171.5" r="11.0"/><circle cx="-8.0" cy="171.7" r="8.8"/><circle cx="236.6" cy="234.3" r="11.0"/><circle cx="229.1" cy="238.0" r="6.5"/><circle cx="113.3" cy="186.2" r="11.0"/><circle cx="285.8" cy="68.9" r="10.9"/><circle cx="277.0" cy="65.8" r="5.6"/><circle cx="237.8" cy="125.0" r="10.9"/><circle cx="168.6" cy="3.7" r="10.9"/><circle cx="189.7" cy="107.2" r="10.9"/><circle cx="189.6" cy="100.6" r="7.1"/><circle cx="105.5" cy="119.3" r="10.9"/><circle cx="159.5" cy="214.6" r="10.9"/><circle cx="158.2" cy="224.6" r="5.9"/><circle cx="50.4" cy="30.7" r="10.9"/><circle cx="181.6" cy="28.3" r="10.9"/><circle cx="178.1" cy="34.1" r="8.1"/><circle cx="6.6" cy="244.1" r="10.9"/><circle cx="7.5" cy="236.2" r="6.3"/><circle cx="75.0" cy="244.9" r="10.9"/><circle cx="303.2" cy="45.5" r="10.9"/><circle cx="40.6" cy="62.3" r="10.9"/><circle cx="80.9" cy="3.5" r="10.9"/><circle cx="78.6" cy="-3.1" r="9.2"/><circle cx="46.7" cy="233.7" r="10.9"/><circle cx="49.6" cy="225.6" r="9.1"/><circle cx="262.0" cy="255.9" r="10.9"/><circle cx="245.8" cy="170.5" r="10.9"/><circle cx="271.8" cy="152.8" r="10.9"/><circle cx="270.8" cy="160.2" r="9.0"/><circle cx="295.0" cy="241.9" r="10.8"/><circle cx="302.2" cy="242.1" r="7.8"/><circle cx="199.2" cy="201.7" r="10.8"/><circle cx="205.9" cy="193.4" r="8.6"/><circle cx="109.6" cy="78.8" r="10.8"/><circle cx="44.8" cy="-4.2" r="10.8"/><circle cx="38.7" cy="-9.9" r="5.9"/><circle cx="308.4" cy="-2.2" r="10.8"/><circle cx="68.5" cy="198.9" r="10.8"/><circle cx="66.0" cy="188.5" r="8.7"/><circle cx="244.7" cy="203.8" r="10.8"/><circle cx="86.5" cy="165.4" r="10.8"/><circle cx="77.2" cy="165.7" r="6.8"/><circle cx="182.9" cy="230.8" r="10.8"/><circle cx="162.9" cy="176.4" r="10.8"/><circle cx="154.3" cy="171.7" r="5.9"/><circle cx="-0.1" cy="208.3" r="10.8"/><circle cx="178.4" cy="260.4" r="10.8"/><circle cx="5.0" cy="22.2" r="10.8"/><circle cx="159.4" cy="101.7" r="10.8"/><circle cx="194.7" cy="69.4" r="10.8"/><circle cx="15.1" cy="-1.3" r="10.8"/><circle cx="135.6" cy="115.7" r="10.8"/><circle cx="220.1" cy="89.1" r="10.7"/><circle cx="117.5" cy="262.9" r="10.7"/><circle cx="119.5" cy="272.4" r="7.0"/><circle cx="305.7" cy="157.9" r="10.7"/><circle cx="37.3" cy="208.3" r="10.7"/><circle cx="135.1" cy="206.7" r="10.7"/><circle cx="137.9" cy="213.2" r="8.0"/><circle cx="134.5" cy="53.4" r="10.7"/><circle cx="132.1" cy="46.7" r="5.9"/><circle cx="-5.5" cy="70.6" r="10.7"/><circle cx="3.0" cy="66.7" r="5.8"/><circle cx="204.5" cy="247.9" r="10.7"/><circle cx="210.9" cy="241.8" r="7.0"/><circle cx="141.7" cy="81.2" r="10.7"/><circle cx="278.3" cy="127.4" r="10.7"/><circle cx="24.1" cy="186.1" r="10.7"/><circle cx="99.4" cy="212.9" r="10.7"/><circle cx="116.8" cy="144.2" r="10.7"/><circle cx="110.3" cy="151.7" r="5.8"/><circle cx="50.3" cy="258.6" r="10.7"/><circle cx="21.1" cy="45.0" r="10.7"/><circle cx="18.0" cy="37.9" r="8.5"/><circle cx="78.8" cy="87.0" r="10.7"/><circle cx="148.6" cy="263.1" r="10.6"/><circle cx="153.5" cy="28.1" r="10.6"/><circle cx="147.1" cy="31.1" r="5.4"/><circle cx="307.4" cy="85.6" r="10.5"/><circle cx="308.0" cy="95.4" r="5.9"/><circle cx="106.0" cy="-5.3" r="10.5"/><circle cx="101.4" cy="3.6" r="5.5"/><circle cx="233.0" cy="262.5" r="10.5"/><circle cx="230.8" cy="268.9" r="5.3"/><circle cx="136.4" cy="-1.9" r="10.5"/><circle cx="266.6" cy="229.0" r="10.4"/><circle cx="216.7" cy="183.2" r="10.4"/><circle cx="198.7" cy="-5.4" r="10.3"/><circle cx="138.0" cy="176.6" r="10.2"/><circle cx="214.4" cy="116.3" r="10.2"/><circle cx="100.7" cy="243.8" r="10.2"/><circle cx="216.3" cy="218.7" r="10.2"/><circle cx="213.9" cy="209.9" r="8.5"/><circle cx="188.4" cy="177.5" r="10.0"/><circle cx="63.6" cy="51.3" r="10.0"/><circle cx="67.6" cy="57.2" r="7.7"/><circle cx="-3.7" cy="45.2" r="10.0"/><circle cx="-2.8" cy="38.0" r="7.5"/><circle cx="284.4" cy="94.1" r="10.0"/><circle cx="311.5" cy="262.6" r="9.9"/><circle cx="229.6" cy="149.2" r="9.9"/><circle cx="221.9" cy="144.4" r="5.1"/><circle cx="23.6" cy="262.7" r="9.8"/><circle cx="29.8" cy="268.1" r="8.1"/><circle cx="313.1" cy="224.6" r="9.5"/><circle cx="20.1" cy="78.4" r="9.5"/><circle cx="48.1" cy="185.4" r="9.0"/><circle cx="49.0" cy="192.1" r="6.9"/><circle cx="177.5" cy="128.3" r="8.9"/><circle cx="157.1" cy="238.9" r="8.6"/><circle cx="-3.8" cy="95.8" r="8.4"/><circle cx="310.6" cy="22.6" r="8.3"/><circle cx="74.3" cy="220.8" r="8.3"/><circle cx="175.4" cy="195.8" r="8.2"/><circle cx="180.8" cy="197.2" r="4.6"/><circle cx="21.6" cy="226.4" r="8.0"/><circle cx="16.1" cy="226.7" r="5.3"/><circle cx="30.3" cy="19.3" r="8.0"/><circle cx="308.9" cy="134.4" r="7.7"/><circle cx="92.3" cy="143.4" r="7.7"/><circle cx="92.4" cy="148.9" r="4.3"/><circle cx="174.7" cy="84.9" r="7.5"/><circle cx="175.2" cy="90.1" r="5.5"/><circle cx="255.9" cy="137.9" r="7.4"/><circle cx="252.2" cy="144.3" r="4.0"/><circle cx="60.3" cy="74.6" r="7.3"/><circle cx="62.3" cy="70.2" r="3.9"/><circle cx="122.1" cy="97.7" r="7.3"/><circle cx="118.9" cy="101.7" r="4.0"/><circle cx="194.5" cy="47.5" r="7.1"/><circle cx="200.2" cy="43.9" r="6.0"/><circle cx="113.2" cy="46.6" r="7.0"/><circle cx="285.0" cy="263.4" r="6.7"/><circle cx="289.6" cy="264.6" r="5.7"/><circle cx="66.6" cy="176.5" r="6.7"/><circle cx="72.6" cy="173.9" r="5.4"/><circle cx="90.3" cy="187.0" r="6.6"/><circle cx="87.4" cy="184.1" r="4.6"/><circle cx="287.0" cy="-6.0" r="6.6"/><circle cx="176.8" cy="159.1" r="6.4"/><circle cx="111.8" cy="164.8" r="6.4"/><circle cx="95.2" cy="263.6" r="6.2"/><circle cx="94.7" cy="267.9" r="5.3"/><circle cx="101.4" cy="98.2" r="6.1"/><circle cx="65.6" cy="16.8" r="6.0"/><circle cx="64.0" cy="12.7" r="4.8"/><circle cx="232.2" cy="104.9" r="5.4"/><circle cx="233.4" cy="108.6" r="3.5"/><circle cx="70.2" cy="33.6" r="5.3"/><circle cx="3.2" cy="263.4" r="5.3"/><circle cx="86.2" cy="106.5" r="5.3"/><circle cx="89.7" cy="104.9" r="3.3"/><circle cx="126.5" cy="161.2" r="5.1"/><circle cx="292.1" cy="142.6" r="5.0"/><circle cx="290.7" cy="146.5" r="4.2"/><circle cx="292.0" cy="8.7" r="5.0"/><circle cx="290.6" cy="11.8" r="3.4"/><circle cx="258.6" cy="119.0" r="4.9"/><circle cx="257.0" cy="116.4" r="3.2"/><circle cx="165.3" cy="43.4" r="4.8"/><circle cx="162.7" cy="47.4" r="2.6"/><circle cx="195.5" cy="13.1" r="4.8"/><circle cx="199.2" cy="11.9" r="3.6"/><circle cx="310.0" cy="65.4" r="4.7"/><circle cx="156.6" cy="194.5" r="4.7"/><circle cx="236.1" cy="77.8" r="4.6"/><circle cx="199.6" cy="89.1" r="4.6"/><circle cx="197.9" cy="91.5" r="3.3"/><circle cx="176.7" cy="49.2" r="4.4"/><circle cx="176.3" cy="46.2" r="2.9"/><circle cx="-4.9" cy="-3.5" r="4.3"/><circle cx="-4.9" cy="-6.7" r="2.2"/><circle cx="30.0" cy="244.7" r="4.2"/><circle cx="215.3" cy="70.6" r="4.2"/><circle cx="58.9" cy="216.3" r="4.1"/><circle cx="57.6" cy="213.6" r="3.5"/><circle cx="-1.6" cy="189.7" r="4.0"/><circle cx="-3.5" cy="186.3" r="2.6"/><circle cx="251.3" cy="152.2" r="4.0"/><circle cx="248.8" cy="149.2" r="2.2"/><circle cx="18.7" cy="207.4" r="4.0"/><circle cx="17.3" cy="210.0" r="2.5"/><circle cx="-5.9" cy="149.8" r="3.9"/><circle cx="-5.1" cy="146.3" r="2.0"/><circle cx="117.7" cy="213.8" r="3.9"/><circle cx="120.2" cy="212.6" r="3.3"/><circle cx="266.3" cy="73.2" r="3.8"/><circle cx="269.1" cy="72.7" r="3.2"/><circle cx="224.6" cy="201.4" r="3.8"/><circle cx="313.0" cy="175.8" r="3.8"/><circle cx="12.7" cy="62.3" r="3.8"/><circle cx="11.5" cy="64.4" r="2.6"/><circle cx="218.8" cy="165.1" r="3.8"/><circle cx="217.2" cy="162.8" r="2.9"/><circle cx="294.9" cy="27.0" r="3.7"/><circle cx="297.7" cy="25.3" r="2.0"/><circle cx="177.2" cy="211.4" r="3.7"/><circle cx="196.8" cy="125.7" r="3.7"/><circle cx="90.4" cy="229.2" r="3.6"/><circle cx="87.3" cy="229.6" r="2.4"/><circle cx="275.3" cy="109.4" r="3.5"/><circle cx="278.7" cy="108.4" r="2.3"/><circle cx="110.4" cy="228.6" r="3.5"/><circle cx="111.2" cy="226.3" r="2.3"/><circle cx="-3.7" cy="227.2" r="3.5"/><circle cx="-4.3" cy="224.4" r="1.9"/><circle cx="126.4" cy="69.9" r="3.5"/><circle cx="61.2" cy="3.4" r="3.4"/><circle cx="64.2" cy="1.7" r="2.4"/><circle cx="-5.8" cy="112.0" r="3.4"/><circle cx="200.8" cy="228.8" r="3.3"/><circle cx="89.2" cy="127.7" r="3.3"/><circle cx="47.6" cy="82.0" r="3.3"/><circle cx="50.4" cy="82.6" r="1.9"/><circle cx="234.5" cy="189.2" r="3.2"/><circle cx="117.7" cy="60.7" r="3.2"/><circle cx="115.6" cy="59.7" r="2.1"/><circle cx="286.4" cy="111.3" r="3.2"/><circle cx="252.5" cy="187.8" r="3.2"/><circle cx="218.3" cy="236.3" r="3.1"/><circle cx="219.0" cy="234.5" r="2.1"/><circle cx="157.0" cy="120.7" r="3.1"/><circle cx="160.0" cy="120.2" r="2.0"/><circle cx="312.3" cy="243.6" r="3.0"/><circle cx="198.0" cy="219.0" r="2.9"/><circle cx="199.5" cy="216.9" r="1.9"/><circle cx="277.6" cy="242.1" r="2.9"/><circle cx="280.4" cy="243.0" r="2.0"/><circle cx="245.4" cy="250.9" r="2.9"/><circle cx="242.9" cy="251.9" r="2.4"/><circle cx="106.0" cy="11.3" r="2.9"/><circle cx="122.4" cy="127.8" r="2.9"/><circle cx="250.0" cy="221.2" r="2.8"/><circle cx="151.0" cy="45.8" r="2.8"/><circle cx="150.3" cy="43.5" r="2.3"/><circle cx="149.2" cy="11.0" r="2.8"/><circle cx="148.8" cy="12.8" r="1.7"/><circle cx="44.6" cy="14.0" r="2.8"/><circle cx="178.2" cy="143.7" r="2.8"/><circle cx="179.5" cy="141.8" r="1.7"/><circle cx="140.5" cy="98.8" r="2.8"/><circle cx="139.9" cy="97.3" r="1.4"/><circle cx="258.8" cy="213.5" r="2.8"/><circle cx="23.2" cy="63.0" r="2.8"/><circle cx="24.6" cy="64.9" r="1.4"/><circle cx="6.0" cy="225.1" r="2.7"/><circle cx="73.6" cy="70.4" r="2.7"/><circle cx="213.5" cy="263.5" r="2.7"/><circle cx="213.1" cy="261.9" r="1.4"/><circle cx="146.5" cy="225.3" r="2.7"/><circle cx="147.9" cy="223.1" r="1.9"/><circle cx="78.3" cy="261.5" r="2.7"/><circle cx="222.6" cy="247.0" r="2.6"/><circle cx="222.1" cy="245.0" r="1.5"/><circle cx="263.1" cy="169.6" r="2.6"/><circle cx="264.6" cy="168.8" r="1.4"/><circle cx="114.8" cy="204.4" r="2.5"/><circle cx="116.9" cy="203.7" r="1.9"/><circle cx="172.7" cy="113.0" r="2.5"/><circle cx="173.7" cy="115.1" r="1.5"/><circle cx="37.6" cy="80.4" r="2.5"/><circle cx="37.6" cy="81.9" r="1.3"/><circle cx="219.9" cy="136.2" r="2.5"/><circle cx="218.5" cy="135.1" r="1.8"/></g>
<ellipse cx="979" cy="2054.6" rx="60" ry="24"/>
<ellipse cx="774" cy="2156.6" rx="30" ry="52" transform="rotate(-20 774 2156.6)"/>
<ellipse cx="1019" cy="2221.6" rx="20" ry="30"/>
<ellipse cx="859" cy="2051.6" rx="14" ry="12"/>
<ellipse cx="884" cy="2171.6" rx="16" ry="20"/>
<ellipse cx="934" cy="2176.6" rx="14" ry="16"/>
<ellipse cx="824" cy="2086.6" rx="12" ry="12"/>
<ellipse cx="989" cy="2121.6" rx="16" ry="14"/>
<ellipse cx="864" cy="2261.6" rx="14" ry="12"/>
</g>
</g>
<rect x="735.1" y="2027.7" width="305.1" height="255.4" fill="none" stroke="#231815" stroke-width="2.2"/>
<g clip-path="url(#cl13)">
<rect x="1050.5" y="2026.6" width="307.3" height="257.6" filter="url(#tx13)"/>
<rect x="1050.5" y="2026.6" width="307.3" height="257.6" fill="url(#np13)"/>
<g filter="url(#ovblur)"><g transform="translate(1050.5 2026.6)"><ellipse cx="223" cy="215" rx="30" ry="34" fill="none" stroke="#A4A3D2" stroke-width="16" opacity="0.45"/><ellipse cx="90" cy="55" rx="25" ry="22" fill="#9D9CCD" opacity="0.3"/></g></g>
<g filter="url(#hf13)" fill="#F3F1F6">
<g transform="translate(1050.5 2026.6)"><circle cx="154.3" cy="83.3" r="10.0"/><circle cx="154.6" cy="89.6" r="8.4"/><circle cx="222.1" cy="258.4" r="9.9"/><circle cx="174.4" cy="114.3" r="9.9"/><circle cx="285.9" cy="94.8" r="9.9"/><circle cx="293.8" cy="91.1" r="5.7"/><circle cx="58.4" cy="51.0" r="9.9"/><circle cx="225.5" cy="21.1" r="9.8"/><circle cx="224.1" cy="14.7" r="7.5"/><circle cx="67.9" cy="232.3" r="9.8"/><circle cx="101.7" cy="80.5" r="9.7"/><circle cx="109.7" cy="82.4" r="6.9"/><circle cx="11.9" cy="159.9" r="9.7"/><circle cx="310.6" cy="63.8" r="9.7"/><circle cx="286.4" cy="54.2" r="9.7"/><circle cx="281.0" cy="141.0" r="9.6"/><circle cx="303.2" cy="175.6" r="9.6"/><circle cx="79.5" cy="7.9" r="9.6"/><circle cx="56.6" cy="21.9" r="9.6"/><circle cx="137.0" cy="104.0" r="9.6"/><circle cx="131.5" cy="99.7" r="5.8"/><circle cx="133.9" cy="156.3" r="9.6"/><circle cx="136.9" cy="150.4" r="6.8"/><circle cx="191.2" cy="182.9" r="9.6"/><circle cx="18.4" cy="236.3" r="9.6"/><circle cx="46.0" cy="188.8" r="9.6"/><circle cx="134.8" cy="60.8" r="9.5"/><circle cx="34.6" cy="111.2" r="9.5"/><circle cx="8.4" cy="60.7" r="9.5"/><circle cx="78.8" cy="114.3" r="9.5"/><circle cx="147.4" cy="9.9" r="9.5"/><circle cx="259.5" cy="42.9" r="9.4"/><circle cx="66.4" cy="144.9" r="9.4"/><circle cx="80.4" cy="35.4" r="9.4"/><circle cx="88.9" cy="36.5" r="5.4"/><circle cx="108.9" cy="43.0" r="9.4"/><circle cx="78.4" cy="256.4" r="9.4"/><circle cx="312.4" cy="107.2" r="9.3"/><circle cx="221.0" cy="169.6" r="9.2"/><circle cx="223.2" cy="162.9" r="7.6"/><circle cx="260.3" cy="17.7" r="9.2"/><circle cx="272.8" cy="168.3" r="9.2"/><circle cx="12.0" cy="92.4" r="9.2"/><circle cx="11.2" cy="210.0" r="9.2"/><circle cx="306.4" cy="213.2" r="9.2"/><circle cx="195.6" cy="133.2" r="9.2"/><circle cx="150.8" cy="127.5" r="9.2"/><circle cx="133.6" cy="184.2" r="9.1"/><circle cx="109.6" cy="229.1" r="9.1"/><circle cx="114.0" cy="232.7" r="4.7"/><circle cx="303.9" cy="11.8" r="9.1"/><circle cx="29.1" cy="-2.5" r="9.1"/><circle cx="12.5" cy="131.7" r="9.1"/><circle cx="5.0" cy="130.6" r="5.0"/><circle cx="172.9" cy="4.7" r="9.1"/><circle cx="180.8" cy="8.7" r="5.6"/><circle cx="172.6" cy="163.1" r="9.1"/><circle cx="168.1" cy="168.5" r="5.5"/><circle cx="46.3" cy="261.3" r="9.0"/><circle cx="41.5" cy="256.0" r="5.0"/><circle cx="196.0" cy="252.6" r="9.0"/><circle cx="73.0" cy="195.3" r="9.0"/><circle cx="236.4" cy="73.6" r="9.0"/><circle cx="191.6" cy="33.9" r="9.0"/><circle cx="111.0" cy="3.4" r="9.0"/><circle cx="263.5" cy="72.8" r="9.0"/><circle cx="202.8" cy="90.0" r="9.0"/><circle cx="209.8" cy="89.6" r="5.4"/><circle cx="256.8" cy="231.0" r="8.9"/><circle cx="38.4" cy="216.2" r="8.9"/><circle cx="226.1" cy="138.7" r="8.9"/><circle cx="78.2" cy="169.0" r="8.8"/><circle cx="82.4" cy="176.3" r="6.4"/><circle cx="228.4" cy="111.4" r="8.8"/><circle cx="220.7" cy="108.0" r="7.5"/><circle cx="270.7" cy="253.4" r="8.8"/><circle cx="135.3" cy="34.9" r="8.8"/><circle cx="5.3" cy="12.9" r="8.8"/><circle cx="199.6" cy="11.6" r="8.7"/><circle cx="112.4" cy="170.6" r="8.7"/><circle cx="133.7" cy="255.2" r="8.7"/><circle cx="310.5" cy="141.0" r="8.7"/><circle cx="310.4" cy="133.1" r="5.0"/><circle cx="166.7" cy="29.4" r="8.7"/><circle cx="161.3" cy="23.1" r="6.9"/><circle cx="2.2" cy="260.2" r="8.7"/><circle cx="6.9" cy="254.1" r="5.9"/><circle cx="302.1" cy="262.7" r="8.6"/><circle cx="276.5" cy="208.0" r="8.6"/><circle cx="132.5" cy="219.2" r="8.6"/><circle cx="249.8" cy="100.3" r="8.6"/><circle cx="255.8" cy="97.1" r="7.2"/><circle cx="282.5" cy="-5.8" r="8.6"/><circle cx="231.4" cy="45.2" r="8.6"/><circle cx="233.6" cy="51.2" r="4.6"/><circle cx="-4.1" cy="180.5" r="8.6"/><circle cx="180.3" cy="208.8" r="8.5"/><circle cx="-5.4" cy="38.8" r="8.5"/><circle cx="20.7" cy="185.8" r="8.5"/><circle cx="106.2" cy="260.3" r="8.5"/><circle cx="102.1" cy="264.3" r="5.8"/><circle cx="246.5" cy="-3.0" r="8.5"/><circle cx="35.7" cy="161.1" r="8.5"/><circle cx="172.4" cy="56.5" r="8.5"/><circle cx="293.0" cy="238.4" r="8.4"/><circle cx="152.5" cy="209.1" r="8.3"/><circle cx="254.6" cy="185.6" r="8.3"/><circle cx="-4.4" cy="108.5" r="8.3"/><circle cx="-6.3" cy="102.9" r="6.7"/><circle cx="214.1" cy="-5.2" r="8.3"/><circle cx="220.9" cy="-6.8" r="4.8"/><circle cx="107.9" cy="107.4" r="8.2"/><circle cx="104.8" cy="102.3" r="6.3"/><circle cx="247.4" cy="260.0" r="8.2"/><circle cx="250.2" cy="253.3" r="5.5"/><circle cx="246.5" cy="155.9" r="7.9"/><circle cx="31.7" cy="75.0" r="7.8"/><circle cx="79.8" cy="62.1" r="7.8"/><circle cx="77.0" cy="66.4" r="6.0"/><circle cx="307.1" cy="39.7" r="7.6"/><circle cx="166.7" cy="184.9" r="7.6"/><circle cx="180.2" cy="78.7" r="7.6"/><circle cx="184.4" cy="82.1" r="3.8"/><circle cx="202.4" cy="226.4" r="7.6"/><circle cx="36.7" cy="137.4" r="7.5"/><circle cx="35.8" cy="143.5" r="5.1"/><circle cx="285.6" cy="25.2" r="7.3"/><circle cx="56.2" cy="122.8" r="7.2"/><circle cx="-2.9" cy="229.8" r="7.1"/><circle cx="-5.9" cy="223.9" r="5.2"/><circle cx="199.5" cy="157.8" r="7.0"/><circle cx="42.0" cy="238.2" r="6.9"/><circle cx="53.9" cy="-5.3" r="6.9"/><circle cx="87.5" cy="150.5" r="6.7"/><circle cx="92.1" cy="152.9" r="3.9"/><circle cx="102.9" cy="22.2" r="6.6"/><circle cx="274.6" cy="116.8" r="6.5"/><circle cx="236.8" cy="240.4" r="6.4"/><circle cx="239.1" cy="236.9" r="5.2"/><circle cx="-5.8" cy="143.1" r="6.4"/><circle cx="-3.4" cy="139.3" r="4.7"/><circle cx="82.7" cy="91.1" r="6.3"/><circle cx="86.8" cy="89.3" r="3.4"/><circle cx="171.2" cy="139.4" r="6.2"/><circle cx="176.3" cy="135.9" r="4.4"/><circle cx="123.8" cy="84.0" r="6.1"/><circle cx="121.9" cy="89.1" r="3.7"/><circle cx="208.1" cy="114.9" r="5.8"/><circle cx="212.4" cy="113.6" r="4.0"/><circle cx="84.7" cy="217.8" r="5.8"/><circle cx="86.4" cy="214.3" r="3.3"/><circle cx="289.7" cy="192.3" r="5.7"/><circle cx="218.9" cy="235.9" r="5.6"/><circle cx="222.9" cy="234.7" r="3.4"/><circle cx="56.4" cy="169.2" r="5.3"/><circle cx="131.2" cy="136.6" r="5.3"/><circle cx="310.9" cy="85.8" r="5.1"/><circle cx="154.6" cy="47.4" r="5.1"/><circle cx="291.7" cy="75.3" r="5.1"/><circle cx="120.1" cy="200.5" r="5.0"/><circle cx="115.3" cy="201.0" r="4.2"/><circle cx="-5.1" cy="83.8" r="4.9"/><circle cx="152.0" cy="170.7" r="4.9"/><circle cx="153.5" cy="149.4" r="4.8"/><circle cx="151.0" cy="153.5" r="3.8"/><circle cx="247.5" cy="210.6" r="4.8"/><circle cx="211.4" cy="43.2" r="4.8"/><circle cx="150.5" cy="263.5" r="4.7"/><circle cx="148.1" cy="260.0" r="3.3"/><circle cx="115.3" cy="65.3" r="4.6"/><circle cx="123.0" cy="20.7" r="4.6"/><circle cx="310.9" cy="233.1" r="4.6"/><circle cx="306.7" cy="234.1" r="2.8"/><circle cx="294.2" cy="156.1" r="4.6"/><circle cx="297.4" cy="124.3" r="4.6"/><circle cx="89.0" cy="238.6" r="4.5"/><circle cx="39.7" cy="91.1" r="4.4"/><circle cx="42.8" cy="90.5" r="3.4"/><circle cx="90.1" cy="131.5" r="4.3"/><circle cx="89.5" cy="135.2" r="3.5"/><circle cx="25.2" cy="255.3" r="4.1"/><circle cx="58.5" cy="211.8" r="4.1"/><circle cx="61.6" cy="213.4" r="2.7"/><circle cx="3.5" cy="-5.1" r="4.1"/><circle cx="4.7" cy="-2.5" r="3.2"/><circle cx="238.0" cy="176.0" r="4.1"/><circle cx="238.6" cy="179.3" r="2.6"/><circle cx="130.6" cy="-5.1" r="4.0"/><circle cx="131.0" cy="-2.4" r="2.5"/><circle cx="36.1" cy="16.1" r="3.9"/><circle cx="231.8" cy="91.2" r="3.9"/><circle cx="122.0" cy="121.6" r="3.8"/><circle cx="220.1" cy="83.5" r="3.8"/><circle cx="247.4" cy="59.0" r="3.8"/><circle cx="210.3" cy="187.5" r="3.6"/><circle cx="219.6" cy="58.4" r="3.6"/><circle cx="273.8" cy="187.1" r="3.6"/><circle cx="271.4" cy="185.4" r="3.0"/><circle cx="198.9" cy="202.4" r="3.6"/><circle cx="196.9" cy="199.5" r="2.8"/><circle cx="310.6" cy="-5.0" r="3.5"/><circle cx="183.1" cy="96.4" r="3.5"/><circle cx="312.7" cy="194.9" r="3.5"/><circle cx="315.5" cy="197.0" r="2.0"/><circle cx="59.7" cy="105.7" r="3.5"/><circle cx="156.0" cy="105.9" r="3.3"/><circle cx="154.5" cy="103.5" r="2.3"/><circle cx="91.8" cy="51.4" r="3.3"/><circle cx="92.0" cy="49.1" r="2.4"/><circle cx="48.7" cy="148.7" r="3.3"/><circle cx="97.8" cy="61.8" r="3.3"/><circle cx="94.6" cy="-4.6" r="3.3"/><circle cx="96.1" cy="-2.3" r="2.3"/><circle cx="31.3" cy="200.2" r="3.3"/><circle cx="311.9" cy="247.1" r="3.3"/><circle cx="313.3" cy="248.6" r="2.2"/><circle cx="-1.7" cy="197.6" r="3.2"/><circle cx="58.5" cy="248.8" r="3.2"/><circle cx="59.6" cy="246.0" r="1.6"/><circle cx="277.1" cy="228.7" r="3.1"/><circle cx="178.0" cy="262.4" r="3.1"/><circle cx="95.5" cy="177.7" r="3.1"/><circle cx="45.7" cy="65.0" r="3.1"/><circle cx="94.8" cy="164.3" r="3.1"/><circle cx="264.3" cy="-2.3" r="3.1"/><circle cx="266.9" cy="-3.7" r="1.8"/><circle cx="155.0" cy="64.7" r="3.0"/><circle cx="295.6" cy="111.4" r="3.0"/><circle cx="266.7" cy="94.1" r="3.0"/><circle cx="268.4" cy="95.7" r="2.2"/><circle cx="188.0" cy="-3.8" r="3.0"/><circle cx="188.2" cy="-1.1" r="2.4"/></g>
<ellipse cx="1213.5" cy="2266.6" rx="18" ry="14"/>
<ellipse cx="1273.5" cy="2234.6" rx="14" ry="16"/>
<ellipse cx="1080.5" cy="2066.6" rx="14" ry="12"/>
<ellipse cx="1110.5" cy="2111.6" rx="12" ry="11"/>
<ellipse cx="1160.5" cy="2166.6" rx="12" ry="10"/>
<ellipse cx="1250.5" cy="2086.6" rx="11" ry="9"/>
<ellipse cx="1305.5" cy="2156.6" rx="12" ry="10"/>
<ellipse cx="1150.5" cy="2226.6" rx="11" ry="9"/>
</g>
</g>
<rect x="1051.6" y="2027.7" width="305.1" height="255.4" fill="none" stroke="#231815" stroke-width="2.2"/>
<g clip-path="url(#cl14)">
<rect x="1367.6" y="2026.6" width="307.3" height="257.6" filter="url(#tx14)"/>
<rect x="1367.6" y="2026.6" width="307.3" height="257.6" fill="url(#np14)"/>
<g filter="url(#ovblur)"><g transform="translate(1367.6 2026.6)"><ellipse cx="170" cy="50" rx="55" ry="25" fill="#EFE9EA" opacity="0.4"/><ellipse cx="55" cy="30" rx="30" ry="35" fill="#C9A080" opacity="0.22"/></g></g>
<g filter="url(#hf14)" fill="#F3F1F6">
<g transform="translate(1367.6 2026.6)"><circle cx="50.1" cy="174.6" r="7.0"/><circle cx="52.6" cy="171.0" r="3.5"/><circle cx="203.6" cy="235.2" r="6.9"/><circle cx="138.2" cy="63.3" r="6.8"/><circle cx="303.5" cy="96.2" r="6.8"/><circle cx="88.8" cy="74.2" r="6.8"/><circle cx="277.0" cy="196.9" r="6.7"/><circle cx="279.0" cy="192.8" r="4.9"/><circle cx="19.4" cy="23.0" r="6.7"/><circle cx="154.5" cy="165.4" r="6.7"/><circle cx="146.9" cy="245.1" r="6.6"/><circle cx="165.2" cy="-5.0" r="6.6"/><circle cx="189.4" cy="15.1" r="6.6"/><circle cx="254.0" cy="95.9" r="6.5"/><circle cx="94.2" cy="12.9" r="6.4"/><circle cx="171.3" cy="229.6" r="6.3"/><circle cx="129.7" cy="-0.9" r="6.2"/><circle cx="73.6" cy="126.6" r="6.1"/><circle cx="101.3" cy="180.9" r="6.0"/><circle cx="118.5" cy="27.7" r="6.0"/><circle cx="140.9" cy="219.5" r="5.8"/><circle cx="14.6" cy="118.2" r="5.7"/><circle cx="62.2" cy="57.9" r="5.7"/><circle cx="191.3" cy="198.7" r="5.5"/><circle cx="191.6" cy="154.0" r="5.5"/><circle cx="189.7" cy="158.8" r="4.3"/><circle cx="251.2" cy="171.4" r="5.5"/><circle cx="255.2" cy="174.0" r="2.9"/><circle cx="169.6" cy="28.2" r="5.4"/><circle cx="166.0" cy="25.3" r="2.8"/><circle cx="140.8" cy="91.5" r="5.3"/><circle cx="136.7" cy="94.4" r="4.0"/><circle cx="213.4" cy="71.5" r="5.2"/><circle cx="214.7" cy="68.1" r="3.1"/><circle cx="3.5" cy="148.9" r="5.1"/><circle cx="0.6" cy="147.9" r="2.9"/><circle cx="1.8" cy="253.9" r="4.9"/><circle cx="40.3" cy="2.1" r="4.8"/><circle cx="205.4" cy="179.6" r="4.8"/><circle cx="204.3" cy="182.8" r="2.9"/><circle cx="240.9" cy="27.3" r="4.8"/><circle cx="237.8" cy="26.6" r="3.8"/><circle cx="230.6" cy="256.7" r="4.8"/><circle cx="301.3" cy="122.1" r="4.3"/><circle cx="301.9" cy="119.6" r="2.3"/><circle cx="75.0" cy="96.2" r="4.2"/><circle cx="92.8" cy="243.2" r="4.2"/><circle cx="94.3" cy="239.6" r="3.0"/><circle cx="241.4" cy="223.1" r="4.1"/><circle cx="99.1" cy="216.2" r="3.9"/><circle cx="266.7" cy="146.0" r="3.9"/><circle cx="298.6" cy="41.9" r="3.7"/><circle cx="248.4" cy="243.5" r="3.6"/><circle cx="96.0" cy="36.3" r="3.5"/><circle cx="97.0" cy="38.2" r="3.0"/><circle cx="59.0" cy="82.0" r="3.4"/><circle cx="75.7" cy="204.9" r="3.3"/><circle cx="307.5" cy="171.9" r="3.3"/><circle cx="309.4" cy="170.9" r="2.5"/><circle cx="-5.2" cy="207.9" r="3.3"/><circle cx="296.7" cy="152.2" r="3.2"/><circle cx="189.3" cy="65.1" r="3.1"/><circle cx="121.3" cy="259.1" r="3.1"/><circle cx="150.0" cy="140.6" r="3.1"/><circle cx="147.5" cy="141.0" r="2.2"/><circle cx="65.1" cy="35.8" r="3.0"/><circle cx="48.3" cy="126.7" r="3.0"/><circle cx="116.9" cy="75.1" r="2.9"/><circle cx="69.2" cy="4.9" r="2.8"/><circle cx="178.0" cy="168.3" r="2.7"/><circle cx="290.2" cy="-0.7" r="2.6"/><circle cx="290.9" cy="-2.6" r="1.8"/><circle cx="285.2" cy="72.0" r="2.6"/><circle cx="128.5" cy="118.5" r="2.6"/><circle cx="129.8" cy="119.4" r="1.3"/><circle cx="10.8" cy="170.8" r="2.6"/><circle cx="270.8" cy="114.4" r="2.6"/><circle cx="216.8" cy="201.9" r="2.6"/><circle cx="196.3" cy="128.9" r="2.5"/><circle cx="225.8" cy="183.8" r="2.5"/><circle cx="150.3" cy="36.7" r="2.4"/><circle cx="6.8" cy="5.7" r="2.4"/><circle cx="173.0" cy="259.2" r="2.3"/><circle cx="78.7" cy="221.4" r="2.3"/><circle cx="195.2" cy="89.4" r="2.3"/><circle cx="196.6" cy="88.6" r="1.7"/><circle cx="205.4" cy="110.3" r="2.3"/><circle cx="111.1" cy="232.0" r="2.3"/><circle cx="77.2" cy="152.3" r="2.3"/><circle cx="189.8" cy="41.0" r="2.3"/><circle cx="51.2" cy="207.6" r="2.3"/><circle cx="132.1" cy="161.4" r="2.2"/><circle cx="107.8" cy="57.0" r="2.2"/><circle cx="108.5" cy="58.3" r="1.2"/><circle cx="294.5" cy="57.5" r="2.2"/><circle cx="229.5" cy="92.0" r="2.2"/><circle cx="251.0" cy="196.1" r="2.2"/><circle cx="250.3" cy="198.1" r="1.6"/><circle cx="236.1" cy="49.2" r="2.1"/><circle cx="-5.6" cy="86.3" r="2.1"/><circle cx="208.8" cy="253.6" r="2.1"/><circle cx="208.3" cy="255.3" r="1.5"/><circle cx="281.6" cy="172.2" r="2.1"/><circle cx="215.3" cy="-4.1" r="2.1"/><circle cx="33.8" cy="161.9" r="2.1"/><circle cx="61.2" cy="196.1" r="2.1"/><circle cx="249.6" cy="138.2" r="2.1"/><circle cx="205.6" cy="214.4" r="2.1"/><circle cx="213.9" cy="163.7" r="2.1"/><circle cx="244.4" cy="-2.2" r="2.0"/><circle cx="151.5" cy="202.9" r="2.0"/><circle cx="152.6" cy="201.9" r="1.3"/><circle cx="114.3" cy="164.7" r="2.0"/><circle cx="256.7" cy="13.3" r="2.0"/><circle cx="39.1" cy="43.3" r="2.0"/><circle cx="88.3" cy="192.7" r="2.0"/><circle cx="121.6" cy="214.4" r="2.0"/><circle cx="310.3" cy="213.4" r="2.0"/><circle cx="278.3" cy="90.2" r="2.0"/><circle cx="278.0" cy="91.8" r="1.1"/><circle cx="160.2" cy="62.1" r="2.0"/><circle cx="267.5" cy="-1.9" r="2.0"/><circle cx="265.8" cy="-2.3" r="1.6"/><circle cx="238.4" cy="9.8" r="2.0"/><circle cx="237.0" cy="11.1" r="1.3"/></g>
<ellipse cx="1389.6" cy="2096.6" rx="21" ry="12"/>
<ellipse cx="1475.6" cy="2129.6" rx="11" ry="13"/>
<ellipse cx="1530.6" cy="2139.6" rx="12" ry="14"/>
<ellipse cx="1599.6" cy="2146.6" rx="10" ry="12"/>
<ellipse cx="1596.6" cy="2177.6" rx="9" ry="7"/>
<ellipse cx="1412.6" cy="2277.6" rx="26" ry="14"/>
<ellipse cx="1651.6" cy="2263.6" rx="19" ry="21"/>
<ellipse cx="1486.6" cy="2172.6" rx="7" ry="9"/>
<ellipse cx="1492.6" cy="2220.6" rx="6" ry="9"/>
<ellipse cx="1389.6" cy="2229.6" rx="6" ry="9"/>
<ellipse cx="1401.6" cy="2129.6" rx="5" ry="7"/>
<ellipse cx="1627.6" cy="2069.6" rx="5" ry="6"/>
<ellipse cx="1582.6" cy="2060.6" rx="4" ry="4"/>
<ellipse cx="1633.6" cy="2100.6" rx="3" ry="6"/>
</g>
</g>
<rect x="1368.7" y="2027.7" width="305.1" height="255.4" fill="none" stroke="#231815" stroke-width="2.2"/>
<g clip-path="url(#cl15)">
<rect x="1684" y="2026.6" width="307.3" height="257.6" filter="url(#tx15)"/>
<rect x="1684" y="2026.6" width="307.3" height="257.6" fill="url(#np15)"/>
<g filter="url(#hf15)" fill="#F3F1F6">
<g transform="translate(1684 2026.6)"><circle cx="188.3" cy="71.4" r="7.9"/><circle cx="191.7" cy="66.3" r="4.3"/><circle cx="293.2" cy="160.2" r="7.7"/><circle cx="298.8" cy="73.3" r="7.7"/><circle cx="186.7" cy="213.9" r="7.7"/><circle cx="184.3" cy="208.4" r="6.3"/><circle cx="268.8" cy="58.6" r="7.6"/><circle cx="154.2" cy="54.3" r="7.6"/><circle cx="236.9" cy="238.6" r="7.6"/><circle cx="65.1" cy="263.3" r="7.5"/><circle cx="172.8" cy="25.8" r="7.4"/><circle cx="118.5" cy="73.8" r="7.4"/><circle cx="124.3" cy="76.9" r="5.6"/><circle cx="176.1" cy="-3.6" r="7.4"/><circle cx="134.5" cy="37.9" r="7.4"/><circle cx="139.4" cy="41.2" r="4.6"/><circle cx="267.8" cy="125.4" r="7.3"/><circle cx="268.0" cy="17.4" r="7.3"/><circle cx="161.0" cy="184.0" r="7.2"/><circle cx="171.1" cy="251.4" r="7.1"/><circle cx="135.9" cy="253.6" r="7.1"/><circle cx="74.3" cy="230.2" r="7.0"/><circle cx="292.1" cy="-5.9" r="6.9"/><circle cx="27.0" cy="198.4" r="6.9"/><circle cx="240.6" cy="59.3" r="6.8"/><circle cx="217.6" cy="198.2" r="6.8"/><circle cx="165.4" cy="102.2" r="6.8"/><circle cx="159.7" cy="227.7" r="6.7"/><circle cx="53.4" cy="160.6" r="6.6"/><circle cx="306.2" cy="248.7" r="6.5"/><circle cx="303.3" cy="245.3" r="4.9"/><circle cx="145.5" cy="84.1" r="6.5"/><circle cx="64.2" cy="102.4" r="6.5"/><circle cx="46.4" cy="183.1" r="6.5"/><circle cx="-2.4" cy="85.5" r="6.4"/><circle cx="-4.8" cy="82.3" r="4.7"/><circle cx="67.7" cy="47.9" r="6.4"/><circle cx="311.2" cy="185.8" r="6.3"/><circle cx="267.9" cy="249.9" r="6.2"/><circle cx="142.4" cy="214.8" r="6.2"/><circle cx="138.3" cy="218.3" r="3.3"/><circle cx="134.0" cy="-1.0" r="6.2"/><circle cx="133.5" cy="3.5" r="4.2"/><circle cx="300.9" cy="25.3" r="6.1"/><circle cx="87.5" cy="204.9" r="6.1"/><circle cx="107.5" cy="224.9" r="6.0"/><circle cx="203.8" cy="-2.5" r="6.0"/><circle cx="198.4" cy="0.1" r="5.0"/><circle cx="253.9" cy="-5.7" r="5.9"/><circle cx="194.7" cy="40.7" r="5.9"/><circle cx="189.8" cy="37.6" r="3.1"/><circle cx="220.9" cy="49.6" r="5.9"/><circle cx="274.0" cy="101.0" r="5.8"/><circle cx="251.6" cy="31.9" r="5.8"/><circle cx="199.4" cy="263.5" r="5.8"/><circle cx="-0.1" cy="255.2" r="5.7"/><circle cx="286.4" cy="261.7" r="5.7"/><circle cx="288.1" cy="257.2" r="3.9"/><circle cx="253.7" cy="147.9" r="5.7"/><circle cx="209.7" cy="230.0" r="5.5"/><circle cx="303.1" cy="102.2" r="5.4"/><circle cx="251.0" cy="83.5" r="5.4"/><circle cx="264.8" cy="213.5" r="5.3"/><circle cx="90.7" cy="70.1" r="5.3"/><circle cx="88.7" cy="66.8" r="4.1"/><circle cx="269.3" cy="176.1" r="5.2"/><circle cx="37.4" cy="119.1" r="5.2"/><circle cx="42.3" cy="118.7" r="4.1"/><circle cx="247.3" cy="172.5" r="5.1"/><circle cx="246.2" cy="175.9" r="3.3"/><circle cx="40.7" cy="245.7" r="5.1"/><circle cx="59.6" cy="133.3" r="5.1"/><circle cx="311.8" cy="211.5" r="4.9"/><circle cx="309.2" cy="207.9" r="3.8"/><circle cx="109.2" cy="260.9" r="4.8"/><circle cx="104.5" cy="260.3" r="3.4"/><circle cx="6.9" cy="114.8" r="4.8"/><circle cx="7.3" cy="111.9" r="2.4"/><circle cx="101.5" cy="172.9" r="4.8"/><circle cx="67.8" cy="12.6" r="4.7"/><circle cx="308.8" cy="144.8" r="4.7"/><circle cx="226.5" cy="-5.0" r="4.6"/><circle cx="142.9" cy="153.5" r="4.5"/><circle cx="146.6" cy="152.7" r="3.8"/><circle cx="94.3" cy="244.1" r="4.5"/><circle cx="226.1" cy="256.4" r="4.5"/><circle cx="307.2" cy="53.8" r="4.4"/><circle cx="128.9" cy="99.1" r="4.2"/><circle cx="190.6" cy="242.5" r="4.2"/><circle cx="188.1" cy="242.6" r="3.5"/><circle cx="78.3" cy="152.1" r="4.2"/><circle cx="107.7" cy="53.5" r="4.2"/><circle cx="0.7" cy="201.6" r="4.2"/><circle cx="-2.3" cy="200.5" r="3.1"/><circle cx="153.0" cy="10.4" r="4.1"/><circle cx="43.9" cy="60.0" r="4.1"/><circle cx="40.6" cy="61.6" r="2.8"/><circle cx="97.5" cy="154.9" r="4.1"/><circle cx="98.8" cy="152.9" r="2.5"/><circle cx="217.8" cy="74.1" r="4.0"/><circle cx="233.6" cy="183.8" r="4.0"/><circle cx="25.0" cy="255.8" r="3.8"/><circle cx="209.4" cy="27.9" r="3.8"/><circle cx="59.3" cy="199.3" r="3.7"/><circle cx="56.7" cy="199.7" r="2.6"/><circle cx="138.1" cy="232.6" r="3.7"/><circle cx="270.5" cy="80.8" r="3.7"/><circle cx="272.3" cy="82.4" r="2.9"/><circle cx="146.7" cy="107.4" r="3.6"/><circle cx="143.4" cy="108.9" r="2.3"/><circle cx="282.7" cy="191.2" r="3.4"/><circle cx="125.0" cy="168.1" r="3.4"/><circle cx="71.6" cy="29.2" r="3.4"/><circle cx="84.3" cy="92.3" r="3.4"/><circle cx="245.1" cy="256.1" r="3.1"/><circle cx="61.2" cy="-4.3" r="3.0"/><circle cx="311.1" cy="230.6" r="2.8"/><circle cx="254.0" cy="110.7" r="2.8"/><circle cx="177.6" cy="196.3" r="2.6"/><circle cx="176.9" cy="194.5" r="1.6"/><circle cx="166.9" cy="209.1" r="2.6"/><circle cx="279.2" cy="42.6" r="2.5"/><circle cx="281.0" cy="41.8" r="1.7"/><circle cx="308.1" cy="8.5" r="2.4"/><circle cx="272.3" cy="149.4" r="2.4"/><circle cx="259.5" cy="194.9" r="2.3"/><circle cx="257.7" cy="231.7" r="2.3"/><circle cx="35.5" cy="230.7" r="2.2"/><circle cx="-3.5" cy="55.5" r="2.2"/><circle cx="143.7" cy="170.6" r="2.2"/><circle cx="176.3" cy="49.1" r="2.2"/><circle cx="106.2" cy="92.5" r="2.2"/><circle cx="129.5" cy="56.4" r="2.1"/><circle cx="128.5" cy="55.0" r="1.8"/><circle cx="86.6" cy="51.8" r="2.1"/><circle cx="87.1" cy="50.1" r="1.2"/><circle cx="74.5" cy="116.2" r="2.1"/><circle cx="167.5" cy="82.1" r="2.1"/><circle cx="273.5" cy="-4.8" r="2.0"/><circle cx="224.6" cy="215.2" r="2.0"/><circle cx="157.3" cy="34.5" r="2.0"/><circle cx="197.0" cy="91.2" r="2.0"/><circle cx="195.8" cy="92.3" r="1.4"/><circle cx="251.0" cy="16.0" r="2.0"/><circle cx="251.4" cy="17.5" r="1.4"/><circle cx="86.7" cy="258.1" r="2.0"/><circle cx="88.0" cy="258.4" r="1.3"/></g>
<ellipse cx="1709" cy="2048.6" rx="32" ry="25"/>
<ellipse cx="1787" cy="2044.6" rx="17" ry="20"/>
<ellipse cx="1879" cy="2171.6" rx="16" ry="50" transform="rotate(-5 1879 2171.6)"/>
<ellipse cx="1906" cy="2134.6" rx="22" ry="9" transform="rotate(5 1906 2134.6)"/>
<ellipse cx="1906" cy="2164.6" rx="20" ry="9"/>
<ellipse cx="1698" cy="2181.6" rx="17" ry="32"/>
<ellipse cx="1748" cy="2102.6" rx="12" ry="10"/>
<ellipse cx="1713" cy="2122.6" rx="5" ry="5"/>
<ellipse cx="1780" cy="2146.6" rx="11" ry="11"/>
<ellipse cx="1818" cy="2153.6" rx="8" ry="8"/>
<ellipse cx="1804" cy="2172.6" rx="8" ry="8"/>
<ellipse cx="1808" cy="2220.6" rx="14" ry="11"/>
<ellipse cx="1758" cy="2208.6" rx="8" ry="5"/>
<ellipse cx="1928" cy="2237.6" rx="5" ry="9"/>
<ellipse cx="1973" cy="2253.6" rx="10" ry="11"/>
<ellipse cx="1981" cy="2150.6" rx="5" ry="9"/>
<ellipse cx="1916" cy="2048.6" rx="9" ry="5"/>
<ellipse cx="1698" cy="2093.6" rx="5" ry="5"/>
<ellipse cx="1694" cy="2258.6" rx="8" ry="8"/>
<ellipse cx="1727" cy="2241.6" rx="6" ry="6"/>
</g>
<ellipse cx="1785" cy="2067.6" rx="11" ry="6" fill="#A9B2A4" transform="rotate(15 1785 2067.6)"/>
<circle cx="1768.5" cy="2079.1" r="5.5" fill="#1E1A1A"/>
</g>
<rect x="1685.1" y="2027.7" width="305.1" height="255.4" fill="none" stroke="#231815" stroke-width="2.2"/>
<rect x="113.8" y="1993.4" width="50.2" height="6.1" fill="#000"/>
<rect x="113.8" y="2268.2" width="50.2" height="6.1" fill="#000"/></svg>
</body></html>
